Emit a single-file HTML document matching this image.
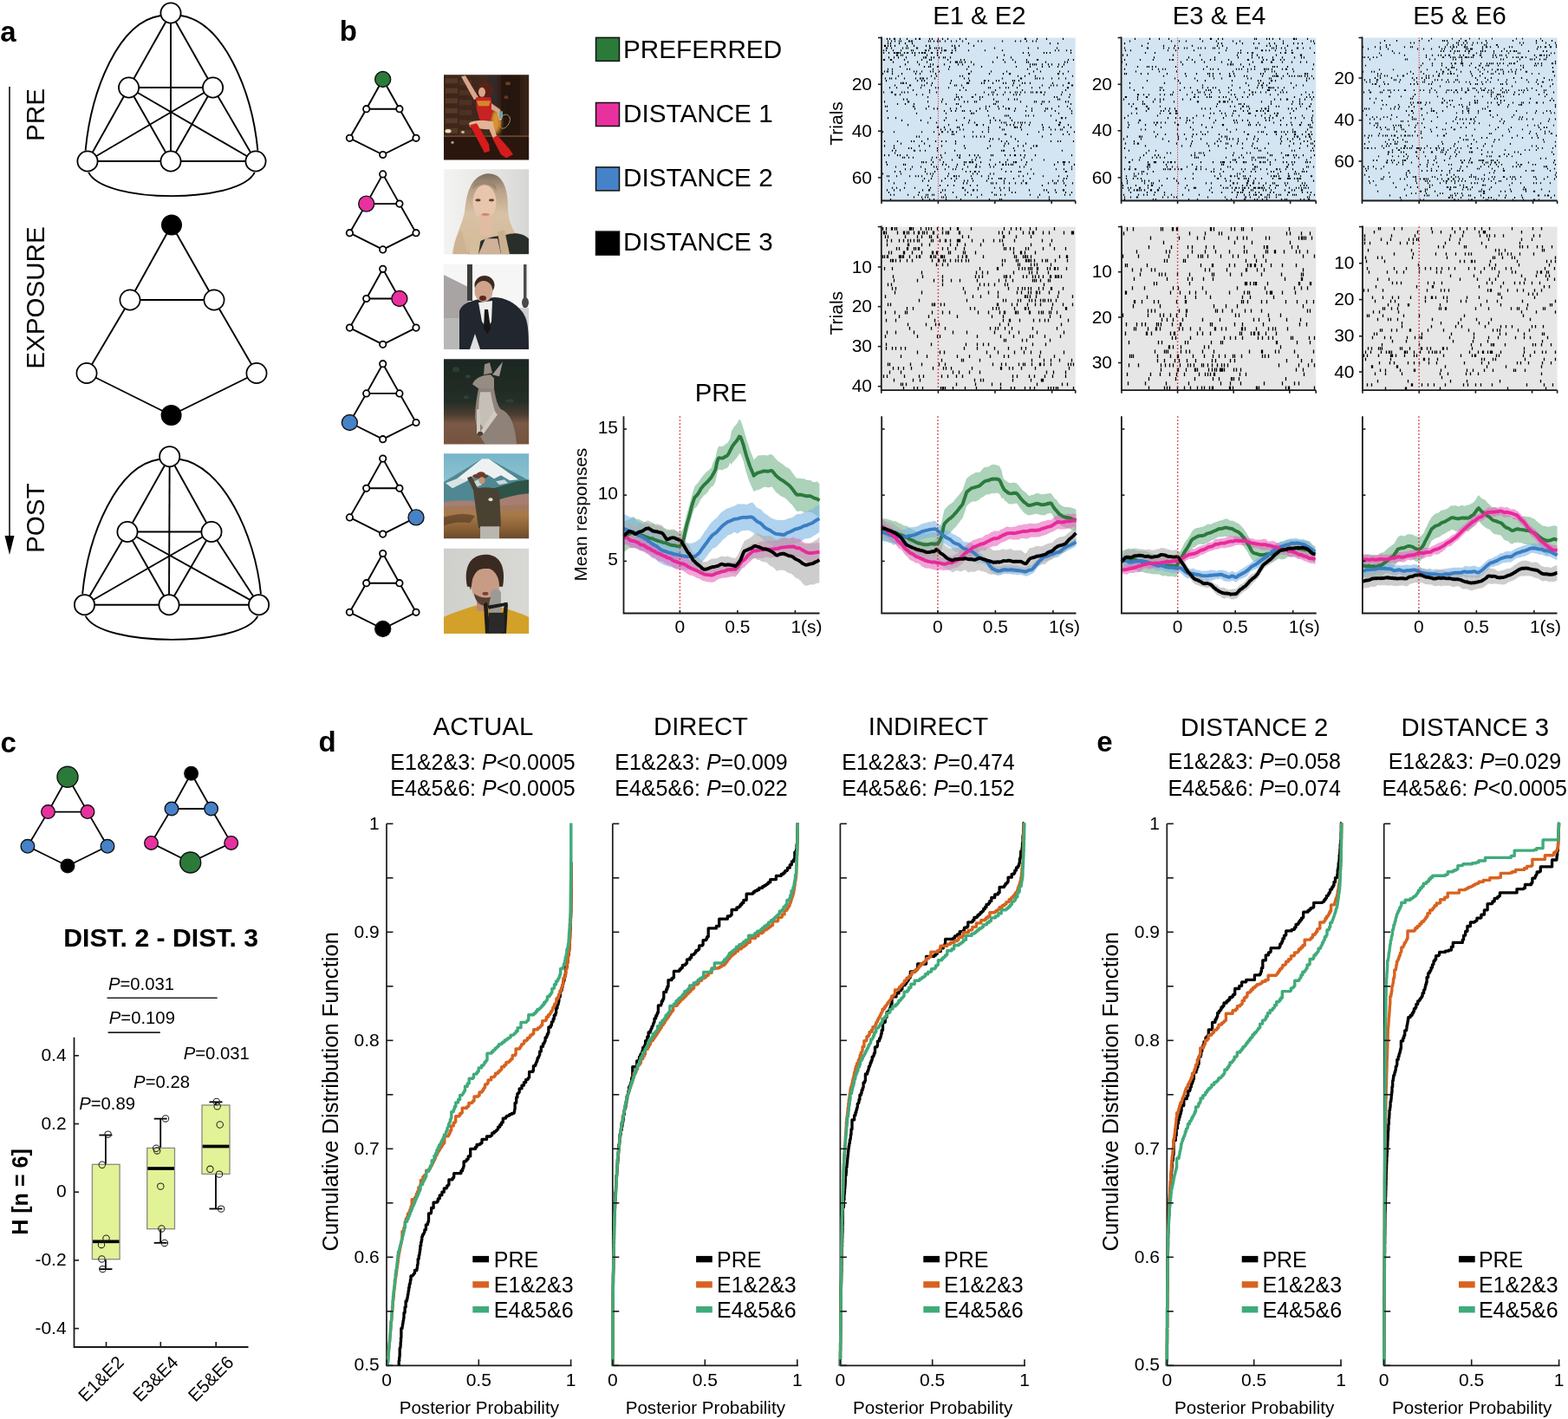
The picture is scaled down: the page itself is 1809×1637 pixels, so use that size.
<!DOCTYPE html>
<html><head><meta charset="utf-8"><title>Figure</title>
<style>html,body{margin:0;padding:0;background:#fff;overflow:hidden;}svg{display:block;}</style></head>
<body><svg width="1809" height="1637" viewBox="0 0 1809 1637" font-family='"Liberation Sans", Arial, Helvetica, sans-serif'>
<rect width="1809" height="1637" fill="#fff"/>
<text x="0.3" y="47.8" font-size="33" font-weight="bold">a</text>
<line x1="11" y1="100" x2="11" y2="622" stroke="#000" stroke-width="1.5" />
<polygon points="5.5,618 16.5,618 11,640" fill="#000"/>
<text x="51" y="132.5" font-size="29.6" text-anchor="middle" transform="rotate(-90 51 132.5)">PRE</text>
<text x="51" y="343.5" font-size="29.6" text-anchor="middle" transform="rotate(-90 51 343.5)">EXPOSURE</text>
<text x="51" y="597.8" font-size="29.6" text-anchor="middle" transform="rotate(-90 51 597.8)">POST</text>
<g stroke="#000" stroke-width="1.9" fill="none">
<line x1="197" y1="15" x2="148.6" y2="101"/>
<line x1="197" y1="15" x2="245.6" y2="101"/>
<line x1="197" y1="15" x2="197" y2="186"/>
<line x1="148.6" y1="101" x2="245.6" y2="101"/>
<line x1="148.6" y1="101" x2="101" y2="186"/>
<line x1="148.6" y1="101" x2="197" y2="186"/>
<line x1="148.6" y1="101" x2="295" y2="186"/>
<line x1="245.6" y1="101" x2="101" y2="186"/>
<line x1="245.6" y1="101" x2="197" y2="186"/>
<line x1="245.6" y1="101" x2="295" y2="186"/>
<line x1="101" y1="186" x2="197" y2="186"/>
<line x1="197" y1="186" x2="295" y2="186"/>
<path d="M185.5 18 C136.4 25 105.2 104.4 98.6 173.7"/>
<path d="M208.5 18 C257.6 25 290.8 104.4 297.4 173.7"/>
<path d="M102.2 198.9 C120 235.2 276 235.2 293.8 198.9"/>
</g>
<circle cx="197" cy="15" r="11.6" fill="#fff" stroke="#000" stroke-width="1.8"/>
<circle cx="148.6" cy="101" r="11.6" fill="#fff" stroke="#000" stroke-width="1.8"/>
<circle cx="245.6" cy="101" r="11.6" fill="#fff" stroke="#000" stroke-width="1.8"/>
<circle cx="101" cy="186" r="11.6" fill="#fff" stroke="#000" stroke-width="1.8"/>
<circle cx="197" cy="186" r="11.6" fill="#fff" stroke="#000" stroke-width="1.8"/>
<circle cx="295" cy="186" r="11.6" fill="#fff" stroke="#000" stroke-width="1.8"/>
<g stroke="#000" stroke-width="1.9">
<line x1="198" y1="259.5" x2="150" y2="346"/>
<line x1="198" y1="259.5" x2="247" y2="346"/>
<line x1="150" y1="346" x2="247" y2="346"/>
<line x1="150" y1="346" x2="100" y2="430.5"/>
<line x1="247" y1="346" x2="296" y2="430.5"/>
<line x1="100" y1="430.5" x2="197.6" y2="479"/>
<line x1="296" y1="430.5" x2="197.6" y2="479"/>
</g>
<circle cx="150" cy="346" r="11.6" fill="#fff" stroke="#000" stroke-width="1.7"/>
<circle cx="247" cy="346" r="11.6" fill="#fff" stroke="#000" stroke-width="1.7"/>
<circle cx="100" cy="430.5" r="11.6" fill="#fff" stroke="#000" stroke-width="1.7"/>
<circle cx="296" cy="430.5" r="11.6" fill="#fff" stroke="#000" stroke-width="1.7"/>
<circle cx="198" cy="259.5" r="12" fill="#000" stroke="#000" stroke-width="0"/>
<circle cx="197.6" cy="479" r="12" fill="#000" stroke="#000" stroke-width="0"/>
<g stroke="#000" stroke-width="1.9" fill="none">
<line x1="195.7" y1="526.7" x2="147" y2="613.5"/>
<line x1="195.7" y1="526.7" x2="244" y2="613.5"/>
<line x1="195.7" y1="526.7" x2="195" y2="697.7"/>
<line x1="147" y1="613.5" x2="244" y2="613.5"/>
<line x1="147" y1="613.5" x2="97.5" y2="697.7"/>
<line x1="147" y1="613.5" x2="195" y2="697.7"/>
<line x1="147" y1="613.5" x2="298.6" y2="697.7"/>
<line x1="244" y1="613.5" x2="97.5" y2="697.7"/>
<line x1="244" y1="613.5" x2="195" y2="697.7"/>
<line x1="244" y1="613.5" x2="298.6" y2="697.7"/>
<line x1="97.5" y1="697.7" x2="195" y2="697.7"/>
<line x1="195" y1="697.7" x2="298.6" y2="697.7"/>
<path d="M184.2 529.7 C135.1 536.7 101.7 616.1 95.1 685.4"/>
<path d="M207.2 529.7 C256.3 536.7 294.4 616.1 301 685.4"/>
<path d="M98.7 710.6 C116.5 746.9 279.6 746.9 297.4 710.6"/>
</g>
<circle cx="195.7" cy="526.7" r="11.6" fill="#fff" stroke="#000" stroke-width="1.8"/>
<circle cx="147" cy="613.5" r="11.6" fill="#fff" stroke="#000" stroke-width="1.8"/>
<circle cx="244" cy="613.5" r="11.6" fill="#fff" stroke="#000" stroke-width="1.8"/>
<circle cx="97.5" cy="697.7" r="11.6" fill="#fff" stroke="#000" stroke-width="1.8"/>
<circle cx="195" cy="697.7" r="11.6" fill="#fff" stroke="#000" stroke-width="1.8"/>
<circle cx="298.6" cy="697.7" r="11.6" fill="#fff" stroke="#000" stroke-width="1.8"/>
<text x="391.8" y="47.3" font-size="33" font-weight="bold">b</text>
<g stroke="#000" stroke-width="1.9">
<line x1="441.7" y1="91.5" x2="422.7" y2="125.7"/>
<line x1="441.7" y1="91.5" x2="460.9" y2="125.7"/>
<line x1="422.7" y1="125.7" x2="460.9" y2="125.7"/>
<line x1="422.7" y1="125.7" x2="403.4" y2="159.3"/>
<line x1="460.9" y1="125.7" x2="480" y2="159.3"/>
<line x1="403.4" y1="159.3" x2="441.7" y2="178.5"/>
<line x1="480" y1="159.3" x2="441.7" y2="178.5"/>
</g>
<circle cx="441.7" cy="91.5" r="9" fill="#2c7a3a" stroke="#111" stroke-width="1.4"/>
<circle cx="422.7" cy="125.7" r="3.7" fill="#fff" stroke="#000" stroke-width="1.8"/>
<circle cx="460.9" cy="125.7" r="3.7" fill="#fff" stroke="#000" stroke-width="1.8"/>
<circle cx="403.4" cy="159.3" r="3.7" fill="#fff" stroke="#000" stroke-width="1.8"/>
<circle cx="480" cy="159.3" r="3.7" fill="#fff" stroke="#000" stroke-width="1.8"/>
<circle cx="441.7" cy="178.5" r="3.7" fill="#fff" stroke="#000" stroke-width="1.8"/>
<g stroke="#000" stroke-width="1.9">
<line x1="441.7" y1="200.9" x2="422.7" y2="235.1"/>
<line x1="441.7" y1="200.9" x2="460.9" y2="235.1"/>
<line x1="422.7" y1="235.1" x2="460.9" y2="235.1"/>
<line x1="422.7" y1="235.1" x2="403.4" y2="268.7"/>
<line x1="460.9" y1="235.1" x2="480" y2="268.7"/>
<line x1="403.4" y1="268.7" x2="441.7" y2="287.9"/>
<line x1="480" y1="268.7" x2="441.7" y2="287.9"/>
</g>
<circle cx="441.7" cy="200.9" r="3.7" fill="#fff" stroke="#000" stroke-width="1.8"/>
<circle cx="422.7" cy="235.1" r="9" fill="#e8309f" stroke="#111" stroke-width="1.4"/>
<circle cx="460.9" cy="235.1" r="3.7" fill="#fff" stroke="#000" stroke-width="1.8"/>
<circle cx="403.4" cy="268.7" r="3.7" fill="#fff" stroke="#000" stroke-width="1.8"/>
<circle cx="480" cy="268.7" r="3.7" fill="#fff" stroke="#000" stroke-width="1.8"/>
<circle cx="441.7" cy="287.9" r="3.7" fill="#fff" stroke="#000" stroke-width="1.8"/>
<g stroke="#000" stroke-width="1.9">
<line x1="441.7" y1="310.3" x2="422.7" y2="344.5"/>
<line x1="441.7" y1="310.3" x2="460.9" y2="344.5"/>
<line x1="422.7" y1="344.5" x2="460.9" y2="344.5"/>
<line x1="422.7" y1="344.5" x2="403.4" y2="378.1"/>
<line x1="460.9" y1="344.5" x2="480" y2="378.1"/>
<line x1="403.4" y1="378.1" x2="441.7" y2="397.3"/>
<line x1="480" y1="378.1" x2="441.7" y2="397.3"/>
</g>
<circle cx="441.7" cy="310.3" r="3.7" fill="#fff" stroke="#000" stroke-width="1.8"/>
<circle cx="422.7" cy="344.5" r="3.7" fill="#fff" stroke="#000" stroke-width="1.8"/>
<circle cx="460.9" cy="344.5" r="9" fill="#e8309f" stroke="#111" stroke-width="1.4"/>
<circle cx="403.4" cy="378.1" r="3.7" fill="#fff" stroke="#000" stroke-width="1.8"/>
<circle cx="480" cy="378.1" r="3.7" fill="#fff" stroke="#000" stroke-width="1.8"/>
<circle cx="441.7" cy="397.3" r="3.7" fill="#fff" stroke="#000" stroke-width="1.8"/>
<g stroke="#000" stroke-width="1.9">
<line x1="441.7" y1="419.7" x2="422.7" y2="453.9"/>
<line x1="441.7" y1="419.7" x2="460.9" y2="453.9"/>
<line x1="422.7" y1="453.9" x2="460.9" y2="453.9"/>
<line x1="422.7" y1="453.9" x2="403.4" y2="487.5"/>
<line x1="460.9" y1="453.9" x2="480" y2="487.5"/>
<line x1="403.4" y1="487.5" x2="441.7" y2="506.7"/>
<line x1="480" y1="487.5" x2="441.7" y2="506.7"/>
</g>
<circle cx="441.7" cy="419.7" r="3.7" fill="#fff" stroke="#000" stroke-width="1.8"/>
<circle cx="422.7" cy="453.9" r="3.7" fill="#fff" stroke="#000" stroke-width="1.8"/>
<circle cx="460.9" cy="453.9" r="3.7" fill="#fff" stroke="#000" stroke-width="1.8"/>
<circle cx="403.4" cy="487.5" r="9" fill="#4682c8" stroke="#111" stroke-width="1.4"/>
<circle cx="480" cy="487.5" r="3.7" fill="#fff" stroke="#000" stroke-width="1.8"/>
<circle cx="441.7" cy="506.7" r="3.7" fill="#fff" stroke="#000" stroke-width="1.8"/>
<g stroke="#000" stroke-width="1.9">
<line x1="441.7" y1="529.1" x2="422.7" y2="563.3"/>
<line x1="441.7" y1="529.1" x2="460.9" y2="563.3"/>
<line x1="422.7" y1="563.3" x2="460.9" y2="563.3"/>
<line x1="422.7" y1="563.3" x2="403.4" y2="596.9"/>
<line x1="460.9" y1="563.3" x2="480" y2="596.9"/>
<line x1="403.4" y1="596.9" x2="441.7" y2="616.1"/>
<line x1="480" y1="596.9" x2="441.7" y2="616.1"/>
</g>
<circle cx="441.7" cy="529.1" r="3.7" fill="#fff" stroke="#000" stroke-width="1.8"/>
<circle cx="422.7" cy="563.3" r="3.7" fill="#fff" stroke="#000" stroke-width="1.8"/>
<circle cx="460.9" cy="563.3" r="3.7" fill="#fff" stroke="#000" stroke-width="1.8"/>
<circle cx="403.4" cy="596.9" r="3.7" fill="#fff" stroke="#000" stroke-width="1.8"/>
<circle cx="480" cy="596.9" r="9" fill="#4682c8" stroke="#111" stroke-width="1.4"/>
<circle cx="441.7" cy="616.1" r="3.7" fill="#fff" stroke="#000" stroke-width="1.8"/>
<g stroke="#000" stroke-width="1.9">
<line x1="441.7" y1="638.5" x2="422.7" y2="672.7"/>
<line x1="441.7" y1="638.5" x2="460.9" y2="672.7"/>
<line x1="422.7" y1="672.7" x2="460.9" y2="672.7"/>
<line x1="422.7" y1="672.7" x2="403.4" y2="706.3"/>
<line x1="460.9" y1="672.7" x2="480" y2="706.3"/>
<line x1="403.4" y1="706.3" x2="441.7" y2="725.5"/>
<line x1="480" y1="706.3" x2="441.7" y2="725.5"/>
</g>
<circle cx="441.7" cy="638.5" r="3.7" fill="#fff" stroke="#000" stroke-width="1.8"/>
<circle cx="422.7" cy="672.7" r="3.7" fill="#fff" stroke="#000" stroke-width="1.8"/>
<circle cx="460.9" cy="672.7" r="3.7" fill="#fff" stroke="#000" stroke-width="1.8"/>
<circle cx="403.4" cy="706.3" r="3.7" fill="#fff" stroke="#000" stroke-width="1.8"/>
<circle cx="480" cy="706.3" r="3.7" fill="#fff" stroke="#000" stroke-width="1.8"/>
<circle cx="441.7" cy="725.5" r="9" fill="#000" stroke="#111" stroke-width="1.4"/>
<rect x="687.5" y="43.4" width="27" height="27" fill="#2c7a3a" stroke="#111" stroke-width="1.5"/>
<text x="719" y="66.9" font-size="29.7">PREFERRED</text>
<rect x="687.5" y="118.5" width="27" height="27" fill="#e8309f" stroke="#111" stroke-width="1.5"/>
<text x="719" y="140.7" font-size="29.7">DISTANCE 1</text>
<rect x="687.5" y="192.9" width="27" height="27" fill="#4682c8" stroke="#111" stroke-width="1.5"/>
<text x="719" y="215.1" font-size="29.7">DISTANCE 2</text>
<rect x="687.5" y="267.1" width="27" height="27" fill="#000" stroke="#111" stroke-width="1.5"/>
<text x="719" y="289.2" font-size="29.7">DISTANCE 3</text>
<defs>
<clipPath id="phc"><rect x="0" y="0" width="98.2" height="98.2"/></clipPath>
<filter id="soft" x="-5%" y="-5%" width="110%" height="110%"><feGaussianBlur stdDeviation="0.7"/></filter>
<filter id="soft2" x="-20%" y="-20%" width="140%" height="140%"><feGaussianBlur stdDeviation="2.2"/></filter>
<linearGradient id="p1bg" x1="0" y1="0" x2="1" y2="0"><stop offset="0" stop-color="#3b2519"/><stop offset="0.5" stop-color="#43291c"/><stop offset="0.75" stop-color="#2a1a14"/><stop offset="1" stop-color="#3a2218"/></linearGradient>
<linearGradient id="p2bg" x1="0" y1="0" x2="1" y2="0"><stop offset="0" stop-color="#f4f4f2"/><stop offset="0.6" stop-color="#e4e4e2"/><stop offset="1" stop-color="#d6d6d4"/></linearGradient>
<linearGradient id="p2hair" x1="0" y1="0" x2="0" y2="1"><stop offset="0" stop-color="#7d6d5e"/><stop offset="0.2" stop-color="#b8a088"/><stop offset="0.5" stop-color="#d8c2a4"/><stop offset="1" stop-color="#d2b898"/></linearGradient>
<linearGradient id="p4bg" x1="0" y1="0" x2="0" y2="1"><stop offset="0" stop-color="#1d2721"/><stop offset="0.5" stop-color="#222e27"/><stop offset="0.64" stop-color="#4a3c30"/><stop offset="0.75" stop-color="#7a5a46"/><stop offset="1" stop-color="#74543f"/></linearGradient>
<linearGradient id="p5sky" x1="0" y1="0" x2="0" y2="1"><stop offset="0" stop-color="#74b4c8"/><stop offset="1" stop-color="#c4dde2"/></linearGradient>
<linearGradient id="p5gr" x1="0" y1="0" x2="0" y2="1"><stop offset="0" stop-color="#a07868"/><stop offset="0.3" stop-color="#a87a48"/><stop offset="0.7" stop-color="#8a6036"/><stop offset="1" stop-color="#6a4a2c"/></linearGradient>
<linearGradient id="p6bg" x1="0" y1="0" x2="1" y2="0"><stop offset="0" stop-color="#cfd0cc"/><stop offset="1" stop-color="#d8d8d4"/></linearGradient>
</defs>
<g transform="translate(512 86.3)"><g clip-path="url(#phc)"><g filter="url(#soft)"><rect x="-2" y="-2" width="102" height="102" fill="url(#p1bg)" /><rect x="2" y="4.0" width="14" height="6" fill="#5c3d2a" opacity="0.75"/><rect x="18" y="6.0" width="14" height="6" fill="#553626" opacity="0.7"/><rect x="2" y="15.5" width="14" height="6" fill="#5c3d2a" opacity="0.75"/><rect x="18" y="17.5" width="14" height="6" fill="#553626" opacity="0.7"/><rect x="2" y="27.0" width="14" height="6" fill="#5c3d2a" opacity="0.75"/><rect x="18" y="29.0" width="14" height="6" fill="#553626" opacity="0.7"/><rect x="2" y="38.5" width="14" height="6" fill="#5c3d2a" opacity="0.75"/><rect x="18" y="40.5" width="14" height="6" fill="#553626" opacity="0.7"/><rect x="2" y="50.0" width="14" height="6" fill="#5c3d2a" opacity="0.75"/><rect x="18" y="52.0" width="14" height="6" fill="#553626" opacity="0.7"/><rect x="2" y="61.5" width="14" height="6" fill="#5c3d2a" opacity="0.75"/><rect x="18" y="63.5" width="14" height="6" fill="#553626" opacity="0.7"/><rect x="52" y="0" width="10" height="40" fill="#2e2a30" opacity="0.8"/><rect x="66" y="0" width="22" height="70" fill="#22160f" opacity="0.7"/><ellipse cx="74" cy="10" rx="3" ry="2" fill="#8a5030" opacity="0.7"/><ellipse cx="72" cy="26" rx="2.5" ry="2" fill="#7a4428" opacity="0.7"/><rect x="-2" y="70" width="102" height="30" fill="#2c170e" /><rect x="-2" y="70" width="102" height="1.6" fill="#6e4a34" /><ellipse cx="5" cy="65" rx="3.5" ry="2.2" fill="#e8dcc0" /><ellipse cx="22" cy="66" rx="2" ry="1.6" fill="#c8b8a0" /><ellipse cx="10" cy="78" rx="1.6" ry="1.6" fill="#b0a090" /><g filter="url(#soft2)"><ellipse cx="60" cy="54" rx="6" ry="14" fill="#f0a030" opacity="0.9"/></g><path d="M20 2 L25 1 L40 26 L35 29 Z" fill="#d8a68a" /><ellipse cx="48" cy="18" rx="9" ry="9" fill="#5a2418" /><ellipse cx="44" cy="20" rx="4" ry="5.5" fill="#d8a88c" /><path d="M37 26 L54 26 L57 40 L54 52 L42 54 L38 40 Z" fill="#c82420" /><path d="M38 30 L54 30 L52 36 L40 36 Z" fill="#d8a030" opacity="0.8"/><path d="M55 33 L65 40 L67 52 L64 53 L61 43 L55 40 Z" fill="#d8a68a" /><rect x="64" y="42" width="4" height="8" fill="#6aa0b0" /><path d="M29 56 C32 52 46 52 57 54 L58 62 C50 64 36 62 30 60 Z" fill="#e2b496" /><path d="M30 58 L38 56 L52 80 L53 88 L47 90 Z" fill="#d41c1c" /><path d="M52 62 L58 60 L62 74 L58 76 Z" fill="#e0b090" /><path d="M56 73 L62 70 L76 86 L80 92 L72 96 L66 92 Z" fill="#d41c1c" /><path d="M66 48 c8 -6 14 2 8 10 c-6 8 -12 2 -8 -4" fill="none" stroke="#d0b070" stroke-width="0.8"/></g></g></g>
<g transform="translate(512 195.3)"><g clip-path="url(#phc)"><g filter="url(#soft)"><rect x="-2" y="-2" width="102" height="102" fill="url(#p2bg)" /><path d="M10 98 C12 80 20 66 24 50 C26 30 30 8 50 5 C70 4 74 26 74 44 C74 60 80 72 88 80 L88 98 Z" fill="url(#p2hair)" /><path d="M12 98 C10 86 16 76 20 70 L28 98 Z" fill="#cdb391" /><path d="M28 98 C32 84 50 78 70 76 C82 72 92 74 98 80 L98 98 Z" fill="#2c2e2a" /><path d="M40 98 L48 80 L62 80 L66 98 Z" fill="#e2c0a6" opacity="0.9"/><path d="M28 98 L36 70 L44 72 L40 98 Z" fill="#d6be9c" /><path d="M66 98 L62 72 L70 70 L76 98 Z" fill="#cbb090" /><ellipse cx="47" cy="38" rx="13.5" ry="20" fill="#e8c6ae" /><rect x="41" y="52" width="14" height="24" fill="#e2bca2" /><path d="M33 24 C38 14 56 14 61 26 L60 20 C56 10 38 10 34 20 Z" fill="#9a8670" /><ellipse cx="39.5" cy="35.5" rx="3" ry="1.6" fill="#5a4034" /><ellipse cx="55" cy="35.5" rx="3" ry="1.6" fill="#5a4034" /><ellipse cx="48" cy="52" rx="4.5" ry="1.6" fill="#c88a7c" /></g></g></g>
<g transform="translate(512 305)"><g clip-path="url(#phc)"><g filter="url(#soft)"><rect x="-2" y="-2" width="102" height="102" fill="#f6f6f6" /><path d="M0 12 L28 26 L32 98 L0 98 Z" fill="#a8a4a4" /><rect x="0" y="62" width="30" height="36" fill="#b8b8b8" /><rect x="27" y="0" width="6" height="42" fill="#3e3c3a" /><rect x="92" y="0" width="3.5" height="62" fill="#4e4e4e" /><ellipse cx="94" cy="44" rx="4" ry="6" fill="#4a4a4a" /><rect x="80" y="50" width="18" height="48" fill="#d0d0d0" /><path d="M18 98 L18 54 C20 46 30 42 42 40 L58 38 C70 38 82 44 90 54 C96 62 98 70 98 98 Z" fill="#22252e" /><path d="M40 44 L56 42 L55 66 L50 74 L44 66 Z" fill="#efefef" /><path d="M47 52 L51 52 L54 74 L50 80 L46 74 Z" fill="#151515" /><ellipse cx="47" cy="24" rx="11.5" ry="11" fill="#3a2c24" /><ellipse cx="46" cy="31" rx="10.5" ry="12" fill="#d0a48c" /><ellipse cx="45" cy="39" rx="4" ry="3" fill="#5e2820" /><path d="M30 98 L36 80 L42 98 Z" fill="#e0e0e0" /></g></g></g>
<g transform="translate(512 414.2)"><g clip-path="url(#phc)"><g filter="url(#soft)"><rect x="-2" y="-2" width="102" height="102" fill="url(#p4bg)" /><ellipse cx="14" cy="12" rx="4" ry="3" fill="#3a4a40" opacity="0.6"/><ellipse cx="28" cy="20" rx="3" ry="2" fill="#3e4e44" opacity="0.6"/><ellipse cx="26" cy="44" rx="3" ry="2" fill="#3e4e44" opacity="0.6"/><ellipse cx="76" cy="48" rx="5" ry="2" fill="#3a4a40" opacity="0.6"/><path d="M46 18 L47 6 L53 4 L56 16 Z" fill="#948a82" /><path d="M56 18 L68 3 L64 20 Z" fill="#a29a92" /><path d="M33 29 C36 22 44 18 54 18 L58 22 L58 36 L48 36 L40 34 Z" fill="#958c84" /><path d="M40 34 L58 34 C60 46 62 54 66 58 C76 62 82 74 84 98 L48 98 C42 92 38 80 36 68 C36 56 38 44 40 34 Z" fill="#8e8279" /><path d="M42 38 L54 38 C56 50 58 58 60 62 L46 80 L40 72 C40 60 40 48 42 38 Z" fill="#c6bfb7" /><path d="M38 58 L42 58 L42 86 L38 86 Z" fill="#d0c8c0" /><path d="M58 60 L62 64 L46 86 L42 84 Z" fill="#d2cac2" /><ellipse cx="42" cy="86" rx="3" ry="2.5" fill="#4a3e36" /></g></g></g>
<g transform="translate(512 523.3)"><g clip-path="url(#phc)"><g filter="url(#soft)"><rect x="-2" y="-2" width="102" height="102" fill="url(#p5sky)" /><path d="M-2 34 L44 6 L52 6 L100 32 L100 98 L-2 98 Z" fill="#4f8892" /><path d="M14 30 L44 6 L52 6 L86 30 L76 31 L66 25 L58 29 L50 24 L42 30 L32 27 L24 33 Z" fill="#eef1f2" /><path d="M2 34 L18 28 L28 31 L10 40 Z" fill="#d8e4e6" /><path d="M30 34 L40 30 L44 36 L34 40 Z" fill="#c8d8dc" /><path d="M60 32 L70 30 L74 34 L64 36 Z" fill="#c8d8dc" /><path d="M58 40 L84 32 L100 30 L100 56 L58 56 Z" fill="#2f5246" /><path d="M-2 56 C20 52 40 56 60 54 C75 50 88 46 100 46 L100 62 L-2 64 Z" fill="#a67e72" /><path d="M-2 62 C30 58 60 62 100 58 L100 98 L-2 98 Z" fill="url(#p5gr)" /><path d="M-2 74 C12 70 24 68 36 72 L30 80 C18 78 8 80 -2 84 Z" fill="#5a3e28" opacity="0.7"/><path d="M34 42 C40 38 56 38 64 42 L66 84 L40 86 Z" fill="#4a4232" /><path d="M34 42 L27 28 L32 26 L40 42 Z" fill="#4a4232" /><rect x="42" y="84" width="22" height="16" fill="#b8b6ae" /><ellipse cx="42" cy="26" rx="9" ry="3" fill="#6a3e2a" /><ellipse cx="43" cy="24" rx="5" ry="3" fill="#6a3e2a" /><ellipse cx="44" cy="31" rx="3.5" ry="4" fill="#c49474" /><ellipse cx="54" cy="53" rx="2.5" ry="2" fill="#e0e0d8" /></g></g></g>
<g transform="translate(512 632.8)"><g clip-path="url(#phc)"><g filter="url(#soft)"><rect x="-2" y="-2" width="102" height="102" fill="url(#p6bg)" /><path d="M-2 80 C10 74 24 70 36 66 L60 66 C74 70 88 74 100 80 L100 100 L-2 100 Z" fill="#d3a12a" /><rect x="38" y="56" width="20" height="16" fill="#b88a70" /><path d="M27 44 C22 20 32 6 50 7 C64 8 72 20 68 44 Z" fill="#3a2a20" /><ellipse cx="48" cy="43" rx="16" ry="21" fill="#c89c84" /><path d="M31 30 C36 22 60 20 66 30 L64 22 C56 14 40 14 32 22 Z" fill="#3a2a20" /><path d="M27 36 L31 48 L33 34 Z" fill="#3a2a20" /><path d="M66 30 L68 42 L64 36 Z" fill="#3a2a20" /><path d="M35 52 C36 62 44 68 52 66 L54 56 C48 58 40 56 35 52 Z" fill="#5a4032" /><ellipse cx="48" cy="52" rx="3.5" ry="2" fill="#7a4036" /><rect x="54" y="47" width="12" height="30" fill="#9a9a96" rx="5"/><path d="M46 64 L50 62 L54 98 L48 98 Z" fill="#1c1c1c" /><path d="M70 62 L74 64 L72 98 L66 98 Z" fill="#1c1c1c" /><rect x="52" y="74" width="18" height="24" fill="#2a2a2a" /><path d="M50 66 L74 62 L72 66 L52 70 Z" fill="#1c1c1c" /></g></g></g>
<rect x="1017" y="43.5" width="223.7" height="188" fill="#d3e5f2"/>
<path d="M1023.5 43.8v2.1M1023.5 43.8v2.1M1026.5 43.8v2.1M1031.5 43.8v2.1M1032.5 43.8v2.1M1038.5 43.8v2.1M1046.5 43.8v2.1M1056.5 43.8v2.1M1060.5 43.8v2.1M1061.5 43.8v2.1M1072.5 43.8v2.1M1075.5 43.8v2.1M1082.5 43.8v2.1M1087.5 43.8v2.1M1087.5 43.8v2.1M1093.5 43.8v2.1M1107.5 43.8v2.1M1114.5 43.8v2.1M1182.5 43.8v2.1M1183.5 43.8v2.1M1196.5 43.8v2.1M1207.5 43.8v2.1M1226.5 43.8v2.1M1024.5 46.5v2.1M1028.5 46.5v2.1M1032.5 46.5v2.1M1037.5 46.5v2.1M1039.5 46.5v2.1M1048.5 46.5v2.1M1049.5 46.5v2.1M1051.5 46.5v2.1M1052.5 46.5v2.1M1071.5 46.5v2.1M1073.5 46.5v2.1M1077.5 46.5v2.1M1081.5 46.5v2.1M1082.5 46.5v2.1M1084.5 46.5v2.1M1090.5 46.5v2.1M1097.5 46.5v2.1M1103.5 46.5v2.1M1110.5 46.5v2.1M1128.5 46.5v2.1M1132.5 46.5v2.1M1156.5 46.5v2.1M1171.5 46.5v2.1M1177.5 46.5v2.1M1184.5 46.5v2.1M1191.5 46.5v2.1M1195.5 46.5v2.1M1195.5 46.5v2.1M1024.5 49.1v2.1M1027.5 49.1v2.1M1037.5 49.1v2.1M1044.5 49.1v2.1M1052.5 49.1v2.1M1117.5 49.1v2.1M1211.5 49.1v2.1M1220.5 49.1v2.1M1020.5 51.8v2.1M1021.5 51.8v2.1M1024.5 51.8v2.1M1024.5 51.8v2.1M1027.5 51.8v2.1M1032.5 51.8v2.1M1046.5 51.8v2.1M1054.5 51.8v2.1M1068.5 51.8v2.1M1072.5 51.8v2.1M1098.5 51.8v2.1M1101.5 51.8v2.1M1106.5 51.8v2.1M1123.5 51.8v2.1M1022.5 54.5v2.1M1023.5 54.5v2.1M1028.5 54.5v2.1M1041.5 54.5v2.1M1045.5 54.5v2.1M1047.5 54.5v2.1M1057.5 54.5v2.1M1058.5 54.5v2.1M1072.5 54.5v2.1M1073.5 54.5v2.1M1078.5 54.5v2.1M1078.5 54.5v2.1M1080.5 54.5v2.1M1083.5 54.5v2.1M1086.5 54.5v2.1M1101.5 54.5v2.1M1102.5 54.5v2.1M1147.5 54.5v2.1M1186.5 54.5v2.1M1197.5 54.5v2.1M1219.5 54.5v2.1M1019.5 57.2v2.1M1022.5 57.2v2.1M1022.5 57.2v2.1M1030.5 57.2v2.1M1039.5 57.2v2.1M1051.5 57.2v2.1M1053.5 57.2v2.1M1053.5 57.2v2.1M1067.5 57.2v2.1M1068.5 57.2v2.1M1068.5 57.2v2.1M1071.5 57.2v2.1M1081.5 57.2v2.1M1081.5 57.2v2.1M1086.5 57.2v2.1M1089.5 57.2v2.1M1090.5 57.2v2.1M1091.5 57.2v2.1M1091.5 57.2v2.1M1098.5 57.2v2.1M1098.5 57.2v2.1M1102.5 57.2v2.1M1117.5 57.2v2.1M1136.5 57.2v2.1M1156.5 57.2v2.1M1217.5 57.2v2.1M1221.5 57.2v2.1M1230.5 57.2v2.1M1235.5 57.2v2.1M1235.5 57.2v2.1M1019.5 59.9v2.1M1019.5 59.9v2.1M1025.5 59.9v2.1M1031.5 59.9v2.1M1032.5 59.9v2.1M1034.5 59.9v2.1M1035.5 59.9v2.1M1036.5 59.9v2.1M1036.5 59.9v2.1M1038.5 59.9v2.1M1043.5 59.9v2.1M1043.5 59.9v2.1M1046.5 59.9v2.1M1047.5 59.9v2.1M1052.5 59.9v2.1M1055.5 59.9v2.1M1055.5 59.9v2.1M1060.5 59.9v2.1M1063.5 59.9v2.1M1064.5 59.9v2.1M1066.5 59.9v2.1M1067.5 59.9v2.1M1074.5 59.9v2.1M1075.5 59.9v2.1M1075.5 59.9v2.1M1081.5 59.9v2.1M1085.5 59.9v2.1M1097.5 59.9v2.1M1098.5 59.9v2.1M1098.5 59.9v2.1M1180.5 59.9v2.1M1186.5 59.9v2.1M1204.5 59.9v2.1M1207.5 59.9v2.1M1211.5 59.9v2.1M1235.5 59.9v2.1M1034.5 62.6v2.1M1035.5 62.6v2.1M1035.5 62.6v2.1M1039.5 62.6v2.1M1041.5 62.6v2.1M1055.5 62.6v2.1M1069.5 62.6v2.1M1081.5 62.6v2.1M1158.5 62.6v2.1M1187.5 62.6v2.1M1025.5 65.3v2.1M1031.5 65.3v2.1M1036.5 65.3v2.1M1045.5 65.3v2.1M1065.5 65.3v2.1M1067.5 65.3v2.1M1068.5 65.3v2.1M1068.5 65.3v2.1M1074.5 65.3v2.1M1077.5 65.3v2.1M1083.5 65.3v2.1M1088.5 65.3v2.1M1090.5 65.3v2.1M1096.5 65.3v2.1M1150.5 65.3v2.1M1166.5 65.3v2.1M1019.5 67.9v2.1M1020.5 67.9v2.1M1027.5 67.9v2.1M1028.5 67.9v2.1M1043.5 67.9v2.1M1063.5 67.9v2.1M1072.5 67.9v2.1M1074.5 67.9v2.1M1093.5 67.9v2.1M1108.5 67.9v2.1M1112.5 67.9v2.1M1157.5 67.9v2.1M1168.5 67.9v2.1M1184.5 67.9v2.1M1196.5 67.9v2.1M1197.5 67.9v2.1M1232.5 67.9v2.1M1232.5 67.9v2.1M1238.5 67.9v2.1M1030.5 70.6v2.1M1047.5 70.6v2.1M1058.5 70.6v2.1M1069.5 70.6v2.1M1096.5 70.6v2.1M1102.5 70.6v2.1M1103.5 70.6v2.1M1104.5 70.6v2.1M1107.5 70.6v2.1M1109.5 70.6v2.1M1113.5 70.6v2.1M1120.5 70.6v2.1M1145.5 70.6v2.1M1159.5 70.6v2.1M1171.5 70.6v2.1M1184.5 70.6v2.1M1186.5 70.6v2.1M1206.5 70.6v2.1M1228.5 70.6v2.1M1231.5 70.6v2.1M1044.5 73.3v2.1M1060.5 73.3v2.1M1073.5 73.3v2.1M1076.5 73.3v2.1M1089.5 73.3v2.1M1105.5 73.3v2.1M1110.5 73.3v2.1M1123.5 73.3v2.1M1188.5 73.3v2.1M1191.5 73.3v2.1M1193.5 73.3v2.1M1195.5 73.3v2.1M1202.5 73.3v2.1M1209.5 73.3v2.1M1213.5 73.3v2.1M1221.5 73.3v2.1M1221.5 73.3v2.1M1227.5 73.3v2.1M1038.5 76v2.1M1066.5 76v2.1M1071.5 76v2.1M1073.5 76v2.1M1081.5 76v2.1M1082.5 76v2.1M1095.5 76v2.1M1117.5 76v2.1M1132.5 76v2.1M1172.5 76v2.1M1188.5 76v2.1M1202.5 76v2.1M1202.5 76v2.1M1210.5 76v2.1M1220.5 76v2.1M1225.5 76v2.1M1024.5 78.7v2.1M1029.5 78.7v2.1M1046.5 78.7v2.1M1049.5 78.7v2.1M1076.5 78.7v2.1M1094.5 78.7v2.1M1115.5 78.7v2.1M1185.5 78.7v2.1M1196.5 78.7v2.1M1020.5 81.4v2.1M1023.5 81.4v2.1M1024.5 81.4v2.1M1024.5 81.4v2.1M1029.5 81.4v2.1M1054.5 81.4v2.1M1057.5 81.4v2.1M1063.5 81.4v2.1M1073.5 81.4v2.1M1076.5 81.4v2.1M1083.5 81.4v2.1M1120.5 81.4v2.1M1143.5 81.4v2.1M1161.5 81.4v2.1M1192.5 81.4v2.1M1200.5 81.4v2.1M1222.5 81.4v2.1M1232.5 81.4v2.1M1018.5 84.1v2.1M1029.5 84.1v2.1M1040.5 84.1v2.1M1056.5 84.1v2.1M1061.5 84.1v2.1M1079.5 84.1v2.1M1117.5 84.1v2.1M1118.5 84.1v2.1M1141.5 84.1v2.1M1157.5 84.1v2.1M1164.5 84.1v2.1M1165.5 84.1v2.1M1187.5 84.1v2.1M1220.5 84.1v2.1M1221.5 84.1v2.1M1226.5 84.1v2.1M1036.5 86.7v2.1M1074.5 86.7v2.1M1080.5 86.7v2.1M1107.5 86.7v2.1M1110.5 86.7v2.1M1174.5 86.7v2.1M1182.5 86.7v2.1M1194.5 86.7v2.1M1237.5 86.7v2.1M1021.5 89.4v2.1M1021.5 89.4v2.1M1026.5 89.4v2.1M1028.5 89.4v2.1M1033.5 89.4v2.1M1043.5 89.4v2.1M1056.5 89.4v2.1M1061.5 89.4v2.1M1062.5 89.4v2.1M1064.5 89.4v2.1M1065.5 89.4v2.1M1069.5 89.4v2.1M1078.5 89.4v2.1M1112.5 89.4v2.1M1117.5 89.4v2.1M1156.5 89.4v2.1M1177.5 89.4v2.1M1178.5 89.4v2.1M1194.5 89.4v2.1M1196.5 89.4v2.1M1199.5 89.4v2.1M1203.5 89.4v2.1M1213.5 89.4v2.1M1221.5 89.4v2.1M1229.5 89.4v2.1M1022.5 92.1v2.1M1058.5 92.1v2.1M1063.5 92.1v2.1M1066.5 92.1v2.1M1097.5 92.1v2.1M1118.5 92.1v2.1M1135.5 92.1v2.1M1136.5 92.1v2.1M1140.5 92.1v2.1M1149.5 92.1v2.1M1152.5 92.1v2.1M1168.5 92.1v2.1M1170.5 92.1v2.1M1175.5 92.1v2.1M1039.5 94.8v2.1M1039.5 94.8v2.1M1041.5 94.8v2.1M1042.5 94.8v2.1M1045.5 94.8v2.1M1045.5 94.8v2.1M1069.5 94.8v2.1M1075.5 94.8v2.1M1096.5 94.8v2.1M1115.5 94.8v2.1M1116.5 94.8v2.1M1117.5 94.8v2.1M1132.5 94.8v2.1M1135.5 94.8v2.1M1135.5 94.8v2.1M1145.5 94.8v2.1M1157.5 94.8v2.1M1160.5 94.8v2.1M1169.5 94.8v2.1M1179.5 94.8v2.1M1182.5 94.8v2.1M1188.5 94.8v2.1M1214.5 94.8v2.1M1232.5 94.8v2.1M1233.5 94.8v2.1M1032.5 97.5v2.1M1049.5 97.5v2.1M1050.5 97.5v2.1M1063.5 97.5v2.1M1066.5 97.5v2.1M1074.5 97.5v2.1M1101.5 97.5v2.1M1103.5 97.5v2.1M1109.5 97.5v2.1M1168.5 97.5v2.1M1176.5 97.5v2.1M1202.5 97.5v2.1M1212.5 97.5v2.1M1215.5 97.5v2.1M1219.5 97.5v2.1M1226.5 97.5v2.1M1236.5 97.5v2.1M1237.5 97.5v2.1M1026.5 100.2v2.1M1034.5 100.2v2.1M1047.5 100.2v2.1M1062.5 100.2v2.1M1079.5 100.2v2.1M1082.5 100.2v2.1M1094.5 100.2v2.1M1111.5 100.2v2.1M1140.5 100.2v2.1M1142.5 100.2v2.1M1153.5 100.2v2.1M1160.5 100.2v2.1M1163.5 100.2v2.1M1173.5 100.2v2.1M1190.5 100.2v2.1M1199.5 100.2v2.1M1210.5 100.2v2.1M1231.5 100.2v2.1M1231.5 100.2v2.1M1232.5 100.2v2.1M1053.5 102.9v2.1M1072.5 102.9v2.1M1107.5 102.9v2.1M1114.5 102.9v2.1M1148.5 102.9v2.1M1179.5 102.9v2.1M1229.5 102.9v2.1M1019.5 105.5v2.1M1028.5 105.5v2.1M1029.5 105.5v2.1M1029.5 105.5v2.1M1040.5 105.5v2.1M1043.5 105.5v2.1M1047.5 105.5v2.1M1072.5 105.5v2.1M1080.5 105.5v2.1M1135.5 105.5v2.1M1144.5 105.5v2.1M1146.5 105.5v2.1M1159.5 105.5v2.1M1165.5 105.5v2.1M1171.5 105.5v2.1M1173.5 105.5v2.1M1177.5 105.5v2.1M1182.5 105.5v2.1M1189.5 105.5v2.1M1191.5 105.5v2.1M1195.5 105.5v2.1M1196.5 105.5v2.1M1200.5 105.5v2.1M1201.5 105.5v2.1M1205.5 105.5v2.1M1225.5 105.5v2.1M1032.5 108.2v2.1M1033.5 108.2v2.1M1038.5 108.2v2.1M1057.5 108.2v2.1M1064.5 108.2v2.1M1103.5 108.2v2.1M1125.5 108.2v2.1M1140.5 108.2v2.1M1145.5 108.2v2.1M1150.5 108.2v2.1M1157.5 108.2v2.1M1169.5 108.2v2.1M1172.5 108.2v2.1M1176.5 108.2v2.1M1204.5 108.2v2.1M1204.5 108.2v2.1M1224.5 108.2v2.1M1234.5 108.2v2.1M1070.5 110.9v2.1M1103.5 110.9v2.1M1105.5 110.9v2.1M1109.5 110.9v2.1M1109.5 110.9v2.1M1121.5 110.9v2.1M1122.5 110.9v2.1M1122.5 110.9v2.1M1130.5 110.9v2.1M1133.5 110.9v2.1M1216.5 110.9v2.1M1219.5 110.9v2.1M1233.5 110.9v2.1M1042.5 113.6v2.1M1046.5 113.6v2.1M1087.5 113.6v2.1M1087.5 113.6v2.1M1101.5 113.6v2.1M1106.5 113.6v2.1M1130.5 113.6v2.1M1146.5 113.6v2.1M1163.5 113.6v2.1M1170.5 113.6v2.1M1173.5 113.6v2.1M1220.5 113.6v2.1M1222.5 113.6v2.1M1222.5 113.6v2.1M1020.5 116.3v2.1M1047.5 116.3v2.1M1048.5 116.3v2.1M1070.5 116.3v2.1M1086.5 116.3v2.1M1112.5 116.3v2.1M1116.5 116.3v2.1M1124.5 116.3v2.1M1126.5 116.3v2.1M1149.5 116.3v2.1M1151.5 116.3v2.1M1177.5 116.3v2.1M1193.5 116.3v2.1M1195.5 116.3v2.1M1202.5 116.3v2.1M1204.5 116.3v2.1M1204.5 116.3v2.1M1210.5 116.3v2.1M1229.5 116.3v2.1M1232.5 116.3v2.1M1035.5 119v2.1M1044.5 119v2.1M1054.5 119v2.1M1091.5 119v2.1M1103.5 119v2.1M1105.5 119v2.1M1105.5 119v2.1M1146.5 119v2.1M1148.5 119v2.1M1201.5 119v2.1M1235.5 119v2.1M1021.5 121.7v2.1M1023.5 121.7v2.1M1053.5 121.7v2.1M1054.5 121.7v2.1M1054.5 121.7v2.1M1071.5 121.7v2.1M1108.5 121.7v2.1M1137.5 121.7v2.1M1141.5 121.7v2.1M1151.5 121.7v2.1M1157.5 121.7v2.1M1184.5 121.7v2.1M1221.5 121.7v2.1M1221.5 121.7v2.1M1231.5 121.7v2.1M1055.5 124.3v2.1M1068.5 124.3v2.1M1077.5 124.3v2.1M1081.5 124.3v2.1M1096.5 124.3v2.1M1103.5 124.3v2.1M1130.5 124.3v2.1M1137.5 124.3v2.1M1152.5 124.3v2.1M1160.5 124.3v2.1M1163.5 124.3v2.1M1164.5 124.3v2.1M1171.5 124.3v2.1M1190.5 124.3v2.1M1206.5 124.3v2.1M1208.5 124.3v2.1M1213.5 124.3v2.1M1234.5 124.3v2.1M1023.5 127v2.1M1089.5 127v2.1M1097.5 127v2.1M1102.5 127v2.1M1110.5 127v2.1M1112.5 127v2.1M1119.5 127v2.1M1126.5 127v2.1M1139.5 127v2.1M1170.5 127v2.1M1183.5 127v2.1M1190.5 127v2.1M1205.5 127v2.1M1217.5 127v2.1M1236.5 127v2.1M1057.5 129.7v2.1M1091.5 129.7v2.1M1120.5 129.7v2.1M1121.5 129.7v2.1M1123.5 129.7v2.1M1221.5 129.7v2.1M1236.5 129.7v2.1M1140.5 132.4v2.1M1159.5 132.4v2.1M1161.5 132.4v2.1M1163.5 132.4v2.1M1183.5 132.4v2.1M1186.5 132.4v2.1M1186.5 132.4v2.1M1192.5 132.4v2.1M1212.5 132.4v2.1M1024.5 135.1v2.1M1033.5 135.1v2.1M1073.5 135.1v2.1M1091.5 135.1v2.1M1112.5 135.1v2.1M1146.5 135.1v2.1M1165.5 135.1v2.1M1224.5 135.1v2.1M1225.5 135.1v2.1M1229.5 135.1v2.1M1040.5 137.8v2.1M1062.5 137.8v2.1M1089.5 137.8v2.1M1103.5 137.8v2.1M1118.5 137.8v2.1M1142.5 137.8v2.1M1148.5 137.8v2.1M1153.5 137.8v2.1M1167.5 137.8v2.1M1167.5 137.8v2.1M1218.5 137.8v2.1M1070.5 140.5v2.1M1080.5 140.5v2.1M1117.5 140.5v2.1M1124.5 140.5v2.1M1142.5 140.5v2.1M1155.5 140.5v2.1M1158.5 140.5v2.1M1158.5 140.5v2.1M1160.5 140.5v2.1M1170.5 140.5v2.1M1174.5 140.5v2.1M1177.5 140.5v2.1M1179.5 140.5v2.1M1182.5 140.5v2.1M1188.5 140.5v2.1M1222.5 140.5v2.1M1223.5 140.5v2.1M1047.5 143.1v2.1M1094.5 143.1v2.1M1110.5 143.1v2.1M1126.5 143.1v2.1M1127.5 143.1v2.1M1134.5 143.1v2.1M1161.5 143.1v2.1M1165.5 143.1v2.1M1169.5 143.1v2.1M1178.5 143.1v2.1M1187.5 143.1v2.1M1202.5 143.1v2.1M1221.5 143.1v2.1M1222.5 143.1v2.1M1232.5 143.1v2.1M1081.5 145.8v2.1M1082.5 145.8v2.1M1089.5 145.8v2.1M1104.5 145.8v2.1M1106.5 145.8v2.1M1140.5 145.8v2.1M1153.5 145.8v2.1M1170.5 145.8v2.1M1171.5 145.8v2.1M1173.5 145.8v2.1M1177.5 145.8v2.1M1203.5 145.8v2.1M1210.5 145.8v2.1M1227.5 145.8v2.1M1235.5 145.8v2.1M1085.5 148.5v2.1M1090.5 148.5v2.1M1096.5 148.5v2.1M1107.5 148.5v2.1M1111.5 148.5v2.1M1140.5 148.5v2.1M1140.5 148.5v2.1M1156.5 148.5v2.1M1158.5 148.5v2.1M1158.5 148.5v2.1M1158.5 148.5v2.1M1178.5 148.5v2.1M1203.5 148.5v2.1M1212.5 148.5v2.1M1217.5 148.5v2.1M1223.5 148.5v2.1M1225.5 148.5v2.1M1018.5 151.2v2.1M1031.5 151.2v2.1M1063.5 151.2v2.1M1077.5 151.2v2.1M1086.5 151.2v2.1M1087.5 151.2v2.1M1093.5 151.2v2.1M1098.5 151.2v2.1M1099.5 151.2v2.1M1103.5 151.2v2.1M1122.5 151.2v2.1M1133.5 151.2v2.1M1140.5 151.2v2.1M1198.5 151.2v2.1M1231.5 151.2v2.1M1239.5 151.2v2.1M1083.5 153.9v2.1M1098.5 153.9v2.1M1100.5 153.9v2.1M1159.5 153.9v2.1M1160.5 153.9v2.1M1185.5 153.9v2.1M1212.5 153.9v2.1M1226.5 153.9v2.1M1233.5 153.9v2.1M1057.5 156.6v2.1M1060.5 156.6v2.1M1112.5 156.6v2.1M1122.5 156.6v2.1M1126.5 156.6v2.1M1131.5 156.6v2.1M1135.5 156.6v2.1M1166.5 156.6v2.1M1202.5 156.6v2.1M1070.5 159.3v2.1M1070.5 159.3v2.1M1142.5 159.3v2.1M1145.5 159.3v2.1M1152.5 159.3v2.1M1171.5 159.3v2.1M1020.5 161.9v2.1M1035.5 161.9v2.1M1051.5 161.9v2.1M1054.5 161.9v2.1M1063.5 161.9v2.1M1079.5 161.9v2.1M1079.5 161.9v2.1M1086.5 161.9v2.1M1091.5 161.9v2.1M1102.5 161.9v2.1M1102.5 161.9v2.1M1141.5 161.9v2.1M1155.5 161.9v2.1M1161.5 161.9v2.1M1174.5 161.9v2.1M1174.5 161.9v2.1M1212.5 161.9v2.1M1220.5 161.9v2.1M1223.5 161.9v2.1M1238.5 161.9v2.1M1238.5 161.9v2.1M1039.5 164.6v2.1M1066.5 164.6v2.1M1102.5 164.6v2.1M1159.5 164.6v2.1M1163.5 164.6v2.1M1183.5 164.6v2.1M1020.5 167.3v2.1M1031.5 167.3v2.1M1060.5 167.3v2.1M1072.5 167.3v2.1M1086.5 167.3v2.1M1112.5 167.3v2.1M1142.5 167.3v2.1M1158.5 167.3v2.1M1174.5 167.3v2.1M1180.5 167.3v2.1M1192.5 167.3v2.1M1195.5 167.3v2.1M1196.5 167.3v2.1M1031.5 170v2.1M1048.5 170v2.1M1051.5 170v2.1M1081.5 170v2.1M1113.5 170v2.1M1139.5 170v2.1M1169.5 170v2.1M1189.5 170v2.1M1029.5 172.7v2.1M1033.5 172.7v2.1M1054.5 172.7v2.1M1055.5 172.7v2.1M1061.5 172.7v2.1M1067.5 172.7v2.1M1081.5 172.7v2.1M1081.5 172.7v2.1M1101.5 172.7v2.1M1155.5 172.7v2.1M1157.5 172.7v2.1M1158.5 172.7v2.1M1170.5 172.7v2.1M1181.5 172.7v2.1M1181.5 172.7v2.1M1181.5 172.7v2.1M1225.5 172.7v2.1M1032.5 175.4v2.1M1090.5 175.4v2.1M1090.5 175.4v2.1M1020.5 178.1v2.1M1025.5 178.1v2.1M1025.5 178.1v2.1M1035.5 178.1v2.1M1038.5 178.1v2.1M1046.5 178.1v2.1M1085.5 178.1v2.1M1104.5 178.1v2.1M1107.5 178.1v2.1M1118.5 178.1v2.1M1124.5 178.1v2.1M1128.5 178.1v2.1M1143.5 178.1v2.1M1145.5 178.1v2.1M1159.5 178.1v2.1M1165.5 178.1v2.1M1170.5 178.1v2.1M1171.5 178.1v2.1M1177.5 178.1v2.1M1182.5 178.1v2.1M1194.5 178.1v2.1M1236.5 178.1v2.1M1041.5 180.7v2.1M1043.5 180.7v2.1M1048.5 180.7v2.1M1053.5 180.7v2.1M1075.5 180.7v2.1M1080.5 180.7v2.1M1086.5 180.7v2.1M1106.5 180.7v2.1M1107.5 180.7v2.1M1126.5 180.7v2.1M1130.5 180.7v2.1M1181.5 180.7v2.1M1074.5 183.4v2.1M1084.5 183.4v2.1M1098.5 183.4v2.1M1121.5 183.4v2.1M1125.5 183.4v2.1M1142.5 183.4v2.1M1162.5 183.4v2.1M1178.5 183.4v2.1M1190.5 183.4v2.1M1204.5 183.4v2.1M1022.5 186.1v2.1M1063.5 186.1v2.1M1065.5 186.1v2.1M1068.5 186.1v2.1M1076.5 186.1v2.1M1088.5 186.1v2.1M1112.5 186.1v2.1M1114.5 186.1v2.1M1118.5 186.1v2.1M1119.5 186.1v2.1M1121.5 186.1v2.1M1122.5 186.1v2.1M1131.5 186.1v2.1M1153.5 186.1v2.1M1160.5 186.1v2.1M1169.5 186.1v2.1M1171.5 186.1v2.1M1172.5 186.1v2.1M1184.5 186.1v2.1M1220.5 186.1v2.1M1226.5 186.1v2.1M1227.5 186.1v2.1M1228.5 186.1v2.1M1233.5 186.1v2.1M1023.5 188.8v2.1M1042.5 188.8v2.1M1044.5 188.8v2.1M1074.5 188.8v2.1M1087.5 188.8v2.1M1091.5 188.8v2.1M1104.5 188.8v2.1M1112.5 188.8v2.1M1126.5 188.8v2.1M1141.5 188.8v2.1M1148.5 188.8v2.1M1156.5 188.8v2.1M1157.5 188.8v2.1M1157.5 188.8v2.1M1160.5 188.8v2.1M1163.5 188.8v2.1M1166.5 188.8v2.1M1168.5 188.8v2.1M1168.5 188.8v2.1M1183.5 188.8v2.1M1216.5 188.8v2.1M1227.5 188.8v2.1M1239.5 188.8v2.1M1033.5 191.5v2.1M1052.5 191.5v2.1M1062.5 191.5v2.1M1077.5 191.5v2.1M1080.5 191.5v2.1M1094.5 191.5v2.1M1103.5 191.5v2.1M1116.5 191.5v2.1M1125.5 191.5v2.1M1126.5 191.5v2.1M1130.5 191.5v2.1M1142.5 191.5v2.1M1146.5 191.5v2.1M1176.5 191.5v2.1M1181.5 191.5v2.1M1236.5 191.5v2.1M1044.5 194.2v2.1M1050.5 194.2v2.1M1067.5 194.2v2.1M1081.5 194.2v2.1M1090.5 194.2v2.1M1099.5 194.2v2.1M1102.5 194.2v2.1M1110.5 194.2v2.1M1155.5 194.2v2.1M1189.5 194.2v2.1M1218.5 194.2v2.1M1227.5 194.2v2.1M1236.5 194.2v2.1M1032.5 196.9v2.1M1038.5 196.9v2.1M1067.5 196.9v2.1M1078.5 196.9v2.1M1114.5 196.9v2.1M1119.5 196.9v2.1M1124.5 196.9v2.1M1125.5 196.9v2.1M1129.5 196.9v2.1M1160.5 196.9v2.1M1166.5 196.9v2.1M1175.5 196.9v2.1M1177.5 196.9v2.1M1229.5 196.9v2.1M1230.5 196.9v2.1M1018.5 199.5v2.1M1039.5 199.5v2.1M1069.5 199.5v2.1M1073.5 199.5v2.1M1076.5 199.5v2.1M1094.5 199.5v2.1M1122.5 199.5v2.1M1127.5 199.5v2.1M1142.5 199.5v2.1M1146.5 199.5v2.1M1185.5 199.5v2.1M1192.5 199.5v2.1M1023.5 202.2v2.1M1025.5 202.2v2.1M1025.5 202.2v2.1M1034.5 202.2v2.1M1034.5 202.2v2.1M1049.5 202.2v2.1M1049.5 202.2v2.1M1056.5 202.2v2.1M1059.5 202.2v2.1M1063.5 202.2v2.1M1075.5 202.2v2.1M1093.5 202.2v2.1M1100.5 202.2v2.1M1101.5 202.2v2.1M1103.5 202.2v2.1M1106.5 202.2v2.1M1120.5 202.2v2.1M1132.5 202.2v2.1M1140.5 202.2v2.1M1175.5 202.2v2.1M1180.5 202.2v2.1M1203.5 202.2v2.1M1221.5 202.2v2.1M1231.5 202.2v2.1M1066.5 204.9v2.1M1074.5 204.9v2.1M1090.5 204.9v2.1M1097.5 204.9v2.1M1103.5 204.9v2.1M1121.5 204.9v2.1M1140.5 204.9v2.1M1144.5 204.9v2.1M1152.5 204.9v2.1M1154.5 204.9v2.1M1155.5 204.9v2.1M1155.5 204.9v2.1M1159.5 204.9v2.1M1169.5 204.9v2.1M1188.5 204.9v2.1M1227.5 204.9v2.1M1230.5 204.9v2.1M1025.5 207.6v2.1M1064.5 207.6v2.1M1071.5 207.6v2.1M1086.5 207.6v2.1M1101.5 207.6v2.1M1112.5 207.6v2.1M1116.5 207.6v2.1M1122.5 207.6v2.1M1138.5 207.6v2.1M1158.5 207.6v2.1M1180.5 207.6v2.1M1214.5 207.6v2.1M1220.5 207.6v2.1M1226.5 207.6v2.1M1031.5 210.3v2.1M1044.5 210.3v2.1M1111.5 210.3v2.1M1111.5 210.3v2.1M1115.5 210.3v2.1M1143.5 210.3v2.1M1143.5 210.3v2.1M1145.5 210.3v2.1M1149.5 210.3v2.1M1158.5 210.3v2.1M1164.5 210.3v2.1M1171.5 210.3v2.1M1178.5 210.3v2.1M1183.5 210.3v2.1M1184.5 210.3v2.1M1209.5 210.3v2.1M1216.5 210.3v2.1M1218.5 210.3v2.1M1227.5 210.3v2.1M1237.5 210.3v2.1M1070.5 213v2.1M1084.5 213v2.1M1093.5 213v2.1M1100.5 213v2.1M1119.5 213v2.1M1127.5 213v2.1M1202.5 213v2.1M1229.5 213v2.1M1029.5 215.7v2.1M1029.5 215.7v2.1M1034.5 215.7v2.1M1043.5 215.7v2.1M1055.5 215.7v2.1M1073.5 215.7v2.1M1110.5 215.7v2.1M1111.5 215.7v2.1M1147.5 215.7v2.1M1153.5 215.7v2.1M1158.5 215.7v2.1M1164.5 215.7v2.1M1023.5 218.3v2.1M1031.5 218.3v2.1M1038.5 218.3v2.1M1064.5 218.3v2.1M1071.5 218.3v2.1M1072.5 218.3v2.1M1087.5 218.3v2.1M1090.5 218.3v2.1M1113.5 218.3v2.1M1122.5 218.3v2.1M1123.5 218.3v2.1M1127.5 218.3v2.1M1154.5 218.3v2.1M1164.5 218.3v2.1M1187.5 218.3v2.1M1187.5 218.3v2.1M1204.5 218.3v2.1M1207.5 218.3v2.1M1217.5 218.3v2.1M1226.5 218.3v2.1M1227.5 218.3v2.1M1025.5 221v2.1M1060.5 221v2.1M1085.5 221v2.1M1099.5 221v2.1M1116.5 221v2.1M1144.5 221v2.1M1167.5 221v2.1M1171.5 221v2.1M1209.5 221v2.1M1218.5 221v2.1M1229.5 221v2.1M1236.5 221v2.1M1027.5 223.7v2.1M1031.5 223.7v2.1M1031.5 223.7v2.1M1047.5 223.7v2.1M1059.5 223.7v2.1M1068.5 223.7v2.1M1070.5 223.7v2.1M1075.5 223.7v2.1M1077.5 223.7v2.1M1090.5 223.7v2.1M1113.5 223.7v2.1M1120.5 223.7v2.1M1132.5 223.7v2.1M1147.5 223.7v2.1M1149.5 223.7v2.1M1154.5 223.7v2.1M1159.5 223.7v2.1M1188.5 223.7v2.1M1199.5 223.7v2.1M1228.5 223.7v2.1M1234.5 223.7v2.1M1054.5 226.4v2.1M1063.5 226.4v2.1M1067.5 226.4v2.1M1070.5 226.4v2.1M1086.5 226.4v2.1M1088.5 226.4v2.1M1091.5 226.4v2.1M1103.5 226.4v2.1M1127.5 226.4v2.1M1197.5 226.4v2.1M1210.5 226.4v2.1M1027.5 229.1v2.1M1064.5 229.1v2.1M1072.5 229.1v2.1M1077.5 229.1v2.1M1091.5 229.1v2.1M1108.5 229.1v2.1M1141.5 229.1v2.1M1153.5 229.1v2.1M1155.5 229.1v2.1M1210.5 229.1v2.1" stroke="#000" stroke-width="1.2" fill="none"/>
<line x1="1082.4" y1="43.5" x2="1082.4" y2="231.5" stroke="#d8283a" stroke-width="1.0" stroke-dasharray="1.2,1.6"/>
<path d="M1017 42.5V231.5H1240.7" stroke="#1a1a1a" stroke-width="1.8" fill="none"/>
<line x1="1013" y1="97.3" x2="1017" y2="97.3" stroke="#1a1a1a" stroke-width="1.6" />
<text x="1006" y="103.9" font-size="21" text-anchor="end">20</text>
<line x1="1013" y1="151.2" x2="1017" y2="151.2" stroke="#1a1a1a" stroke-width="1.6" />
<text x="1006" y="157.8" font-size="21" text-anchor="end">40</text>
<line x1="1013" y1="204.9" x2="1017" y2="204.9" stroke="#1a1a1a" stroke-width="1.6" />
<text x="1006" y="211.5" font-size="21" text-anchor="end">60</text>
<line x1="1013" y1="43.5" x2="1017" y2="43.5" stroke="#1a1a1a" stroke-width="1.6" />
<line x1="1017" y1="231.5" x2="1017" y2="235" stroke="#1a1a1a" stroke-width="1.6" />
<line x1="1082.4" y1="231.5" x2="1082.4" y2="235" stroke="#1a1a1a" stroke-width="1.6" />
<line x1="1147.8" y1="231.5" x2="1147.8" y2="235" stroke="#1a1a1a" stroke-width="1.6" />
<line x1="1213.2" y1="231.5" x2="1213.2" y2="235" stroke="#1a1a1a" stroke-width="1.6" />
<line x1="1240.7" y1="231.5" x2="1240.7" y2="235" stroke="#1a1a1a" stroke-width="1.6" />
<rect x="1293.6" y="43.5" width="224.6" height="188" fill="#d3e5f2"/>
<path d="M1309.5 43.8v2.1M1326.5 43.8v2.1M1337.5 43.8v2.1M1348.5 43.8v2.1M1384.5 43.8v2.1M1396.5 43.8v2.1M1397.5 43.8v2.1M1405.5 43.8v2.1M1410.5 43.8v2.1M1447.5 43.8v2.1M1449.5 43.8v2.1M1449.5 43.8v2.1M1461.5 43.8v2.1M1464.5 43.8v2.1M1468.5 43.8v2.1M1476.5 43.8v2.1M1492.5 43.8v2.1M1493.5 43.8v2.1M1495.5 43.8v2.1M1508.5 43.8v2.1M1303.5 46.5v2.1M1351.5 46.5v2.1M1360.5 46.5v2.1M1368.5 46.5v2.1M1387.5 46.5v2.1M1403.5 46.5v2.1M1422.5 46.5v2.1M1430.5 46.5v2.1M1480.5 46.5v2.1M1512.5 46.5v2.1M1515.5 46.5v2.1M1297.5 49.1v2.1M1324.5 49.1v2.1M1405.5 49.1v2.1M1409.5 49.1v2.1M1426.5 49.1v2.1M1433.5 49.1v2.1M1446.5 49.1v2.1M1446.5 49.1v2.1M1452.5 49.1v2.1M1464.5 49.1v2.1M1470.5 49.1v2.1M1480.5 49.1v2.1M1492.5 49.1v2.1M1497.5 49.1v2.1M1502.5 49.1v2.1M1516.5 49.1v2.1M1317.5 51.8v2.1M1342.5 51.8v2.1M1355.5 51.8v2.1M1375.5 51.8v2.1M1404.5 51.8v2.1M1410.5 51.8v2.1M1461.5 51.8v2.1M1465.5 51.8v2.1M1472.5 51.8v2.1M1485.5 51.8v2.1M1297.5 54.5v2.1M1323.5 54.5v2.1M1324.5 54.5v2.1M1342.5 54.5v2.1M1348.5 54.5v2.1M1354.5 54.5v2.1M1359.5 54.5v2.1M1366.5 54.5v2.1M1369.5 54.5v2.1M1382.5 54.5v2.1M1385.5 54.5v2.1M1390.5 54.5v2.1M1399.5 54.5v2.1M1401.5 54.5v2.1M1406.5 54.5v2.1M1415.5 54.5v2.1M1448.5 54.5v2.1M1450.5 54.5v2.1M1467.5 54.5v2.1M1469.5 54.5v2.1M1472.5 54.5v2.1M1472.5 54.5v2.1M1478.5 54.5v2.1M1482.5 54.5v2.1M1496.5 54.5v2.1M1497.5 54.5v2.1M1497.5 54.5v2.1M1503.5 54.5v2.1M1511.5 54.5v2.1M1298.5 57.2v2.1M1304.5 57.2v2.1M1347.5 57.2v2.1M1356.5 57.2v2.1M1377.5 57.2v2.1M1414.5 57.2v2.1M1431.5 57.2v2.1M1431.5 57.2v2.1M1455.5 57.2v2.1M1456.5 57.2v2.1M1460.5 57.2v2.1M1464.5 57.2v2.1M1471.5 57.2v2.1M1483.5 57.2v2.1M1490.5 57.2v2.1M1321.5 59.9v2.1M1332.5 59.9v2.1M1406.5 59.9v2.1M1428.5 59.9v2.1M1431.5 59.9v2.1M1439.5 59.9v2.1M1444.5 59.9v2.1M1445.5 59.9v2.1M1477.5 59.9v2.1M1482.5 59.9v2.1M1483.5 59.9v2.1M1490.5 59.9v2.1M1491.5 59.9v2.1M1516.5 59.9v2.1M1295.5 62.6v2.1M1300.5 62.6v2.1M1353.5 62.6v2.1M1384.5 62.6v2.1M1427.5 62.6v2.1M1444.5 62.6v2.1M1450.5 62.6v2.1M1472.5 62.6v2.1M1500.5 62.6v2.1M1501.5 62.6v2.1M1331.5 65.3v2.1M1371.5 65.3v2.1M1401.5 65.3v2.1M1428.5 65.3v2.1M1444.5 65.3v2.1M1452.5 65.3v2.1M1456.5 65.3v2.1M1468.5 65.3v2.1M1479.5 65.3v2.1M1493.5 65.3v2.1M1501.5 65.3v2.1M1504.5 65.3v2.1M1297.5 67.9v2.1M1315.5 67.9v2.1M1330.5 67.9v2.1M1349.5 67.9v2.1M1352.5 67.9v2.1M1353.5 67.9v2.1M1369.5 67.9v2.1M1375.5 67.9v2.1M1386.5 67.9v2.1M1396.5 67.9v2.1M1401.5 67.9v2.1M1417.5 67.9v2.1M1439.5 67.9v2.1M1440.5 67.9v2.1M1457.5 67.9v2.1M1461.5 67.9v2.1M1468.5 67.9v2.1M1469.5 67.9v2.1M1477.5 67.9v2.1M1477.5 67.9v2.1M1481.5 67.9v2.1M1294.5 70.6v2.1M1362.5 70.6v2.1M1378.5 70.6v2.1M1389.5 70.6v2.1M1409.5 70.6v2.1M1420.5 70.6v2.1M1445.5 70.6v2.1M1455.5 70.6v2.1M1456.5 70.6v2.1M1466.5 70.6v2.1M1467.5 70.6v2.1M1479.5 70.6v2.1M1490.5 70.6v2.1M1500.5 70.6v2.1M1507.5 70.6v2.1M1299.5 73.3v2.1M1364.5 73.3v2.1M1416.5 73.3v2.1M1419.5 73.3v2.1M1420.5 73.3v2.1M1422.5 73.3v2.1M1431.5 73.3v2.1M1441.5 73.3v2.1M1515.5 73.3v2.1M1312.5 76v2.1M1323.5 76v2.1M1325.5 76v2.1M1329.5 76v2.1M1333.5 76v2.1M1356.5 76v2.1M1392.5 76v2.1M1434.5 76v2.1M1447.5 76v2.1M1468.5 76v2.1M1470.5 76v2.1M1473.5 76v2.1M1485.5 76v2.1M1297.5 78.7v2.1M1329.5 78.7v2.1M1336.5 78.7v2.1M1341.5 78.7v2.1M1344.5 78.7v2.1M1388.5 78.7v2.1M1396.5 78.7v2.1M1399.5 78.7v2.1M1405.5 78.7v2.1M1426.5 78.7v2.1M1429.5 78.7v2.1M1432.5 78.7v2.1M1439.5 78.7v2.1M1443.5 78.7v2.1M1447.5 78.7v2.1M1458.5 78.7v2.1M1459.5 78.7v2.1M1461.5 78.7v2.1M1463.5 78.7v2.1M1467.5 78.7v2.1M1479.5 78.7v2.1M1483.5 78.7v2.1M1484.5 78.7v2.1M1491.5 78.7v2.1M1514.5 78.7v2.1M1310.5 81.4v2.1M1337.5 81.4v2.1M1357.5 81.4v2.1M1422.5 81.4v2.1M1439.5 81.4v2.1M1459.5 81.4v2.1M1467.5 81.4v2.1M1470.5 81.4v2.1M1492.5 81.4v2.1M1297.5 84.1v2.1M1299.5 84.1v2.1M1316.5 84.1v2.1M1324.5 84.1v2.1M1346.5 84.1v2.1M1367.5 84.1v2.1M1380.5 84.1v2.1M1393.5 84.1v2.1M1395.5 84.1v2.1M1399.5 84.1v2.1M1407.5 84.1v2.1M1407.5 84.1v2.1M1418.5 84.1v2.1M1423.5 84.1v2.1M1454.5 84.1v2.1M1457.5 84.1v2.1M1472.5 84.1v2.1M1485.5 84.1v2.1M1505.5 84.1v2.1M1506.5 84.1v2.1M1508.5 84.1v2.1M1342.5 86.7v2.1M1368.5 86.7v2.1M1395.5 86.7v2.1M1399.5 86.7v2.1M1418.5 86.7v2.1M1419.5 86.7v2.1M1424.5 86.7v2.1M1435.5 86.7v2.1M1438.5 86.7v2.1M1456.5 86.7v2.1M1468.5 86.7v2.1M1470.5 86.7v2.1M1472.5 86.7v2.1M1473.5 86.7v2.1M1474.5 86.7v2.1M1474.5 86.7v2.1M1480.5 86.7v2.1M1487.5 86.7v2.1M1490.5 86.7v2.1M1493.5 86.7v2.1M1497.5 86.7v2.1M1499.5 86.7v2.1M1501.5 86.7v2.1M1505.5 86.7v2.1M1508.5 86.7v2.1M1513.5 86.7v2.1M1355.5 89.4v2.1M1378.5 89.4v2.1M1400.5 89.4v2.1M1409.5 89.4v2.1M1439.5 89.4v2.1M1443.5 89.4v2.1M1464.5 89.4v2.1M1466.5 89.4v2.1M1478.5 89.4v2.1M1507.5 89.4v2.1M1510.5 89.4v2.1M1515.5 89.4v2.1M1323.5 92.1v2.1M1359.5 92.1v2.1M1381.5 92.1v2.1M1390.5 92.1v2.1M1421.5 92.1v2.1M1421.5 92.1v2.1M1451.5 92.1v2.1M1454.5 92.1v2.1M1466.5 92.1v2.1M1467.5 92.1v2.1M1471.5 92.1v2.1M1507.5 92.1v2.1M1303.5 94.8v2.1M1343.5 94.8v2.1M1361.5 94.8v2.1M1437.5 94.8v2.1M1452.5 94.8v2.1M1457.5 94.8v2.1M1464.5 94.8v2.1M1489.5 94.8v2.1M1489.5 94.8v2.1M1387.5 97.5v2.1M1421.5 97.5v2.1M1440.5 97.5v2.1M1440.5 97.5v2.1M1451.5 97.5v2.1M1455.5 97.5v2.1M1456.5 97.5v2.1M1461.5 97.5v2.1M1495.5 97.5v2.1M1503.5 97.5v2.1M1303.5 100.2v2.1M1318.5 100.2v2.1M1338.5 100.2v2.1M1340.5 100.2v2.1M1366.5 100.2v2.1M1373.5 100.2v2.1M1387.5 100.2v2.1M1393.5 100.2v2.1M1399.5 100.2v2.1M1402.5 100.2v2.1M1417.5 100.2v2.1M1430.5 100.2v2.1M1450.5 100.2v2.1M1456.5 100.2v2.1M1463.5 100.2v2.1M1464.5 100.2v2.1M1465.5 100.2v2.1M1467.5 100.2v2.1M1469.5 100.2v2.1M1474.5 100.2v2.1M1481.5 100.2v2.1M1492.5 100.2v2.1M1492.5 100.2v2.1M1308.5 102.9v2.1M1338.5 102.9v2.1M1342.5 102.9v2.1M1361.5 102.9v2.1M1381.5 102.9v2.1M1391.5 102.9v2.1M1394.5 102.9v2.1M1396.5 102.9v2.1M1406.5 102.9v2.1M1420.5 102.9v2.1M1441.5 102.9v2.1M1462.5 102.9v2.1M1463.5 102.9v2.1M1464.5 102.9v2.1M1471.5 102.9v2.1M1479.5 102.9v2.1M1353.5 105.5v2.1M1375.5 105.5v2.1M1382.5 105.5v2.1M1384.5 105.5v2.1M1384.5 105.5v2.1M1389.5 105.5v2.1M1397.5 105.5v2.1M1407.5 105.5v2.1M1417.5 105.5v2.1M1417.5 105.5v2.1M1435.5 105.5v2.1M1444.5 105.5v2.1M1445.5 105.5v2.1M1448.5 105.5v2.1M1454.5 105.5v2.1M1460.5 105.5v2.1M1477.5 105.5v2.1M1477.5 105.5v2.1M1480.5 105.5v2.1M1484.5 105.5v2.1M1506.5 105.5v2.1M1514.5 105.5v2.1M1312.5 108.2v2.1M1313.5 108.2v2.1M1319.5 108.2v2.1M1325.5 108.2v2.1M1338.5 108.2v2.1M1343.5 108.2v2.1M1350.5 108.2v2.1M1352.5 108.2v2.1M1369.5 108.2v2.1M1378.5 108.2v2.1M1390.5 108.2v2.1M1395.5 108.2v2.1M1420.5 108.2v2.1M1424.5 108.2v2.1M1441.5 108.2v2.1M1445.5 108.2v2.1M1465.5 108.2v2.1M1474.5 108.2v2.1M1501.5 108.2v2.1M1510.5 108.2v2.1M1298.5 110.9v2.1M1299.5 110.9v2.1M1312.5 110.9v2.1M1322.5 110.9v2.1M1323.5 110.9v2.1M1377.5 110.9v2.1M1378.5 110.9v2.1M1378.5 110.9v2.1M1382.5 110.9v2.1M1392.5 110.9v2.1M1395.5 110.9v2.1M1397.5 110.9v2.1M1406.5 110.9v2.1M1411.5 110.9v2.1M1414.5 110.9v2.1M1425.5 110.9v2.1M1433.5 110.9v2.1M1439.5 110.9v2.1M1493.5 110.9v2.1M1507.5 110.9v2.1M1511.5 110.9v2.1M1515.5 110.9v2.1M1296.5 113.6v2.1M1312.5 113.6v2.1M1332.5 113.6v2.1M1338.5 113.6v2.1M1342.5 113.6v2.1M1364.5 113.6v2.1M1373.5 113.6v2.1M1418.5 113.6v2.1M1427.5 113.6v2.1M1470.5 113.6v2.1M1477.5 113.6v2.1M1484.5 113.6v2.1M1485.5 113.6v2.1M1499.5 113.6v2.1M1505.5 113.6v2.1M1513.5 113.6v2.1M1318.5 116.3v2.1M1330.5 116.3v2.1M1338.5 116.3v2.1M1354.5 116.3v2.1M1381.5 116.3v2.1M1382.5 116.3v2.1M1406.5 116.3v2.1M1407.5 116.3v2.1M1411.5 116.3v2.1M1412.5 116.3v2.1M1413.5 116.3v2.1M1416.5 116.3v2.1M1421.5 116.3v2.1M1455.5 116.3v2.1M1466.5 116.3v2.1M1491.5 116.3v2.1M1499.5 116.3v2.1M1302.5 119v2.1M1307.5 119v2.1M1318.5 119v2.1M1320.5 119v2.1M1404.5 119v2.1M1429.5 119v2.1M1431.5 119v2.1M1435.5 119v2.1M1466.5 119v2.1M1490.5 119v2.1M1499.5 119v2.1M1502.5 119v2.1M1512.5 119v2.1M1305.5 121.7v2.1M1322.5 121.7v2.1M1323.5 121.7v2.1M1338.5 121.7v2.1M1403.5 121.7v2.1M1419.5 121.7v2.1M1424.5 121.7v2.1M1433.5 121.7v2.1M1434.5 121.7v2.1M1438.5 121.7v2.1M1440.5 121.7v2.1M1440.5 121.7v2.1M1463.5 121.7v2.1M1472.5 121.7v2.1M1475.5 121.7v2.1M1500.5 121.7v2.1M1510.5 121.7v2.1M1511.5 121.7v2.1M1310.5 124.3v2.1M1311.5 124.3v2.1M1324.5 124.3v2.1M1325.5 124.3v2.1M1344.5 124.3v2.1M1349.5 124.3v2.1M1355.5 124.3v2.1M1386.5 124.3v2.1M1390.5 124.3v2.1M1396.5 124.3v2.1M1431.5 124.3v2.1M1441.5 124.3v2.1M1455.5 124.3v2.1M1459.5 124.3v2.1M1460.5 124.3v2.1M1463.5 124.3v2.1M1486.5 124.3v2.1M1490.5 124.3v2.1M1495.5 124.3v2.1M1507.5 124.3v2.1M1322.5 127v2.1M1339.5 127v2.1M1342.5 127v2.1M1348.5 127v2.1M1356.5 127v2.1M1357.5 127v2.1M1407.5 127v2.1M1423.5 127v2.1M1425.5 127v2.1M1434.5 127v2.1M1439.5 127v2.1M1449.5 127v2.1M1450.5 127v2.1M1454.5 127v2.1M1457.5 127v2.1M1462.5 127v2.1M1463.5 127v2.1M1492.5 127v2.1M1514.5 127v2.1M1305.5 129.7v2.1M1305.5 129.7v2.1M1311.5 129.7v2.1M1338.5 129.7v2.1M1338.5 129.7v2.1M1349.5 129.7v2.1M1350.5 129.7v2.1M1356.5 129.7v2.1M1357.5 129.7v2.1M1358.5 129.7v2.1M1396.5 129.7v2.1M1400.5 129.7v2.1M1409.5 129.7v2.1M1413.5 129.7v2.1M1422.5 129.7v2.1M1440.5 129.7v2.1M1441.5 129.7v2.1M1442.5 129.7v2.1M1459.5 129.7v2.1M1470.5 129.7v2.1M1473.5 129.7v2.1M1474.5 129.7v2.1M1488.5 129.7v2.1M1301.5 132.4v2.1M1335.5 132.4v2.1M1380.5 132.4v2.1M1388.5 132.4v2.1M1414.5 132.4v2.1M1421.5 132.4v2.1M1429.5 132.4v2.1M1448.5 132.4v2.1M1455.5 132.4v2.1M1465.5 132.4v2.1M1472.5 132.4v2.1M1473.5 132.4v2.1M1502.5 132.4v2.1M1514.5 132.4v2.1M1297.5 135.1v2.1M1347.5 135.1v2.1M1356.5 135.1v2.1M1361.5 135.1v2.1M1369.5 135.1v2.1M1376.5 135.1v2.1M1395.5 135.1v2.1M1411.5 135.1v2.1M1459.5 135.1v2.1M1464.5 135.1v2.1M1468.5 135.1v2.1M1480.5 135.1v2.1M1489.5 135.1v2.1M1494.5 135.1v2.1M1504.5 135.1v2.1M1513.5 135.1v2.1M1314.5 137.8v2.1M1315.5 137.8v2.1M1369.5 137.8v2.1M1372.5 137.8v2.1M1402.5 137.8v2.1M1423.5 137.8v2.1M1426.5 137.8v2.1M1433.5 137.8v2.1M1439.5 137.8v2.1M1439.5 137.8v2.1M1460.5 137.8v2.1M1464.5 137.8v2.1M1464.5 137.8v2.1M1477.5 137.8v2.1M1513.5 137.8v2.1M1301.5 140.5v2.1M1313.5 140.5v2.1M1331.5 140.5v2.1M1334.5 140.5v2.1M1335.5 140.5v2.1M1339.5 140.5v2.1M1344.5 140.5v2.1M1355.5 140.5v2.1M1368.5 140.5v2.1M1376.5 140.5v2.1M1400.5 140.5v2.1M1424.5 140.5v2.1M1427.5 140.5v2.1M1441.5 140.5v2.1M1451.5 140.5v2.1M1469.5 140.5v2.1M1489.5 140.5v2.1M1501.5 140.5v2.1M1514.5 140.5v2.1M1302.5 143.1v2.1M1321.5 143.1v2.1M1333.5 143.1v2.1M1358.5 143.1v2.1M1359.5 143.1v2.1M1386.5 143.1v2.1M1410.5 143.1v2.1M1411.5 143.1v2.1M1440.5 143.1v2.1M1442.5 143.1v2.1M1449.5 143.1v2.1M1453.5 143.1v2.1M1477.5 143.1v2.1M1484.5 143.1v2.1M1490.5 143.1v2.1M1499.5 143.1v2.1M1500.5 143.1v2.1M1509.5 143.1v2.1M1511.5 143.1v2.1M1301.5 145.8v2.1M1339.5 145.8v2.1M1373.5 145.8v2.1M1391.5 145.8v2.1M1398.5 145.8v2.1M1459.5 145.8v2.1M1511.5 145.8v2.1M1513.5 145.8v2.1M1316.5 148.5v2.1M1321.5 148.5v2.1M1358.5 148.5v2.1M1376.5 148.5v2.1M1415.5 148.5v2.1M1426.5 148.5v2.1M1491.5 148.5v2.1M1508.5 148.5v2.1M1331.5 151.2v2.1M1385.5 151.2v2.1M1393.5 151.2v2.1M1419.5 151.2v2.1M1435.5 151.2v2.1M1451.5 151.2v2.1M1455.5 151.2v2.1M1457.5 151.2v2.1M1470.5 151.2v2.1M1471.5 151.2v2.1M1472.5 151.2v2.1M1478.5 151.2v2.1M1481.5 151.2v2.1M1485.5 151.2v2.1M1491.5 151.2v2.1M1493.5 151.2v2.1M1494.5 151.2v2.1M1506.5 151.2v2.1M1512.5 151.2v2.1M1335.5 153.9v2.1M1344.5 153.9v2.1M1358.5 153.9v2.1M1366.5 153.9v2.1M1376.5 153.9v2.1M1380.5 153.9v2.1M1387.5 153.9v2.1M1390.5 153.9v2.1M1406.5 153.9v2.1M1439.5 153.9v2.1M1440.5 153.9v2.1M1461.5 153.9v2.1M1472.5 153.9v2.1M1483.5 153.9v2.1M1493.5 153.9v2.1M1494.5 153.9v2.1M1502.5 153.9v2.1M1502.5 153.9v2.1M1509.5 153.9v2.1M1510.5 153.9v2.1M1513.5 153.9v2.1M1300.5 156.6v2.1M1314.5 156.6v2.1M1315.5 156.6v2.1M1317.5 156.6v2.1M1333.5 156.6v2.1M1359.5 156.6v2.1M1375.5 156.6v2.1M1409.5 156.6v2.1M1413.5 156.6v2.1M1415.5 156.6v2.1M1447.5 156.6v2.1M1478.5 156.6v2.1M1493.5 156.6v2.1M1496.5 156.6v2.1M1497.5 156.6v2.1M1506.5 156.6v2.1M1510.5 156.6v2.1M1511.5 156.6v2.1M1296.5 159.3v2.1M1316.5 159.3v2.1M1341.5 159.3v2.1M1359.5 159.3v2.1M1368.5 159.3v2.1M1385.5 159.3v2.1M1385.5 159.3v2.1M1406.5 159.3v2.1M1415.5 159.3v2.1M1418.5 159.3v2.1M1422.5 159.3v2.1M1428.5 159.3v2.1M1438.5 159.3v2.1M1446.5 159.3v2.1M1451.5 159.3v2.1M1477.5 159.3v2.1M1485.5 159.3v2.1M1491.5 159.3v2.1M1499.5 159.3v2.1M1512.5 159.3v2.1M1308.5 161.9v2.1M1348.5 161.9v2.1M1375.5 161.9v2.1M1404.5 161.9v2.1M1408.5 161.9v2.1M1428.5 161.9v2.1M1450.5 161.9v2.1M1478.5 161.9v2.1M1488.5 161.9v2.1M1504.5 161.9v2.1M1508.5 161.9v2.1M1516.5 161.9v2.1M1298.5 164.6v2.1M1308.5 164.6v2.1M1312.5 164.6v2.1M1313.5 164.6v2.1M1313.5 164.6v2.1M1357.5 164.6v2.1M1374.5 164.6v2.1M1392.5 164.6v2.1M1401.5 164.6v2.1M1414.5 164.6v2.1M1416.5 164.6v2.1M1427.5 164.6v2.1M1433.5 164.6v2.1M1445.5 164.6v2.1M1463.5 164.6v2.1M1477.5 164.6v2.1M1492.5 164.6v2.1M1500.5 164.6v2.1M1512.5 164.6v2.1M1514.5 164.6v2.1M1321.5 167.3v2.1M1363.5 167.3v2.1M1373.5 167.3v2.1M1394.5 167.3v2.1M1405.5 167.3v2.1M1420.5 167.3v2.1M1444.5 167.3v2.1M1487.5 167.3v2.1M1508.5 167.3v2.1M1516.5 167.3v2.1M1297.5 170v2.1M1414.5 170v2.1M1433.5 170v2.1M1447.5 170v2.1M1450.5 170v2.1M1459.5 170v2.1M1499.5 170v2.1M1514.5 170v2.1M1302.5 172.7v2.1M1325.5 172.7v2.1M1333.5 172.7v2.1M1395.5 172.7v2.1M1452.5 172.7v2.1M1454.5 172.7v2.1M1490.5 172.7v2.1M1493.5 172.7v2.1M1512.5 172.7v2.1M1515.5 172.7v2.1M1322.5 175.4v2.1M1346.5 175.4v2.1M1350.5 175.4v2.1M1378.5 175.4v2.1M1383.5 175.4v2.1M1385.5 175.4v2.1M1388.5 175.4v2.1M1388.5 175.4v2.1M1423.5 175.4v2.1M1438.5 175.4v2.1M1442.5 175.4v2.1M1462.5 175.4v2.1M1478.5 175.4v2.1M1319.5 178.1v2.1M1332.5 178.1v2.1M1336.5 178.1v2.1M1374.5 178.1v2.1M1378.5 178.1v2.1M1389.5 178.1v2.1M1422.5 178.1v2.1M1432.5 178.1v2.1M1465.5 178.1v2.1M1467.5 178.1v2.1M1483.5 178.1v2.1M1485.5 178.1v2.1M1486.5 178.1v2.1M1492.5 178.1v2.1M1495.5 178.1v2.1M1495.5 178.1v2.1M1503.5 178.1v2.1M1516.5 178.1v2.1M1298.5 180.7v2.1M1315.5 180.7v2.1M1329.5 180.7v2.1M1334.5 180.7v2.1M1338.5 180.7v2.1M1343.5 180.7v2.1M1378.5 180.7v2.1M1380.5 180.7v2.1M1382.5 180.7v2.1M1414.5 180.7v2.1M1429.5 180.7v2.1M1434.5 180.7v2.1M1444.5 180.7v2.1M1446.5 180.7v2.1M1451.5 180.7v2.1M1453.5 180.7v2.1M1455.5 180.7v2.1M1457.5 180.7v2.1M1459.5 180.7v2.1M1480.5 180.7v2.1M1493.5 180.7v2.1M1498.5 180.7v2.1M1512.5 180.7v2.1M1306.5 183.4v2.1M1314.5 183.4v2.1M1422.5 183.4v2.1M1424.5 183.4v2.1M1425.5 183.4v2.1M1444.5 183.4v2.1M1448.5 183.4v2.1M1462.5 183.4v2.1M1471.5 183.4v2.1M1507.5 183.4v2.1M1302.5 186.1v2.1M1303.5 186.1v2.1M1324.5 186.1v2.1M1331.5 186.1v2.1M1332.5 186.1v2.1M1333.5 186.1v2.1M1342.5 186.1v2.1M1347.5 186.1v2.1M1350.5 186.1v2.1M1351.5 186.1v2.1M1355.5 186.1v2.1M1355.5 186.1v2.1M1385.5 186.1v2.1M1399.5 186.1v2.1M1408.5 186.1v2.1M1410.5 186.1v2.1M1411.5 186.1v2.1M1412.5 186.1v2.1M1419.5 186.1v2.1M1426.5 186.1v2.1M1434.5 186.1v2.1M1435.5 186.1v2.1M1437.5 186.1v2.1M1453.5 186.1v2.1M1454.5 186.1v2.1M1457.5 186.1v2.1M1459.5 186.1v2.1M1465.5 186.1v2.1M1480.5 186.1v2.1M1484.5 186.1v2.1M1490.5 186.1v2.1M1493.5 186.1v2.1M1506.5 186.1v2.1M1508.5 186.1v2.1M1511.5 186.1v2.1M1324.5 188.8v2.1M1325.5 188.8v2.1M1326.5 188.8v2.1M1345.5 188.8v2.1M1375.5 188.8v2.1M1409.5 188.8v2.1M1411.5 188.8v2.1M1445.5 188.8v2.1M1465.5 188.8v2.1M1486.5 188.8v2.1M1491.5 188.8v2.1M1303.5 191.5v2.1M1323.5 191.5v2.1M1324.5 191.5v2.1M1326.5 191.5v2.1M1346.5 191.5v2.1M1352.5 191.5v2.1M1358.5 191.5v2.1M1369.5 191.5v2.1M1380.5 191.5v2.1M1385.5 191.5v2.1M1416.5 191.5v2.1M1419.5 191.5v2.1M1447.5 191.5v2.1M1448.5 191.5v2.1M1450.5 191.5v2.1M1484.5 191.5v2.1M1485.5 191.5v2.1M1507.5 191.5v2.1M1509.5 191.5v2.1M1515.5 191.5v2.1M1297.5 194.2v2.1M1302.5 194.2v2.1M1303.5 194.2v2.1M1309.5 194.2v2.1M1310.5 194.2v2.1M1324.5 194.2v2.1M1342.5 194.2v2.1M1344.5 194.2v2.1M1347.5 194.2v2.1M1349.5 194.2v2.1M1350.5 194.2v2.1M1355.5 194.2v2.1M1359.5 194.2v2.1M1362.5 194.2v2.1M1363.5 194.2v2.1M1379.5 194.2v2.1M1380.5 194.2v2.1M1385.5 194.2v2.1M1391.5 194.2v2.1M1400.5 194.2v2.1M1408.5 194.2v2.1M1422.5 194.2v2.1M1432.5 194.2v2.1M1436.5 194.2v2.1M1445.5 194.2v2.1M1445.5 194.2v2.1M1447.5 194.2v2.1M1454.5 194.2v2.1M1461.5 194.2v2.1M1472.5 194.2v2.1M1473.5 194.2v2.1M1476.5 194.2v2.1M1476.5 194.2v2.1M1483.5 194.2v2.1M1491.5 194.2v2.1M1503.5 194.2v2.1M1317.5 196.9v2.1M1319.5 196.9v2.1M1330.5 196.9v2.1M1397.5 196.9v2.1M1400.5 196.9v2.1M1411.5 196.9v2.1M1434.5 196.9v2.1M1443.5 196.9v2.1M1448.5 196.9v2.1M1466.5 196.9v2.1M1469.5 196.9v2.1M1477.5 196.9v2.1M1494.5 196.9v2.1M1502.5 196.9v2.1M1504.5 196.9v2.1M1507.5 196.9v2.1M1308.5 199.5v2.1M1313.5 199.5v2.1M1317.5 199.5v2.1M1323.5 199.5v2.1M1376.5 199.5v2.1M1407.5 199.5v2.1M1427.5 199.5v2.1M1430.5 199.5v2.1M1462.5 199.5v2.1M1474.5 199.5v2.1M1486.5 199.5v2.1M1493.5 199.5v2.1M1495.5 199.5v2.1M1498.5 199.5v2.1M1299.5 202.2v2.1M1299.5 202.2v2.1M1308.5 202.2v2.1M1310.5 202.2v2.1M1401.5 202.2v2.1M1408.5 202.2v2.1M1419.5 202.2v2.1M1420.5 202.2v2.1M1424.5 202.2v2.1M1427.5 202.2v2.1M1434.5 202.2v2.1M1436.5 202.2v2.1M1442.5 202.2v2.1M1466.5 202.2v2.1M1466.5 202.2v2.1M1469.5 202.2v2.1M1470.5 202.2v2.1M1472.5 202.2v2.1M1475.5 202.2v2.1M1486.5 202.2v2.1M1487.5 202.2v2.1M1500.5 202.2v2.1M1512.5 202.2v2.1M1512.5 202.2v2.1M1513.5 202.2v2.1M1299.5 204.9v2.1M1307.5 204.9v2.1M1312.5 204.9v2.1M1316.5 204.9v2.1M1346.5 204.9v2.1M1354.5 204.9v2.1M1367.5 204.9v2.1M1376.5 204.9v2.1M1404.5 204.9v2.1M1405.5 204.9v2.1M1413.5 204.9v2.1M1428.5 204.9v2.1M1429.5 204.9v2.1M1435.5 204.9v2.1M1437.5 204.9v2.1M1437.5 204.9v2.1M1440.5 204.9v2.1M1448.5 204.9v2.1M1455.5 204.9v2.1M1468.5 204.9v2.1M1475.5 204.9v2.1M1476.5 204.9v2.1M1477.5 204.9v2.1M1485.5 204.9v2.1M1486.5 204.9v2.1M1487.5 204.9v2.1M1488.5 204.9v2.1M1493.5 204.9v2.1M1496.5 204.9v2.1M1497.5 204.9v2.1M1499.5 204.9v2.1M1500.5 204.9v2.1M1300.5 207.6v2.1M1317.5 207.6v2.1M1320.5 207.6v2.1M1325.5 207.6v2.1M1337.5 207.6v2.1M1357.5 207.6v2.1M1414.5 207.6v2.1M1419.5 207.6v2.1M1439.5 207.6v2.1M1440.5 207.6v2.1M1446.5 207.6v2.1M1497.5 207.6v2.1M1515.5 207.6v2.1M1294.5 210.3v2.1M1300.5 210.3v2.1M1320.5 210.3v2.1M1320.5 210.3v2.1M1320.5 210.3v2.1M1328.5 210.3v2.1M1330.5 210.3v2.1M1359.5 210.3v2.1M1391.5 210.3v2.1M1397.5 210.3v2.1M1422.5 210.3v2.1M1423.5 210.3v2.1M1427.5 210.3v2.1M1438.5 210.3v2.1M1439.5 210.3v2.1M1445.5 210.3v2.1M1446.5 210.3v2.1M1446.5 210.3v2.1M1452.5 210.3v2.1M1460.5 210.3v2.1M1460.5 210.3v2.1M1468.5 210.3v2.1M1470.5 210.3v2.1M1482.5 210.3v2.1M1485.5 210.3v2.1M1502.5 210.3v2.1M1505.5 210.3v2.1M1295.5 213v2.1M1310.5 213v2.1M1324.5 213v2.1M1328.5 213v2.1M1329.5 213v2.1M1340.5 213v2.1M1369.5 213v2.1M1408.5 213v2.1M1419.5 213v2.1M1433.5 213v2.1M1438.5 213v2.1M1442.5 213v2.1M1457.5 213v2.1M1465.5 213v2.1M1472.5 213v2.1M1474.5 213v2.1M1483.5 213v2.1M1500.5 213v2.1M1504.5 213v2.1M1507.5 213v2.1M1295.5 215.7v2.1M1301.5 215.7v2.1M1304.5 215.7v2.1M1304.5 215.7v2.1M1314.5 215.7v2.1M1315.5 215.7v2.1M1324.5 215.7v2.1M1337.5 215.7v2.1M1367.5 215.7v2.1M1377.5 215.7v2.1M1378.5 215.7v2.1M1379.5 215.7v2.1M1397.5 215.7v2.1M1411.5 215.7v2.1M1414.5 215.7v2.1M1416.5 215.7v2.1M1421.5 215.7v2.1M1425.5 215.7v2.1M1426.5 215.7v2.1M1429.5 215.7v2.1M1433.5 215.7v2.1M1435.5 215.7v2.1M1436.5 215.7v2.1M1440.5 215.7v2.1M1446.5 215.7v2.1M1447.5 215.7v2.1M1447.5 215.7v2.1M1448.5 215.7v2.1M1451.5 215.7v2.1M1452.5 215.7v2.1M1453.5 215.7v2.1M1455.5 215.7v2.1M1456.5 215.7v2.1M1458.5 215.7v2.1M1464.5 215.7v2.1M1471.5 215.7v2.1M1487.5 215.7v2.1M1495.5 215.7v2.1M1498.5 215.7v2.1M1501.5 215.7v2.1M1504.5 215.7v2.1M1506.5 215.7v2.1M1509.5 215.7v2.1M1509.5 215.7v2.1M1302.5 218.3v2.1M1308.5 218.3v2.1M1311.5 218.3v2.1M1312.5 218.3v2.1M1314.5 218.3v2.1M1316.5 218.3v2.1M1320.5 218.3v2.1M1327.5 218.3v2.1M1328.5 218.3v2.1M1335.5 218.3v2.1M1336.5 218.3v2.1M1371.5 218.3v2.1M1395.5 218.3v2.1M1424.5 218.3v2.1M1424.5 218.3v2.1M1433.5 218.3v2.1M1434.5 218.3v2.1M1443.5 218.3v2.1M1445.5 218.3v2.1M1457.5 218.3v2.1M1457.5 218.3v2.1M1460.5 218.3v2.1M1466.5 218.3v2.1M1482.5 218.3v2.1M1490.5 218.3v2.1M1493.5 218.3v2.1M1493.5 218.3v2.1M1501.5 218.3v2.1M1501.5 218.3v2.1M1502.5 218.3v2.1M1304.5 221v2.1M1323.5 221v2.1M1332.5 221v2.1M1343.5 221v2.1M1398.5 221v2.1M1409.5 221v2.1M1421.5 221v2.1M1427.5 221v2.1M1427.5 221v2.1M1428.5 221v2.1M1431.5 221v2.1M1433.5 221v2.1M1441.5 221v2.1M1448.5 221v2.1M1452.5 221v2.1M1465.5 221v2.1M1469.5 221v2.1M1486.5 221v2.1M1487.5 221v2.1M1502.5 221v2.1M1508.5 221v2.1M1512.5 221v2.1M1296.5 223.7v2.1M1313.5 223.7v2.1M1313.5 223.7v2.1M1319.5 223.7v2.1M1323.5 223.7v2.1M1331.5 223.7v2.1M1343.5 223.7v2.1M1351.5 223.7v2.1M1364.5 223.7v2.1M1383.5 223.7v2.1M1427.5 223.7v2.1M1435.5 223.7v2.1M1441.5 223.7v2.1M1446.5 223.7v2.1M1448.5 223.7v2.1M1449.5 223.7v2.1M1454.5 223.7v2.1M1455.5 223.7v2.1M1462.5 223.7v2.1M1464.5 223.7v2.1M1472.5 223.7v2.1M1475.5 223.7v2.1M1475.5 223.7v2.1M1477.5 223.7v2.1M1477.5 223.7v2.1M1485.5 223.7v2.1M1491.5 223.7v2.1M1493.5 223.7v2.1M1495.5 223.7v2.1M1511.5 223.7v2.1M1516.5 223.7v2.1M1297.5 226.4v2.1M1304.5 226.4v2.1M1311.5 226.4v2.1M1312.5 226.4v2.1M1341.5 226.4v2.1M1347.5 226.4v2.1M1354.5 226.4v2.1M1357.5 226.4v2.1M1393.5 226.4v2.1M1413.5 226.4v2.1M1426.5 226.4v2.1M1436.5 226.4v2.1M1437.5 226.4v2.1M1442.5 226.4v2.1M1452.5 226.4v2.1M1459.5 226.4v2.1M1461.5 226.4v2.1M1464.5 226.4v2.1M1472.5 226.4v2.1M1508.5 226.4v2.1M1510.5 226.4v2.1M1297.5 229.1v2.1M1330.5 229.1v2.1M1333.5 229.1v2.1M1371.5 229.1v2.1M1381.5 229.1v2.1M1381.5 229.1v2.1M1415.5 229.1v2.1M1415.5 229.1v2.1M1420.5 229.1v2.1M1435.5 229.1v2.1M1436.5 229.1v2.1M1447.5 229.1v2.1M1450.5 229.1v2.1M1456.5 229.1v2.1M1461.5 229.1v2.1M1478.5 229.1v2.1M1482.5 229.1v2.1M1484.5 229.1v2.1M1500.5 229.1v2.1M1504.5 229.1v2.1M1509.5 229.1v2.1M1510.5 229.1v2.1" stroke="#000" stroke-width="1.2" fill="none"/>
<line x1="1358.6" y1="43.5" x2="1358.6" y2="231.5" stroke="#d8283a" stroke-width="1.0" stroke-dasharray="1.2,1.6"/>
<path d="M1293.6 42.5V231.5H1518.2" stroke="#1a1a1a" stroke-width="1.8" fill="none"/>
<line x1="1289.6" y1="97.3" x2="1293.6" y2="97.3" stroke="#1a1a1a" stroke-width="1.6" />
<text x="1283" y="103.9" font-size="21" text-anchor="end">20</text>
<line x1="1289.6" y1="150.8" x2="1293.6" y2="150.8" stroke="#1a1a1a" stroke-width="1.6" />
<text x="1283" y="157.4" font-size="21" text-anchor="end">40</text>
<line x1="1289.6" y1="204.9" x2="1293.6" y2="204.9" stroke="#1a1a1a" stroke-width="1.6" />
<text x="1283" y="211.5" font-size="21" text-anchor="end">60</text>
<line x1="1289.6" y1="43.5" x2="1293.6" y2="43.5" stroke="#1a1a1a" stroke-width="1.6" />
<line x1="1293.6" y1="231.5" x2="1293.6" y2="235" stroke="#1a1a1a" stroke-width="1.6" />
<line x1="1358.6" y1="231.5" x2="1358.6" y2="235" stroke="#1a1a1a" stroke-width="1.6" />
<line x1="1423.6" y1="231.5" x2="1423.6" y2="235" stroke="#1a1a1a" stroke-width="1.6" />
<line x1="1488.6" y1="231.5" x2="1488.6" y2="235" stroke="#1a1a1a" stroke-width="1.6" />
<line x1="1518.2" y1="231.5" x2="1518.2" y2="235" stroke="#1a1a1a" stroke-width="1.6" />
<rect x="1571.5" y="43.5" width="225.1" height="188" fill="#d3e5f2"/>
<path d="M1640.5 43.7v1.9M1651.5 43.7v1.9M1675.5 43.7v1.9M1685.5 43.7v1.9M1695.5 43.7v1.9M1706.5 43.7v1.9M1721.5 43.7v1.9M1749.5 43.7v1.9M1756.5 43.7v1.9M1777.5 43.7v1.9M1597.5 46.1v1.9M1611.5 46.1v1.9M1637.5 46.1v1.9M1648.5 46.1v1.9M1664.5 46.1v1.9M1666.5 46.1v1.9M1669.5 46.1v1.9M1683.5 46.1v1.9M1690.5 46.1v1.9M1691.5 46.1v1.9M1714.5 46.1v1.9M1745.5 46.1v1.9M1772.5 46.1v1.9M1779.5 46.1v1.9M1790.5 46.1v1.9M1592.5 48.5v1.9M1627.5 48.5v1.9M1631.5 48.5v1.9M1670.5 48.5v1.9M1680.5 48.5v1.9M1682.5 48.5v1.9M1688.5 48.5v1.9M1692.5 48.5v1.9M1699.5 48.5v1.9M1704.5 48.5v1.9M1709.5 48.5v1.9M1715.5 48.5v1.9M1753.5 48.5v1.9M1757.5 48.5v1.9M1772.5 48.5v1.9M1783.5 48.5v1.9M1794.5 48.5v1.9M1599.5 50.9v1.9M1603.5 50.9v1.9M1669.5 50.9v1.9M1676.5 50.9v1.9M1682.5 50.9v1.9M1686.5 50.9v1.9M1690.5 50.9v1.9M1698.5 50.9v1.9M1712.5 50.9v1.9M1714.5 50.9v1.9M1726.5 50.9v1.9M1727.5 50.9v1.9M1755.5 50.9v1.9M1787.5 50.9v1.9M1795.5 50.9v1.9M1572.5 53.3v1.9M1586.5 53.3v1.9M1592.5 53.3v1.9M1599.5 53.3v1.9M1620.5 53.3v1.9M1620.5 53.3v1.9M1627.5 53.3v1.9M1629.5 53.3v1.9M1660.5 53.3v1.9M1667.5 53.3v1.9M1673.5 53.3v1.9M1676.5 53.3v1.9M1677.5 53.3v1.9M1680.5 53.3v1.9M1680.5 53.3v1.9M1689.5 53.3v1.9M1690.5 53.3v1.9M1692.5 53.3v1.9M1710.5 53.3v1.9M1714.5 53.3v1.9M1715.5 53.3v1.9M1719.5 53.3v1.9M1728.5 53.3v1.9M1741.5 53.3v1.9M1744.5 53.3v1.9M1774.5 53.3v1.9M1777.5 53.3v1.9M1782.5 53.3v1.9M1783.5 53.3v1.9M1788.5 53.3v1.9M1789.5 53.3v1.9M1795.5 53.3v1.9M1578.5 55.6v1.9M1592.5 55.6v1.9M1601.5 55.6v1.9M1635.5 55.6v1.9M1642.5 55.6v1.9M1651.5 55.6v1.9M1663.5 55.6v1.9M1666.5 55.6v1.9M1675.5 55.6v1.9M1691.5 55.6v1.9M1693.5 55.6v1.9M1696.5 55.6v1.9M1697.5 55.6v1.9M1698.5 55.6v1.9M1710.5 55.6v1.9M1710.5 55.6v1.9M1735.5 55.6v1.9M1773.5 55.6v1.9M1606.5 58v1.9M1662.5 58v1.9M1665.5 58v1.9M1673.5 58v1.9M1678.5 58v1.9M1681.5 58v1.9M1683.5 58v1.9M1690.5 58v1.9M1694.5 58v1.9M1695.5 58v1.9M1708.5 58v1.9M1710.5 58v1.9M1713.5 58v1.9M1713.5 58v1.9M1723.5 58v1.9M1732.5 58v1.9M1738.5 58v1.9M1742.5 58v1.9M1746.5 58v1.9M1747.5 58v1.9M1749.5 58v1.9M1763.5 58v1.9M1780.5 58v1.9M1784.5 58v1.9M1591.5 60.4v1.9M1608.5 60.4v1.9M1614.5 60.4v1.9M1677.5 60.4v1.9M1694.5 60.4v1.9M1703.5 60.4v1.9M1708.5 60.4v1.9M1723.5 60.4v1.9M1740.5 60.4v1.9M1751.5 60.4v1.9M1753.5 60.4v1.9M1789.5 60.4v1.9M1793.5 60.4v1.9M1593.5 62.8v1.9M1620.5 62.8v1.9M1645.5 62.8v1.9M1652.5 62.8v1.9M1659.5 62.8v1.9M1659.5 62.8v1.9M1662.5 62.8v1.9M1667.5 62.8v1.9M1671.5 62.8v1.9M1672.5 62.8v1.9M1672.5 62.8v1.9M1684.5 62.8v1.9M1688.5 62.8v1.9M1699.5 62.8v1.9M1700.5 62.8v1.9M1707.5 62.8v1.9M1708.5 62.8v1.9M1722.5 62.8v1.9M1725.5 62.8v1.9M1730.5 62.8v1.9M1732.5 62.8v1.9M1737.5 62.8v1.9M1770.5 62.8v1.9M1776.5 62.8v1.9M1777.5 62.8v1.9M1778.5 62.8v1.9M1781.5 62.8v1.9M1784.5 62.8v1.9M1787.5 62.8v1.9M1572.5 65.2v1.9M1574.5 65.2v1.9M1578.5 65.2v1.9M1584.5 65.2v1.9M1588.5 65.2v1.9M1645.5 65.2v1.9M1664.5 65.2v1.9M1665.5 65.2v1.9M1673.5 65.2v1.9M1676.5 65.2v1.9M1678.5 65.2v1.9M1683.5 65.2v1.9M1685.5 65.2v1.9M1686.5 65.2v1.9M1690.5 65.2v1.9M1691.5 65.2v1.9M1692.5 65.2v1.9M1694.5 65.2v1.9M1697.5 65.2v1.9M1699.5 65.2v1.9M1709.5 65.2v1.9M1722.5 65.2v1.9M1726.5 65.2v1.9M1738.5 65.2v1.9M1745.5 65.2v1.9M1749.5 65.2v1.9M1751.5 65.2v1.9M1755.5 65.2v1.9M1756.5 65.2v1.9M1760.5 65.2v1.9M1772.5 65.2v1.9M1784.5 65.2v1.9M1580.5 67.5v1.9M1621.5 67.5v1.9M1623.5 67.5v1.9M1649.5 67.5v1.9M1655.5 67.5v1.9M1676.5 67.5v1.9M1679.5 67.5v1.9M1686.5 67.5v1.9M1686.5 67.5v1.9M1731.5 67.5v1.9M1734.5 67.5v1.9M1753.5 67.5v1.9M1765.5 67.5v1.9M1767.5 67.5v1.9M1770.5 67.5v1.9M1776.5 67.5v1.9M1781.5 67.5v1.9M1783.5 67.5v1.9M1686.5 69.9v1.9M1750.5 69.9v1.9M1794.5 69.9v1.9M1641.5 72.3v1.9M1652.5 72.3v1.9M1663.5 72.3v1.9M1674.5 72.3v1.9M1678.5 72.3v1.9M1679.5 72.3v1.9M1685.5 72.3v1.9M1686.5 72.3v1.9M1687.5 72.3v1.9M1697.5 72.3v1.9M1708.5 72.3v1.9M1715.5 72.3v1.9M1718.5 72.3v1.9M1720.5 72.3v1.9M1722.5 72.3v1.9M1722.5 72.3v1.9M1727.5 72.3v1.9M1730.5 72.3v1.9M1734.5 72.3v1.9M1741.5 72.3v1.9M1743.5 72.3v1.9M1746.5 72.3v1.9M1747.5 72.3v1.9M1771.5 72.3v1.9M1774.5 72.3v1.9M1778.5 72.3v1.9M1790.5 72.3v1.9M1791.5 72.3v1.9M1791.5 72.3v1.9M1794.5 72.3v1.9M1575.5 74.7v1.9M1639.5 74.7v1.9M1652.5 74.7v1.9M1663.5 74.7v1.9M1675.5 74.7v1.9M1687.5 74.7v1.9M1687.5 74.7v1.9M1695.5 74.7v1.9M1706.5 74.7v1.9M1707.5 74.7v1.9M1714.5 74.7v1.9M1716.5 74.7v1.9M1717.5 74.7v1.9M1728.5 74.7v1.9M1739.5 74.7v1.9M1754.5 74.7v1.9M1757.5 74.7v1.9M1770.5 74.7v1.9M1772.5 74.7v1.9M1778.5 74.7v1.9M1637.5 77.1v1.9M1668.5 77.1v1.9M1674.5 77.1v1.9M1675.5 77.1v1.9M1677.5 77.1v1.9M1702.5 77.1v1.9M1710.5 77.1v1.9M1757.5 77.1v1.9M1791.5 77.1v1.9M1591.5 79.4v1.9M1607.5 79.4v1.9M1646.5 79.4v1.9M1662.5 79.4v1.9M1670.5 79.4v1.9M1671.5 79.4v1.9M1680.5 79.4v1.9M1705.5 79.4v1.9M1712.5 79.4v1.9M1721.5 79.4v1.9M1727.5 79.4v1.9M1728.5 79.4v1.9M1731.5 79.4v1.9M1733.5 79.4v1.9M1743.5 79.4v1.9M1749.5 79.4v1.9M1754.5 79.4v1.9M1572.5 81.8v1.9M1582.5 81.8v1.9M1585.5 81.8v1.9M1627.5 81.8v1.9M1627.5 81.8v1.9M1639.5 81.8v1.9M1639.5 81.8v1.9M1657.5 81.8v1.9M1664.5 81.8v1.9M1665.5 81.8v1.9M1673.5 81.8v1.9M1685.5 81.8v1.9M1696.5 81.8v1.9M1707.5 81.8v1.9M1716.5 81.8v1.9M1725.5 81.8v1.9M1734.5 81.8v1.9M1740.5 81.8v1.9M1740.5 81.8v1.9M1744.5 81.8v1.9M1748.5 81.8v1.9M1760.5 81.8v1.9M1761.5 81.8v1.9M1791.5 81.8v1.9M1792.5 81.8v1.9M1792.5 81.8v1.9M1589.5 84.2v1.9M1593.5 84.2v1.9M1623.5 84.2v1.9M1630.5 84.2v1.9M1642.5 84.2v1.9M1660.5 84.2v1.9M1664.5 84.2v1.9M1670.5 84.2v1.9M1673.5 84.2v1.9M1674.5 84.2v1.9M1677.5 84.2v1.9M1697.5 84.2v1.9M1710.5 84.2v1.9M1720.5 84.2v1.9M1722.5 84.2v1.9M1729.5 84.2v1.9M1734.5 84.2v1.9M1748.5 84.2v1.9M1767.5 84.2v1.9M1775.5 84.2v1.9M1775.5 84.2v1.9M1589.5 86.6v1.9M1592.5 86.6v1.9M1597.5 86.6v1.9M1600.5 86.6v1.9M1612.5 86.6v1.9M1618.5 86.6v1.9M1619.5 86.6v1.9M1645.5 86.6v1.9M1648.5 86.6v1.9M1653.5 86.6v1.9M1659.5 86.6v1.9M1660.5 86.6v1.9M1681.5 86.6v1.9M1698.5 86.6v1.9M1707.5 86.6v1.9M1793.5 86.6v1.9M1586.5 89v1.9M1592.5 89v1.9M1605.5 89v1.9M1629.5 89v1.9M1634.5 89v1.9M1640.5 89v1.9M1645.5 89v1.9M1648.5 89v1.9M1702.5 89v1.9M1713.5 89v1.9M1720.5 89v1.9M1746.5 89v1.9M1755.5 89v1.9M1781.5 89v1.9M1574.5 91.3v1.9M1580.5 91.3v1.9M1588.5 91.3v1.9M1589.5 91.3v1.9M1608.5 91.3v1.9M1610.5 91.3v1.9M1615.5 91.3v1.9M1631.5 91.3v1.9M1643.5 91.3v1.9M1655.5 91.3v1.9M1658.5 91.3v1.9M1663.5 91.3v1.9M1670.5 91.3v1.9M1679.5 91.3v1.9M1681.5 91.3v1.9M1704.5 91.3v1.9M1716.5 91.3v1.9M1728.5 91.3v1.9M1738.5 91.3v1.9M1738.5 91.3v1.9M1761.5 91.3v1.9M1773.5 91.3v1.9M1787.5 91.3v1.9M1790.5 91.3v1.9M1576.5 93.7v1.9M1580.5 93.7v1.9M1588.5 93.7v1.9M1596.5 93.7v1.9M1614.5 93.7v1.9M1634.5 93.7v1.9M1641.5 93.7v1.9M1643.5 93.7v1.9M1652.5 93.7v1.9M1668.5 93.7v1.9M1671.5 93.7v1.9M1677.5 93.7v1.9M1683.5 93.7v1.9M1691.5 93.7v1.9M1695.5 93.7v1.9M1709.5 93.7v1.9M1714.5 93.7v1.9M1719.5 93.7v1.9M1737.5 93.7v1.9M1748.5 93.7v1.9M1763.5 93.7v1.9M1772.5 93.7v1.9M1779.5 93.7v1.9M1780.5 93.7v1.9M1583.5 96.1v1.9M1586.5 96.1v1.9M1587.5 96.1v1.9M1597.5 96.1v1.9M1601.5 96.1v1.9M1627.5 96.1v1.9M1631.5 96.1v1.9M1635.5 96.1v1.9M1648.5 96.1v1.9M1651.5 96.1v1.9M1696.5 96.1v1.9M1702.5 96.1v1.9M1704.5 96.1v1.9M1710.5 96.1v1.9M1731.5 96.1v1.9M1733.5 96.1v1.9M1738.5 96.1v1.9M1774.5 96.1v1.9M1791.5 96.1v1.9M1591.5 98.5v1.9M1661.5 98.5v1.9M1744.5 98.5v1.9M1778.5 98.5v1.9M1788.5 98.5v1.9M1651.5 100.9v1.9M1686.5 100.9v1.9M1693.5 100.9v1.9M1699.5 100.9v1.9M1701.5 100.9v1.9M1708.5 100.9v1.9M1713.5 100.9v1.9M1723.5 100.9v1.9M1733.5 100.9v1.9M1761.5 100.9v1.9M1767.5 100.9v1.9M1579.5 103.2v1.9M1596.5 103.2v1.9M1601.5 103.2v1.9M1603.5 103.2v1.9M1608.5 103.2v1.9M1613.5 103.2v1.9M1613.5 103.2v1.9M1620.5 103.2v1.9M1621.5 103.2v1.9M1631.5 103.2v1.9M1638.5 103.2v1.9M1642.5 103.2v1.9M1649.5 103.2v1.9M1655.5 103.2v1.9M1669.5 103.2v1.9M1671.5 103.2v1.9M1674.5 103.2v1.9M1679.5 103.2v1.9M1679.5 103.2v1.9M1680.5 103.2v1.9M1686.5 103.2v1.9M1693.5 103.2v1.9M1693.5 103.2v1.9M1694.5 103.2v1.9M1703.5 103.2v1.9M1709.5 103.2v1.9M1711.5 103.2v1.9M1712.5 103.2v1.9M1717.5 103.2v1.9M1720.5 103.2v1.9M1731.5 103.2v1.9M1737.5 103.2v1.9M1740.5 103.2v1.9M1752.5 103.2v1.9M1755.5 103.2v1.9M1758.5 103.2v1.9M1762.5 103.2v1.9M1772.5 103.2v1.9M1781.5 103.2v1.9M1783.5 103.2v1.9M1573.5 105.6v1.9M1580.5 105.6v1.9M1581.5 105.6v1.9M1592.5 105.6v1.9M1594.5 105.6v1.9M1604.5 105.6v1.9M1649.5 105.6v1.9M1657.5 105.6v1.9M1668.5 105.6v1.9M1677.5 105.6v1.9M1681.5 105.6v1.9M1690.5 105.6v1.9M1691.5 105.6v1.9M1705.5 105.6v1.9M1716.5 105.6v1.9M1720.5 105.6v1.9M1722.5 105.6v1.9M1722.5 105.6v1.9M1733.5 105.6v1.9M1735.5 105.6v1.9M1738.5 105.6v1.9M1738.5 105.6v1.9M1747.5 105.6v1.9M1757.5 105.6v1.9M1757.5 105.6v1.9M1757.5 105.6v1.9M1781.5 105.6v1.9M1792.5 105.6v1.9M1632.5 108v1.9M1720.5 108v1.9M1727.5 108v1.9M1728.5 108v1.9M1730.5 108v1.9M1746.5 108v1.9M1752.5 108v1.9M1775.5 108v1.9M1784.5 108v1.9M1602.5 110.4v1.9M1603.5 110.4v1.9M1616.5 110.4v1.9M1630.5 110.4v1.9M1658.5 110.4v1.9M1701.5 110.4v1.9M1710.5 110.4v1.9M1720.5 110.4v1.9M1726.5 110.4v1.9M1731.5 110.4v1.9M1734.5 110.4v1.9M1782.5 110.4v1.9M1580.5 112.8v1.9M1587.5 112.8v1.9M1627.5 112.8v1.9M1627.5 112.8v1.9M1629.5 112.8v1.9M1664.5 112.8v1.9M1685.5 112.8v1.9M1724.5 112.8v1.9M1727.5 112.8v1.9M1765.5 112.8v1.9M1790.5 112.8v1.9M1594.5 115.1v1.9M1666.5 115.1v1.9M1666.5 115.1v1.9M1672.5 115.1v1.9M1675.5 115.1v1.9M1701.5 115.1v1.9M1704.5 115.1v1.9M1731.5 115.1v1.9M1735.5 115.1v1.9M1788.5 115.1v1.9M1792.5 115.1v1.9M1585.5 117.5v1.9M1627.5 117.5v1.9M1630.5 117.5v1.9M1635.5 117.5v1.9M1636.5 117.5v1.9M1638.5 117.5v1.9M1639.5 117.5v1.9M1645.5 117.5v1.9M1649.5 117.5v1.9M1663.5 117.5v1.9M1663.5 117.5v1.9M1664.5 117.5v1.9M1669.5 117.5v1.9M1695.5 117.5v1.9M1701.5 117.5v1.9M1702.5 117.5v1.9M1704.5 117.5v1.9M1716.5 117.5v1.9M1720.5 117.5v1.9M1727.5 117.5v1.9M1731.5 117.5v1.9M1745.5 117.5v1.9M1755.5 117.5v1.9M1757.5 117.5v1.9M1764.5 117.5v1.9M1772.5 117.5v1.9M1773.5 117.5v1.9M1780.5 117.5v1.9M1595.5 119.9v1.9M1599.5 119.9v1.9M1613.5 119.9v1.9M1628.5 119.9v1.9M1628.5 119.9v1.9M1644.5 119.9v1.9M1673.5 119.9v1.9M1683.5 119.9v1.9M1683.5 119.9v1.9M1686.5 119.9v1.9M1686.5 119.9v1.9M1695.5 119.9v1.9M1728.5 119.9v1.9M1729.5 119.9v1.9M1740.5 119.9v1.9M1752.5 119.9v1.9M1754.5 119.9v1.9M1755.5 119.9v1.9M1794.5 119.9v1.9M1609.5 122.3v1.9M1614.5 122.3v1.9M1625.5 122.3v1.9M1631.5 122.3v1.9M1669.5 122.3v1.9M1677.5 122.3v1.9M1687.5 122.3v1.9M1692.5 122.3v1.9M1716.5 122.3v1.9M1739.5 122.3v1.9M1794.5 122.3v1.9M1574.5 124.6v1.9M1576.5 124.6v1.9M1579.5 124.6v1.9M1593.5 124.6v1.9M1604.5 124.6v1.9M1608.5 124.6v1.9M1608.5 124.6v1.9M1613.5 124.6v1.9M1639.5 124.6v1.9M1640.5 124.6v1.9M1651.5 124.6v1.9M1692.5 124.6v1.9M1694.5 124.6v1.9M1710.5 124.6v1.9M1713.5 124.6v1.9M1572.5 127v1.9M1622.5 127v1.9M1628.5 127v1.9M1628.5 127v1.9M1629.5 127v1.9M1651.5 127v1.9M1653.5 127v1.9M1654.5 127v1.9M1664.5 127v1.9M1687.5 127v1.9M1693.5 127v1.9M1694.5 127v1.9M1705.5 127v1.9M1718.5 127v1.9M1719.5 127v1.9M1749.5 127v1.9M1772.5 127v1.9M1784.5 127v1.9M1788.5 127v1.9M1630.5 129.4v1.9M1646.5 129.4v1.9M1657.5 129.4v1.9M1680.5 129.4v1.9M1687.5 129.4v1.9M1694.5 129.4v1.9M1705.5 129.4v1.9M1761.5 129.4v1.9M1771.5 129.4v1.9M1780.5 129.4v1.9M1789.5 129.4v1.9M1793.5 129.4v1.9M1576.5 131.8v1.9M1605.5 131.8v1.9M1625.5 131.8v1.9M1640.5 131.8v1.9M1719.5 131.8v1.9M1727.5 131.8v1.9M1746.5 131.8v1.9M1583.5 134.2v1.9M1588.5 134.2v1.9M1596.5 134.2v1.9M1600.5 134.2v1.9M1611.5 134.2v1.9M1629.5 134.2v1.9M1658.5 134.2v1.9M1680.5 134.2v1.9M1702.5 134.2v1.9M1722.5 134.2v1.9M1744.5 134.2v1.9M1753.5 134.2v1.9M1756.5 134.2v1.9M1580.5 136.5v1.9M1585.5 136.5v1.9M1592.5 136.5v1.9M1604.5 136.5v1.9M1629.5 136.5v1.9M1631.5 136.5v1.9M1633.5 136.5v1.9M1642.5 136.5v1.9M1679.5 136.5v1.9M1684.5 136.5v1.9M1687.5 136.5v1.9M1691.5 136.5v1.9M1696.5 136.5v1.9M1697.5 136.5v1.9M1700.5 136.5v1.9M1732.5 136.5v1.9M1752.5 136.5v1.9M1755.5 136.5v1.9M1761.5 136.5v1.9M1768.5 136.5v1.9M1787.5 136.5v1.9M1794.5 136.5v1.9M1616.5 138.9v1.9M1618.5 138.9v1.9M1624.5 138.9v1.9M1651.5 138.9v1.9M1676.5 138.9v1.9M1701.5 138.9v1.9M1730.5 138.9v1.9M1735.5 138.9v1.9M1786.5 138.9v1.9M1580.5 141.3v1.9M1587.5 141.3v1.9M1589.5 141.3v1.9M1635.5 141.3v1.9M1640.5 141.3v1.9M1668.5 141.3v1.9M1681.5 141.3v1.9M1688.5 141.3v1.9M1695.5 141.3v1.9M1700.5 141.3v1.9M1706.5 141.3v1.9M1734.5 141.3v1.9M1777.5 141.3v1.9M1585.5 143.7v1.9M1589.5 143.7v1.9M1607.5 143.7v1.9M1610.5 143.7v1.9M1613.5 143.7v1.9M1615.5 143.7v1.9M1616.5 143.7v1.9M1625.5 143.7v1.9M1633.5 143.7v1.9M1718.5 143.7v1.9M1762.5 143.7v1.9M1770.5 143.7v1.9M1774.5 143.7v1.9M1792.5 143.7v1.9M1588.5 146.1v1.9M1592.5 146.1v1.9M1598.5 146.1v1.9M1608.5 146.1v1.9M1616.5 146.1v1.9M1632.5 146.1v1.9M1643.5 146.1v1.9M1657.5 146.1v1.9M1674.5 146.1v1.9M1685.5 146.1v1.9M1691.5 146.1v1.9M1691.5 146.1v1.9M1728.5 146.1v1.9M1743.5 146.1v1.9M1775.5 146.1v1.9M1781.5 146.1v1.9M1784.5 146.1v1.9M1593.5 148.4v1.9M1600.5 148.4v1.9M1602.5 148.4v1.9M1608.5 148.4v1.9M1608.5 148.4v1.9M1617.5 148.4v1.9M1619.5 148.4v1.9M1650.5 148.4v1.9M1664.5 148.4v1.9M1667.5 148.4v1.9M1677.5 148.4v1.9M1678.5 148.4v1.9M1701.5 148.4v1.9M1725.5 148.4v1.9M1740.5 148.4v1.9M1756.5 148.4v1.9M1777.5 148.4v1.9M1611.5 150.8v1.9M1621.5 150.8v1.9M1632.5 150.8v1.9M1639.5 150.8v1.9M1651.5 150.8v1.9M1741.5 150.8v1.9M1765.5 150.8v1.9M1782.5 150.8v1.9M1787.5 150.8v1.9M1591.5 153.2v1.9M1639.5 153.2v1.9M1668.5 153.2v1.9M1718.5 153.2v1.9M1720.5 153.2v1.9M1764.5 153.2v1.9M1772.5 153.2v1.9M1782.5 153.2v1.9M1789.5 153.2v1.9M1790.5 153.2v1.9M1574.5 155.6v1.9M1579.5 155.6v1.9M1579.5 155.6v1.9M1582.5 155.6v1.9M1590.5 155.6v1.9M1595.5 155.6v1.9M1598.5 155.6v1.9M1600.5 155.6v1.9M1605.5 155.6v1.9M1608.5 155.6v1.9M1609.5 155.6v1.9M1616.5 155.6v1.9M1620.5 155.6v1.9M1621.5 155.6v1.9M1624.5 155.6v1.9M1626.5 155.6v1.9M1629.5 155.6v1.9M1635.5 155.6v1.9M1658.5 155.6v1.9M1665.5 155.6v1.9M1666.5 155.6v1.9M1691.5 155.6v1.9M1698.5 155.6v1.9M1733.5 155.6v1.9M1750.5 155.6v1.9M1773.5 155.6v1.9M1795.5 155.6v1.9M1578.5 158v1.9M1612.5 158v1.9M1612.5 158v1.9M1640.5 158v1.9M1684.5 158v1.9M1709.5 158v1.9M1715.5 158v1.9M1744.5 158v1.9M1756.5 158v1.9M1767.5 158v1.9M1774.5 158v1.9M1602.5 160.3v1.9M1607.5 160.3v1.9M1618.5 160.3v1.9M1688.5 160.3v1.9M1691.5 160.3v1.9M1693.5 160.3v1.9M1700.5 160.3v1.9M1724.5 160.3v1.9M1729.5 160.3v1.9M1780.5 160.3v1.9M1579.5 162.7v1.9M1598.5 162.7v1.9M1609.5 162.7v1.9M1612.5 162.7v1.9M1621.5 162.7v1.9M1621.5 162.7v1.9M1623.5 162.7v1.9M1623.5 162.7v1.9M1663.5 162.7v1.9M1682.5 162.7v1.9M1703.5 162.7v1.9M1723.5 162.7v1.9M1781.5 162.7v1.9M1794.5 162.7v1.9M1574.5 165.1v1.9M1600.5 165.1v1.9M1604.5 165.1v1.9M1609.5 165.1v1.9M1611.5 165.1v1.9M1664.5 165.1v1.9M1678.5 165.1v1.9M1697.5 165.1v1.9M1713.5 165.1v1.9M1742.5 165.1v1.9M1594.5 167.5v1.9M1599.5 167.5v1.9M1602.5 167.5v1.9M1620.5 167.5v1.9M1621.5 167.5v1.9M1629.5 167.5v1.9M1646.5 167.5v1.9M1659.5 167.5v1.9M1677.5 167.5v1.9M1693.5 167.5v1.9M1693.5 167.5v1.9M1711.5 167.5v1.9M1721.5 167.5v1.9M1767.5 167.5v1.9M1772.5 167.5v1.9M1794.5 167.5v1.9M1574.5 169.9v1.9M1577.5 169.9v1.9M1578.5 169.9v1.9M1582.5 169.9v1.9M1586.5 169.9v1.9M1596.5 169.9v1.9M1611.5 169.9v1.9M1616.5 169.9v1.9M1619.5 169.9v1.9M1620.5 169.9v1.9M1623.5 169.9v1.9M1626.5 169.9v1.9M1628.5 169.9v1.9M1634.5 169.9v1.9M1635.5 169.9v1.9M1636.5 169.9v1.9M1637.5 169.9v1.9M1639.5 169.9v1.9M1643.5 169.9v1.9M1650.5 169.9v1.9M1656.5 169.9v1.9M1657.5 169.9v1.9M1660.5 169.9v1.9M1665.5 169.9v1.9M1673.5 169.9v1.9M1673.5 169.9v1.9M1681.5 169.9v1.9M1685.5 169.9v1.9M1696.5 169.9v1.9M1697.5 169.9v1.9M1704.5 169.9v1.9M1774.5 169.9v1.9M1779.5 169.9v1.9M1791.5 169.9v1.9M1606.5 172.2v1.9M1613.5 172.2v1.9M1614.5 172.2v1.9M1638.5 172.2v1.9M1657.5 172.2v1.9M1663.5 172.2v1.9M1665.5 172.2v1.9M1670.5 172.2v1.9M1679.5 172.2v1.9M1709.5 172.2v1.9M1736.5 172.2v1.9M1759.5 172.2v1.9M1764.5 172.2v1.9M1772.5 172.2v1.9M1601.5 174.6v1.9M1602.5 174.6v1.9M1606.5 174.6v1.9M1616.5 174.6v1.9M1619.5 174.6v1.9M1633.5 174.6v1.9M1634.5 174.6v1.9M1642.5 174.6v1.9M1651.5 174.6v1.9M1652.5 174.6v1.9M1662.5 174.6v1.9M1664.5 174.6v1.9M1668.5 174.6v1.9M1678.5 174.6v1.9M1683.5 174.6v1.9M1695.5 174.6v1.9M1697.5 174.6v1.9M1698.5 174.6v1.9M1716.5 174.6v1.9M1721.5 174.6v1.9M1747.5 174.6v1.9M1751.5 174.6v1.9M1790.5 174.6v1.9M1601.5 177v1.9M1622.5 177v1.9M1667.5 177v1.9M1680.5 177v1.9M1709.5 177v1.9M1735.5 177v1.9M1740.5 177v1.9M1754.5 177v1.9M1792.5 177v1.9M1590.5 179.4v1.9M1606.5 179.4v1.9M1613.5 179.4v1.9M1619.5 179.4v1.9M1624.5 179.4v1.9M1634.5 179.4v1.9M1644.5 179.4v1.9M1656.5 179.4v1.9M1673.5 179.4v1.9M1679.5 179.4v1.9M1715.5 179.4v1.9M1718.5 179.4v1.9M1720.5 179.4v1.9M1729.5 179.4v1.9M1730.5 179.4v1.9M1738.5 179.4v1.9M1744.5 179.4v1.9M1623.5 181.8v1.9M1636.5 181.8v1.9M1656.5 181.8v1.9M1672.5 181.8v1.9M1696.5 181.8v1.9M1777.5 181.8v1.9M1783.5 181.8v1.9M1584.5 184.1v1.9M1588.5 184.1v1.9M1600.5 184.1v1.9M1605.5 184.1v1.9M1608.5 184.1v1.9M1618.5 184.1v1.9M1620.5 184.1v1.9M1621.5 184.1v1.9M1647.5 184.1v1.9M1654.5 184.1v1.9M1666.5 184.1v1.9M1685.5 184.1v1.9M1689.5 184.1v1.9M1695.5 184.1v1.9M1706.5 184.1v1.9M1708.5 184.1v1.9M1710.5 184.1v1.9M1711.5 184.1v1.9M1720.5 184.1v1.9M1722.5 184.1v1.9M1727.5 184.1v1.9M1793.5 184.1v1.9M1599.5 186.5v1.9M1600.5 186.5v1.9M1606.5 186.5v1.9M1613.5 186.5v1.9M1618.5 186.5v1.9M1628.5 186.5v1.9M1628.5 186.5v1.9M1647.5 186.5v1.9M1657.5 186.5v1.9M1686.5 186.5v1.9M1687.5 186.5v1.9M1694.5 186.5v1.9M1697.5 186.5v1.9M1698.5 186.5v1.9M1710.5 186.5v1.9M1714.5 186.5v1.9M1716.5 186.5v1.9M1720.5 186.5v1.9M1724.5 186.5v1.9M1725.5 186.5v1.9M1729.5 186.5v1.9M1749.5 186.5v1.9M1763.5 186.5v1.9M1792.5 186.5v1.9M1611.5 188.9v1.9M1618.5 188.9v1.9M1618.5 188.9v1.9M1638.5 188.9v1.9M1646.5 188.9v1.9M1653.5 188.9v1.9M1671.5 188.9v1.9M1674.5 188.9v1.9M1712.5 188.9v1.9M1719.5 188.9v1.9M1726.5 188.9v1.9M1732.5 188.9v1.9M1751.5 188.9v1.9M1754.5 188.9v1.9M1755.5 188.9v1.9M1768.5 188.9v1.9M1771.5 188.9v1.9M1794.5 188.9v1.9M1573.5 191.3v1.9M1578.5 191.3v1.9M1584.5 191.3v1.9M1596.5 191.3v1.9M1636.5 191.3v1.9M1646.5 191.3v1.9M1659.5 191.3v1.9M1659.5 191.3v1.9M1685.5 191.3v1.9M1692.5 191.3v1.9M1708.5 191.3v1.9M1717.5 191.3v1.9M1728.5 191.3v1.9M1745.5 191.3v1.9M1749.5 191.3v1.9M1753.5 191.3v1.9M1781.5 191.3v1.9M1783.5 191.3v1.9M1784.5 191.3v1.9M1575.5 193.7v1.9M1578.5 193.7v1.9M1587.5 193.7v1.9M1593.5 193.7v1.9M1651.5 193.7v1.9M1674.5 193.7v1.9M1684.5 193.7v1.9M1704.5 193.7v1.9M1706.5 193.7v1.9M1721.5 193.7v1.9M1734.5 193.7v1.9M1785.5 193.7v1.9M1793.5 193.7v1.9M1576.5 196v1.9M1624.5 196v1.9M1625.5 196v1.9M1640.5 196v1.9M1646.5 196v1.9M1651.5 196v1.9M1657.5 196v1.9M1663.5 196v1.9M1672.5 196v1.9M1681.5 196v1.9M1683.5 196v1.9M1687.5 196v1.9M1724.5 196v1.9M1734.5 196v1.9M1735.5 196v1.9M1760.5 196v1.9M1767.5 196v1.9M1769.5 196v1.9M1788.5 196v1.9M1602.5 198.4v1.9M1622.5 198.4v1.9M1626.5 198.4v1.9M1672.5 198.4v1.9M1718.5 198.4v1.9M1723.5 198.4v1.9M1795.5 198.4v1.9M1574.5 200.8v1.9M1622.5 200.8v1.9M1662.5 200.8v1.9M1669.5 200.8v1.9M1677.5 200.8v1.9M1697.5 200.8v1.9M1712.5 200.8v1.9M1794.5 200.8v1.9M1579.5 203.2v1.9M1596.5 203.2v1.9M1603.5 203.2v1.9M1623.5 203.2v1.9M1630.5 203.2v1.9M1632.5 203.2v1.9M1633.5 203.2v1.9M1652.5 203.2v1.9M1655.5 203.2v1.9M1674.5 203.2v1.9M1679.5 203.2v1.9M1682.5 203.2v1.9M1682.5 203.2v1.9M1695.5 203.2v1.9M1697.5 203.2v1.9M1700.5 203.2v1.9M1702.5 203.2v1.9M1721.5 203.2v1.9M1724.5 203.2v1.9M1734.5 203.2v1.9M1735.5 203.2v1.9M1742.5 203.2v1.9M1745.5 203.2v1.9M1747.5 203.2v1.9M1754.5 203.2v1.9M1769.5 203.2v1.9M1771.5 203.2v1.9M1771.5 203.2v1.9M1785.5 203.2v1.9M1795.5 203.2v1.9M1593.5 205.6v1.9M1595.5 205.6v1.9M1615.5 205.6v1.9M1615.5 205.6v1.9M1620.5 205.6v1.9M1633.5 205.6v1.9M1638.5 205.6v1.9M1642.5 205.6v1.9M1643.5 205.6v1.9M1645.5 205.6v1.9M1647.5 205.6v1.9M1658.5 205.6v1.9M1663.5 205.6v1.9M1670.5 205.6v1.9M1671.5 205.6v1.9M1676.5 205.6v1.9M1677.5 205.6v1.9M1683.5 205.6v1.9M1687.5 205.6v1.9M1702.5 205.6v1.9M1705.5 205.6v1.9M1705.5 205.6v1.9M1709.5 205.6v1.9M1712.5 205.6v1.9M1717.5 205.6v1.9M1723.5 205.6v1.9M1738.5 205.6v1.9M1744.5 205.6v1.9M1748.5 205.6v1.9M1772.5 205.6v1.9M1781.5 205.6v1.9M1793.5 205.6v1.9M1579.5 207.9v1.9M1584.5 207.9v1.9M1584.5 207.9v1.9M1633.5 207.9v1.9M1644.5 207.9v1.9M1646.5 207.9v1.9M1649.5 207.9v1.9M1665.5 207.9v1.9M1668.5 207.9v1.9M1669.5 207.9v1.9M1669.5 207.9v1.9M1674.5 207.9v1.9M1678.5 207.9v1.9M1682.5 207.9v1.9M1686.5 207.9v1.9M1690.5 207.9v1.9M1711.5 207.9v1.9M1720.5 207.9v1.9M1729.5 207.9v1.9M1731.5 207.9v1.9M1580.5 210.3v1.9M1607.5 210.3v1.9M1634.5 210.3v1.9M1647.5 210.3v1.9M1661.5 210.3v1.9M1668.5 210.3v1.9M1678.5 210.3v1.9M1697.5 210.3v1.9M1701.5 210.3v1.9M1704.5 210.3v1.9M1725.5 210.3v1.9M1744.5 210.3v1.9M1754.5 210.3v1.9M1769.5 210.3v1.9M1772.5 210.3v1.9M1777.5 210.3v1.9M1788.5 210.3v1.9M1587.5 212.7v1.9M1623.5 212.7v1.9M1649.5 212.7v1.9M1652.5 212.7v1.9M1684.5 212.7v1.9M1688.5 212.7v1.9M1688.5 212.7v1.9M1710.5 212.7v1.9M1711.5 212.7v1.9M1713.5 212.7v1.9M1741.5 212.7v1.9M1610.5 215.1v1.9M1627.5 215.1v1.9M1635.5 215.1v1.9M1649.5 215.1v1.9M1669.5 215.1v1.9M1670.5 215.1v1.9M1673.5 215.1v1.9M1677.5 215.1v1.9M1679.5 215.1v1.9M1688.5 215.1v1.9M1691.5 215.1v1.9M1692.5 215.1v1.9M1698.5 215.1v1.9M1720.5 215.1v1.9M1758.5 215.1v1.9M1620.5 217.5v1.9M1644.5 217.5v1.9M1646.5 217.5v1.9M1672.5 217.5v1.9M1673.5 217.5v1.9M1687.5 217.5v1.9M1687.5 217.5v1.9M1693.5 217.5v1.9M1696.5 217.5v1.9M1709.5 217.5v1.9M1718.5 217.5v1.9M1742.5 217.5v1.9M1757.5 217.5v1.9M1759.5 217.5v1.9M1759.5 217.5v1.9M1760.5 217.5v1.9M1778.5 217.5v1.9M1589.5 219.8v1.9M1638.5 219.8v1.9M1639.5 219.8v1.9M1644.5 219.8v1.9M1655.5 219.8v1.9M1706.5 219.8v1.9M1708.5 219.8v1.9M1711.5 219.8v1.9M1712.5 219.8v1.9M1731.5 219.8v1.9M1736.5 219.8v1.9M1743.5 219.8v1.9M1760.5 219.8v1.9M1769.5 219.8v1.9M1770.5 219.8v1.9M1787.5 219.8v1.9M1628.5 222.2v1.9M1633.5 222.2v1.9M1645.5 222.2v1.9M1661.5 222.2v1.9M1664.5 222.2v1.9M1678.5 222.2v1.9M1681.5 222.2v1.9M1686.5 222.2v1.9M1711.5 222.2v1.9M1712.5 222.2v1.9M1603.5 224.6v1.9M1622.5 224.6v1.9M1643.5 224.6v1.9M1646.5 224.6v1.9M1648.5 224.6v1.9M1658.5 224.6v1.9M1673.5 224.6v1.9M1675.5 224.6v1.9M1679.5 224.6v1.9M1687.5 224.6v1.9M1687.5 224.6v1.9M1694.5 224.6v1.9M1696.5 224.6v1.9M1696.5 224.6v1.9M1708.5 224.6v1.9M1729.5 224.6v1.9M1737.5 224.6v1.9M1755.5 224.6v1.9M1774.5 224.6v1.9M1775.5 224.6v1.9M1782.5 224.6v1.9M1785.5 224.6v1.9M1786.5 224.6v1.9M1793.5 224.6v1.9M1615.5 227v1.9M1671.5 227v1.9M1672.5 227v1.9M1675.5 227v1.9M1685.5 227v1.9M1701.5 227v1.9M1711.5 227v1.9M1711.5 227v1.9M1717.5 227v1.9M1720.5 227v1.9M1736.5 227v1.9M1747.5 227v1.9M1756.5 227v1.9M1789.5 227v1.9M1616.5 229.4v1.9M1638.5 229.4v1.9M1642.5 229.4v1.9M1677.5 229.4v1.9M1678.5 229.4v1.9M1682.5 229.4v1.9M1694.5 229.4v1.9M1697.5 229.4v1.9M1698.5 229.4v1.9M1714.5 229.4v1.9M1716.5 229.4v1.9M1723.5 229.4v1.9M1726.5 229.4v1.9M1745.5 229.4v1.9M1757.5 229.4v1.9M1769.5 229.4v1.9M1770.5 229.4v1.9M1775.5 229.4v1.9" stroke="#000" stroke-width="1.2" fill="none"/>
<line x1="1637.2" y1="43.5" x2="1637.2" y2="231.5" stroke="#d8283a" stroke-width="1.0" stroke-dasharray="1.2,1.6"/>
<path d="M1571.5 42.5V231.5H1796.6" stroke="#1a1a1a" stroke-width="1.8" fill="none"/>
<line x1="1567.5" y1="90" x2="1571.5" y2="90" stroke="#1a1a1a" stroke-width="1.6" />
<text x="1562.5" y="96.6" font-size="21" text-anchor="end">20</text>
<line x1="1567.5" y1="138.7" x2="1571.5" y2="138.7" stroke="#1a1a1a" stroke-width="1.6" />
<text x="1562.5" y="145.3" font-size="21" text-anchor="end">40</text>
<line x1="1567.5" y1="186" x2="1571.5" y2="186" stroke="#1a1a1a" stroke-width="1.6" />
<text x="1562.5" y="192.6" font-size="21" text-anchor="end">60</text>
<line x1="1567.5" y1="43.5" x2="1571.5" y2="43.5" stroke="#1a1a1a" stroke-width="1.6" />
<line x1="1571.5" y1="231.5" x2="1571.5" y2="235" stroke="#1a1a1a" stroke-width="1.6" />
<line x1="1637.2" y1="231.5" x2="1637.2" y2="235" stroke="#1a1a1a" stroke-width="1.6" />
<line x1="1702.9" y1="231.5" x2="1702.9" y2="235" stroke="#1a1a1a" stroke-width="1.6" />
<line x1="1768.6" y1="231.5" x2="1768.6" y2="235" stroke="#1a1a1a" stroke-width="1.6" />
<line x1="1796.6" y1="231.5" x2="1796.6" y2="235" stroke="#1a1a1a" stroke-width="1.6" />
<rect x="1016.8" y="261.6" width="223.9" height="188.6" fill="#e6e6e6"/>
<path d="M1018.5 262v3.8M1022.5 262v3.8M1028.5 262v3.8M1029.5 262v3.8M1032.5 262v3.8M1034.5 262v3.8M1034.5 262v3.8M1049.5 262v3.8M1050.5 262v3.8M1051.5 262v3.8M1051.5 262v3.8M1053.5 262v3.8M1062.5 262v3.8M1068.5 262v3.8M1071.5 262v3.8M1074.5 262v3.8M1081.5 262v3.8M1087.5 262v3.8M1096.5 262v3.8M1104.5 262v3.8M1105.5 262v3.8M1120.5 262v3.8M1120.5 262v3.8M1158.5 262v3.8M1166.5 262v3.8M1172.5 262v3.8M1177.5 262v3.8M1188.5 262v3.8M1195.5 262v3.8M1216.5 262v3.8M1019.5 266.6v3.8M1020.5 266.6v3.8M1022.5 266.6v3.8M1035.5 266.6v3.8M1042.5 266.6v3.8M1043.5 266.6v3.8M1046.5 266.6v3.8M1048.5 266.6v3.8M1054.5 266.6v3.8M1059.5 266.6v3.8M1060.5 266.6v3.8M1064.5 266.6v3.8M1066.5 266.6v3.8M1069.5 266.6v3.8M1076.5 266.6v3.8M1077.5 266.6v3.8M1087.5 266.6v3.8M1087.5 266.6v3.8M1091.5 266.6v3.8M1093.5 266.6v3.8M1094.5 266.6v3.8M1106.5 266.6v3.8M1107.5 266.6v3.8M1152.5 266.6v3.8M1156.5 266.6v3.8M1164.5 266.6v3.8M1180.5 266.6v3.8M1187.5 266.6v3.8M1191.5 266.6v3.8M1191.5 266.6v3.8M1192.5 266.6v3.8M1203.5 266.6v3.8M1210.5 266.6v3.8M1227.5 266.6v3.8M1236.5 266.6v3.8M1237.5 266.6v3.8M1238.5 266.6v3.8M1021.5 271.2v3.8M1024.5 271.2v3.8M1044.5 271.2v3.8M1058.5 271.2v3.8M1063.5 271.2v3.8M1072.5 271.2v3.8M1072.5 271.2v3.8M1074.5 271.2v3.8M1081.5 271.2v3.8M1110.5 271.2v3.8M1117.5 271.2v3.8M1157.5 271.2v3.8M1158.5 271.2v3.8M1172.5 271.2v3.8M1189.5 271.2v3.8M1023.5 275.8v3.8M1028.5 275.8v3.8M1037.5 275.8v3.8M1042.5 275.8v3.8M1047.5 275.8v3.8M1047.5 275.8v3.8M1050.5 275.8v3.8M1054.5 275.8v3.8M1058.5 275.8v3.8M1060.5 275.8v3.8M1074.5 275.8v3.8M1076.5 275.8v3.8M1084.5 275.8v3.8M1090.5 275.8v3.8M1091.5 275.8v3.8M1096.5 275.8v3.8M1104.5 275.8v3.8M1105.5 275.8v3.8M1106.5 275.8v3.8M1107.5 275.8v3.8M1121.5 275.8v3.8M1134.5 275.8v3.8M1146.5 275.8v3.8M1153.5 275.8v3.8M1156.5 275.8v3.8M1170.5 275.8v3.8M1202.5 275.8v3.8M1213.5 275.8v3.8M1023.5 280.4v3.8M1047.5 280.4v3.8M1048.5 280.4v3.8M1063.5 280.4v3.8M1072.5 280.4v3.8M1096.5 280.4v3.8M1104.5 280.4v3.8M1113.5 280.4v3.8M1113.5 280.4v3.8M1131.5 280.4v3.8M1157.5 280.4v3.8M1189.5 280.4v3.8M1211.5 280.4v3.8M1034.5 285v3.8M1037.5 285v3.8M1046.5 285v3.8M1047.5 285v3.8M1054.5 285v3.8M1054.5 285v3.8M1056.5 285v3.8M1059.5 285v3.8M1060.5 285v3.8M1087.5 285v3.8M1093.5 285v3.8M1102.5 285v3.8M1112.5 285v3.8M1112.5 285v3.8M1158.5 285v3.8M1160.5 285v3.8M1165.5 285v3.8M1169.5 285v3.8M1183.5 285v3.8M1183.5 285v3.8M1186.5 285v3.8M1203.5 285v3.8M1216.5 285v3.8M1229.5 285v3.8M1025.5 289.6v3.8M1028.5 289.6v3.8M1042.5 289.6v3.8M1043.5 289.6v3.8M1052.5 289.6v3.8M1063.5 289.6v3.8M1075.5 289.6v3.8M1075.5 289.6v3.8M1076.5 289.6v3.8M1080.5 289.6v3.8M1081.5 289.6v3.8M1094.5 289.6v3.8M1096.5 289.6v3.8M1111.5 289.6v3.8M1113.5 289.6v3.8M1125.5 289.6v3.8M1169.5 289.6v3.8M1177.5 289.6v3.8M1178.5 289.6v3.8M1182.5 289.6v3.8M1194.5 289.6v3.8M1018.5 294.2v3.8M1020.5 294.2v3.8M1023.5 294.2v3.8M1024.5 294.2v3.8M1037.5 294.2v3.8M1038.5 294.2v3.8M1039.5 294.2v3.8M1041.5 294.2v3.8M1042.5 294.2v3.8M1049.5 294.2v3.8M1057.5 294.2v3.8M1057.5 294.2v3.8M1060.5 294.2v3.8M1061.5 294.2v3.8M1073.5 294.2v3.8M1074.5 294.2v3.8M1077.5 294.2v3.8M1079.5 294.2v3.8M1085.5 294.2v3.8M1086.5 294.2v3.8M1087.5 294.2v3.8M1089.5 294.2v3.8M1105.5 294.2v3.8M1110.5 294.2v3.8M1114.5 294.2v3.8M1114.5 294.2v3.8M1115.5 294.2v3.8M1134.5 294.2v3.8M1170.5 294.2v3.8M1172.5 294.2v3.8M1180.5 294.2v3.8M1182.5 294.2v3.8M1183.5 294.2v3.8M1185.5 294.2v3.8M1189.5 294.2v3.8M1222.5 294.2v3.8M1230.5 294.2v3.8M1231.5 294.2v3.8M1027.5 298.8v3.8M1029.5 298.8v3.8M1030.5 298.8v3.8M1033.5 298.8v3.8M1038.5 298.8v3.8M1046.5 298.8v3.8M1052.5 298.8v3.8M1075.5 298.8v3.8M1082.5 298.8v3.8M1083.5 298.8v3.8M1088.5 298.8v3.8M1090.5 298.8v3.8M1096.5 298.8v3.8M1102.5 298.8v3.8M1105.5 298.8v3.8M1109.5 298.8v3.8M1114.5 298.8v3.8M1117.5 298.8v3.8M1156.5 298.8v3.8M1159.5 298.8v3.8M1159.5 298.8v3.8M1172.5 298.8v3.8M1174.5 298.8v3.8M1183.5 298.8v3.8M1184.5 298.8v3.8M1186.5 298.8v3.8M1187.5 298.8v3.8M1189.5 298.8v3.8M1193.5 298.8v3.8M1202.5 298.8v3.8M1206.5 298.8v3.8M1208.5 298.8v3.8M1217.5 298.8v3.8M1231.5 298.8v3.8M1080.5 303.4v3.8M1087.5 303.4v3.8M1093.5 303.4v3.8M1156.5 303.4v3.8M1174.5 303.4v3.8M1176.5 303.4v3.8M1189.5 303.4v3.8M1193.5 303.4v3.8M1196.5 303.4v3.8M1212.5 303.4v3.8M1020.5 308v3.8M1029.5 308v3.8M1130.5 308v3.8M1150.5 308v3.8M1151.5 308v3.8M1175.5 308v3.8M1179.5 308v3.8M1182.5 308v3.8M1182.5 308v3.8M1186.5 308v3.8M1188.5 308v3.8M1190.5 308v3.8M1196.5 308v3.8M1197.5 308v3.8M1197.5 308v3.8M1208.5 308v3.8M1211.5 308v3.8M1216.5 308v3.8M1217.5 308v3.8M1220.5 308v3.8M1230.5 308v3.8M1063.5 312.6v3.8M1126.5 312.6v3.8M1133.5 312.6v3.8M1139.5 312.6v3.8M1169.5 312.6v3.8M1169.5 312.6v3.8M1187.5 312.6v3.8M1187.5 312.6v3.8M1190.5 312.6v3.8M1196.5 312.6v3.8M1209.5 312.6v3.8M1030.5 317.2v3.8M1064.5 317.2v3.8M1087.5 317.2v3.8M1125.5 317.2v3.8M1129.5 317.2v3.8M1133.5 317.2v3.8M1158.5 317.2v3.8M1160.5 317.2v3.8M1161.5 317.2v3.8M1161.5 317.2v3.8M1165.5 317.2v3.8M1180.5 317.2v3.8M1184.5 317.2v3.8M1191.5 317.2v3.8M1194.5 317.2v3.8M1198.5 317.2v3.8M1203.5 317.2v3.8M1211.5 317.2v3.8M1212.5 317.2v3.8M1217.5 317.2v3.8M1218.5 317.2v3.8M1218.5 317.2v3.8M1220.5 317.2v3.8M1221.5 317.2v3.8M1224.5 317.2v3.8M1031.5 321.8v3.8M1058.5 321.8v3.8M1077.5 321.8v3.8M1087.5 321.8v3.8M1097.5 321.8v3.8M1107.5 321.8v3.8M1127.5 321.8v3.8M1152.5 321.8v3.8M1160.5 321.8v3.8M1168.5 321.8v3.8M1191.5 321.8v3.8M1193.5 321.8v3.8M1195.5 321.8v3.8M1200.5 321.8v3.8M1209.5 321.8v3.8M1211.5 321.8v3.8M1024.5 326.4v3.8M1028.5 326.4v3.8M1087.5 326.4v3.8M1130.5 326.4v3.8M1135.5 326.4v3.8M1140.5 326.4v3.8M1147.5 326.4v3.8M1159.5 326.4v3.8M1162.5 326.4v3.8M1204.5 326.4v3.8M1029.5 331v3.8M1033.5 331v3.8M1111.5 331v3.8M1128.5 331v3.8M1163.5 331v3.8M1174.5 331v3.8M1179.5 331v3.8M1182.5 331v3.8M1186.5 331v3.8M1189.5 331v3.8M1198.5 331v3.8M1203.5 331v3.8M1212.5 331v3.8M1213.5 331v3.8M1226.5 331v3.8M1032.5 335.6v3.8M1063.5 335.6v3.8M1113.5 335.6v3.8M1140.5 335.6v3.8M1151.5 335.6v3.8M1173.5 335.6v3.8M1178.5 335.6v3.8M1186.5 335.6v3.8M1189.5 335.6v3.8M1195.5 335.6v3.8M1196.5 335.6v3.8M1199.5 335.6v3.8M1210.5 335.6v3.8M1221.5 335.6v3.8M1021.5 340.2v3.8M1122.5 340.2v3.8M1131.5 340.2v3.8M1151.5 340.2v3.8M1182.5 340.2v3.8M1183.5 340.2v3.8M1185.5 340.2v3.8M1185.5 340.2v3.8M1188.5 340.2v3.8M1195.5 340.2v3.8M1220.5 340.2v3.8M1220.5 340.2v3.8M1237.5 340.2v3.8M1060.5 344.8v3.8M1115.5 344.8v3.8M1157.5 344.8v3.8M1160.5 344.8v3.8M1174.5 344.8v3.8M1177.5 344.8v3.8M1187.5 344.8v3.8M1190.5 344.8v3.8M1194.5 344.8v3.8M1200.5 344.8v3.8M1203.5 344.8v3.8M1205.5 344.8v3.8M1209.5 344.8v3.8M1212.5 344.8v3.8M1218.5 344.8v3.8M1024.5 349.4v3.8M1027.5 349.4v3.8M1075.5 349.4v3.8M1077.5 349.4v3.8M1078.5 349.4v3.8M1085.5 349.4v3.8M1089.5 349.4v3.8M1150.5 349.4v3.8M1151.5 349.4v3.8M1167.5 349.4v3.8M1173.5 349.4v3.8M1185.5 349.4v3.8M1194.5 349.4v3.8M1200.5 349.4v3.8M1214.5 349.4v3.8M1226.5 349.4v3.8M1237.5 349.4v3.8M1046.5 354v3.8M1053.5 354v3.8M1119.5 354v3.8M1124.5 354v3.8M1145.5 354v3.8M1149.5 354v3.8M1152.5 354v3.8M1170.5 354v3.8M1182.5 354v3.8M1183.5 354v3.8M1186.5 354v3.8M1213.5 354v3.8M1229.5 354v3.8M1230.5 354v3.8M1021.5 358.6v3.8M1032.5 358.6v3.8M1044.5 358.6v3.8M1046.5 358.6v3.8M1075.5 358.6v3.8M1087.5 358.6v3.8M1095.5 358.6v3.8M1128.5 358.6v3.8M1140.5 358.6v3.8M1153.5 358.6v3.8M1158.5 358.6v3.8M1159.5 358.6v3.8M1171.5 358.6v3.8M1172.5 358.6v3.8M1174.5 358.6v3.8M1187.5 358.6v3.8M1188.5 358.6v3.8M1198.5 358.6v3.8M1201.5 358.6v3.8M1203.5 358.6v3.8M1210.5 358.6v3.8M1212.5 358.6v3.8M1219.5 358.6v3.8M1037.5 363.2v3.8M1071.5 363.2v3.8M1104.5 363.2v3.8M1144.5 363.2v3.8M1157.5 363.2v3.8M1211.5 363.2v3.8M1211.5 363.2v3.8M1223.5 363.2v3.8M1022.5 367.8v3.8M1033.5 367.8v3.8M1078.5 367.8v3.8M1157.5 367.8v3.8M1164.5 367.8v3.8M1165.5 367.8v3.8M1176.5 367.8v3.8M1192.5 367.8v3.8M1199.5 367.8v3.8M1205.5 367.8v3.8M1205.5 367.8v3.8M1209.5 367.8v3.8M1232.5 367.8v3.8M1047.5 372.4v3.8M1068.5 372.4v3.8M1079.5 372.4v3.8M1083.5 372.4v3.8M1153.5 372.4v3.8M1163.5 372.4v3.8M1224.5 372.4v3.8M1049.5 377v3.8M1074.5 377v3.8M1090.5 377v3.8M1142.5 377v3.8M1148.5 377v3.8M1151.5 377v3.8M1159.5 377v3.8M1167.5 377v3.8M1191.5 377v3.8M1191.5 377v3.8M1219.5 377v3.8M1023.5 381.6v3.8M1033.5 381.6v3.8M1054.5 381.6v3.8M1099.5 381.6v3.8M1115.5 381.6v3.8M1147.5 381.6v3.8M1164.5 381.6v3.8M1175.5 381.6v3.8M1196.5 381.6v3.8M1227.5 381.6v3.8M1021.5 386.2v3.8M1058.5 386.2v3.8M1081.5 386.2v3.8M1084.5 386.2v3.8M1127.5 386.2v3.8M1154.5 386.2v3.8M1169.5 386.2v3.8M1188.5 386.2v3.8M1191.5 386.2v3.8M1205.5 386.2v3.8M1223.5 386.2v3.8M1158.5 390.8v3.8M1160.5 390.8v3.8M1179.5 390.8v3.8M1184.5 390.8v3.8M1211.5 390.8v3.8M1022.5 395.4v3.8M1074.5 395.4v3.8M1114.5 395.4v3.8M1127.5 395.4v3.8M1134.5 395.4v3.8M1140.5 395.4v3.8M1191.5 395.4v3.8M1206.5 395.4v3.8M1022.5 400v3.8M1029.5 400v3.8M1033.5 400v3.8M1039.5 400v3.8M1044.5 400v3.8M1112.5 400v3.8M1127.5 400v3.8M1147.5 400v3.8M1163.5 400v3.8M1178.5 400v3.8M1183.5 400v3.8M1058.5 404.6v3.8M1084.5 404.6v3.8M1089.5 404.6v3.8M1138.5 404.6v3.8M1151.5 404.6v3.8M1170.5 404.6v3.8M1181.5 404.6v3.8M1189.5 404.6v3.8M1200.5 404.6v3.8M1227.5 404.6v3.8M1039.5 409.2v3.8M1069.5 409.2v3.8M1104.5 409.2v3.8M1118.5 409.2v3.8M1142.5 409.2v3.8M1158.5 409.2v3.8M1163.5 409.2v3.8M1199.5 409.2v3.8M1216.5 409.2v3.8M1086.5 413.8v3.8M1109.5 413.8v3.8M1111.5 413.8v3.8M1130.5 413.8v3.8M1190.5 413.8v3.8M1204.5 413.8v3.8M1212.5 413.8v3.8M1222.5 413.8v3.8M1236.5 413.8v3.8M1024.5 418.4v3.8M1026.5 418.4v3.8M1050.5 418.4v3.8M1063.5 418.4v3.8M1083.5 418.4v3.8M1090.5 418.4v3.8M1145.5 418.4v3.8M1155.5 418.4v3.8M1160.5 418.4v3.8M1175.5 418.4v3.8M1180.5 418.4v3.8M1182.5 418.4v3.8M1190.5 418.4v3.8M1199.5 418.4v3.8M1200.5 418.4v3.8M1204.5 418.4v3.8M1212.5 418.4v3.8M1232.5 418.4v3.8M1235.5 418.4v3.8M1238.5 418.4v3.8M1030.5 423v3.8M1036.5 423v3.8M1042.5 423v3.8M1051.5 423v3.8M1076.5 423v3.8M1088.5 423v3.8M1091.5 423v3.8M1097.5 423v3.8M1121.5 423v3.8M1154.5 423v3.8M1155.5 423v3.8M1164.5 423v3.8M1168.5 423v3.8M1178.5 423v3.8M1194.5 423v3.8M1233.5 423v3.8M1026.5 427.6v3.8M1039.5 427.6v3.8M1099.5 427.6v3.8M1106.5 427.6v3.8M1118.5 427.6v3.8M1130.5 427.6v3.8M1207.5 427.6v3.8M1215.5 427.6v3.8M1229.5 427.6v3.8M1019.5 432.2v3.8M1023.5 432.2v3.8M1043.5 432.2v3.8M1060.5 432.2v3.8M1065.5 432.2v3.8M1086.5 432.2v3.8M1093.5 432.2v3.8M1103.5 432.2v3.8M1110.5 432.2v3.8M1168.5 432.2v3.8M1173.5 432.2v3.8M1187.5 432.2v3.8M1193.5 432.2v3.8M1205.5 432.2v3.8M1214.5 432.2v3.8M1229.5 432.2v3.8M1031.5 436.8v3.8M1053.5 436.8v3.8M1061.5 436.8v3.8M1124.5 436.8v3.8M1131.5 436.8v3.8M1134.5 436.8v3.8M1168.5 436.8v3.8M1189.5 436.8v3.8M1201.5 436.8v3.8M1202.5 436.8v3.8M1203.5 436.8v3.8M1039.5 441.4v3.8M1041.5 441.4v3.8M1045.5 441.4v3.8M1103.5 441.4v3.8M1125.5 441.4v3.8M1144.5 441.4v3.8M1154.5 441.4v3.8M1196.5 441.4v3.8M1225.5 441.4v3.8M1231.5 441.4v3.8M1042.5 446v3.8M1054.5 446v3.8M1058.5 446v3.8M1064.5 446v3.8M1085.5 446v3.8M1087.5 446v3.8M1088.5 446v3.8M1090.5 446v3.8M1099.5 446v3.8M1099.5 446v3.8M1113.5 446v3.8M1126.5 446v3.8M1154.5 446v3.8M1166.5 446v3.8M1170.5 446v3.8M1182.5 446v3.8M1188.5 446v3.8M1193.5 446v3.8M1209.5 446v3.8M1212.5 446v3.8M1215.5 446v3.8M1218.5 446v3.8M1220.5 446v3.8M1238.5 446v3.8" stroke="#000" stroke-width="1.3" fill="none"/>
<line x1="1082.4" y1="261.6" x2="1082.4" y2="450.2" stroke="#d8283a" stroke-width="1.5" stroke-dasharray="1.5,2.5"/>
<path d="M1016.8 260.6V450.2H1240.7" stroke="#1a1a1a" stroke-width="1.8" fill="none"/>
<line x1="1012.8" y1="308" x2="1016.8" y2="308" stroke="#1a1a1a" stroke-width="1.6" />
<text x="1006" y="314.6" font-size="21" text-anchor="end">10</text>
<line x1="1012.8" y1="353.7" x2="1016.8" y2="353.7" stroke="#1a1a1a" stroke-width="1.6" />
<text x="1006" y="360.3" font-size="21" text-anchor="end">20</text>
<line x1="1012.8" y1="399.7" x2="1016.8" y2="399.7" stroke="#1a1a1a" stroke-width="1.6" />
<text x="1006" y="406.3" font-size="21" text-anchor="end">30</text>
<line x1="1012.8" y1="445.7" x2="1016.8" y2="445.7" stroke="#1a1a1a" stroke-width="1.6" />
<text x="1006" y="452.3" font-size="21" text-anchor="end">40</text>
<line x1="1012.8" y1="261.6" x2="1016.8" y2="261.6" stroke="#1a1a1a" stroke-width="1.6" />
<line x1="1016.8" y1="450.2" x2="1016.8" y2="453.7" stroke="#1a1a1a" stroke-width="1.6" />
<line x1="1082.4" y1="450.2" x2="1082.4" y2="453.7" stroke="#1a1a1a" stroke-width="1.6" />
<line x1="1148" y1="450.2" x2="1148" y2="453.7" stroke="#1a1a1a" stroke-width="1.6" />
<line x1="1213.6" y1="450.2" x2="1213.6" y2="453.7" stroke="#1a1a1a" stroke-width="1.6" />
<line x1="1240.7" y1="450.2" x2="1240.7" y2="453.7" stroke="#1a1a1a" stroke-width="1.6" />
<rect x="1294" y="261.6" width="224.2" height="188.6" fill="#e6e6e6"/>
<path d="M1300.5 262.1v4.3M1307.5 262.1v4.3M1339.5 262.1v4.3M1341.5 262.1v4.3M1352.5 262.1v4.3M1352.5 262.1v4.3M1353.5 262.1v4.3M1357.5 262.1v4.3M1358.5 262.1v4.3M1396.5 262.1v4.3M1397.5 262.1v4.3M1400.5 262.1v4.3M1420.5 262.1v4.3M1424.5 262.1v4.3M1432.5 262.1v4.3M1432.5 262.1v4.3M1434.5 262.1v4.3M1444.5 262.1v4.3M1487.5 262.1v4.3M1296.5 267.3v4.3M1372.5 267.3v4.3M1390.5 267.3v4.3M1406.5 267.3v4.3M1409.5 267.3v4.3M1484.5 267.3v4.3M1488.5 267.3v4.3M1501.5 267.3v4.3M1511.5 267.3v4.3M1327.5 272.5v4.3M1360.5 272.5v4.3M1381.5 272.5v4.3M1389.5 272.5v4.3M1417.5 272.5v4.3M1427.5 272.5v4.3M1434.5 272.5v4.3M1438.5 272.5v4.3M1460.5 272.5v4.3M1464.5 272.5v4.3M1498.5 272.5v4.3M1501.5 272.5v4.3M1502.5 272.5v4.3M1504.5 272.5v4.3M1506.5 272.5v4.3M1513.5 272.5v4.3M1342.5 277.8v4.3M1424.5 277.8v4.3M1444.5 277.8v4.3M1488.5 277.8v4.3M1325.5 283v4.3M1351.5 283v4.3M1370.5 283v4.3M1375.5 283v4.3M1391.5 283v4.3M1400.5 283v4.3M1435.5 283v4.3M1458.5 283v4.3M1461.5 283v4.3M1462.5 283v4.3M1490.5 283v4.3M1497.5 283v4.3M1311.5 288.3v4.3M1345.5 288.3v4.3M1349.5 288.3v4.3M1375.5 288.3v4.3M1390.5 288.3v4.3M1402.5 288.3v4.3M1418.5 288.3v4.3M1435.5 288.3v4.3M1438.5 288.3v4.3M1438.5 288.3v4.3M1460.5 288.3v4.3M1460.5 288.3v4.3M1462.5 288.3v4.3M1470.5 288.3v4.3M1471.5 288.3v4.3M1481.5 288.3v4.3M1495.5 288.3v4.3M1499.5 288.3v4.3M1508.5 288.3v4.3M1295.5 293.5v4.3M1313.5 293.5v4.3M1348.5 293.5v4.3M1370.5 293.5v4.3M1382.5 293.5v4.3M1385.5 293.5v4.3M1387.5 293.5v4.3M1387.5 293.5v4.3M1393.5 293.5v4.3M1408.5 293.5v4.3M1422.5 293.5v4.3M1428.5 293.5v4.3M1447.5 293.5v4.3M1457.5 293.5v4.3M1503.5 293.5v4.3M1516.5 293.5v4.3M1343.5 298.7v4.3M1346.5 298.7v4.3M1365.5 298.7v4.3M1367.5 298.7v4.3M1437.5 298.7v4.3M1449.5 298.7v4.3M1460.5 298.7v4.3M1298.5 304v4.3M1300.5 304v4.3M1323.5 304v4.3M1385.5 304v4.3M1398.5 304v4.3M1399.5 304v4.3M1418.5 304v4.3M1424.5 304v4.3M1439.5 304v4.3M1442.5 304v4.3M1443.5 304v4.3M1447.5 304v4.3M1448.5 304v4.3M1448.5 304v4.3M1455.5 304v4.3M1466.5 304v4.3M1466.5 304v4.3M1479.5 304v4.3M1495.5 304v4.3M1306.5 309.2v4.3M1316.5 309.2v4.3M1328.5 309.2v4.3M1332.5 309.2v4.3M1390.5 309.2v4.3M1395.5 309.2v4.3M1415.5 309.2v4.3M1437.5 309.2v4.3M1438.5 309.2v4.3M1450.5 309.2v4.3M1458.5 309.2v4.3M1503.5 309.2v4.3M1315.5 314.5v4.3M1337.5 314.5v4.3M1340.5 314.5v4.3M1344.5 314.5v4.3M1358.5 314.5v4.3M1372.5 314.5v4.3M1398.5 314.5v4.3M1400.5 314.5v4.3M1419.5 314.5v4.3M1432.5 314.5v4.3M1455.5 314.5v4.3M1478.5 314.5v4.3M1501.5 314.5v4.3M1503.5 314.5v4.3M1308.5 319.7v4.3M1346.5 319.7v4.3M1370.5 319.7v4.3M1375.5 319.7v4.3M1388.5 319.7v4.3M1399.5 319.7v4.3M1482.5 319.7v4.3M1501.5 319.7v4.3M1502.5 319.7v4.3M1331.5 324.9v4.3M1334.5 324.9v4.3M1372.5 324.9v4.3M1436.5 324.9v4.3M1437.5 324.9v4.3M1438.5 324.9v4.3M1442.5 324.9v4.3M1446.5 324.9v4.3M1448.5 324.9v4.3M1449.5 324.9v4.3M1462.5 324.9v4.3M1498.5 324.9v4.3M1499.5 324.9v4.3M1499.5 324.9v4.3M1511.5 324.9v4.3M1512.5 324.9v4.3M1306.5 330.2v4.3M1320.5 330.2v4.3M1353.5 330.2v4.3M1359.5 330.2v4.3M1387.5 330.2v4.3M1427.5 330.2v4.3M1459.5 330.2v4.3M1493.5 330.2v4.3M1501.5 330.2v4.3M1508.5 330.2v4.3M1298.5 335.4v4.3M1299.5 335.4v4.3M1350.5 335.4v4.3M1361.5 335.4v4.3M1372.5 335.4v4.3M1379.5 335.4v4.3M1391.5 335.4v4.3M1418.5 335.4v4.3M1435.5 335.4v4.3M1435.5 335.4v4.3M1439.5 335.4v4.3M1441.5 335.4v4.3M1461.5 335.4v4.3M1465.5 335.4v4.3M1466.5 335.4v4.3M1467.5 335.4v4.3M1479.5 335.4v4.3M1494.5 335.4v4.3M1323.5 340.7v4.3M1367.5 340.7v4.3M1379.5 340.7v4.3M1396.5 340.7v4.3M1433.5 340.7v4.3M1442.5 340.7v4.3M1469.5 340.7v4.3M1308.5 345.9v4.3M1309.5 345.9v4.3M1317.5 345.9v4.3M1331.5 345.9v4.3M1336.5 345.9v4.3M1357.5 345.9v4.3M1367.5 345.9v4.3M1368.5 345.9v4.3M1432.5 345.9v4.3M1434.5 345.9v4.3M1439.5 345.9v4.3M1439.5 345.9v4.3M1455.5 345.9v4.3M1461.5 345.9v4.3M1483.5 345.9v4.3M1496.5 345.9v4.3M1507.5 345.9v4.3M1515.5 345.9v4.3M1307.5 351.1v4.3M1338.5 351.1v4.3M1400.5 351.1v4.3M1414.5 351.1v4.3M1427.5 351.1v4.3M1503.5 351.1v4.3M1324.5 356.4v4.3M1328.5 356.4v4.3M1332.5 356.4v4.3M1360.5 356.4v4.3M1368.5 356.4v4.3M1369.5 356.4v4.3M1402.5 356.4v4.3M1404.5 356.4v4.3M1410.5 356.4v4.3M1421.5 356.4v4.3M1436.5 356.4v4.3M1443.5 356.4v4.3M1455.5 356.4v4.3M1508.5 356.4v4.3M1511.5 356.4v4.3M1295.5 361.6v4.3M1324.5 361.6v4.3M1338.5 361.6v4.3M1342.5 361.6v4.3M1350.5 361.6v4.3M1357.5 361.6v4.3M1368.5 361.6v4.3M1425.5 361.6v4.3M1429.5 361.6v4.3M1463.5 361.6v4.3M1477.5 361.6v4.3M1340.5 366.8v4.3M1346.5 366.8v4.3M1353.5 366.8v4.3M1364.5 366.8v4.3M1387.5 366.8v4.3M1407.5 366.8v4.3M1446.5 366.8v4.3M1452.5 366.8v4.3M1464.5 366.8v4.3M1484.5 366.8v4.3M1500.5 366.8v4.3M1299.5 372.1v4.3M1311.5 372.1v4.3M1317.5 372.1v4.3M1321.5 372.1v4.3M1334.5 372.1v4.3M1336.5 372.1v4.3M1339.5 372.1v4.3M1352.5 372.1v4.3M1361.5 372.1v4.3M1362.5 372.1v4.3M1396.5 372.1v4.3M1398.5 372.1v4.3M1424.5 372.1v4.3M1433.5 372.1v4.3M1457.5 372.1v4.3M1499.5 372.1v4.3M1507.5 372.1v4.3M1308.5 377.3v4.3M1310.5 377.3v4.3M1324.5 377.3v4.3M1333.5 377.3v4.3M1334.5 377.3v4.3M1338.5 377.3v4.3M1360.5 377.3v4.3M1364.5 377.3v4.3M1373.5 377.3v4.3M1373.5 377.3v4.3M1384.5 377.3v4.3M1401.5 377.3v4.3M1402.5 377.3v4.3M1409.5 377.3v4.3M1414.5 377.3v4.3M1432.5 377.3v4.3M1433.5 377.3v4.3M1436.5 377.3v4.3M1449.5 377.3v4.3M1463.5 377.3v4.3M1468.5 377.3v4.3M1471.5 377.3v4.3M1485.5 377.3v4.3M1298.5 382.6v4.3M1322.5 382.6v4.3M1323.5 382.6v4.3M1328.5 382.6v4.3M1350.5 382.6v4.3M1354.5 382.6v4.3M1355.5 382.6v4.3M1381.5 382.6v4.3M1387.5 382.6v4.3M1396.5 382.6v4.3M1430.5 382.6v4.3M1432.5 382.6v4.3M1443.5 382.6v4.3M1446.5 382.6v4.3M1447.5 382.6v4.3M1451.5 382.6v4.3M1452.5 382.6v4.3M1460.5 382.6v4.3M1472.5 382.6v4.3M1352.5 387.8v4.3M1356.5 387.8v4.3M1373.5 387.8v4.3M1412.5 387.8v4.3M1419.5 387.8v4.3M1425.5 387.8v4.3M1433.5 387.8v4.3M1451.5 387.8v4.3M1456.5 387.8v4.3M1463.5 387.8v4.3M1468.5 387.8v4.3M1489.5 387.8v4.3M1491.5 387.8v4.3M1510.5 387.8v4.3M1516.5 387.8v4.3M1302.5 393v4.3M1336.5 393v4.3M1340.5 393v4.3M1367.5 393v4.3M1370.5 393v4.3M1397.5 393v4.3M1408.5 393v4.3M1410.5 393v4.3M1472.5 393v4.3M1473.5 393v4.3M1496.5 393v4.3M1511.5 393v4.3M1348.5 398.3v4.3M1349.5 398.3v4.3M1353.5 398.3v4.3M1362.5 398.3v4.3M1362.5 398.3v4.3M1389.5 398.3v4.3M1394.5 398.3v4.3M1477.5 398.3v4.3M1332.5 403.5v4.3M1343.5 403.5v4.3M1345.5 403.5v4.3M1347.5 403.5v4.3M1362.5 403.5v4.3M1368.5 403.5v4.3M1372.5 403.5v4.3M1387.5 403.5v4.3M1400.5 403.5v4.3M1441.5 403.5v4.3M1455.5 403.5v4.3M1455.5 403.5v4.3M1456.5 403.5v4.3M1471.5 403.5v4.3M1475.5 403.5v4.3M1493.5 403.5v4.3M1515.5 403.5v4.3M1303.5 408.8v4.3M1305.5 408.8v4.3M1307.5 408.8v4.3M1335.5 408.8v4.3M1350.5 408.8v4.3M1358.5 408.8v4.3M1358.5 408.8v4.3M1359.5 408.8v4.3M1376.5 408.8v4.3M1389.5 408.8v4.3M1399.5 408.8v4.3M1399.5 408.8v4.3M1406.5 408.8v4.3M1413.5 408.8v4.3M1422.5 408.8v4.3M1424.5 408.8v4.3M1432.5 408.8v4.3M1456.5 408.8v4.3M1459.5 408.8v4.3M1463.5 408.8v4.3M1497.5 408.8v4.3M1335.5 414v4.3M1343.5 414v4.3M1355.5 414v4.3M1360.5 414v4.3M1369.5 414v4.3M1379.5 414v4.3M1398.5 414v4.3M1402.5 414v4.3M1419.5 414v4.3M1424.5 414v4.3M1484.5 414v4.3M1501.5 414v4.3M1513.5 414v4.3M1302.5 419.2v4.3M1313.5 419.2v4.3M1339.5 419.2v4.3M1344.5 419.2v4.3M1349.5 419.2v4.3M1353.5 419.2v4.3M1361.5 419.2v4.3M1370.5 419.2v4.3M1370.5 419.2v4.3M1373.5 419.2v4.3M1377.5 419.2v4.3M1386.5 419.2v4.3M1386.5 419.2v4.3M1388.5 419.2v4.3M1393.5 419.2v4.3M1398.5 419.2v4.3M1404.5 419.2v4.3M1409.5 419.2v4.3M1412.5 419.2v4.3M1416.5 419.2v4.3M1475.5 419.2v4.3M1498.5 419.2v4.3M1509.5 419.2v4.3M1516.5 419.2v4.3M1339.5 424.5v4.3M1358.5 424.5v4.3M1359.5 424.5v4.3M1368.5 424.5v4.3M1378.5 424.5v4.3M1379.5 424.5v4.3M1381.5 424.5v4.3M1381.5 424.5v4.3M1394.5 424.5v4.3M1398.5 424.5v4.3M1401.5 424.5v4.3M1403.5 424.5v4.3M1407.5 424.5v4.3M1408.5 424.5v4.3M1409.5 424.5v4.3M1409.5 424.5v4.3M1410.5 424.5v4.3M1412.5 424.5v4.3M1423.5 424.5v4.3M1426.5 424.5v4.3M1431.5 424.5v4.3M1495.5 424.5v4.3M1503.5 424.5v4.3M1300.5 429.7v4.3M1327.5 429.7v4.3M1338.5 429.7v4.3M1349.5 429.7v4.3M1357.5 429.7v4.3M1366.5 429.7v4.3M1383.5 429.7v4.3M1390.5 429.7v4.3M1393.5 429.7v4.3M1396.5 429.7v4.3M1400.5 429.7v4.3M1401.5 429.7v4.3M1430.5 429.7v4.3M1437.5 429.7v4.3M1504.5 429.7v4.3M1325.5 435v4.3M1356.5 435v4.3M1378.5 435v4.3M1399.5 435v4.3M1406.5 435v4.3M1420.5 435v4.3M1421.5 435v4.3M1423.5 435v4.3M1429.5 435v4.3M1483.5 435v4.3M1301.5 440.2v4.3M1321.5 440.2v4.3M1345.5 440.2v4.3M1371.5 440.2v4.3M1408.5 440.2v4.3M1419.5 440.2v4.3M1431.5 440.2v4.3M1458.5 440.2v4.3M1479.5 440.2v4.3M1493.5 440.2v4.3M1498.5 440.2v4.3M1325.5 445.4v4.3M1343.5 445.4v4.3M1346.5 445.4v4.3M1349.5 445.4v4.3M1358.5 445.4v4.3M1366.5 445.4v4.3M1373.5 445.4v4.3M1381.5 445.4v4.3M1386.5 445.4v4.3M1389.5 445.4v4.3M1395.5 445.4v4.3M1398.5 445.4v4.3M1398.5 445.4v4.3M1399.5 445.4v4.3M1418.5 445.4v4.3M1419.5 445.4v4.3M1422.5 445.4v4.3M1449.5 445.4v4.3M1450.5 445.4v4.3M1452.5 445.4v4.3M1483.5 445.4v4.3M1486.5 445.4v4.3M1487.5 445.4v4.3M1516.5 445.4v4.3" stroke="#000" stroke-width="1.3" fill="none"/>
<line x1="1358.6" y1="261.6" x2="1358.6" y2="450.2" stroke="#d8283a" stroke-width="1.5" stroke-dasharray="1.5,2.5"/>
<path d="M1294 260.6V450.2H1518.2" stroke="#1a1a1a" stroke-width="1.8" fill="none"/>
<line x1="1290" y1="313.7" x2="1294" y2="313.7" stroke="#1a1a1a" stroke-width="1.6" />
<text x="1283" y="320.3" font-size="21" text-anchor="end">10</text>
<line x1="1290" y1="366" x2="1294" y2="366" stroke="#1a1a1a" stroke-width="1.6" />
<text x="1283" y="372.6" font-size="21" text-anchor="end">20</text>
<line x1="1290" y1="418.5" x2="1294" y2="418.5" stroke="#1a1a1a" stroke-width="1.6" />
<text x="1283" y="425.1" font-size="21" text-anchor="end">30</text>
<line x1="1290" y1="261.6" x2="1294" y2="261.6" stroke="#1a1a1a" stroke-width="1.6" />
<line x1="1294" y1="450.2" x2="1294" y2="453.7" stroke="#1a1a1a" stroke-width="1.6" />
<line x1="1358.6" y1="450.2" x2="1358.6" y2="453.7" stroke="#1a1a1a" stroke-width="1.6" />
<line x1="1423.2" y1="450.2" x2="1423.2" y2="453.7" stroke="#1a1a1a" stroke-width="1.6" />
<line x1="1487.8" y1="450.2" x2="1487.8" y2="453.7" stroke="#1a1a1a" stroke-width="1.6" />
<line x1="1518.2" y1="450.2" x2="1518.2" y2="453.7" stroke="#1a1a1a" stroke-width="1.6" />
<rect x="1572" y="261.6" width="224.6" height="188.6" fill="#e6e6e6"/>
<path d="M1590.5 261.9v3.5M1592.5 261.9v3.5M1608.5 261.9v3.5M1617.5 261.9v3.5M1651.5 261.9v3.5M1675.5 261.9v3.5M1684.5 261.9v3.5M1692.5 261.9v3.5M1701.5 261.9v3.5M1709.5 261.9v3.5M1718.5 261.9v3.5M1744.5 261.9v3.5M1768.5 261.9v3.5M1778.5 261.9v3.5M1585.5 266.1v3.5M1635.5 266.1v3.5M1652.5 266.1v3.5M1662.5 266.1v3.5M1678.5 266.1v3.5M1678.5 266.1v3.5M1688.5 266.1v3.5M1706.5 266.1v3.5M1711.5 266.1v3.5M1712.5 266.1v3.5M1713.5 266.1v3.5M1755.5 266.1v3.5M1574.5 270.3v3.5M1605.5 270.3v3.5M1632.5 270.3v3.5M1673.5 270.3v3.5M1687.5 270.3v3.5M1707.5 270.3v3.5M1715.5 270.3v3.5M1718.5 270.3v3.5M1724.5 270.3v3.5M1734.5 270.3v3.5M1769.5 270.3v3.5M1776.5 270.3v3.5M1574.5 274.5v3.5M1593.5 274.5v3.5M1604.5 274.5v3.5M1625.5 274.5v3.5M1630.5 274.5v3.5M1634.5 274.5v3.5M1636.5 274.5v3.5M1672.5 274.5v3.5M1684.5 274.5v3.5M1717.5 274.5v3.5M1755.5 274.5v3.5M1755.5 274.5v3.5M1767.5 274.5v3.5M1574.5 278.7v3.5M1580.5 278.7v3.5M1600.5 278.7v3.5M1615.5 278.7v3.5M1623.5 278.7v3.5M1630.5 278.7v3.5M1667.5 278.7v3.5M1683.5 278.7v3.5M1709.5 278.7v3.5M1753.5 278.7v3.5M1659.5 282.9v3.5M1665.5 282.9v3.5M1689.5 282.9v3.5M1691.5 282.9v3.5M1714.5 282.9v3.5M1753.5 282.9v3.5M1756.5 282.9v3.5M1762.5 282.9v3.5M1773.5 282.9v3.5M1779.5 282.9v3.5M1790.5 282.9v3.5M1578.5 287.1v3.5M1628.5 287.1v3.5M1725.5 287.1v3.5M1729.5 287.1v3.5M1736.5 287.1v3.5M1779.5 287.1v3.5M1781.5 287.1v3.5M1608.5 291.3v3.5M1630.5 291.3v3.5M1656.5 291.3v3.5M1668.5 291.3v3.5M1679.5 291.3v3.5M1690.5 291.3v3.5M1694.5 291.3v3.5M1697.5 291.3v3.5M1729.5 291.3v3.5M1732.5 291.3v3.5M1732.5 291.3v3.5M1739.5 291.3v3.5M1743.5 291.3v3.5M1753.5 291.3v3.5M1769.5 291.3v3.5M1575.5 295.5v3.5M1589.5 295.5v3.5M1594.5 295.5v3.5M1629.5 295.5v3.5M1669.5 295.5v3.5M1722.5 295.5v3.5M1724.5 295.5v3.5M1733.5 295.5v3.5M1744.5 295.5v3.5M1747.5 295.5v3.5M1794.5 295.5v3.5M1576.5 299.7v3.5M1597.5 299.7v3.5M1684.5 299.7v3.5M1689.5 299.7v3.5M1697.5 299.7v3.5M1698.5 299.7v3.5M1701.5 299.7v3.5M1719.5 299.7v3.5M1750.5 299.7v3.5M1784.5 299.7v3.5M1789.5 299.7v3.5M1794.5 299.7v3.5M1636.5 303.9v3.5M1718.5 303.9v3.5M1725.5 303.9v3.5M1752.5 303.9v3.5M1787.5 303.9v3.5M1577.5 308v3.5M1608.5 308v3.5M1622.5 308v3.5M1637.5 308v3.5M1644.5 308v3.5M1650.5 308v3.5M1657.5 308v3.5M1663.5 308v3.5M1671.5 308v3.5M1678.5 308v3.5M1694.5 308v3.5M1701.5 308v3.5M1712.5 308v3.5M1721.5 308v3.5M1724.5 308v3.5M1737.5 308v3.5M1743.5 308v3.5M1782.5 308v3.5M1793.5 308v3.5M1579.5 312.2v3.5M1600.5 312.2v3.5M1611.5 312.2v3.5M1619.5 312.2v3.5M1637.5 312.2v3.5M1657.5 312.2v3.5M1662.5 312.2v3.5M1708.5 312.2v3.5M1729.5 312.2v3.5M1744.5 312.2v3.5M1748.5 312.2v3.5M1773.5 312.2v3.5M1777.5 312.2v3.5M1778.5 312.2v3.5M1784.5 312.2v3.5M1786.5 312.2v3.5M1673.5 316.4v3.5M1700.5 316.4v3.5M1728.5 316.4v3.5M1755.5 316.4v3.5M1772.5 316.4v3.5M1783.5 316.4v3.5M1787.5 316.4v3.5M1589.5 320.6v3.5M1602.5 320.6v3.5M1684.5 320.6v3.5M1704.5 320.6v3.5M1718.5 320.6v3.5M1725.5 320.6v3.5M1759.5 320.6v3.5M1785.5 320.6v3.5M1793.5 320.6v3.5M1606.5 324.8v3.5M1611.5 324.8v3.5M1616.5 324.8v3.5M1647.5 324.8v3.5M1654.5 324.8v3.5M1663.5 324.8v3.5M1715.5 324.8v3.5M1721.5 324.8v3.5M1734.5 324.8v3.5M1747.5 324.8v3.5M1753.5 324.8v3.5M1758.5 324.8v3.5M1767.5 324.8v3.5M1776.5 324.8v3.5M1587.5 329v3.5M1634.5 329v3.5M1652.5 329v3.5M1653.5 329v3.5M1706.5 329v3.5M1731.5 329v3.5M1781.5 329v3.5M1787.5 329v3.5M1573.5 333.2v3.5M1578.5 333.2v3.5M1595.5 333.2v3.5M1646.5 333.2v3.5M1662.5 333.2v3.5M1666.5 333.2v3.5M1671.5 333.2v3.5M1716.5 333.2v3.5M1719.5 333.2v3.5M1720.5 333.2v3.5M1739.5 333.2v3.5M1750.5 333.2v3.5M1757.5 333.2v3.5M1770.5 333.2v3.5M1778.5 333.2v3.5M1728.5 337.4v3.5M1730.5 337.4v3.5M1763.5 337.4v3.5M1768.5 337.4v3.5M1773.5 337.4v3.5M1583.5 341.6v3.5M1595.5 341.6v3.5M1606.5 341.6v3.5M1613.5 341.6v3.5M1627.5 341.6v3.5M1644.5 341.6v3.5M1651.5 341.6v3.5M1652.5 341.6v3.5M1656.5 341.6v3.5M1665.5 341.6v3.5M1669.5 341.6v3.5M1692.5 341.6v3.5M1706.5 341.6v3.5M1732.5 341.6v3.5M1770.5 341.6v3.5M1586.5 345.8v3.5M1604.5 345.8v3.5M1609.5 345.8v3.5M1644.5 345.8v3.5M1669.5 345.8v3.5M1685.5 345.8v3.5M1691.5 345.8v3.5M1715.5 345.8v3.5M1727.5 345.8v3.5M1756.5 345.8v3.5M1794.5 345.8v3.5M1601.5 350v3.5M1613.5 350v3.5M1624.5 350v3.5M1625.5 350v3.5M1661.5 350v3.5M1708.5 350v3.5M1731.5 350v3.5M1762.5 350v3.5M1762.5 350v3.5M1788.5 350v3.5M1790.5 350v3.5M1595.5 354.2v3.5M1597.5 354.2v3.5M1605.5 354.2v3.5M1612.5 354.2v3.5M1612.5 354.2v3.5M1660.5 354.2v3.5M1662.5 354.2v3.5M1667.5 354.2v3.5M1668.5 354.2v3.5M1702.5 354.2v3.5M1717.5 354.2v3.5M1717.5 354.2v3.5M1743.5 354.2v3.5M1750.5 354.2v3.5M1752.5 354.2v3.5M1761.5 354.2v3.5M1780.5 354.2v3.5M1782.5 354.2v3.5M1584.5 358.3v3.5M1591.5 358.3v3.5M1613.5 358.3v3.5M1755.5 358.3v3.5M1772.5 358.3v3.5M1794.5 358.3v3.5M1577.5 362.5v3.5M1579.5 362.5v3.5M1595.5 362.5v3.5M1619.5 362.5v3.5M1637.5 362.5v3.5M1689.5 362.5v3.5M1757.5 362.5v3.5M1589.5 366.7v3.5M1601.5 366.7v3.5M1604.5 366.7v3.5M1612.5 366.7v3.5M1652.5 366.7v3.5M1685.5 366.7v3.5M1703.5 366.7v3.5M1720.5 366.7v3.5M1765.5 366.7v3.5M1617.5 370.9v3.5M1662.5 370.9v3.5M1682.5 370.9v3.5M1706.5 370.9v3.5M1717.5 370.9v3.5M1617.5 375.1v3.5M1651.5 375.1v3.5M1679.5 375.1v3.5M1686.5 375.1v3.5M1713.5 375.1v3.5M1731.5 375.1v3.5M1737.5 375.1v3.5M1744.5 375.1v3.5M1744.5 375.1v3.5M1767.5 375.1v3.5M1771.5 375.1v3.5M1780.5 375.1v3.5M1780.5 375.1v3.5M1592.5 379.3v3.5M1594.5 379.3v3.5M1605.5 379.3v3.5M1611.5 379.3v3.5M1626.5 379.3v3.5M1626.5 379.3v3.5M1627.5 379.3v3.5M1647.5 379.3v3.5M1665.5 379.3v3.5M1694.5 379.3v3.5M1722.5 379.3v3.5M1727.5 379.3v3.5M1730.5 379.3v3.5M1751.5 379.3v3.5M1764.5 379.3v3.5M1585.5 383.5v3.5M1588.5 383.5v3.5M1640.5 383.5v3.5M1674.5 383.5v3.5M1700.5 383.5v3.5M1730.5 383.5v3.5M1737.5 383.5v3.5M1758.5 383.5v3.5M1779.5 383.5v3.5M1781.5 383.5v3.5M1583.5 387.7v3.5M1597.5 387.7v3.5M1604.5 387.7v3.5M1623.5 387.7v3.5M1632.5 387.7v3.5M1637.5 387.7v3.5M1639.5 387.7v3.5M1640.5 387.7v3.5M1672.5 387.7v3.5M1700.5 387.7v3.5M1717.5 387.7v3.5M1728.5 387.7v3.5M1748.5 387.7v3.5M1758.5 387.7v3.5M1765.5 387.7v3.5M1785.5 387.7v3.5M1606.5 391.9v3.5M1622.5 391.9v3.5M1676.5 391.9v3.5M1699.5 391.9v3.5M1716.5 391.9v3.5M1779.5 391.9v3.5M1594.5 396.1v3.5M1637.5 396.1v3.5M1697.5 396.1v3.5M1708.5 396.1v3.5M1720.5 396.1v3.5M1722.5 396.1v3.5M1723.5 396.1v3.5M1736.5 396.1v3.5M1768.5 396.1v3.5M1771.5 396.1v3.5M1771.5 396.1v3.5M1778.5 396.1v3.5M1789.5 396.1v3.5M1578.5 400.3v3.5M1582.5 400.3v3.5M1582.5 400.3v3.5M1590.5 400.3v3.5M1590.5 400.3v3.5M1592.5 400.3v3.5M1592.5 400.3v3.5M1594.5 400.3v3.5M1615.5 400.3v3.5M1617.5 400.3v3.5M1626.5 400.3v3.5M1639.5 400.3v3.5M1640.5 400.3v3.5M1646.5 400.3v3.5M1650.5 400.3v3.5M1664.5 400.3v3.5M1665.5 400.3v3.5M1669.5 400.3v3.5M1698.5 400.3v3.5M1758.5 400.3v3.5M1575.5 404.4v3.5M1581.5 404.4v3.5M1593.5 404.4v3.5M1599.5 404.4v3.5M1602.5 404.4v3.5M1603.5 404.4v3.5M1605.5 404.4v3.5M1620.5 404.4v3.5M1621.5 404.4v3.5M1623.5 404.4v3.5M1631.5 404.4v3.5M1631.5 404.4v3.5M1638.5 404.4v3.5M1648.5 404.4v3.5M1652.5 404.4v3.5M1655.5 404.4v3.5M1655.5 404.4v3.5M1655.5 404.4v3.5M1657.5 404.4v3.5M1661.5 404.4v3.5M1695.5 404.4v3.5M1705.5 404.4v3.5M1710.5 404.4v3.5M1711.5 404.4v3.5M1716.5 404.4v3.5M1719.5 404.4v3.5M1720.5 404.4v3.5M1721.5 404.4v3.5M1731.5 404.4v3.5M1758.5 404.4v3.5M1770.5 404.4v3.5M1779.5 404.4v3.5M1783.5 404.4v3.5M1794.5 404.4v3.5M1573.5 408.6v3.5M1577.5 408.6v3.5M1590.5 408.6v3.5M1604.5 408.6v3.5M1605.5 408.6v3.5M1606.5 408.6v3.5M1610.5 408.6v3.5M1620.5 408.6v3.5M1631.5 408.6v3.5M1634.5 408.6v3.5M1665.5 408.6v3.5M1685.5 408.6v3.5M1698.5 408.6v3.5M1701.5 408.6v3.5M1702.5 408.6v3.5M1726.5 408.6v3.5M1729.5 408.6v3.5M1757.5 408.6v3.5M1765.5 408.6v3.5M1765.5 408.6v3.5M1575.5 412.8v3.5M1604.5 412.8v3.5M1642.5 412.8v3.5M1643.5 412.8v3.5M1648.5 412.8v3.5M1648.5 412.8v3.5M1658.5 412.8v3.5M1709.5 412.8v3.5M1712.5 412.8v3.5M1722.5 412.8v3.5M1725.5 412.8v3.5M1759.5 412.8v3.5M1781.5 412.8v3.5M1794.5 412.8v3.5M1591.5 417v3.5M1603.5 417v3.5M1608.5 417v3.5M1608.5 417v3.5M1624.5 417v3.5M1631.5 417v3.5M1637.5 417v3.5M1648.5 417v3.5M1657.5 417v3.5M1689.5 417v3.5M1709.5 417v3.5M1717.5 417v3.5M1750.5 417v3.5M1754.5 417v3.5M1763.5 417v3.5M1779.5 417v3.5M1789.5 417v3.5M1582.5 421.2v3.5M1583.5 421.2v3.5M1611.5 421.2v3.5M1612.5 421.2v3.5M1667.5 421.2v3.5M1715.5 421.2v3.5M1737.5 421.2v3.5M1778.5 421.2v3.5M1592.5 425.4v3.5M1598.5 425.4v3.5M1615.5 425.4v3.5M1631.5 425.4v3.5M1632.5 425.4v3.5M1662.5 425.4v3.5M1692.5 425.4v3.5M1699.5 425.4v3.5M1712.5 425.4v3.5M1722.5 425.4v3.5M1746.5 425.4v3.5M1748.5 425.4v3.5M1759.5 425.4v3.5M1586.5 429.6v3.5M1598.5 429.6v3.5M1617.5 429.6v3.5M1661.5 429.6v3.5M1670.5 429.6v3.5M1691.5 429.6v3.5M1696.5 429.6v3.5M1705.5 429.6v3.5M1778.5 429.6v3.5M1663.5 433.8v3.5M1589.5 438v3.5M1624.5 438v3.5M1673.5 438v3.5M1692.5 438v3.5M1692.5 438v3.5M1730.5 438v3.5M1777.5 438v3.5M1577.5 442.2v3.5M1582.5 442.2v3.5M1628.5 442.2v3.5M1629.5 442.2v3.5M1640.5 442.2v3.5M1647.5 442.2v3.5M1654.5 442.2v3.5M1654.5 442.2v3.5M1667.5 442.2v3.5M1688.5 442.2v3.5M1693.5 442.2v3.5M1702.5 442.2v3.5M1708.5 442.2v3.5M1721.5 442.2v3.5M1761.5 442.2v3.5M1781.5 442.2v3.5M1791.5 442.2v3.5M1598.5 446.4v3.5M1621.5 446.4v3.5M1622.5 446.4v3.5M1661.5 446.4v3.5M1739.5 446.4v3.5M1783.5 446.4v3.5" stroke="#000" stroke-width="1.3" fill="none"/>
<line x1="1637.2" y1="261.6" x2="1637.2" y2="450.2" stroke="#d8283a" stroke-width="1.5" stroke-dasharray="1.5,2.5"/>
<path d="M1572 260.6V450.2H1796.6" stroke="#1a1a1a" stroke-width="1.8" fill="none"/>
<line x1="1568" y1="303.7" x2="1572" y2="303.7" stroke="#1a1a1a" stroke-width="1.6" />
<text x="1562.5" y="310.3" font-size="21" text-anchor="end">10</text>
<line x1="1568" y1="345.6" x2="1572" y2="345.6" stroke="#1a1a1a" stroke-width="1.6" />
<text x="1562.5" y="352.2" font-size="21" text-anchor="end">20</text>
<line x1="1568" y1="387.8" x2="1572" y2="387.8" stroke="#1a1a1a" stroke-width="1.6" />
<text x="1562.5" y="394.4" font-size="21" text-anchor="end">30</text>
<line x1="1568" y1="429" x2="1572" y2="429" stroke="#1a1a1a" stroke-width="1.6" />
<text x="1562.5" y="435.6" font-size="21" text-anchor="end">40</text>
<line x1="1568" y1="261.6" x2="1572" y2="261.6" stroke="#1a1a1a" stroke-width="1.6" />
<line x1="1572" y1="450.2" x2="1572" y2="453.7" stroke="#1a1a1a" stroke-width="1.6" />
<line x1="1637.2" y1="450.2" x2="1637.2" y2="453.7" stroke="#1a1a1a" stroke-width="1.6" />
<line x1="1702.4" y1="450.2" x2="1702.4" y2="453.7" stroke="#1a1a1a" stroke-width="1.6" />
<line x1="1767.6" y1="450.2" x2="1767.6" y2="453.7" stroke="#1a1a1a" stroke-width="1.6" />
<line x1="1796.6" y1="450.2" x2="1796.6" y2="453.7" stroke="#1a1a1a" stroke-width="1.6" />
<text x="1129.9" y="27.7" font-size="29.3" text-anchor="middle">E1 &amp; E2</text>
<text x="1406.5" y="27.7" font-size="29.3" text-anchor="middle">E3 &amp; E4</text>
<text x="1684" y="27.7" font-size="29.3" text-anchor="middle">E5 &amp; E6</text>
<text x="972.5" y="142.4" font-size="21" text-anchor="middle" transform="rotate(-90 972.5 142.4)">Trials</text>
<text x="972.5" y="361.2" font-size="21" text-anchor="middle" transform="rotate(-90 972.5 361.2)">Trials</text>
<path d="M719.5 602.5 721 601.2 722.5 600.3 724 599.7 725.6 599.3 727.1 598.7 728.6 597.1 730.1 596.2 731.6 596.7 733.1 598 734.7 599 736.2 599 737.7 599.3 739.2 600.2 740.7 600.8 742.2 601.8 743.8 602.2 745.3 602.9 746.8 602.8 748.3 603.8 749.8 604.6 751.3 604.6 752.8 604.1 754.4 604.5 755.9 605.5 757.4 606.3 758.9 606.6 760.4 606.4 761.9 606.7 763.5 607.3 765 608.9 766.5 609.4 768 609.8 769.5 610.4 771 610.8 772.6 611 774.1 611.3 775.6 611.6 777.1 612 778.6 611.8 780.1 612.3 781.7 613.4 783.2 614.4 784.7 614.8 786.2 612.7 787.7 610.9 789.2 606.1 790.8 599.2 792.3 593 793.8 588.1 795.3 583.1 796.8 577 798.3 571.3 799.8 565.9 801.4 561.6 802.9 559.3 804.4 558 805.9 556.1 807.4 554.1 808.9 551.5 810.5 549.6 812 547.8 813.5 546 815 544.4 816.5 543.2 818 542.3 819.6 540.8 821.1 538.5 822.6 533.7 824.1 530.6 825.6 527.7 827.1 519.8 828.7 515.4 830.2 514.5 831.7 515.3 833.2 514.5 834.7 514.7 836.2 513 837.8 512.1 839.3 511.1 840.8 508.4 842.3 505.9 843.8 497.6 845.3 495.2 846.8 492.5 848.4 490.8 849.9 488.9 851.4 486.8 852.9 483.6 854.4 484.7 855.9 488.8 857.5 493.7 859 499.1 860.5 503.9 862 509.3 863.5 513.2 865 518.2 866.6 522.6 868.1 526.1 869.6 530.6 871.1 528.8 872.6 527.7 874.1 525.8 875.7 525.3 877.2 525.3 878.7 525.2 880.2 525.1 881.7 525 883.2 525.3 884.8 525.5 886.3 525 887.8 524.6 889.3 524 890.8 524.8 892.3 526.1 893.8 528 895.4 529.6 896.9 531.2 898.4 532.5 899.9 533.5 901.4 534.5 902.9 535.4 904.5 536.8 906 538.3 907.5 539.2 909 539.6 910.5 540.7 912 542 913.6 544.7 915.1 546.6 916.6 548.7 918.1 550.5 919.6 551.8 921.1 551.4 922.7 551.9 924.2 551.8 925.7 552.4 927.2 551.9 928.7 552.7 930.2 553.6 931.8 553.9 933.3 553.9 934.8 553.8 936.3 554.9 937.8 556 939.3 556.3 940.9 556.1 942.4 555.6 943.9 556.6 945.4 557.9 L945.4 596.7 943.9 596 942.4 595.3 940.9 594 939.3 593 937.8 591.7 936.3 591.3 934.8 590.7 933.3 590.6 931.8 590.7 930.2 591 928.7 591.3 927.2 591 925.7 590.1 924.2 589.6 922.7 589.6 921.1 589.9 919.6 589.9 918.1 588.6 916.6 586.2 915.1 584.2 913.6 582 912 581 910.5 579.1 909 577.8 907.5 576 906 574.8 904.5 573.9 902.9 573.3 901.4 572.6 899.9 571.4 898.4 570.3 896.9 569 895.4 567.9 893.8 565.8 892.3 563.7 890.8 561.6 889.3 561.8 887.8 562.3 886.3 562.6 884.8 562.2 883.2 561.7 881.7 561.9 880.2 562.2 878.7 563.4 877.2 564.1 875.7 565 874.1 565.1 872.6 565.4 871.1 566.4 869.6 567.1 868.1 563.4 866.6 560.3 865 556.5 863.5 552.9 862 548 860.5 543.4 859 537.5 857.5 531.6 855.9 527.2 854.4 523.5 852.9 523.4 851.4 525.9 849.9 528.3 848.4 529.7 846.8 532 845.3 533.1 843.8 536.3 842.3 533.8 840.8 537.5 839.3 539.5 837.8 540.5 836.2 540.8 834.7 541.7 833.2 542.5 831.7 542 830.2 541.9 828.7 541.8 827.1 547.5 825.6 555.1 824.1 558.2 822.6 560.9 821.1 561.1 819.6 563 818 565 816.5 567.7 815 569.3 813.5 570.7 812 571.4 810.5 573.7 808.9 575.2 807.4 578.3 805.9 581.3 804.4 583.8 802.9 585.7 801.4 586.2 799.8 590.8 798.3 595.1 796.8 601.1 795.3 607.1 793.8 612.2 792.3 617.6 790.8 624.8 789.2 633.4 787.7 639.9 786.2 642.6 784.7 645.4 783.2 646.5 781.7 646.9 780.1 647.4 778.6 646.8 777.1 646.6 775.6 646.5 774.1 646.3 772.6 645.4 771 644.1 769.5 643.7 768 642.8 766.5 642.8 765 642.9 763.5 643.1 761.9 642.8 760.4 642 758.9 641.4 757.4 640.6 755.9 640.1 754.4 639.9 752.8 638.6 751.3 637.6 749.8 636.9 748.3 637.3 746.8 636.7 745.3 636.1 743.8 635.1 742.2 634.7 740.7 634.3 739.2 634.2 737.7 633.6 736.2 633 734.7 631.9 733.1 631.9 731.6 631.6 730.1 632.2 728.6 632.1 727.1 632.3 725.6 632.6 724 633.6 722.5 635 721 636 719.5 636.7Z" fill="#75b48c" fill-opacity="0.6" stroke="none"/>
<path d="M719.5 593.5 721 593.5 722.5 594.2 724 595 725.6 596.1 727.1 596.4 728.6 596.9 730.1 596.9 731.6 597.8 733.1 598.7 734.7 601 736.2 601.6 737.7 602.6 739.2 602.8 740.7 603.9 742.2 604.9 743.8 605.9 745.3 607.3 746.8 608.3 748.3 609.5 749.8 610 751.3 610.9 752.8 611.4 754.4 612.7 755.9 613.4 757.4 613.9 758.9 614.8 760.4 616.2 761.9 617.7 763.5 618.9 765 619.3 766.5 619.7 768 619.6 769.5 620.7 771 621.5 772.6 621.4 774.1 621.7 775.6 622.6 777.1 623.7 778.6 623.5 780.1 623.3 781.7 623.4 783.2 624.7 784.7 624.4 786.2 625.4 787.7 624.9 789.2 625.9 790.8 625.9 792.3 626.4 793.8 626.8 795.3 626.6 796.8 626.8 798.3 626.7 799.8 625.8 801.4 625.9 802.9 624.4 804.4 624 805.9 622.4 807.4 621.7 808.9 619.2 810.5 617.2 812 614.8 813.5 612.6 815 610.7 816.5 608.4 818 606.3 819.6 604 821.1 602.3 822.6 601 824.1 599.6 825.6 598.3 827.1 596.9 828.7 595.1 830.2 593.3 831.7 591.5 833.2 590.3 834.7 589.2 836.2 588.2 837.8 587.1 839.3 586.5 840.8 585.9 842.3 585.7 843.8 584.5 845.3 584.5 846.8 583.7 848.4 583.2 849.9 582.1 851.4 581.4 852.9 581.2 854.4 581.7 855.9 581.6 857.5 581.5 859 581.6 860.5 582.1 862 582 863.5 581 865 580.6 866.6 579.7 868.1 579.7 869.6 581 871.1 583.1 872.6 585 874.1 586.1 875.7 586.8 877.2 587.3 878.7 588.6 880.2 590.2 881.7 592.1 883.2 592.9 884.8 593.8 886.3 594.9 887.8 596.2 889.3 597.2 890.8 597.9 892.3 598.6 893.8 599.3 895.4 599.6 896.9 599.9 898.4 599.8 899.9 599.9 901.4 600.3 902.9 600.1 904.5 600 906 599.6 907.5 598.7 909 598.5 910.5 597.6 912 597.9 913.6 596.7 915.1 596.4 916.6 594.9 918.1 594.1 919.6 593.1 921.1 592.8 922.7 593.1 924.2 593.1 925.7 591.7 927.2 591.5 928.7 591 930.2 590.8 931.8 589.7 933.3 588.2 934.8 588.1 936.3 587.5 937.8 587.2 939.3 585.7 940.9 584.6 942.4 583.6 943.9 583 945.4 582.1 L945.4 614.3 943.9 614.9 942.4 615.9 940.9 616.9 939.3 617.7 937.8 618.7 936.3 619.8 934.8 620.6 933.3 621.1 931.8 621.3 930.2 621.5 928.7 621.5 927.2 622.5 925.7 623.4 924.2 624.3 922.7 624.9 921.1 626.3 919.6 626.8 918.1 626.6 916.6 626.8 915.1 627.1 913.6 628.4 912 628.7 910.5 630.2 909 630.4 907.5 631.6 906 632.8 904.5 634 902.9 633.6 901.4 633.3 899.9 632.6 898.4 632.3 896.9 632.4 895.4 632.2 893.8 631.5 892.3 630.2 890.8 629.2 889.3 627.4 887.8 627 886.3 626.4 884.8 626.4 883.2 625.1 881.7 624.1 880.2 622.5 878.7 620.7 877.2 619.6 875.7 618.3 874.1 618.1 872.6 616.5 871.1 616.1 869.6 615 868.1 613.8 866.6 613.3 865 612.3 863.5 612.1 862 611.6 860.5 611.9 859 612.2 857.5 612.1 855.9 612.7 854.4 612.8 852.9 614.5 851.4 615.3 849.9 615.2 848.4 614.2 846.8 614.1 845.3 615.1 843.8 616.3 842.3 616.6 840.8 617.2 839.3 617.8 837.8 619.8 836.2 620.9 834.7 622.1 833.2 623.5 831.7 625.4 830.2 626.9 828.7 628.5 827.1 630.3 825.6 631.4 824.1 632 822.6 632.8 821.1 634.2 819.6 636.4 818 638 816.5 640.4 815 642.2 813.5 644.2 812 646.2 810.5 647.7 808.9 650 807.4 652.6 805.9 654.7 804.4 656 802.9 657.7 801.4 658.5 799.8 658.7 798.3 657.8 796.8 657.4 795.3 657.2 793.8 657.5 792.3 657.6 790.8 657.5 789.2 657.2 787.7 657.5 786.2 657 784.7 656.4 783.2 655.9 781.7 656 780.1 656.1 778.6 655.1 777.1 654.7 775.6 654.3 774.1 654.2 772.6 654 771 653.3 769.5 652.8 768 652.4 766.5 651.9 765 651.3 763.5 650.3 761.9 649.7 760.4 648.8 758.9 647.6 757.4 646 755.9 645 754.4 644.5 752.8 643.4 751.3 642.2 749.8 640.5 748.3 639.3 746.8 638.2 745.3 637 743.8 636.6 742.2 635.7 740.7 635.2 739.2 634.8 737.7 633.9 736.2 633.5 734.7 632.6 733.1 632.5 731.6 631.4 730.1 630.2 728.6 630 727.1 628.9 725.6 628.5 724 627.9 722.5 627.9 721 627.2 719.5 626.1Z" fill="#7ab4e3" fill-opacity="0.6" stroke="none"/>
<path d="M719.5 611.5 721 612.3 722.5 612 724 613.1 725.6 613.8 727.1 615.1 728.6 615.7 730.1 615.6 731.6 616.6 733.1 616.8 734.7 617.8 736.2 618.3 737.7 619.7 739.2 621 740.7 621.3 742.2 621.5 743.8 622 745.3 623.3 746.8 624.8 748.3 624.9 749.8 625.1 751.3 625.8 752.8 627 754.4 628.3 755.9 629 757.4 629.6 758.9 629.7 760.4 630.1 761.9 631.3 763.5 632.5 765 633.7 766.5 633.5 768 634.3 769.5 635.2 771 635.9 772.6 636.3 774.1 637.1 775.6 638.4 777.1 638.9 778.6 639 780.1 639.4 781.7 640.3 783.2 641.3 784.7 642.4 786.2 642.6 787.7 642.8 789.2 642.4 790.8 643.4 792.3 643.8 793.8 644.9 795.3 645.8 796.8 646.9 798.3 648.3 799.8 648.5 801.4 649.5 802.9 649.3 804.4 650.4 805.9 651.3 807.4 652.6 808.9 653.2 810.5 653.4 812 654.5 813.5 654.7 815 655 816.5 654.6 818 655.2 819.6 655.1 821.1 655.2 822.6 654.5 824.1 654.1 825.6 653 827.1 653.3 828.7 653.3 830.2 653.5 831.7 651.9 833.2 652.1 834.7 651.5 836.2 651 837.8 649.7 839.3 648.6 840.8 648.4 842.3 648.3 843.8 649 845.3 648.7 846.8 648.5 848.4 647.9 849.9 647.2 851.4 645.5 852.9 643.1 854.4 640.8 855.9 639.2 857.5 638.3 859 636.5 860.5 635 862 632.6 863.5 631 865 629.4 866.6 628.4 868.1 627.5 869.6 627.1 871.1 627 872.6 626.6 874.1 626.4 875.7 625.6 877.2 625 878.7 624.6 880.2 624.6 881.7 624.4 883.2 624.6 884.8 624.6 886.3 624.6 887.8 624 889.3 624 890.8 624.1 892.3 624.1 893.8 623.8 895.4 623.2 896.9 623.5 898.4 622.6 899.9 622.7 901.4 621.6 902.9 621.4 904.5 620.9 906 621.1 907.5 621.1 909 621.4 910.5 621.5 912 620.9 913.6 620.3 915.1 619.2 916.6 620.4 918.1 621.5 919.6 621.6 921.1 621.5 922.7 621.9 924.2 623.1 925.7 624.7 927.2 625.4 928.7 626.4 930.2 626.6 931.8 626.5 933.3 626.8 934.8 626.6 936.3 626.4 937.8 626.5 939.3 626.7 940.9 626.5 942.4 626.1 943.9 626.3 945.4 626.6 L945.4 647.3 943.9 647.7 942.4 648 940.9 648.3 939.3 648.5 937.8 648.8 936.3 649.8 934.8 649.5 933.3 649.1 931.8 648.5 930.2 647.5 928.7 646.1 927.2 645.2 925.7 644.5 924.2 644 922.7 643.1 921.1 643 919.6 642.8 918.1 642.2 916.6 641.6 915.1 641.3 913.6 641.3 912 640.5 910.5 640 909 640 907.5 640.9 906 641 904.5 641.9 902.9 641.4 901.4 641.8 899.9 641.5 898.4 642.5 896.9 642.7 895.4 642.7 893.8 642.7 892.3 642.7 890.8 643.3 889.3 643.9 887.8 643.5 886.3 642.8 884.8 642.4 883.2 642.4 881.7 643.6 880.2 643.7 878.7 644.2 877.2 643.4 875.7 644 874.1 643.9 872.6 644.4 871.1 643.5 869.6 644.2 868.1 644.9 866.6 646.8 865 648.6 863.5 649.2 862 651.3 860.5 652.5 859 654.5 857.5 654.9 855.9 655.9 854.4 658 852.9 660.1 851.4 662.5 849.9 663.9 848.4 665.5 846.8 665.2 845.3 665.1 843.8 665 842.3 665.7 840.8 665.8 839.3 666 837.8 666.6 836.2 666.5 834.7 666.7 833.2 666.6 831.7 667.5 830.2 667.3 828.7 668.5 827.1 669.1 825.6 670.4 824.1 671.1 822.6 671.8 821.1 671.8 819.6 671.9 818 671.3 816.5 671.6 815 671 813.5 670.5 812 670.2 810.5 669.9 808.9 668.9 807.4 667.9 805.9 667 804.4 666.9 802.9 666.3 801.4 665.3 799.8 664.4 798.3 663.8 796.8 663.8 795.3 663.4 793.8 662.4 792.3 661.4 790.8 660.2 789.2 659.4 787.7 658.2 786.2 657.7 784.7 657.3 783.2 657.2 781.7 656.9 780.1 656.5 778.6 656 777.1 655.2 775.6 653.9 774.1 652.3 772.6 652.1 771 651.5 769.5 651.5 768 649.8 766.5 649.6 765 648.1 763.5 648 761.9 647 760.4 647.4 758.9 647 757.4 645.4 755.9 644.1 754.4 643 752.8 643.3 751.3 642.5 749.8 641.1 748.3 640 746.8 639.1 745.3 638.4 743.8 637.2 742.2 636.3 740.7 635.9 739.2 635.6 737.7 635 736.2 633.9 734.7 633 733.1 632.5 731.6 632.1 730.1 632.3 728.6 632.1 727.1 631.7 725.6 629.9 724 628.6 722.5 628.3 721 628.4 719.5 628Z" fill="#e669bc" fill-opacity="0.6" stroke="none"/>
<path d="M719.5 609.2 721 608.7 722.5 606.3 724 605 725.6 603.4 727.1 603.9 728.6 604.6 730.1 605.2 731.6 606.7 733.1 607.4 734.7 606.8 736.2 605 737.7 604.3 739.2 604.1 740.7 604.5 742.2 603.9 743.8 602.7 745.3 601 746.8 600.6 748.3 600.5 749.8 601.6 751.3 602 752.8 602.9 754.4 603.7 755.9 604.7 757.4 604.6 758.9 604.6 760.4 605.1 761.9 605.8 763.5 605.7 765 607.4 766.5 608.8 768 611.9 769.5 613.1 771 612.6 772.6 611.7 774.1 611.2 775.6 610.6 777.1 610.8 778.6 611 780.1 612.8 781.7 613.3 783.2 614 784.7 614.5 786.2 616 787.7 618.5 789.2 620.8 790.8 623.5 792.3 625.6 793.8 627.9 795.3 629.6 796.8 632.8 798.3 634.9 799.8 637.1 801.4 637.9 802.9 640.3 804.4 641.6 805.9 643.3 807.4 644.4 808.9 646.2 810.5 647.8 812 648.4 813.5 648.1 815 647.9 816.5 647.4 818 646.2 819.6 645.6 821.1 644.3 822.6 644.6 824.1 644.2 825.6 644.4 827.1 643.9 828.7 643.5 830.2 642.4 831.7 641.8 833.2 641.6 834.7 642.1 836.2 642.4 837.8 641.8 839.3 641.8 840.8 642 842.3 642.9 843.8 643 845.3 643.7 846.8 643.4 848.4 644.1 849.9 642.5 851.4 639.9 852.9 636.7 854.4 634.1 855.9 630 857.5 626.7 859 623.5 860.5 623.5 862 622.1 863.5 621.8 865 620.8 866.6 619.8 868.1 618.6 869.6 616.7 871.1 615.9 872.6 615.3 874.1 615.9 875.7 615.8 877.2 616.7 878.7 617.3 880.2 618.1 881.7 618.3 883.2 618.3 884.8 618.5 886.3 617.9 887.8 618.3 889.3 618.3 890.8 619.5 892.3 620.4 893.8 621.8 895.4 622.8 896.9 622.6 898.4 621.8 899.9 620.7 901.4 620.3 902.9 619.5 904.5 619.6 906 620.1 907.5 620.4 909 621 910.5 621.2 912 621.4 913.6 621.5 915.1 621.7 916.6 622.6 918.1 623.5 919.6 624 921.1 624.9 922.7 625.3 924.2 626.6 925.7 626.7 927.2 627.1 928.7 627.3 930.2 628 931.8 627.4 933.3 627.3 934.8 627 936.3 626.4 937.8 625.3 939.3 624.3 940.9 623.5 942.4 622.8 943.9 620.8 945.4 619.6 L945.4 672.3 943.9 672.8 942.4 672.8 940.9 673.3 939.3 674 937.8 674.8 936.3 674.3 934.8 674.5 933.3 674.7 931.8 675.4 930.2 675.7 928.7 675.5 927.2 674.1 925.7 673.1 924.2 670.5 922.7 669.6 921.1 667.8 919.6 667.4 918.1 666.5 916.6 665.6 915.1 663.5 913.6 662.5 912 661.5 910.5 661.6 909 660.6 907.5 659.7 906 658.7 904.5 657.8 902.9 658.1 901.4 657.7 899.9 657.7 898.4 657.9 896.9 658.8 895.4 657.9 893.8 656.1 892.3 654.8 890.8 653.7 889.3 653.3 887.8 652 886.3 650.7 884.8 649.1 883.2 648.5 881.7 648.3 880.2 648.3 878.7 647.5 877.2 646.8 875.7 646 874.1 646 872.6 644.8 871.1 643.9 869.6 644 868.1 645.1 866.6 645.5 865 645.6 863.5 645.6 862 646.6 860.5 646.6 859 647.5 857.5 649.4 855.9 654.4 854.4 658 852.9 659.6 851.4 660.8 849.9 661.4 848.4 662.4 846.8 661.2 845.3 661.5 843.8 660.9 842.3 660.7 840.8 660.9 839.3 661.1 837.8 661.6 836.2 661.3 834.7 660.4 833.2 659.7 831.7 660.1 830.2 661 828.7 662 827.1 662.2 825.6 662.6 824.1 663.8 822.6 663.5 821.1 664.4 819.6 663.9 818 665 816.5 664.5 815 665.2 813.5 665.2 812 665.2 810.5 664.2 808.9 662.5 807.4 661.5 805.9 660.7 804.4 659.6 802.9 658.6 801.4 657.6 799.8 655.9 798.3 652.7 796.8 649.8 795.3 648 793.8 646.9 792.3 644.5 790.8 641.6 789.2 638.5 787.7 635.8 786.2 633.4 784.7 632.7 783.2 631.7 781.7 630.8 780.1 630.4 778.6 630.2 777.1 630.1 775.6 629.9 774.1 629.9 772.6 630.9 771 631 769.5 632 768 629.2 766.5 627.6 765 625 763.5 623.7 761.9 623.2 760.4 622.9 758.9 622.6 757.4 621.7 755.9 621.8 754.4 621.6 752.8 622.2 751.3 620.3 749.8 619.3 748.3 618 746.8 618.7 745.3 618.7 743.8 618.9 742.2 620 740.7 621.3 739.2 622.3 737.7 623 736.2 623.3 734.7 624.3 733.1 624.7 731.6 624.3 730.1 622.9 728.6 622.6 727.1 622.5 725.6 622.6 724 623.6 722.5 624.4 721 625.9 719.5 626.9Z" fill="#acacac" fill-opacity="0.6" stroke="none"/>
<path d="M719.5 619.6 721 618.6 722.5 617.6 724 616.7 725.6 615.9 727.1 615.5 728.6 614.6 730.1 614.2 731.6 614.2 733.1 614.9 734.7 615.4 736.2 616 737.7 616.5 739.2 617.2 740.7 617.5 742.2 618.2 743.8 618.6 745.3 619.5 746.8 619.7 748.3 620.5 749.8 620.8 751.3 621.1 752.8 621.3 754.4 622.2 755.9 622.8 757.4 623.4 758.9 624 760.4 624.2 761.9 624.8 763.5 625.2 765 625.9 766.5 626.1 768 626.3 769.5 627.1 771 627.5 772.6 628.2 774.1 628.8 775.6 629 777.1 629.3 778.6 629.3 780.1 629.8 781.7 630.2 783.2 630.4 784.7 630.1 786.2 627.6 787.7 625.4 789.2 619.7 790.8 612 792.3 605.3 793.8 600.2 795.3 595.1 796.8 589.1 798.3 583.2 799.8 578.4 801.4 573.9 802.9 572.5 804.4 570.9 805.9 568.7 807.4 566.2 808.9 563.3 810.5 561.7 812 559.6 813.5 558.3 815 556.9 816.5 555.5 818 553.6 819.6 551.9 821.1 549.8 822.6 547.3 824.1 544.4 825.6 541.4 827.1 533.7 828.7 528.6 830.2 528.2 831.7 528.6 833.2 528.5 834.7 528.2 836.2 526.9 837.8 526.3 839.3 525.3 840.8 523 842.3 519.8 843.8 517 845.3 514.2 846.8 512.3 848.4 510.3 849.9 508.6 851.4 506.3 852.9 503.5 854.4 504.1 855.9 508 857.5 512.6 859 518.3 860.5 523.7 862 528.7 863.5 533 865 537.4 866.6 541.4 868.1 544.7 869.6 548.8 871.1 547.6 872.6 546.5 874.1 545.4 875.7 545.1 877.2 544.7 878.7 544.3 880.2 543.6 881.7 543.4 883.2 543.5 884.8 543.8 886.3 543.8 887.8 543.4 889.3 542.9 890.8 543.2 892.3 544.9 893.8 546.9 895.4 548.8 896.9 550.1 898.4 551.4 899.9 552.5 901.4 553.6 902.9 554.3 904.5 555.4 906 556.6 907.5 557.6 909 558.7 910.5 559.9 912 561.5 913.6 563.4 915.1 565.4 916.6 567.5 918.1 569.5 919.6 570.9 921.1 570.7 922.7 570.8 924.2 570.7 925.7 571.3 927.2 571.5 928.7 572 930.2 572.3 931.8 572.3 933.3 572.2 934.8 572.2 936.3 573.1 937.8 573.8 939.3 574.6 940.9 575 942.4 575.5 943.9 576.3 945.4 577.3" fill="none" stroke="#2a7a3c" stroke-width="3.9" stroke-linejoin="round"/>
<path d="M719.5 609.8 721 610.4 722.5 611.1 724 611.4 725.6 612.3 727.1 612.6 728.6 613.4 730.1 613.5 731.6 614.6 733.1 615.6 734.7 616.8 736.2 617.6 737.7 618.2 739.2 618.8 740.7 619.6 742.2 620.3 743.8 621.3 745.3 622.2 746.8 623.3 748.3 624.4 749.8 625.3 751.3 626.5 752.8 627.4 754.4 628.6 755.9 629.2 757.4 630 758.9 631.2 760.4 632.5 761.9 633.7 763.5 634.6 765 635.3 766.5 635.8 768 636 769.5 636.7 771 637.4 772.6 637.7 774.1 638 775.6 638.4 777.1 639.2 778.6 639.3 780.1 639.7 781.7 639.7 783.2 640.3 784.7 640.4 786.2 641.2 787.7 641.2 789.2 641.5 790.8 641.7 792.3 642 793.8 642.2 795.3 641.9 796.8 642.1 798.3 642.2 799.8 642.3 801.4 642.2 802.9 641 804.4 640 805.9 638.5 807.4 637.1 808.9 634.6 810.5 632.5 812 630.5 813.5 628.4 815 626.5 816.5 624.4 818 622.1 819.6 620.2 821.1 618.3 822.6 616.9 824.1 615.8 825.6 614.8 827.1 613.6 828.7 611.8 830.2 610.1 831.7 608.5 833.2 606.9 834.7 605.6 836.2 604.5 837.8 603.4 839.3 602.1 840.8 601.6 842.3 601.1 843.8 600.4 845.3 599.8 846.8 598.9 848.4 598.7 849.9 598.6 851.4 598.3 852.9 597.9 854.4 597.2 855.9 597.2 857.5 596.8 859 596.9 860.5 597 862 596.8 863.5 596.6 865 596.5 866.6 596.5 868.1 596.8 869.6 598 871.1 599.6 872.6 600.8 874.1 602.1 875.7 602.6 877.2 603.5 878.7 604.7 880.2 606.3 881.7 608.1 883.2 609 884.8 610.1 886.3 610.7 887.8 611.6 889.3 612.3 890.8 613.6 892.3 614.4 893.8 615.4 895.4 615.9 896.9 616.2 898.4 616.1 899.9 616.3 901.4 616.8 902.9 616.8 904.5 617 906 616.2 907.5 615.2 909 614.4 910.5 613.9 912 613.3 913.6 612.5 915.1 611.7 916.6 610.9 918.1 610.4 919.6 610 921.1 609.6 922.7 609 924.2 608.7 925.7 607.5 927.2 607 928.7 606.3 930.2 606.2 931.8 605.5 933.3 604.7 934.8 604.4 936.3 603.6 937.8 602.9 939.3 601.7 940.9 600.8 942.4 599.8 943.9 599 945.4 598.2" fill="none" stroke="#3a7dc4" stroke-width="3.9" stroke-linejoin="round"/>
<path d="M719.5 619.8 721 620.3 722.5 620.1 724 620.8 725.6 621.9 727.1 623.4 728.6 623.9 730.1 623.9 731.6 624.4 733.1 624.6 734.7 625.4 736.2 626.1 737.7 627.3 739.2 628.3 740.7 628.6 742.2 628.9 743.8 629.6 745.3 630.9 746.8 632 748.3 632.4 749.8 633.1 751.3 634.1 752.8 635.2 754.4 635.6 755.9 636.5 757.4 637.5 758.9 638.4 760.4 638.7 761.9 639.1 763.5 640.2 765 640.9 766.5 641.6 768 642 769.5 643.4 771 643.7 772.6 644.2 774.1 644.7 775.6 646.1 777.1 647 778.6 647.5 780.1 647.9 781.7 648.6 783.2 649.3 784.7 649.9 786.2 650.2 787.7 650.5 789.2 650.9 790.8 651.8 792.3 652.6 793.8 653.7 795.3 654.6 796.8 655.3 798.3 656.1 799.8 656.5 801.4 657.4 802.9 657.8 804.4 658.6 805.9 659.2 807.4 660.3 808.9 661 810.5 661.6 812 662.3 813.5 662.6 815 663 816.5 663.1 818 663.2 819.6 663.5 821.1 663.5 822.6 663.1 824.1 662.6 825.6 661.7 827.1 661.2 828.7 660.9 830.2 660.4 831.7 659.7 833.2 659.3 834.7 659.1 836.2 658.8 837.8 658.1 839.3 657.3 840.8 657.1 842.3 657 843.8 657 845.3 656.9 846.8 656.9 848.4 656.7 849.9 655.5 851.4 654 852.9 651.6 854.4 649.4 855.9 647.5 857.5 646.6 859 645.5 860.5 643.7 862 642 863.5 640.1 865 639 866.6 637.6 868.1 636.2 869.6 635.6 871.1 635.2 872.6 635.5 874.1 635.1 875.7 634.8 877.2 634.2 878.7 634.4 880.2 634.2 881.7 634 883.2 633.5 884.8 633.5 886.3 633.7 887.8 633.8 889.3 634 890.8 633.7 892.3 633.4 893.8 633.3 895.4 633 896.9 633.1 898.4 632.6 899.9 632.1 901.4 631.7 902.9 631.4 904.5 631.4 906 631.1 907.5 631 909 630.7 910.5 630.8 912 630.7 913.6 630.8 915.1 630.3 916.6 631 918.1 631.8 919.6 632.2 921.1 632.2 922.7 632.5 924.2 633.5 925.7 634.6 927.2 635.3 928.7 636.2 930.2 637.1 931.8 637.5 933.3 638 934.8 638 936.3 638.1 937.8 637.7 939.3 637.6 940.9 637.4 942.4 637.1 943.9 637 945.4 637" fill="none" stroke="#e82a9a" stroke-width="3.9" stroke-linejoin="round"/>
<path d="M719.5 618.1 721 617.3 722.5 615.3 724 614.3 725.6 613 727.1 613.2 728.6 613.6 730.1 614.1 731.6 615.5 733.1 616.1 734.7 615.5 736.2 614.1 737.7 613.7 739.2 613.2 740.7 612.9 742.2 612 743.8 610.8 745.3 609.8 746.8 609.7 748.3 609.3 749.8 610.5 751.3 611.2 752.8 612.5 754.4 612.7 755.9 613.2 757.4 613.1 758.9 613.6 760.4 614 761.9 614.5 763.5 614.7 765 616.2 766.5 618.2 768 620.5 769.5 622.5 771 621.8 772.6 621.3 774.1 620.6 775.6 620.3 777.1 620.4 778.6 620.6 780.1 621.6 781.7 622 783.2 622.8 784.7 623.6 786.2 624.7 787.7 627.2 789.2 629.6 790.8 632.6 792.3 635.1 793.8 637.4 795.3 638.8 796.8 641.3 798.3 643.8 799.8 646.5 801.4 647.7 802.9 649.5 804.4 650.6 805.9 652 807.4 652.9 808.9 654.4 810.5 656 812 656.8 813.5 656.7 815 656.6 816.5 656 818 655.6 819.6 654.8 821.1 654.4 822.6 654 824.1 654 825.6 653.5 827.1 653 828.7 652.8 830.2 651.7 831.7 650.9 833.2 650.7 834.7 651.3 836.2 651.8 837.8 651.7 839.3 651.5 840.8 651.5 842.3 651.8 843.8 651.9 845.3 652.6 846.8 652.3 848.4 653.3 849.9 651.9 851.4 650.3 852.9 648.1 854.4 646.1 855.9 642.2 857.5 638 859 635.5 860.5 635 862 634.4 863.5 633.7 865 633.2 866.6 632.6 868.1 631.8 869.6 630.3 871.1 629.9 872.6 630.1 874.1 630.9 875.7 630.9 877.2 631.8 878.7 632.4 880.2 633.2 881.7 633.3 883.2 633.4 884.8 633.8 886.3 634.3 887.8 635.1 889.3 635.8 890.8 636.6 892.3 637.6 893.8 639 895.4 640.4 896.9 640.7 898.4 639.8 899.9 639.2 901.4 639 902.9 638.8 904.5 638.7 906 639.4 907.5 640.1 909 640.8 910.5 641.4 912 641.4 913.6 642 915.1 642.6 916.6 644.1 918.1 645 919.6 645.7 921.1 646.3 922.7 647.4 924.2 648.5 925.7 649.9 927.2 650.6 928.7 651.4 930.2 651.8 931.8 651.4 933.3 651 934.8 650.7 936.3 650.4 937.8 650.1 939.3 649.1 940.9 648.4 942.4 647.8 943.9 646.8 945.4 646" fill="none" stroke="#000000" stroke-width="3.9" stroke-linejoin="round"/>
<line x1="784.4" y1="480.2" x2="784.4" y2="707.5" stroke="#d8283a" stroke-width="1.5" stroke-dasharray="1.5,2.5"/>
<path d="M719.5 480.2V707.5H945.5" stroke="#1a1a1a" stroke-width="1.8" fill="none"/>
<line x1="719.5" y1="495" x2="723" y2="495" stroke="#1a1a1a" stroke-width="1.6" />
<line x1="719.5" y1="571.2" x2="723" y2="571.2" stroke="#1a1a1a" stroke-width="1.6" />
<line x1="719.5" y1="647.4" x2="723" y2="647.4" stroke="#1a1a1a" stroke-width="1.6" />
<line x1="784.4" y1="707.5" x2="784.4" y2="704" stroke="#1a1a1a" stroke-width="1.6" />
<text x="784.4" y="729.7" font-size="21" text-anchor="middle">0</text>
<line x1="850.9" y1="707.5" x2="850.9" y2="704" stroke="#1a1a1a" stroke-width="1.6" />
<text x="850.9" y="729.7" font-size="21" text-anchor="middle">0.5</text>
<line x1="917.4" y1="707.5" x2="917.4" y2="704" stroke="#1a1a1a" stroke-width="1.6" />
<text x="912.4" y="729.7" font-size="21">1(s)</text>
<text x="713" y="499.7" font-size="21" text-anchor="end">15</text>
<text x="713" y="575.9" font-size="21" text-anchor="end">10</text>
<text x="713" y="652.1" font-size="21" text-anchor="end">5</text>
<text x="831.8" y="462.6" font-size="29.3" text-anchor="middle">PRE</text>
<text x="676.8" y="593.6" font-size="20.8" text-anchor="middle" transform="rotate(-90 676.8 593.6)">Mean responses</text>
<path d="M1017.2 597.2 1018.7 598.3 1020.2 598.2 1021.7 598.6 1023.2 598.6 1024.7 599.2 1026.2 599.6 1027.8 600.1 1029.3 600.6 1030.8 601.4 1032.3 600.8 1033.8 601.7 1035.3 601.9 1036.8 603.4 1038.3 603.7 1039.8 604.4 1041.3 605.3 1042.8 606.4 1044.3 606.5 1045.8 606.8 1047.3 607.2 1048.8 608.8 1050.3 609.6 1051.8 610.4 1053.3 611.1 1054.9 611.9 1056.4 612.9 1057.9 613.1 1059.4 613.7 1060.9 613.3 1062.4 614.2 1063.9 614.3 1065.4 614.8 1066.9 615 1068.4 615.5 1069.9 615.1 1071.4 614.8 1072.9 614.3 1074.4 614 1075.9 614.1 1077.4 613.9 1078.9 614.5 1080.4 613.9 1081.9 614.6 1083.5 612.3 1085 606.1 1086.5 602.2 1088 594.1 1089.5 588.2 1091 586.4 1092.5 584.8 1094 583 1095.5 582 1097 581 1098.5 579.9 1100 578.7 1101.5 576.5 1103 575.1 1104.5 573.1 1106 571.6 1107.5 569.3 1109 567.8 1110.6 565.5 1112.1 560.8 1113.6 556.2 1115.1 552.1 1116.6 550.7 1118.1 549.5 1119.6 548.2 1121.1 547.6 1122.6 546.7 1124.1 545.9 1125.6 545 1127.1 545 1128.6 545.1 1130.1 544.9 1131.6 543.5 1133.1 541.5 1134.6 539.9 1136.1 538.8 1137.6 539 1139.2 538.4 1140.7 538.4 1142.2 536.9 1143.7 536.4 1145.2 535.8 1146.7 536 1148.2 536 1149.7 536.5 1151.2 536.9 1152.7 537.2 1154.2 539.7 1155.7 543.3 1157.2 550.8 1158.7 553.2 1160.2 554.2 1161.7 555.4 1163.2 556.4 1164.7 557 1166.3 557.2 1167.8 557.1 1169.3 556.4 1170.8 556.9 1172.3 557.1 1173.8 558.5 1175.3 560 1176.8 562.1 1178.3 563.8 1179.8 565.4 1181.3 566.5 1182.8 567.7 1184.3 569.1 1185.8 571 1187.3 571.9 1188.8 571.6 1190.3 571 1191.8 570.9 1193.4 570 1194.9 569.5 1196.4 568.7 1197.9 569.2 1199.4 569.8 1200.9 570.2 1202.4 570.2 1203.9 570.2 1205.4 569.7 1206.9 570.1 1208.4 569.3 1209.9 569.6 1211.4 568.7 1212.9 569.4 1214.4 571.8 1215.9 573.9 1217.4 575.5 1218.9 576.5 1220.4 578.9 1222 581 1223.5 582.2 1225 583.2 1226.5 584.2 1228 584.8 1229.5 584.9 1231 584.9 1232.5 584.9 1234 585.2 1235.5 585.4 1237 586 1238.5 586.6 1240 587.1 1241.5 587.9 L1241.5 612.8 1240 612.3 1238.5 612 1237 611.5 1235.5 610.9 1234 609.7 1232.5 609.3 1231 609.2 1229.5 609 1228 607.9 1226.5 607.4 1225 606.6 1223.5 605.4 1222 604.7 1220.4 603.3 1218.9 602 1217.4 600 1215.9 597.5 1214.4 594.6 1212.9 592.3 1211.4 591.8 1209.9 592.4 1208.4 592.5 1206.9 593.7 1205.4 594.2 1203.9 594.5 1202.4 594.3 1200.9 594.1 1199.4 593.7 1197.9 593.2 1196.4 592.9 1194.9 592.8 1193.4 593.2 1191.8 593.5 1190.3 594 1188.8 594 1187.3 594.4 1185.8 594.3 1184.3 593.6 1182.8 592.6 1181.3 591.6 1179.8 589.5 1178.3 587.8 1176.8 585.9 1175.3 583.8 1173.8 581.5 1172.3 580.4 1170.8 581 1169.3 581.2 1167.8 581.4 1166.3 581.6 1164.7 581.4 1163.2 581.1 1161.7 579.2 1160.2 578.4 1158.7 576.8 1157.2 574.2 1155.7 575.2 1154.2 571.8 1152.7 569.8 1151.2 568.6 1149.7 569.1 1148.2 568.8 1146.7 569.4 1145.2 569.1 1143.7 569.2 1142.2 569.9 1140.7 570.3 1139.2 570.3 1137.6 570.7 1136.1 571.7 1134.6 573 1133.1 573.8 1131.6 574.6 1130.1 575.9 1128.6 577 1127.1 577.8 1125.6 578.6 1124.1 578.6 1122.6 578.5 1121.1 578.7 1119.6 579.9 1118.1 580.9 1116.6 582.4 1115.1 583.9 1113.6 589.1 1112.1 593.2 1110.6 597.6 1109 599.6 1107.5 601.5 1106 603.5 1104.5 605.5 1103 607.4 1101.5 608.8 1100 610.6 1098.5 611.9 1097 614 1095.5 614.7 1094 616.3 1092.5 617.6 1091 619.1 1089.5 620.7 1088 626.7 1086.5 634.4 1085 638 1083.5 637.7 1081.9 640.4 1080.4 640.5 1078.9 641 1077.4 641.8 1075.9 640.6 1074.4 640.5 1072.9 641 1071.4 641.4 1069.9 641.6 1068.4 640.9 1066.9 641.6 1065.4 641.6 1063.9 641.1 1062.4 640.4 1060.9 640.3 1059.4 639.7 1057.9 639.3 1056.4 638.1 1054.9 637.1 1053.3 636 1051.8 635.5 1050.3 635.3 1048.8 634.3 1047.3 634.2 1045.8 632.9 1044.3 632 1042.8 630.5 1041.3 630.8 1039.8 630.3 1038.3 629.9 1036.8 629.2 1035.3 628.5 1033.8 627.7 1032.3 627 1030.8 626.7 1029.3 626.6 1027.8 626.2 1026.2 625.8 1024.7 625.1 1023.2 625 1021.7 624.6 1020.2 624.8 1018.7 624.1 1017.2 623.7Z" fill="#75b48c" fill-opacity="0.6" stroke="none"/>
<path d="M1017.2 604.4 1018.7 605.3 1020.2 605.7 1021.7 606.5 1023.2 606.4 1024.7 607.2 1026.2 607.8 1027.8 608.9 1029.3 608.7 1030.8 609.5 1032.3 609.7 1033.8 610.4 1035.3 610.8 1036.8 610.8 1038.3 611 1039.8 610.8 1041.3 610.8 1042.8 611.5 1044.3 611 1045.8 610.4 1047.3 609 1048.8 608.4 1050.3 608.2 1051.8 608.2 1053.3 608.2 1054.9 607.7 1056.4 607.7 1057.9 607.1 1059.4 606.9 1060.9 605.5 1062.4 604.9 1063.9 604.2 1065.4 603.8 1066.9 603.4 1068.4 603.1 1069.9 602.7 1071.4 602.3 1072.9 602 1074.4 601.9 1075.9 601.2 1077.4 601 1078.9 600.8 1080.4 602.5 1081.9 604 1083.5 605.5 1085 605.8 1086.5 607 1088 608.5 1089.5 609.9 1091 611.3 1092.5 611.9 1094 612.3 1095.5 612.6 1097 614.4 1098.5 615.4 1100 616.4 1101.5 616.7 1103 617.7 1104.5 618.8 1106 619.2 1107.5 620.2 1109 621.5 1110.6 623.7 1112.1 624.7 1113.6 625.6 1115.1 625 1116.6 625.8 1118.1 625.6 1119.6 626.3 1121.1 626.8 1122.6 627.7 1124.1 628.7 1125.6 629.7 1127.1 631.8 1128.6 633.1 1130.1 638.4 1131.6 638.3 1133.1 639.8 1134.6 641 1136.1 642.6 1137.6 643.2 1139.2 644.9 1140.7 646.2 1142.2 647.7 1143.7 648.8 1145.2 651.1 1146.7 651.6 1148.2 652.6 1149.7 652.4 1151.2 653.4 1152.7 653.5 1154.2 653.2 1155.7 653 1157.2 652 1158.7 652.5 1160.2 652 1161.7 652.8 1163.2 652.6 1164.7 652.6 1166.3 652 1167.8 651.9 1169.3 652.4 1170.8 652.7 1172.3 652.7 1173.8 652.7 1175.3 653.2 1176.8 654.1 1178.3 654.2 1179.8 654.3 1181.3 654.3 1182.8 654.8 1184.3 653.7 1185.8 652.7 1187.3 651.9 1188.8 652.1 1190.3 651.9 1191.8 650.6 1193.4 648.6 1194.9 646.5 1196.4 645.6 1197.9 643.3 1199.4 642.1 1200.9 640.6 1202.4 639.6 1203.9 638.1 1205.4 637.2 1206.9 636.7 1208.4 636.3 1209.9 635.8 1211.4 635.2 1212.9 635.1 1214.4 634.4 1215.9 634.1 1217.4 633 1218.9 631.6 1220.4 631.8 1222 631.3 1223.5 631.6 1225 630.1 1226.5 628.8 1228 627.5 1229.5 626.5 1231 625.8 1232.5 625 1234 624.6 1235.5 623.7 1237 623 1238.5 622.1 1240 621.6 1241.5 620.7 L1241.5 629.9 1240 630.7 1238.5 632 1237 632.6 1235.5 633.5 1234 634.2 1232.5 634.6 1231 635.5 1229.5 636.1 1228 637.2 1226.5 637.9 1225 639.3 1223.5 640.5 1222 641.9 1220.4 642.8 1218.9 643.2 1217.4 643.2 1215.9 643.5 1214.4 643.7 1212.9 644.4 1211.4 644.9 1209.9 646.2 1208.4 646.8 1206.9 647 1205.4 647.3 1203.9 647.9 1202.4 649.1 1200.9 650.7 1199.4 652.1 1197.9 653.7 1196.4 655.6 1194.9 657.5 1193.4 659.7 1191.8 661.2 1190.3 662.6 1188.8 662.6 1187.3 663.7 1185.8 664.2 1184.3 664.7 1182.8 664.5 1181.3 664 1179.8 663.5 1178.3 663.1 1176.8 662.7 1175.3 663.4 1173.8 663.2 1172.3 663.3 1170.8 662.4 1169.3 662.9 1167.8 662.4 1166.3 662.5 1164.7 662.1 1163.2 662.5 1161.7 662.3 1160.2 662.1 1158.7 662 1157.2 662.6 1155.7 663 1154.2 663.6 1152.7 663.7 1151.2 664 1149.7 663.6 1148.2 662.9 1146.7 661.6 1145.2 661.4 1143.7 660 1142.2 658.6 1140.7 655.4 1139.2 652.7 1137.6 650.8 1136.1 650.7 1134.6 650.2 1133.1 650.1 1131.6 649.5 1130.1 648.2 1128.6 650.7 1127.1 649.6 1125.6 649.3 1124.1 647.7 1122.6 646.3 1121.1 645.5 1119.6 645.2 1118.1 644.6 1116.6 643.2 1115.1 642.3 1113.6 641.2 1112.1 641 1110.6 640.5 1109 639.8 1107.5 638.1 1106 637.3 1104.5 636.4 1103 636.7 1101.5 636.3 1100 635.3 1098.5 633.5 1097 631.7 1095.5 631 1094 630.4 1092.5 629.1 1091 628.2 1089.5 627.1 1088 626.9 1086.5 625.4 1085 623.8 1083.5 622 1081.9 620.9 1080.4 619.5 1078.9 619.9 1077.4 619.6 1075.9 619.9 1074.4 619.4 1072.9 619.9 1071.4 620.5 1069.9 620.6 1068.4 620.9 1066.9 621.2 1065.4 621.5 1063.9 622.1 1062.4 622.5 1060.9 623.7 1059.4 623.3 1057.9 624.9 1056.4 625.1 1054.9 627 1053.3 626.6 1051.8 627.8 1050.3 627.5 1048.8 628.1 1047.3 627.7 1045.8 627.9 1044.3 628.5 1042.8 628.2 1041.3 628.4 1039.8 627.5 1038.3 628 1036.8 627.6 1035.3 627.6 1033.8 627.8 1032.3 628.5 1030.8 628.7 1029.3 627.8 1027.8 626.3 1026.2 626.6 1024.7 625.4 1023.2 625.1 1021.7 623.8 1020.2 624 1018.7 622.7 1017.2 622.2Z" fill="#7ab4e3" fill-opacity="0.6" stroke="none"/>
<path d="M1017.2 598.7 1018.7 599.2 1020.2 600.5 1021.7 602.4 1023.2 604.3 1024.7 605.2 1026.2 606 1027.8 607.3 1029.3 608.7 1030.8 610.1 1032.3 612.3 1033.8 614.2 1035.3 615.9 1036.8 616.9 1038.3 618.6 1039.8 620.3 1041.3 622.2 1042.8 624.5 1044.3 626.3 1045.8 626.8 1047.3 627.6 1048.8 628.3 1050.3 629.6 1051.8 630.3 1053.3 631.2 1054.9 632.6 1056.4 633.5 1057.9 635.1 1059.4 635.7 1060.9 636.4 1062.4 636 1063.9 636.6 1065.4 636.7 1066.9 637.6 1068.4 638.1 1069.9 639.1 1071.4 639.7 1072.9 640.2 1074.4 640.6 1075.9 640.3 1077.4 640 1078.9 639.8 1080.4 640.2 1081.9 640.7 1083.5 641.7 1085 641.9 1086.5 643 1088 642.4 1089.5 644 1091 643.2 1092.5 642.7 1094 640.9 1095.5 641.1 1097 641.8 1098.5 642.1 1100 640.8 1101.5 639.6 1103 639.2 1104.5 638.1 1106 637.3 1107.5 635 1109 634 1110.6 632.4 1112.1 631.6 1113.6 629.8 1115.1 629 1116.6 627.1 1118.1 626.7 1119.6 625.1 1121.1 624.6 1122.6 623 1124.1 622.9 1125.6 622.1 1127.1 621.9 1128.6 620.7 1130.1 620.9 1131.6 620.3 1133.1 620.4 1134.6 619.1 1136.1 617.6 1137.6 617 1139.2 616.4 1140.7 616.2 1142.2 615 1143.7 613.7 1145.2 613.4 1146.7 612.5 1148.2 612.6 1149.7 612.6 1151.2 612.6 1152.7 612.4 1154.2 611.1 1155.7 610.6 1157.2 609.7 1158.7 609.3 1160.2 608.1 1161.7 607.6 1163.2 607.6 1164.7 608.2 1166.3 608 1167.8 607.9 1169.3 607.4 1170.8 607.8 1172.3 607 1173.8 606.5 1175.3 605.9 1176.8 605.6 1178.3 605.7 1179.8 605.2 1181.3 604.5 1182.8 604.7 1184.3 604.4 1185.8 604.6 1187.3 603.8 1188.8 603.7 1190.3 603.8 1191.8 603.9 1193.4 604.2 1194.9 604.1 1196.4 603.9 1197.9 603.3 1199.4 603.1 1200.9 602.1 1202.4 601.7 1203.9 601 1205.4 601 1206.9 600.4 1208.4 599.7 1209.9 599.7 1211.4 600 1212.9 599.8 1214.4 598.4 1215.9 597.1 1217.4 595.6 1218.9 595.3 1220.4 593.7 1222 594.2 1223.5 594.2 1225 594.6 1226.5 594.1 1228 593.7 1229.5 593.1 1231 592.9 1232.5 592.6 1234 593.3 1235.5 592.9 1237 592.9 1238.5 592.5 1240 593.1 1241.5 592.9 L1241.5 608.2 1240 608.3 1238.5 608.2 1237 608.5 1235.5 609.2 1234 609.3 1232.5 609.7 1231 609.8 1229.5 610.3 1228 610.6 1226.5 610.4 1225 610.7 1223.5 610.6 1222 610.4 1220.4 610.1 1218.9 611 1217.4 611.7 1215.9 612.8 1214.4 613.4 1212.9 614.1 1211.4 614.5 1209.9 615.5 1208.4 616 1206.9 616.9 1205.4 617 1203.9 618 1202.4 618.1 1200.9 618.8 1199.4 619.2 1197.9 619.5 1196.4 619.8 1194.9 619.5 1193.4 619.8 1191.8 619.7 1190.3 619.5 1188.8 620.1 1187.3 620.5 1185.8 621.2 1184.3 621.4 1182.8 621.4 1181.3 621.1 1179.8 621 1178.3 621 1176.8 622 1175.3 622.4 1173.8 622.4 1172.3 622.7 1170.8 622.5 1169.3 623.1 1167.8 622.1 1166.3 622.1 1164.7 622.1 1163.2 622.8 1161.7 623.6 1160.2 624 1158.7 624.9 1157.2 624.9 1155.7 626.3 1154.2 626.5 1152.7 628 1151.2 629 1149.7 629.9 1148.2 630 1146.7 630.1 1145.2 630.4 1143.7 631.3 1142.2 631.6 1140.7 632 1139.2 632.9 1137.6 634.4 1136.1 635.3 1134.6 635.4 1133.1 634.6 1131.6 635.4 1130.1 635.9 1128.6 637.5 1127.1 637.7 1125.6 638.6 1124.1 638.9 1122.6 639.9 1121.1 641.3 1119.6 642.6 1118.1 644.3 1116.6 645 1115.1 645.9 1113.6 646.2 1112.1 647.7 1110.6 649.7 1109 650.9 1107.5 652.5 1106 653.2 1104.5 654.8 1103 654.8 1101.5 655.7 1100 655.6 1098.5 656.3 1097 656.8 1095.5 657.3 1094 657.6 1092.5 657.3 1091 658 1089.5 657.7 1088 658.5 1086.5 657.1 1085 657.5 1083.5 657.2 1081.9 658.3 1080.4 657.9 1078.9 657.7 1077.4 656.8 1075.9 657.1 1074.4 656.2 1072.9 656.1 1071.4 655.4 1069.9 655.8 1068.4 655.5 1066.9 655.5 1065.4 653.9 1063.9 653.8 1062.4 652.2 1060.9 650.9 1059.4 649.7 1057.9 649.4 1056.4 649.8 1054.9 648.2 1053.3 647.4 1051.8 646.8 1050.3 646.4 1048.8 644.8 1047.3 642.8 1045.8 641.4 1044.3 640.1 1042.8 638.2 1041.3 636 1039.8 634.4 1038.3 633.3 1036.8 632.7 1035.3 630.7 1033.8 628.6 1032.3 626.5 1030.8 625.5 1029.3 624.6 1027.8 623.6 1026.2 622.6 1024.7 621.4 1023.2 620.3 1021.7 619.3 1020.2 618.3 1018.7 616.5 1017.2 614.8Z" fill="#e669bc" fill-opacity="0.6" stroke="none"/>
<path d="M1017.2 601.2 1018.7 601.5 1020.2 601.7 1021.7 601.5 1023.2 601.9 1024.7 602 1026.2 602.7 1027.8 602.8 1029.3 603.9 1030.8 604.6 1032.3 605.6 1033.8 606.7 1035.3 607.6 1036.8 608.5 1038.3 609.4 1039.8 611.2 1041.3 613.5 1042.8 614.9 1044.3 616.2 1045.8 617.7 1047.3 618.8 1048.8 619.6 1050.3 620.8 1051.8 621.2 1053.3 621.4 1054.9 621.6 1056.4 622.3 1057.9 622.4 1059.4 623 1060.9 623.1 1062.4 623.9 1063.9 623.8 1065.4 624 1066.9 624.2 1068.4 624.9 1069.9 625.4 1071.4 625.6 1072.9 625.1 1074.4 624.4 1075.9 624 1077.4 623.6 1078.9 622.8 1080.4 620.6 1081.9 622.3 1083.5 623.5 1085 625.3 1086.5 625.5 1088 626.7 1089.5 627.9 1091 629.9 1092.5 630.7 1094 632.1 1095.5 632.2 1097 633 1098.5 632.5 1100 632.4 1101.5 631.5 1103 631.9 1104.5 631.7 1106 631.3 1107.5 630.8 1109 630.7 1110.6 631.2 1112.1 631.4 1113.6 630.7 1115.1 630.1 1116.6 630 1118.1 630.1 1119.6 630.6 1121.1 630.8 1122.6 631.9 1124.1 631.7 1125.6 632 1127.1 631.3 1128.6 630.7 1130.1 629.7 1131.6 629.9 1133.1 630.3 1134.6 630.7 1136.1 631.1 1137.6 631.7 1139.2 632 1140.7 631.6 1142.2 632.3 1143.7 633 1145.2 634.4 1146.7 635.2 1148.2 634.7 1149.7 634.9 1151.2 634.3 1152.7 635 1154.2 634 1155.7 634 1157.2 633.3 1158.7 633.6 1160.2 634.2 1161.7 634 1163.2 633.8 1164.7 633 1166.3 633.3 1167.8 634 1169.3 634.8 1170.8 635.1 1172.3 634.7 1173.8 634.8 1175.3 634.9 1176.8 634.5 1178.3 635 1179.8 635.9 1181.3 637.4 1182.8 638.4 1184.3 637.8 1185.8 635.3 1187.3 632.7 1188.8 632.1 1190.3 632.3 1191.8 631.5 1193.4 631.1 1194.9 630 1196.4 630 1197.9 629.8 1199.4 630.3 1200.9 630.4 1202.4 630.1 1203.9 629.4 1205.4 628.5 1206.9 628 1208.4 627.2 1209.9 627 1211.4 626.3 1212.9 626.7 1214.4 625.5 1215.9 624 1217.4 622.4 1218.9 621.4 1220.4 620.7 1222 619.8 1223.5 619.5 1225 619.1 1226.5 618.9 1228 618.4 1229.5 617.8 1231 616.3 1232.5 614.9 1234 613.7 1235.5 612.6 1237 611.4 1238.5 609.7 1240 607.4 1241.5 606.3 L1241.5 623.9 1240 625.2 1238.5 626.5 1237 627.5 1235.5 628.8 1234 629.8 1232.5 632 1231 634.2 1229.5 636.5 1228 637 1226.5 638 1225 638.6 1223.5 639 1222 639.4 1220.4 639.5 1218.9 641.1 1217.4 641.8 1215.9 643.4 1214.4 644.7 1212.9 645.9 1211.4 646.3 1209.9 647.1 1208.4 648.5 1206.9 650.1 1205.4 650.9 1203.9 651.2 1202.4 650.9 1200.9 651.6 1199.4 652.5 1197.9 653.1 1196.4 653.5 1194.9 654.5 1193.4 654.9 1191.8 654.8 1190.3 655.1 1188.8 656 1187.3 658.1 1185.8 659.7 1184.3 661.8 1182.8 662.3 1181.3 662 1179.8 662 1178.3 661 1176.8 660.9 1175.3 661 1173.8 660.5 1172.3 661 1170.8 660.5 1169.3 661.2 1167.8 661 1166.3 660.9 1164.7 660.3 1163.2 659.7 1161.7 660.3 1160.2 660.1 1158.7 660.5 1157.2 660.6 1155.7 662 1154.2 662.2 1152.7 662.4 1151.2 662.1 1149.7 662.5 1148.2 662.4 1146.7 662.5 1145.2 662.5 1143.7 662.7 1142.2 662.8 1140.7 662.1 1139.2 661.6 1137.6 660.1 1136.1 660 1134.6 659.1 1133.1 659.4 1131.6 658.4 1130.1 658.1 1128.6 657.8 1127.1 658.6 1125.6 659 1124.1 659.9 1122.6 659.5 1121.1 659.7 1119.6 659.4 1118.1 660.4 1116.6 659.9 1115.1 658.8 1113.6 657.4 1112.1 657.6 1110.6 658.5 1109 659.2 1107.5 659.1 1106 658.7 1104.5 658.2 1103 658.2 1101.5 659.2 1100 659.7 1098.5 660.4 1097 658.5 1095.5 658.4 1094 657.4 1092.5 657.1 1091 655.2 1089.5 654.4 1088 653.2 1086.5 652.4 1085 650.9 1083.5 649.6 1081.9 647.7 1080.4 646.8 1078.9 647.8 1077.4 649 1075.9 648.4 1074.4 648.6 1072.9 648.9 1071.4 648.7 1069.9 648.8 1068.4 648.8 1066.9 648.3 1065.4 647.3 1063.9 646.8 1062.4 646.2 1060.9 645.9 1059.4 645.6 1057.9 645.2 1056.4 644.3 1054.9 643.3 1053.3 642.7 1051.8 641.6 1050.3 640.7 1048.8 640.1 1047.3 639.9 1045.8 639.3 1044.3 637 1042.8 634.3 1041.3 631.7 1039.8 629.6 1038.3 628.2 1036.8 626.9 1035.3 625.7 1033.8 624.7 1032.3 624 1030.8 623.7 1029.3 622.8 1027.8 622.2 1026.2 621 1024.7 620.9 1023.2 619.5 1021.7 618.6 1020.2 617.5 1018.7 617.5 1017.2 616.7Z" fill="#acacac" fill-opacity="0.6" stroke="none"/>
<path d="M1017.2 610.4 1018.7 611.2 1020.2 611.5 1021.7 611.6 1023.2 611.8 1024.7 612.1 1026.2 612.7 1027.8 613.2 1029.3 613.6 1030.8 614 1032.3 613.9 1033.8 614.7 1035.3 615.2 1036.8 616.3 1038.3 616.8 1039.8 617.3 1041.3 618 1042.8 618.4 1044.3 619.3 1045.8 619.8 1047.3 620.7 1048.8 621.6 1050.3 622.5 1051.8 623 1053.3 623.6 1054.9 624.5 1056.4 625.5 1057.9 626.2 1059.4 626.7 1060.9 626.8 1062.4 627.3 1063.9 627.7 1065.4 628.2 1066.9 628.3 1068.4 628.2 1069.9 628.3 1071.4 628.1 1072.9 627.7 1074.4 627.3 1075.9 627.4 1077.4 627.8 1078.9 627.7 1080.4 627.2 1081.9 627.5 1083.5 625 1085 622 1086.5 618.3 1088 610.4 1089.5 604.4 1091 602.7 1092.5 601.2 1094 599.7 1095.5 598.4 1097 597.5 1098.5 595.9 1100 594.7 1101.5 592.7 1103 591.3 1104.5 589.3 1106 587.5 1107.5 585.4 1109 583.7 1110.6 581.6 1112.1 577 1113.6 572.7 1115.1 568 1116.6 566.5 1118.1 565.2 1119.6 564.1 1121.1 563.2 1122.6 562.6 1124.1 562.3 1125.6 561.8 1127.1 561.4 1128.6 561.1 1130.1 560.4 1131.6 559 1133.1 557.7 1134.6 556.4 1136.1 555.2 1137.6 554.9 1139.2 554.3 1140.7 554.3 1142.2 553.4 1143.7 552.8 1145.2 552.5 1146.7 552.7 1148.2 552.4 1149.7 552.8 1151.2 552.7 1152.7 553.5 1154.2 555.7 1155.7 559.3 1157.2 562.5 1158.7 565 1160.2 566.3 1161.7 567.3 1163.2 568.7 1164.7 569.2 1166.3 569.4 1167.8 569.3 1169.3 568.8 1170.8 569 1172.3 568.8 1173.8 570 1175.3 571.9 1176.8 574 1178.3 575.8 1179.8 577.4 1181.3 579.1 1182.8 580.1 1184.3 581.4 1185.8 582.7 1187.3 583.2 1188.8 582.8 1190.3 582.5 1191.8 582.2 1193.4 581.6 1194.9 581.2 1196.4 580.8 1197.9 581.2 1199.4 581.7 1200.9 582.2 1202.4 582.2 1203.9 582.4 1205.4 581.9 1206.9 581.9 1208.4 580.9 1209.9 581 1211.4 580.3 1212.9 580.8 1214.4 583.2 1215.9 585.7 1217.4 587.8 1218.9 589.2 1220.4 591.1 1222 592.8 1223.5 593.8 1225 594.9 1226.5 595.8 1228 596.3 1229.5 597 1231 597 1232.5 597.1 1234 597.4 1235.5 598.1 1237 598.8 1238.5 599.3 1240 599.7 1241.5 600.4" fill="none" stroke="#2a7a3c" stroke-width="3.9" stroke-linejoin="round"/>
<path d="M1017.2 613.3 1018.7 614 1020.2 614.9 1021.7 615.2 1023.2 615.7 1024.7 616.3 1026.2 617.2 1027.8 617.6 1029.3 618.3 1030.8 619.1 1032.3 619.1 1033.8 619.1 1035.3 619.2 1036.8 619.2 1038.3 619.5 1039.8 619.2 1041.3 619.6 1042.8 619.8 1044.3 619.8 1045.8 619.2 1047.3 618.4 1048.8 618.2 1050.3 617.9 1051.8 618 1053.3 617.4 1054.9 617.3 1056.4 616.4 1057.9 616 1059.4 615.1 1060.9 614.6 1062.4 613.7 1063.9 613.1 1065.4 612.6 1066.9 612.3 1068.4 612 1069.9 611.6 1071.4 611.4 1072.9 610.9 1074.4 610.6 1075.9 610.6 1077.4 610.3 1078.9 610.3 1080.4 611 1081.9 612.4 1083.5 613.8 1085 614.8 1086.5 616.2 1088 617.7 1089.5 618.5 1091 619.7 1092.5 620.5 1094 621.3 1095.5 621.8 1097 623.1 1098.5 624.4 1100 625.9 1101.5 626.5 1103 627.2 1104.5 627.6 1106 628.2 1107.5 629.2 1109 630.6 1110.6 632.1 1112.1 632.8 1113.6 633.4 1115.1 633.7 1116.6 634.5 1118.1 635.1 1119.6 635.7 1121.1 636.1 1122.6 637 1124.1 638.2 1125.6 639.5 1127.1 640.7 1128.6 641.9 1130.1 643.3 1131.6 643.9 1133.1 645 1134.6 645.6 1136.1 646.6 1137.6 647 1139.2 648.8 1140.7 650.8 1142.2 653.1 1143.7 654.4 1145.2 656.2 1146.7 656.6 1148.2 657.7 1149.7 658 1151.2 658.7 1152.7 658.6 1154.2 658.4 1155.7 658 1157.2 657.3 1158.7 657.2 1160.2 657.1 1161.7 657.5 1163.2 657.6 1164.7 657.4 1166.3 657.2 1167.8 657.2 1169.3 657.6 1170.8 657.6 1172.3 658 1173.8 657.9 1175.3 658.3 1176.8 658.4 1178.3 658.6 1179.8 658.9 1181.3 659.2 1182.8 659.6 1184.3 659.2 1185.8 658.4 1187.3 657.8 1188.8 657.4 1190.3 657.2 1191.8 655.9 1193.4 654.1 1194.9 652 1196.4 650.6 1197.9 648.5 1199.4 647.1 1200.9 645.7 1202.4 644.3 1203.9 643 1205.4 642.3 1206.9 641.9 1208.4 641.6 1209.9 641 1211.4 640.1 1212.9 639.7 1214.4 639 1215.9 638.8 1217.4 638.1 1218.9 637.4 1220.4 637.3 1222 636.6 1223.5 636.1 1225 634.7 1226.5 633.4 1228 632.3 1229.5 631.3 1231 630.7 1232.5 629.8 1234 629.4 1235.5 628.6 1237 627.8 1238.5 627 1240 626.1 1241.5 625.3" fill="none" stroke="#3a7dc4" stroke-width="3.9" stroke-linejoin="round"/>
<path d="M1017.2 606.8 1018.7 607.8 1020.2 609.4 1021.7 610.9 1023.2 612.3 1024.7 613.3 1026.2 614.3 1027.8 615.5 1029.3 616.7 1030.8 617.8 1032.3 619.4 1033.8 621.4 1035.3 623.3 1036.8 624.8 1038.3 625.9 1039.8 627.4 1041.3 629.1 1042.8 631.3 1044.3 633.2 1045.8 634.1 1047.3 635.2 1048.8 636.6 1050.3 638 1051.8 638.6 1053.3 639.3 1054.9 640.4 1056.4 641.7 1057.9 642.3 1059.4 642.7 1060.9 643.6 1062.4 644.1 1063.9 645.2 1065.4 645.3 1066.9 646.6 1068.4 646.8 1069.9 647.5 1071.4 647.6 1072.9 648.1 1074.4 648.4 1075.9 648.7 1077.4 648.4 1078.9 648.7 1080.4 649.1 1081.9 649.5 1083.5 649.5 1085 649.7 1086.5 650.1 1088 650.5 1089.5 650.8 1091 650.6 1092.5 650 1094 649.2 1095.5 649.2 1097 649.3 1098.5 649.2 1100 648.2 1101.5 647.7 1103 647 1104.5 646.4 1106 645.3 1107.5 643.8 1109 642.5 1110.6 641.1 1112.1 639.6 1113.6 638 1115.1 637.4 1116.6 636 1118.1 635.5 1119.6 633.9 1121.1 632.9 1122.6 631.4 1124.1 630.9 1125.6 630.4 1127.1 629.8 1128.6 629.1 1130.1 628.4 1131.6 627.9 1133.1 627.5 1134.6 627.3 1136.1 626.4 1137.6 625.7 1139.2 624.7 1140.7 624.1 1142.2 623.3 1143.7 622.5 1145.2 621.9 1146.7 621.3 1148.2 621.3 1149.7 621.2 1151.2 620.8 1152.7 620.2 1154.2 618.8 1155.7 618.5 1157.2 617.3 1158.7 617.1 1160.2 616 1161.7 615.6 1163.2 615.2 1164.7 615.1 1166.3 615.1 1167.8 615 1169.3 615.2 1170.8 615.1 1172.3 614.8 1173.8 614.4 1175.3 614.1 1176.8 613.8 1178.3 613.4 1179.8 613.1 1181.3 612.8 1182.8 613.1 1184.3 612.9 1185.8 612.9 1187.3 612.1 1188.8 611.9 1190.3 611.7 1191.8 611.8 1193.4 612 1194.9 611.8 1196.4 611.9 1197.9 611.4 1199.4 611.2 1200.9 610.4 1202.4 609.9 1203.9 609.5 1205.4 609 1206.9 608.6 1208.4 607.9 1209.9 607.6 1211.4 607.3 1212.9 607 1214.4 605.9 1215.9 605 1217.4 603.7 1218.9 603.1 1220.4 601.9 1222 602.3 1223.5 602.4 1225 602.6 1226.5 602.3 1228 602.2 1229.5 601.7 1231 601.3 1232.5 601.1 1234 601.3 1235.5 601 1237 600.7 1238.5 600.3 1240 600.7 1241.5 600.6" fill="none" stroke="#e82a9a" stroke-width="3.9" stroke-linejoin="round"/>
<path d="M1017.2 608.9 1018.7 609.5 1020.2 609.6 1021.7 610.1 1023.2 610.7 1024.7 611.5 1026.2 611.9 1027.8 612.5 1029.3 613.3 1030.8 614.1 1032.3 614.8 1033.8 615.7 1035.3 616.6 1036.8 617.7 1038.3 618.8 1039.8 620.4 1041.3 622.6 1042.8 624.6 1044.3 626.6 1045.8 628.5 1047.3 629.4 1048.8 629.8 1050.3 630.8 1051.8 631.4 1053.3 632 1054.9 632.5 1056.4 633.3 1057.9 633.8 1059.4 634.3 1060.9 634.5 1062.4 635.1 1063.9 635.3 1065.4 635.7 1066.9 636.3 1068.4 636.8 1069.9 637.1 1071.4 637.1 1072.9 637 1074.4 636.5 1075.9 636.2 1077.4 636.3 1078.9 635.3 1080.4 633.7 1081.9 635 1083.5 636.5 1085 638.1 1086.5 639 1088 639.9 1089.5 641.1 1091 642.5 1092.5 643.9 1094 644.7 1095.5 645.3 1097 645.8 1098.5 646.5 1100 646 1101.5 645.3 1103 645.1 1104.5 645 1106 645 1107.5 644.9 1109 644.9 1110.6 644.9 1112.1 644.5 1113.6 644.1 1115.1 644.5 1116.6 645 1118.1 645.2 1119.6 645 1121.1 645.2 1122.6 645.7 1124.1 645.8 1125.6 645.5 1127.1 645 1128.6 644.2 1130.1 643.9 1131.6 644.1 1133.1 644.8 1134.6 644.9 1136.1 645.6 1137.6 645.9 1139.2 646.8 1140.7 646.9 1142.2 647.5 1143.7 647.9 1145.2 648.5 1146.7 648.9 1148.2 648.5 1149.7 648.7 1151.2 648.2 1152.7 648.7 1154.2 648.1 1155.7 648 1157.2 647 1158.7 647.1 1160.2 647.1 1161.7 647.1 1163.2 646.7 1164.7 646.6 1166.3 647.1 1167.8 647.5 1169.3 648 1170.8 647.8 1172.3 647.8 1173.8 647.6 1175.3 647.9 1176.8 647.7 1178.3 648 1179.8 648.9 1181.3 649.7 1182.8 650.3 1184.3 649.8 1185.8 647.5 1187.3 645.4 1188.8 644.1 1190.3 643.7 1191.8 643.2 1193.4 643 1194.9 642.2 1196.4 641.7 1197.9 641.5 1199.4 641.4 1200.9 641 1202.4 640.5 1203.9 640.3 1205.4 639.7 1206.9 639.1 1208.4 637.8 1209.9 637 1211.4 636.3 1212.9 636.3 1214.4 635.1 1215.9 633.7 1217.4 632.1 1218.9 631.3 1220.4 630.1 1222 629.6 1223.5 629.2 1225 628.9 1226.5 628.4 1228 627.7 1229.5 627.1 1231 625.3 1232.5 623.4 1234 621.8 1235.5 620.7 1237 619.4 1238.5 618.1 1240 616.3 1241.5 615.1" fill="none" stroke="#000000" stroke-width="3.9" stroke-linejoin="round"/>
<line x1="1081.9" y1="480.2" x2="1081.9" y2="707.5" stroke="#d8283a" stroke-width="1.5" stroke-dasharray="1.5,2.5"/>
<path d="M1017.2 480.2V707.5H1241.5" stroke="#1a1a1a" stroke-width="1.8" fill="none"/>
<line x1="1017.2" y1="495" x2="1020.7" y2="495" stroke="#1a1a1a" stroke-width="1.6" />
<line x1="1017.2" y1="571.2" x2="1020.7" y2="571.2" stroke="#1a1a1a" stroke-width="1.6" />
<line x1="1017.2" y1="647.4" x2="1020.7" y2="647.4" stroke="#1a1a1a" stroke-width="1.6" />
<line x1="1081.9" y1="707.5" x2="1081.9" y2="704" stroke="#1a1a1a" stroke-width="1.6" />
<text x="1081.9" y="729.7" font-size="21" text-anchor="middle">0</text>
<line x1="1148.4" y1="707.5" x2="1148.4" y2="704" stroke="#1a1a1a" stroke-width="1.6" />
<text x="1148.4" y="729.7" font-size="21" text-anchor="middle">0.5</text>
<line x1="1214.9" y1="707.5" x2="1214.9" y2="704" stroke="#1a1a1a" stroke-width="1.6" />
<text x="1209.9" y="729.7" font-size="21">1(s)</text>
<path d="M1293.9 635 1295.4 635.1 1296.9 634.8 1298.4 634.3 1299.9 633.2 1301.4 633.1 1302.9 632.5 1304.4 633.4 1305.9 632.7 1307.4 633.3 1308.9 633.3 1310.4 634.8 1311.9 635.2 1313.4 635.5 1314.9 635.1 1316.4 635.6 1317.9 635.8 1319.4 635.6 1320.9 635.5 1322.4 635.7 1323.9 636.6 1325.4 637.1 1326.9 637.8 1328.4 638 1329.9 638.7 1331.4 639.1 1332.9 639.6 1334.4 639.7 1335.9 640.7 1337.4 640.7 1338.9 640 1340.4 640.2 1341.9 640.8 1343.4 641.9 1344.9 640.7 1346.4 640.1 1347.9 640 1349.4 640.5 1350.9 640.8 1352.4 640.8 1353.9 640.9 1355.4 640.9 1356.9 640.7 1358.4 638.8 1359.9 636.5 1361.4 636.3 1362.9 633.9 1364.4 630.5 1365.9 627.7 1367.4 625 1368.9 623 1370.4 621.2 1371.9 619 1373.4 616.5 1374.9 613.4 1376.4 611.4 1377.9 610.2 1379.4 609.6 1380.9 609.1 1382.4 608.9 1383.9 608.4 1385.4 608.1 1386.9 608.1 1388.4 607.3 1389.9 606.9 1391.4 605.6 1392.9 604.9 1394.4 604.5 1395.9 605.1 1397.4 604.6 1398.9 603.9 1400.4 602.9 1401.9 602.6 1403.4 602.1 1404.9 601.5 1406.4 600.8 1407.9 600.8 1409.4 600.1 1410.9 599.8 1412.4 599 1413.9 598.4 1415.4 598.6 1416.9 599 1418.4 600.3 1419.9 600.7 1421.4 600.6 1422.9 601 1424.4 601.7 1425.9 602.6 1427.4 603.6 1428.9 603.8 1430.4 605.4 1431.9 606.6 1433.4 608.5 1434.9 610.1 1436.4 612.2 1437.9 614.8 1439.4 617.3 1440.9 619.7 1442.4 622.5 1443.9 625.6 1445.4 628 1446.9 628.8 1448.4 628.7 1449.9 629 1451.4 628.9 1452.9 629.9 1454.4 629.8 1455.9 630.3 1457.4 629.5 1458.9 629.6 1460.4 629.3 1461.9 629.1 1463.4 629.4 1464.9 629.1 1466.4 629 1467.9 628.7 1469.4 628.7 1470.9 627.7 1472.4 627.2 1473.9 626.5 1475.4 626 1476.9 625.1 1478.4 624.6 1479.9 624.3 1481.4 623.9 1482.9 623 1484.4 622.6 1485.9 622.7 1487.4 622.7 1488.9 622.6 1490.4 622.8 1491.9 622.9 1493.4 622.8 1494.9 622.4 1496.4 623.1 1497.9 622.7 1499.4 623 1500.9 622.8 1502.4 623.2 1503.9 623.1 1505.4 623.5 1506.9 623.8 1508.4 624.1 1509.9 623.9 1511.4 624.9 1512.9 626.7 1514.4 628.6 1515.9 629.7 1517.4 630.1 L1517.4 649.3 1515.9 648.3 1514.4 647.9 1512.9 648.1 1511.4 647.7 1509.9 646.2 1508.4 645.3 1506.9 644.7 1505.4 645.1 1503.9 644.6 1502.4 643.9 1500.9 643.7 1499.4 643.3 1497.9 643.5 1496.4 642.2 1494.9 641.8 1493.4 641.7 1491.9 642.4 1490.4 643.1 1488.9 642.6 1487.4 642.4 1485.9 642.3 1484.4 643.4 1482.9 644.4 1481.4 645 1479.9 645.2 1478.4 645.6 1476.9 644.8 1475.4 644.8 1473.9 645.1 1472.4 646.5 1470.9 646.9 1469.4 647.7 1467.9 648.3 1466.4 648.8 1464.9 648.8 1463.4 649 1461.9 649.3 1460.4 649.5 1458.9 650.2 1457.4 650.5 1455.9 650.3 1454.4 650.1 1452.9 650.1 1451.4 649.7 1449.9 649 1448.4 648.1 1446.9 647.6 1445.4 646.7 1443.9 644.9 1442.4 642.4 1440.9 639.8 1439.4 637.1 1437.9 634.9 1436.4 632.8 1434.9 630.5 1433.4 628.6 1431.9 626.5 1430.4 625 1428.9 623.9 1427.4 623.1 1425.9 622.7 1424.4 621.8 1422.9 620.6 1421.4 619.4 1419.9 619 1418.4 618.7 1416.9 619.1 1415.4 618.9 1413.9 619 1412.4 618.8 1410.9 619.3 1409.4 619.4 1407.9 619.4 1406.4 619.2 1404.9 620 1403.4 620.8 1401.9 621.7 1400.4 622.6 1398.9 623 1397.4 623.6 1395.9 624.7 1394.4 625.3 1392.9 626.3 1391.4 626.6 1389.9 627.8 1388.4 628 1386.9 628 1385.4 627.7 1383.9 628.1 1382.4 628 1380.9 629.2 1379.4 630.2 1377.9 631.8 1376.4 631.7 1374.9 632.9 1373.4 634.8 1371.9 638.2 1370.4 640.9 1368.9 643.6 1367.4 646.1 1365.9 648.3 1364.4 651.2 1362.9 653.7 1361.4 656.3 1359.9 660.5 1358.4 663.3 1356.9 665.4 1355.4 665.7 1353.9 665.1 1352.4 664.8 1350.9 664.8 1349.4 665.1 1347.9 665.1 1346.4 664.7 1344.9 663.9 1343.4 664.2 1341.9 664.4 1340.4 664.2 1338.9 663.2 1337.4 662.6 1335.9 662.6 1334.4 662.4 1332.9 662.3 1331.4 662.4 1329.9 662.3 1328.4 662 1326.9 661.6 1325.4 661.5 1323.9 661.5 1322.4 661.1 1320.9 660.8 1319.4 660.2 1317.9 659.8 1316.4 659.7 1314.9 659.7 1313.4 659.1 1311.9 658.3 1310.4 657.3 1308.9 657.4 1307.4 657 1305.9 657.6 1304.4 657.1 1302.9 656.9 1301.4 657.3 1299.9 657.3 1298.4 657.5 1296.9 657.3 1295.4 658 1293.9 658.5Z" fill="#75b48c" fill-opacity="0.6" stroke="none"/>
<path d="M1293.9 638.5 1295.4 639.4 1296.9 640.1 1298.4 641.4 1299.9 641.6 1301.4 642.1 1302.9 643 1304.4 642.9 1305.9 643.2 1307.4 642.7 1308.9 642.9 1310.4 642.2 1311.9 642.3 1313.4 642.3 1314.9 642.2 1316.4 642.1 1317.9 642.3 1319.4 642.5 1320.9 643.1 1322.4 642.8 1323.9 643 1325.4 643.4 1326.9 644.1 1328.4 644.9 1329.9 645.2 1331.4 645.4 1332.9 645.7 1334.4 646.3 1335.9 647.6 1337.4 647.4 1338.9 647.7 1340.4 646.7 1341.9 647.7 1343.4 647.7 1344.9 648.8 1346.4 648.9 1347.9 649.5 1349.4 649.5 1350.9 649.2 1352.4 648.7 1353.9 648.9 1355.4 649.5 1356.9 650.4 1358.4 650.2 1359.9 649.9 1361.4 649.9 1362.9 649.8 1364.4 651.2 1365.9 652 1367.4 653.3 1368.9 654.3 1370.4 655.3 1371.9 656.5 1373.4 656.2 1374.9 656.3 1376.4 655.6 1377.9 656.3 1379.4 657.1 1380.9 657.7 1382.4 657.5 1383.9 657.4 1385.4 658.4 1386.9 658.8 1388.4 658.8 1389.9 658.3 1391.4 658.9 1392.9 658.3 1394.4 658.3 1395.9 657.6 1397.4 657.6 1398.9 657.5 1400.4 658 1401.9 658.2 1403.4 658.7 1404.9 658.1 1406.4 658.1 1407.9 657.5 1409.4 657.8 1410.9 657.6 1412.4 658.3 1413.9 658.5 1415.4 659.1 1416.9 660.3 1418.4 660.4 1419.9 659.6 1421.4 658.6 1422.9 659.3 1424.4 660.2 1425.9 660.6 1427.4 659.8 1428.9 658.7 1430.4 658.1 1431.9 656.5 1433.4 656.1 1434.9 654.7 1436.4 654.2 1437.9 652.7 1439.4 652.1 1440.9 651.2 1442.4 650 1443.9 648.9 1445.4 647.6 1446.9 646.8 1448.4 645.8 1449.9 644.7 1451.4 643.3 1452.9 642 1454.4 641.2 1455.9 640.6 1457.4 639.7 1458.9 638.7 1460.4 637 1461.9 636 1463.4 634.8 1464.9 633.9 1466.4 632.5 1467.9 630.7 1469.4 629.7 1470.9 628.3 1472.4 628.5 1473.9 627.5 1475.4 626.6 1476.9 625 1478.4 625.1 1479.9 624.7 1481.4 624.8 1482.9 624.1 1484.4 623.3 1485.9 622.6 1487.4 621.6 1488.9 621.3 1490.4 621.2 1491.9 620.9 1493.4 621 1494.9 621.1 1496.4 621 1497.9 621.7 1499.4 622 1500.9 622.5 1502.4 622.3 1503.9 622.1 1505.4 622.7 1506.9 623.3 1508.4 624.1 1509.9 625.3 1511.4 626.7 1512.9 628 1514.4 629.1 1515.9 630.5 1517.4 631.6 L1517.4 641.3 1515.9 640.9 1514.4 640.1 1512.9 639.1 1511.4 637.9 1509.9 637.1 1508.4 636.9 1506.9 635.7 1505.4 634.6 1503.9 633.8 1502.4 632.9 1500.9 632.1 1499.4 631.8 1497.9 631.5 1496.4 632 1494.9 632.4 1493.4 632.8 1491.9 632.6 1490.4 632.3 1488.9 633 1487.4 634.2 1485.9 634.3 1484.4 633.7 1482.9 633.5 1481.4 634.3 1479.9 635.5 1478.4 636 1476.9 637.2 1475.4 637.9 1473.9 638.9 1472.4 638.8 1470.9 639.7 1469.4 640.5 1467.9 641.8 1466.4 643.1 1464.9 644.3 1463.4 645.9 1461.9 647.9 1460.4 648.5 1458.9 649.1 1457.4 649.6 1455.9 650.7 1454.4 652.7 1452.9 653.6 1451.4 655.4 1449.9 655.8 1448.4 657 1446.9 657.1 1445.4 658.2 1443.9 658.4 1442.4 660.1 1440.9 661.7 1439.4 663.8 1437.9 665.2 1436.4 665.7 1434.9 666.8 1433.4 667.1 1431.9 668.1 1430.4 668.4 1428.9 669.1 1427.4 670.8 1425.9 671.5 1424.4 671.2 1422.9 670 1421.4 670.3 1419.9 670.5 1418.4 671.1 1416.9 670.7 1415.4 671 1413.9 670.5 1412.4 670.4 1410.9 669.2 1409.4 668.1 1407.9 667.6 1406.4 667.5 1404.9 668.7 1403.4 667.6 1401.9 668.4 1400.4 668.8 1398.9 669.9 1397.4 669.6 1395.9 669.9 1394.4 669.8 1392.9 670.2 1391.4 669.9 1389.9 670.2 1388.4 669.9 1386.9 669.5 1385.4 669.1 1383.9 668.9 1382.4 668.2 1380.9 668 1379.4 667.8 1377.9 667.8 1376.4 667.7 1374.9 667.1 1373.4 667.1 1371.9 667 1370.4 667.2 1368.9 666.8 1367.4 665.8 1365.9 664.6 1364.4 663 1362.9 661.8 1361.4 660.3 1359.9 659.9 1358.4 660.1 1356.9 661.2 1355.4 661 1353.9 661.1 1352.4 660.7 1350.9 660.5 1349.4 659.9 1347.9 659.8 1346.4 659.7 1344.9 659.4 1343.4 659.1 1341.9 658.2 1340.4 657.9 1338.9 657 1337.4 657.9 1335.9 658.3 1334.4 658.6 1332.9 658 1331.4 656.2 1329.9 655.3 1328.4 654.6 1326.9 655.4 1325.4 655.1 1323.9 654 1322.4 652.9 1320.9 652.4 1319.4 652.6 1317.9 652.4 1316.4 651.9 1314.9 651.9 1313.4 651.9 1311.9 652.7 1310.4 652.7 1308.9 653.1 1307.4 653.4 1305.9 653.7 1304.4 654.6 1302.9 654.5 1301.4 653.7 1299.9 652.7 1298.4 651.9 1296.9 651.5 1295.4 650.5 1293.9 650Z" fill="#7ab4e3" fill-opacity="0.6" stroke="none"/>
<path d="M1293.9 652.7 1295.4 652.6 1296.9 652.2 1298.4 652 1299.9 651.2 1301.4 650.6 1302.9 651.2 1304.4 650.9 1305.9 649.8 1307.4 649.1 1308.9 649.3 1310.4 648.7 1311.9 647.4 1313.4 646.2 1314.9 646.4 1316.4 646.4 1317.9 646.5 1319.4 646.8 1320.9 646.6 1322.4 646 1323.9 644.2 1325.4 643.9 1326.9 643.4 1328.4 643.6 1329.9 644 1331.4 644.4 1332.9 644.6 1334.4 644.7 1335.9 644.5 1337.4 644.4 1338.9 643.9 1340.4 643.7 1341.9 643.7 1343.4 642.7 1344.9 642.7 1346.4 642.2 1347.9 642.8 1349.4 642.4 1350.9 642.2 1352.4 641.4 1353.9 641.3 1355.4 641.4 1356.9 641.6 1358.4 642.8 1359.9 642.6 1361.4 641.6 1362.9 639.6 1364.4 637.8 1365.9 637 1367.4 635.9 1368.9 636 1370.4 635.2 1371.9 635.2 1373.4 633.9 1374.9 633.4 1376.4 633.1 1377.9 633.5 1379.4 632.8 1380.9 631.8 1382.4 630.9 1383.9 630.5 1385.4 629.5 1386.9 629.2 1388.4 628.8 1389.9 628.5 1391.4 627.6 1392.9 626.6 1394.4 625.8 1395.9 625.7 1397.4 625.5 1398.9 625.2 1400.4 623.6 1401.9 622.3 1403.4 622 1404.9 621.8 1406.4 622.1 1407.9 621 1409.4 621.3 1410.9 621 1412.4 620.9 1413.9 620.2 1415.4 619.6 1416.9 618.9 1418.4 618.5 1419.9 618.1 1421.4 618.7 1422.9 619.1 1424.4 618.4 1425.9 618.5 1427.4 618.4 1428.9 619.3 1430.4 619 1431.9 619 1433.4 618.8 1434.9 618.3 1436.4 618.5 1437.9 619 1439.4 620.2 1440.9 620.8 1442.4 621.2 1443.9 620.9 1445.4 621.2 1446.9 622 1448.4 622.5 1449.9 622.7 1451.4 622.5 1452.9 622.7 1454.4 622.4 1455.9 622.4 1457.4 621.8 1458.9 621.7 1460.4 622 1461.9 623.4 1463.4 624.7 1464.9 624.6 1466.4 624.3 1467.9 623.7 1469.4 624.4 1470.9 624.8 1472.4 625.8 1473.9 626.1 1475.4 627.3 1476.9 628 1478.4 628.7 1479.9 628.9 1481.4 628.2 1482.9 628.7 1484.4 628.6 1485.9 629.1 1487.4 629.3 1488.9 629.5 1490.4 630.4 1491.9 631.1 1493.4 631.4 1494.9 632.2 1496.4 632.6 1497.9 633.9 1499.4 634.3 1500.9 634.6 1502.4 635 1503.9 635.8 1505.4 636 1506.9 636.5 1508.4 637.3 1509.9 638.2 1511.4 638.7 1512.9 638 1514.4 638.5 1515.9 639.1 1517.4 640.3 L1517.4 650.9 1515.9 650.4 1514.4 649.8 1512.9 650 1511.4 649.6 1509.9 649.5 1508.4 648.3 1506.9 647.8 1505.4 647.4 1503.9 646.8 1502.4 645.9 1500.9 645.2 1499.4 645 1497.9 645 1496.4 644.3 1494.9 643.4 1493.4 642.8 1491.9 642 1490.4 641.9 1488.9 642.2 1487.4 642.3 1485.9 641.8 1484.4 640.6 1482.9 639.7 1481.4 639.9 1479.9 639.8 1478.4 639.4 1476.9 638.5 1475.4 637.3 1473.9 636.8 1472.4 637 1470.9 637 1469.4 637.6 1467.9 636.4 1466.4 635.2 1464.9 633.7 1463.4 633.9 1461.9 634.5 1460.4 634.6 1458.9 634.4 1457.4 634.4 1455.9 634.4 1454.4 633.9 1452.9 633.1 1451.4 632.6 1449.9 632.2 1448.4 631.8 1446.9 631.7 1445.4 632.2 1443.9 631.7 1442.4 631.1 1440.9 629.7 1439.4 629.2 1437.9 629.1 1436.4 629.1 1434.9 629.7 1433.4 628.8 1431.9 628.9 1430.4 628.3 1428.9 629.1 1427.4 628.6 1425.9 628.9 1424.4 629.3 1422.9 630 1421.4 630.4 1419.9 630.9 1418.4 631.2 1416.9 631.6 1415.4 631.8 1413.9 631.9 1412.4 632.4 1410.9 632.2 1409.4 632 1407.9 632.5 1406.4 633 1404.9 633.8 1403.4 633.7 1401.9 633.7 1400.4 634.6 1398.9 635 1397.4 635.4 1395.9 635.7 1394.4 636.4 1392.9 637 1391.4 637.9 1389.9 638.5 1388.4 639.5 1386.9 639.7 1385.4 640.2 1383.9 641.1 1382.4 642.5 1380.9 643.1 1379.4 643.4 1377.9 643.9 1376.4 644.7 1374.9 644.8 1373.4 645.1 1371.9 644.3 1370.4 646 1368.9 646.2 1367.4 648 1365.9 648.5 1364.4 649.6 1362.9 650.3 1361.4 650.9 1359.9 651.4 1358.4 652.1 1356.9 652.5 1355.4 653.4 1353.9 653.3 1352.4 653.5 1350.9 653.5 1349.4 653.6 1347.9 653.5 1346.4 653.2 1344.9 653.8 1343.4 654.1 1341.9 654.3 1340.4 654.3 1338.9 654.7 1337.4 654.9 1335.9 654.9 1334.4 654.5 1332.9 654.5 1331.4 655.2 1329.9 655.8 1328.4 656.3 1326.9 656.6 1325.4 656.2 1323.9 656.6 1322.4 655.6 1320.9 655.6 1319.4 655.9 1317.9 657.1 1316.4 658.5 1314.9 659.7 1313.4 660.2 1311.9 660.3 1310.4 660 1308.9 660.7 1307.4 661.3 1305.9 661 1304.4 660.9 1302.9 661.1 1301.4 662.3 1299.9 662.7 1298.4 662.5 1296.9 662 1295.4 662.3 1293.9 663Z" fill="#e669bc" fill-opacity="0.6" stroke="none"/>
<path d="M1293.9 640.5 1295.4 639.2 1296.9 637.3 1298.4 634.8 1299.9 634.2 1301.4 634.1 1302.9 634.6 1304.4 634.8 1305.9 634.3 1307.4 633.6 1308.9 632.3 1310.4 632.5 1311.9 632.7 1313.4 633.3 1314.9 633.4 1316.4 633.6 1317.9 633.2 1319.4 633.9 1320.9 634.1 1322.4 634.6 1323.9 633.6 1325.4 633.7 1326.9 633.9 1328.4 634.4 1329.9 634.5 1331.4 634.8 1332.9 634.1 1334.4 633.7 1335.9 633.1 1337.4 633.4 1338.9 632.2 1340.4 632.1 1341.9 632 1343.4 632.5 1344.9 632.8 1346.4 633.4 1347.9 633.7 1349.4 634.2 1350.9 634.6 1352.4 635 1353.9 634.9 1355.4 634.2 1356.9 634.2 1358.4 634.2 1359.9 636.3 1361.4 641.2 1362.9 643.9 1364.4 645 1365.9 647 1367.4 648.6 1368.9 651.2 1370.4 653.8 1371.9 655.8 1373.4 657.7 1374.9 659 1376.4 660.9 1377.9 662 1379.4 663 1380.9 663.3 1382.4 663.9 1383.9 664.8 1385.4 665.5 1386.9 667.6 1388.4 668.8 1389.9 669 1391.4 667.5 1392.9 667.7 1394.4 668.7 1395.9 670.1 1397.4 670.5 1398.9 671.8 1400.4 673.1 1401.9 673.7 1403.4 674.4 1404.9 675.1 1406.4 677 1407.9 678 1409.4 678.1 1410.9 677.9 1412.4 677.8 1413.9 679.1 1415.4 679.5 1416.9 680.5 1418.4 680 1419.9 680.3 1421.4 679.4 1422.9 679.4 1424.4 679.4 1425.9 679.6 1427.4 678.2 1428.9 676.4 1430.4 674.7 1431.9 673.9 1433.4 673.6 1434.9 672.1 1436.4 671.1 1437.9 669.1 1439.4 667 1440.9 665 1442.4 663.5 1443.9 662.7 1445.4 661.8 1446.9 661.3 1448.4 660 1449.9 658.2 1451.4 656 1452.9 653.1 1454.4 650.4 1455.9 648.5 1457.4 646.6 1458.9 645.9 1460.4 645 1461.9 644 1463.4 642.1 1464.9 640.9 1466.4 639.1 1467.9 637.5 1469.4 635.2 1470.9 634.1 1472.4 633.2 1473.9 632.4 1475.4 630.8 1476.9 630.1 1478.4 629.4 1479.9 628.5 1481.4 627.9 1482.9 627.1 1484.4 627.8 1485.9 627.5 1487.4 627.5 1488.9 627 1490.4 627.2 1491.9 627.6 1493.4 627.4 1494.9 626.6 1496.4 626.2 1497.9 626.1 1499.4 626.3 1500.9 625.9 1502.4 625.9 1503.9 626.1 1505.4 626.7 1506.9 627.5 1508.4 628.4 1509.9 629.2 1511.4 630.2 1512.9 632.1 1514.4 633.8 1515.9 634.4 1517.4 634.4 L1517.4 644.3 1515.9 643.7 1514.4 643.6 1512.9 642.9 1511.4 641.9 1509.9 639.6 1508.4 638.5 1506.9 638 1505.4 637.9 1503.9 637.8 1502.4 637.7 1500.9 637.9 1499.4 638.2 1497.9 637.6 1496.4 637.9 1494.9 637.6 1493.4 637.7 1491.9 637.5 1490.4 638.2 1488.9 638.3 1487.4 638.2 1485.9 638.2 1484.4 639.5 1482.9 640.7 1481.4 640.6 1479.9 639.8 1478.4 639.6 1476.9 640.4 1475.4 641.9 1473.9 643 1472.4 644.6 1470.9 646.1 1469.4 648.1 1467.9 649.2 1466.4 650.1 1464.9 651.2 1463.4 651.8 1461.9 652.8 1460.4 654 1458.9 655.3 1457.4 657.2 1455.9 659.5 1454.4 662.5 1452.9 664.4 1451.4 666.8 1449.9 668.1 1448.4 670 1446.9 671.4 1445.4 672.6 1443.9 674.6 1442.4 676.2 1440.9 678.1 1439.4 679.4 1437.9 680.6 1436.4 681.9 1434.9 682.4 1433.4 683.8 1431.9 684.9 1430.4 686.6 1428.9 688.3 1427.4 689.7 1425.9 690.7 1424.4 690.8 1422.9 691.4 1421.4 691.4 1419.9 691.2 1418.4 689.9 1416.9 689.4 1415.4 689.3 1413.9 690.2 1412.4 690.7 1410.9 690.1 1409.4 689.2 1407.9 687.6 1406.4 687.5 1404.9 686.6 1403.4 686 1401.9 683.9 1400.4 682.5 1398.9 680.6 1397.4 679.1 1395.9 677.9 1394.4 678.3 1392.9 678.4 1391.4 678.3 1389.9 677.5 1388.4 677.3 1386.9 676.8 1385.4 676.5 1383.9 676.1 1382.4 675.2 1380.9 674.7 1379.4 674.3 1377.9 673.3 1376.4 671.9 1374.9 669.4 1373.4 667.9 1371.9 666 1370.4 665 1368.9 663.1 1367.4 661.1 1365.9 657.7 1364.4 655.1 1362.9 652.2 1361.4 650.7 1359.9 651 1358.4 650.3 1356.9 650.6 1355.4 650.7 1353.9 650.2 1352.4 649.8 1350.9 649.6 1349.4 650 1347.9 650.2 1346.4 649.5 1344.9 648.7 1343.4 648.4 1341.9 648.1 1340.4 647.6 1338.9 647.7 1337.4 648.8 1335.9 650.3 1334.4 650.2 1332.9 650 1331.4 649.9 1329.9 650.6 1328.4 651.3 1326.9 651.2 1325.4 650.3 1323.9 649.9 1322.4 649.5 1320.9 649.8 1319.4 649.1 1317.9 649.1 1316.4 648.2 1314.9 648.3 1313.4 648.3 1311.9 649.4 1310.4 650.2 1308.9 650.3 1307.4 650.6 1305.9 651.2 1304.4 651.8 1302.9 651.5 1301.4 651.2 1299.9 651.2 1298.4 651.5 1296.9 652.3 1295.4 654.1 1293.9 655.9Z" fill="#acacac" fill-opacity="0.6" stroke="none"/>
<path d="M1293.9 646.7 1295.4 646.5 1296.9 646.1 1298.4 645.9 1299.9 645.2 1301.4 645.2 1302.9 644.7 1304.4 645.2 1305.9 645.1 1307.4 645.1 1308.9 645.4 1310.4 646 1311.9 646.7 1313.4 647.3 1314.9 647.4 1316.4 647.7 1317.9 647.8 1319.4 647.9 1320.9 648.1 1322.4 648.4 1323.9 649.1 1325.4 649.3 1326.9 649.7 1328.4 650 1329.9 650.5 1331.4 650.8 1332.9 650.9 1334.4 651.1 1335.9 651.6 1337.4 651.7 1338.9 651.6 1340.4 652.2 1341.9 652.6 1343.4 653.1 1344.9 652.3 1346.4 652.4 1347.9 652.5 1349.4 652.8 1350.9 652.8 1352.4 652.8 1353.9 653 1355.4 653.3 1356.9 653.1 1358.4 651.1 1359.9 648.5 1361.4 646.3 1362.9 643.8 1364.4 640.8 1365.9 638 1367.4 635.5 1368.9 633.3 1370.4 631 1371.9 628.6 1373.4 625.6 1374.9 623.1 1376.4 621.6 1377.9 621 1379.4 619.9 1380.9 619.2 1382.4 618.5 1383.9 618.2 1385.4 617.9 1386.9 618.1 1388.4 617.7 1389.9 617.4 1391.4 616.1 1392.9 615.6 1394.4 614.9 1395.9 614.9 1397.4 614.1 1398.9 613.5 1400.4 612.8 1401.9 612.2 1403.4 611.5 1404.9 610.7 1406.4 610 1407.9 610.1 1409.4 609.8 1410.9 609.6 1412.4 608.9 1413.9 608.7 1415.4 608.8 1416.9 609.1 1418.4 609.5 1419.9 609.8 1421.4 610 1422.9 610.8 1424.4 611.8 1425.9 612.6 1427.4 613.3 1428.9 613.9 1430.4 615.2 1431.9 616.5 1433.4 618.5 1434.9 620.3 1436.4 622.5 1437.9 624.9 1439.4 627.2 1440.9 629.7 1442.4 632.5 1443.9 635.3 1445.4 637.3 1446.9 638.2 1448.4 638.4 1449.9 639 1451.4 639.3 1452.9 640 1454.4 640 1455.9 640.3 1457.4 640 1458.9 639.9 1460.4 639.4 1461.9 639.2 1463.4 639.2 1464.9 639 1466.4 638.9 1467.9 638.5 1469.4 638.2 1470.9 637.3 1472.4 636.9 1473.9 635.8 1475.4 635.4 1476.9 634.9 1478.4 635.1 1479.9 634.8 1481.4 634.4 1482.9 633.7 1484.4 633 1485.9 632.5 1487.4 632.5 1488.9 632.6 1490.4 633 1491.9 632.6 1493.4 632.3 1494.9 632.1 1496.4 632.7 1497.9 633.1 1499.4 633.1 1500.9 633.2 1502.4 633.6 1503.9 633.8 1505.4 634.3 1506.9 634.2 1508.4 634.7 1509.9 635 1511.4 636.3 1512.9 637.4 1514.4 638.2 1515.9 639 1517.4 639.7" fill="none" stroke="#2a7a3c" stroke-width="3.9" stroke-linejoin="round"/>
<path d="M1293.9 644.3 1295.4 644.9 1296.9 645.8 1298.4 646.7 1299.9 647.2 1301.4 647.9 1302.9 648.7 1304.4 648.8 1305.9 648.5 1307.4 648 1308.9 648 1310.4 647.4 1311.9 647.5 1313.4 647.1 1314.9 647 1316.4 647 1317.9 647.3 1319.4 647.5 1320.9 647.8 1322.4 647.9 1323.9 648.5 1325.4 649.3 1326.9 649.7 1328.4 649.7 1329.9 650.3 1331.4 650.8 1332.9 651.8 1334.4 652.4 1335.9 652.9 1337.4 652.6 1338.9 652.4 1340.4 652.3 1341.9 653 1343.4 653.4 1344.9 654.1 1346.4 654.3 1347.9 654.7 1349.4 654.7 1350.9 654.9 1352.4 654.7 1353.9 655 1355.4 655.2 1356.9 655.8 1358.4 655.2 1359.9 654.9 1361.4 655.1 1362.9 655.8 1364.4 657.1 1365.9 658.3 1367.4 659.5 1368.9 660.6 1370.4 661.2 1371.9 661.8 1373.4 661.6 1374.9 661.7 1376.4 661.6 1377.9 662.1 1379.4 662.5 1380.9 662.9 1382.4 662.8 1383.9 663.1 1385.4 663.7 1386.9 664.1 1388.4 664.4 1389.9 664.2 1391.4 664.4 1392.9 664.3 1394.4 664.1 1395.9 663.7 1397.4 663.6 1398.9 663.7 1400.4 663.4 1401.9 663.3 1403.4 663.1 1404.9 663.4 1406.4 662.8 1407.9 662.6 1409.4 663 1410.9 663.4 1412.4 664.3 1413.9 664.5 1415.4 665.1 1416.9 665.5 1418.4 665.7 1419.9 665 1421.4 664.4 1422.9 664.6 1424.4 665.7 1425.9 666 1427.4 665.3 1428.9 663.9 1430.4 663.3 1431.9 662.3 1433.4 661.6 1434.9 660.8 1436.4 659.9 1437.9 658.9 1439.4 657.9 1440.9 656.5 1442.4 655.1 1443.9 653.6 1445.4 652.9 1446.9 652 1448.4 651.4 1449.9 650.2 1451.4 649.4 1452.9 647.8 1454.4 646.9 1455.9 645.7 1457.4 644.7 1458.9 643.9 1460.4 642.8 1461.9 642 1463.4 640.3 1464.9 639.1 1466.4 637.8 1467.9 636.2 1469.4 635.1 1470.9 634 1472.4 633.7 1473.9 633.2 1475.4 632.2 1476.9 631.1 1478.4 630.6 1479.9 630.1 1481.4 629.6 1482.9 628.8 1484.4 628.5 1485.9 628.4 1487.4 627.9 1488.9 627.1 1490.4 626.7 1491.9 626.7 1493.4 626.9 1494.9 626.7 1496.4 626.5 1497.9 626.6 1499.4 626.9 1500.9 627.3 1502.4 627.6 1503.9 628 1505.4 628.6 1506.9 629.5 1508.4 630.5 1509.9 631.2 1511.4 632.3 1512.9 633.6 1514.4 634.6 1515.9 635.7 1517.4 636.5" fill="none" stroke="#3a7dc4" stroke-width="3.9" stroke-linejoin="round"/>
<path d="M1293.9 657.8 1295.4 657.4 1296.9 657.1 1298.4 657.2 1299.9 656.9 1301.4 656.5 1302.9 656.2 1304.4 655.9 1305.9 655.4 1307.4 655.2 1308.9 655 1310.4 654.3 1311.9 653.8 1313.4 653.2 1314.9 653 1316.4 652.5 1317.9 651.8 1319.4 651.4 1320.9 651.1 1322.4 650.8 1323.9 650.4 1325.4 650.1 1326.9 650 1328.4 649.9 1329.9 649.9 1331.4 649.8 1332.9 649.6 1334.4 649.6 1335.9 649.7 1337.4 649.6 1338.9 649.3 1340.4 649 1341.9 649 1343.4 648.4 1344.9 648.2 1346.4 647.7 1347.9 648.2 1349.4 648 1350.9 647.9 1352.4 647.5 1353.9 647.3 1355.4 647.4 1356.9 647 1358.4 647.4 1359.9 647 1361.4 646.2 1362.9 645 1364.4 643.7 1365.9 642.8 1367.4 642 1368.9 641.1 1370.4 640.6 1371.9 639.8 1373.4 639.5 1374.9 639.1 1376.4 638.9 1377.9 638.7 1379.4 638.1 1380.9 637.4 1382.4 636.7 1383.9 635.8 1385.4 634.9 1386.9 634.5 1388.4 634.2 1389.9 633.5 1391.4 632.8 1392.9 631.8 1394.4 631.1 1395.9 630.7 1397.4 630.5 1398.9 630.1 1400.4 629.1 1401.9 628 1403.4 627.8 1404.9 627.8 1406.4 627.6 1407.9 626.8 1409.4 626.6 1410.9 626.6 1412.4 626.7 1413.9 626.1 1415.4 625.7 1416.9 625.2 1418.4 624.8 1419.9 624.5 1421.4 624.6 1422.9 624.6 1424.4 623.8 1425.9 623.7 1427.4 623.5 1428.9 624.2 1430.4 623.7 1431.9 624 1433.4 623.8 1434.9 624 1436.4 623.8 1437.9 624.1 1439.4 624.7 1440.9 625.3 1442.4 626.1 1443.9 626.3 1445.4 626.7 1446.9 626.8 1448.4 627.1 1449.9 627.5 1451.4 627.6 1452.9 627.9 1454.4 628.1 1455.9 628.4 1457.4 628.1 1458.9 628.1 1460.4 628.3 1461.9 628.9 1463.4 629.3 1464.9 629.2 1466.4 629.8 1467.9 630 1469.4 631 1470.9 630.9 1472.4 631.4 1473.9 631.5 1475.4 632.3 1476.9 633.3 1478.4 634.1 1479.9 634.4 1481.4 634.1 1482.9 634.2 1484.4 634.6 1485.9 635.5 1487.4 635.8 1488.9 635.9 1490.4 636.1 1491.9 636.5 1493.4 637.1 1494.9 637.8 1496.4 638.5 1497.9 639.5 1499.4 639.7 1500.9 639.9 1502.4 640.5 1503.9 641.3 1505.4 641.7 1506.9 642.1 1508.4 642.8 1509.9 643.9 1511.4 644.1 1512.9 644 1514.4 644.1 1515.9 644.8 1517.4 645.6" fill="none" stroke="#e82a9a" stroke-width="3.9" stroke-linejoin="round"/>
<path d="M1293.9 648.2 1295.4 646.7 1296.9 644.8 1298.4 643.1 1299.9 642.7 1301.4 642.7 1302.9 643 1304.4 643.3 1305.9 642.7 1307.4 642.1 1308.9 641.3 1310.4 641.4 1311.9 641.1 1313.4 640.8 1314.9 640.8 1316.4 640.9 1317.9 641.1 1319.4 641.5 1320.9 642 1322.4 642.1 1323.9 641.7 1325.4 642 1326.9 642.5 1328.4 642.9 1329.9 642.6 1331.4 642.3 1332.9 642.1 1334.4 641.9 1335.9 641.7 1337.4 641.1 1338.9 640 1340.4 639.9 1341.9 640.1 1343.4 640.4 1344.9 640.7 1346.4 641.5 1347.9 642 1349.4 642.1 1350.9 642.1 1352.4 642.4 1353.9 642.6 1355.4 642.5 1356.9 642.4 1358.4 642.2 1359.9 643.7 1361.4 646 1362.9 648 1364.4 650.1 1365.9 652.3 1367.4 654.8 1368.9 657.1 1370.4 659.4 1371.9 660.9 1373.4 662.8 1374.9 664.2 1376.4 666.4 1377.9 667.7 1379.4 668.7 1380.9 669 1382.4 669.6 1383.9 670.5 1385.4 671 1386.9 672.2 1388.4 673 1389.9 673.3 1391.4 672.9 1392.9 673 1394.4 673.5 1395.9 674 1397.4 674.8 1398.9 676.2 1400.4 677.8 1401.9 678.8 1403.4 680.2 1404.9 680.9 1406.4 682.2 1407.9 682.8 1409.4 683.6 1410.9 684 1412.4 684.3 1413.9 684.6 1415.4 684.4 1416.9 684.9 1418.4 684.9 1419.9 685.7 1421.4 685.4 1422.9 685.4 1424.4 685.1 1425.9 685.2 1427.4 684 1428.9 682.3 1430.4 680.6 1431.9 679.4 1433.4 678.7 1434.9 677.2 1436.4 676.5 1437.9 674.9 1439.4 673.2 1440.9 671.6 1442.4 669.8 1443.9 668.7 1445.4 667.2 1446.9 666.3 1448.4 665 1449.9 663.2 1451.4 661.4 1452.9 658.8 1454.4 656.4 1455.9 654 1457.4 651.9 1458.9 650.6 1460.4 649.5 1461.9 648.4 1463.4 646.9 1464.9 646 1466.4 644.6 1467.9 643.3 1469.4 641.6 1470.9 640.1 1472.4 638.9 1473.9 637.7 1475.4 636.3 1476.9 635.2 1478.4 634.5 1479.9 634.2 1481.4 634.2 1482.9 633.9 1484.4 633.7 1485.9 632.9 1487.4 632.8 1488.9 632.6 1490.4 632.7 1491.9 632.6 1493.4 632.5 1494.9 632.1 1496.4 632 1497.9 631.8 1499.4 632.2 1500.9 631.9 1502.4 631.8 1503.9 631.9 1505.4 632.3 1506.9 632.7 1508.4 633.4 1509.9 634.4 1511.4 636 1512.9 637.5 1514.4 638.7 1515.9 639.1 1517.4 639.3" fill="none" stroke="#000000" stroke-width="3.9" stroke-linejoin="round"/>
<line x1="1358.7" y1="480.2" x2="1358.7" y2="707.5" stroke="#d8283a" stroke-width="1.5" stroke-dasharray="1.5,2.5"/>
<path d="M1293.9 480.2V707.5H1518.7" stroke="#1a1a1a" stroke-width="1.8" fill="none"/>
<line x1="1293.9" y1="495" x2="1297.4" y2="495" stroke="#1a1a1a" stroke-width="1.6" />
<line x1="1293.9" y1="571.2" x2="1297.4" y2="571.2" stroke="#1a1a1a" stroke-width="1.6" />
<line x1="1293.9" y1="647.4" x2="1297.4" y2="647.4" stroke="#1a1a1a" stroke-width="1.6" />
<line x1="1358.7" y1="707.5" x2="1358.7" y2="704" stroke="#1a1a1a" stroke-width="1.6" />
<text x="1358.7" y="729.7" font-size="21" text-anchor="middle">0</text>
<line x1="1425.2" y1="707.5" x2="1425.2" y2="704" stroke="#1a1a1a" stroke-width="1.6" />
<text x="1425.2" y="729.7" font-size="21" text-anchor="middle">0.5</text>
<line x1="1491.7" y1="707.5" x2="1491.7" y2="704" stroke="#1a1a1a" stroke-width="1.6" />
<text x="1486.7" y="729.7" font-size="21">1(s)</text>
<path d="M1571.9 639.4 1573.4 639.6 1574.9 639.9 1576.4 639.8 1577.9 639.5 1579.4 638.9 1580.9 639.9 1582.4 639.9 1583.9 639.8 1585.4 639.9 1587 640.5 1588.5 641 1590 640.3 1591.5 638.7 1593 638 1594.5 637.3 1596 637.4 1597.5 636.1 1599 634.8 1600.5 633 1602 632.1 1603.5 630.7 1605 629.8 1606.6 628.6 1608.1 627.4 1609.6 624.9 1611.1 622.6 1612.6 619.7 1614.1 618.6 1615.6 617.9 1617.1 617.5 1618.6 618.5 1620.1 618.5 1621.6 617.8 1623.1 616.8 1624.6 616.3 1626.1 616.2 1627.7 616.5 1629.2 616.5 1630.7 617.2 1632.2 617.9 1633.7 618.8 1635.2 619 1636.7 619.6 1638.2 618.8 1639.7 618.1 1641.2 616.5 1642.7 614.5 1644.2 610.8 1645.7 608.1 1647.3 604.6 1648.8 601.5 1650.3 598.7 1651.8 596.6 1653.3 595.1 1654.8 593.8 1656.3 592.2 1657.8 592.3 1659.3 591.4 1660.8 590.6 1662.3 588.9 1663.8 588.7 1665.3 588.3 1666.8 588.2 1668.4 587.2 1669.9 586.7 1671.4 585.5 1672.9 584.3 1674.4 583.3 1675.9 583.6 1677.4 583.2 1678.9 583.1 1680.4 583.6 1681.9 584 1683.4 584.2 1684.9 583.3 1686.4 583 1688 583.1 1689.5 583.9 1691 583 1692.5 583 1694 582.2 1695.5 582.2 1697 581 1698.5 580.4 1700 579.8 1701.5 577.8 1703 575.4 1704.5 572.8 1706 571.3 1707.5 573.1 1709.1 574.7 1710.6 575.8 1712.1 575.9 1713.6 577.1 1715.1 578.7 1716.6 580.6 1718.1 581.8 1719.6 583.2 1721.1 584.7 1722.6 585.2 1724.1 585.4 1725.6 585.5 1727.1 586.7 1728.7 587.4 1730.2 588.3 1731.7 588.5 1733.2 589.1 1734.7 590.2 1736.2 591.7 1737.7 593.5 1739.2 594 1740.7 594.6 1742.2 594.6 1743.7 596.2 1745.2 596.9 1746.7 596.9 1748.2 595.9 1749.8 594.9 1751.3 594.8 1752.8 595.3 1754.3 596.1 1755.8 595.7 1757.3 595.6 1758.8 595.4 1760.3 596 1761.8 596 1763.3 596.1 1764.8 596.6 1766.3 597.1 1767.8 597.7 1769.4 598.3 1770.9 599.2 1772.4 600.9 1773.9 601.9 1775.4 603.6 1776.9 604.1 1778.4 605.6 1779.9 606.5 1781.4 606.9 1782.9 607.1 1784.4 607.3 1785.9 607.9 1787.4 607.6 1788.9 607.3 1790.5 607.1 1792 606.4 1793.5 606.3 1795 606.8 1796.5 607 L1796.5 638.6 1795 638.2 1793.5 637.3 1792 637.5 1790.5 638.3 1788.9 639.2 1787.4 639.2 1785.9 639.7 1784.4 640.4 1782.9 639.1 1781.4 637.9 1779.9 636.7 1778.4 636.8 1776.9 635.2 1775.4 633.9 1773.9 632.9 1772.4 632.1 1770.9 631.2 1769.4 630.6 1767.8 630 1766.3 628.6 1764.8 627.9 1763.3 627.9 1761.8 628.1 1760.3 627.9 1758.8 627.7 1757.3 627.1 1755.8 626.4 1754.3 625.7 1752.8 626.2 1751.3 625.5 1749.8 626 1748.2 625.9 1746.7 626.2 1745.2 627.5 1743.7 627.3 1742.2 626.7 1740.7 625 1739.2 624.1 1737.7 623.8 1736.2 623.2 1734.7 622 1733.2 619.7 1731.7 618.1 1730.2 617.1 1728.7 617.2 1727.1 616.5 1725.6 616.4 1724.1 615.9 1722.6 615.4 1721.1 613.5 1719.6 612.1 1718.1 610.6 1716.6 610.3 1715.1 609.5 1713.6 608.6 1712.1 607.3 1710.6 606.3 1709.1 604.6 1707.5 602.8 1706 600.9 1704.5 602.2 1703 603.8 1701.5 605.8 1700 607.6 1698.5 609.2 1697 610 1695.5 611.7 1694 612.9 1692.5 612.8 1691 611.9 1689.5 611.7 1688 611.5 1686.4 612.4 1684.9 612.3 1683.4 612.6 1681.9 612.6 1680.4 612.7 1678.9 612.8 1677.4 611.5 1675.9 611.1 1674.4 611.1 1672.9 612.2 1671.4 613 1669.9 613.4 1668.4 614.6 1666.8 615.7 1665.3 616.2 1663.8 617 1662.3 618.3 1660.8 619.3 1659.3 619.9 1657.8 620.2 1656.3 621 1654.8 621.7 1653.3 622.8 1651.8 623.6 1650.3 626.9 1648.8 630 1647.3 633.2 1645.7 635.7 1644.2 638.5 1642.7 641.8 1641.2 644.3 1639.7 645.8 1638.2 647.2 1636.7 647.9 1635.2 647.9 1633.7 647.5 1632.2 647 1630.7 645.5 1629.2 644.8 1627.7 644.1 1626.1 643.8 1624.6 643.7 1623.1 644.1 1621.6 644.3 1620.1 645.3 1618.6 646.2 1617.1 646.8 1615.6 647.5 1614.1 647.6 1612.6 647.5 1611.1 649.3 1609.6 651.9 1608.1 654.3 1606.6 656.1 1605 656.5 1603.5 657.7 1602 658.7 1600.5 660.8 1599 661.1 1597.5 662.3 1596 663.2 1594.5 665.7 1593 666.6 1591.5 665.8 1590 665.4 1588.5 666.2 1587 666.5 1585.4 666.5 1583.9 666.5 1582.4 666.4 1580.9 666.9 1579.4 666.5 1577.9 667 1576.4 666.4 1574.9 666.1 1573.4 665.9 1571.9 666.1Z" fill="#75b48c" fill-opacity="0.6" stroke="none"/>
<path d="M1571.9 652.5 1573.4 651.9 1574.9 651.2 1576.4 650.8 1577.9 651.1 1579.4 651.1 1580.9 651.1 1582.4 650.5 1583.9 650.9 1585.4 651.1 1587 651.7 1588.5 651.1 1590 650.2 1591.5 649.9 1593 650.6 1594.5 650.8 1596 650.8 1597.5 650.6 1599 650.9 1600.5 650.8 1602 650.7 1603.5 649.9 1605 650.4 1606.6 651.2 1608.1 652.1 1609.6 652.5 1611.1 651.6 1612.6 652.4 1614.1 652.1 1615.6 652.5 1617.1 652.1 1618.6 652.3 1620.1 652.1 1621.6 651.5 1623.1 651.4 1624.6 651.7 1626.1 652.2 1627.7 652.2 1629.2 651.7 1630.7 651.1 1632.2 651.3 1633.7 651.1 1635.2 651.8 1636.7 652.7 1638.2 654.2 1639.7 655 1641.2 655.9 1642.7 655.4 1644.2 656.7 1645.7 656.3 1647.3 656.7 1648.8 655.6 1650.3 656.1 1651.8 656.7 1653.3 657.2 1654.8 656.9 1656.3 656.3 1657.8 656.8 1659.3 656.5 1660.8 657.2 1662.3 656.5 1663.8 656.7 1665.3 656.4 1666.8 656.2 1668.4 656 1669.9 655.7 1671.4 655.5 1672.9 655.4 1674.4 655.2 1675.9 654.7 1677.4 654.7 1678.9 654.8 1680.4 654.7 1681.9 654.7 1683.4 654.4 1684.9 655.1 1686.4 654.8 1688 654.6 1689.5 653.3 1691 652.6 1692.5 653.4 1694 653.6 1695.5 653.8 1697 653.3 1698.5 652.9 1700 652.7 1701.5 652.5 1703 653.3 1704.5 653.9 1706 654.4 1707.5 653.7 1709.1 652.6 1710.6 651.3 1712.1 650.1 1713.6 648.5 1715.1 646.9 1716.6 645.9 1718.1 644.8 1719.6 644.7 1721.1 644 1722.6 643.6 1724.1 642.1 1725.6 641.9 1727.1 641 1728.7 639.9 1730.2 638.8 1731.7 638 1733.2 638.2 1734.7 637.4 1736.2 636.5 1737.7 636.2 1739.2 635.7 1740.7 636.1 1742.2 635.9 1743.7 636 1745.2 635.1 1746.7 634.1 1748.2 633.2 1749.8 632.6 1751.3 631.8 1752.8 631.2 1754.3 630.7 1755.8 629.9 1757.3 629.6 1758.8 628.9 1760.3 629.1 1761.8 628.1 1763.3 627.5 1764.8 627.1 1766.3 627.4 1767.8 627.1 1769.4 627 1770.9 626.7 1772.4 626.7 1773.9 627.4 1775.4 627.4 1776.9 627.5 1778.4 627.4 1779.9 628.1 1781.4 628.9 1782.9 628.7 1784.4 628.6 1785.9 629 1787.4 629.2 1788.9 630.3 1790.5 631.2 1792 632.6 1793.5 633.2 1795 634.1 1796.5 635.1 L1796.5 646.5 1795 645.4 1793.5 644.9 1792 644.1 1790.5 643.5 1788.9 642.4 1787.4 642.3 1785.9 641.9 1784.4 641.8 1782.9 641.6 1781.4 641.2 1779.9 640.1 1778.4 639.7 1776.9 639.7 1775.4 639.8 1773.9 639.1 1772.4 638.8 1770.9 638.4 1769.4 638.1 1767.8 637.4 1766.3 637.9 1764.8 638.9 1763.3 639.8 1761.8 640.6 1760.3 641.1 1758.8 641.9 1757.3 641.9 1755.8 642.6 1754.3 642.9 1752.8 643.5 1751.3 643.6 1749.8 644 1748.2 644.8 1746.7 646 1745.2 646.9 1743.7 648.4 1742.2 648.5 1740.7 648.7 1739.2 648.6 1737.7 648.9 1736.2 649.2 1734.7 649.3 1733.2 649.6 1731.7 650.4 1730.2 651.3 1728.7 651.9 1727.1 652.6 1725.6 652.6 1724.1 653.8 1722.6 653.8 1721.1 654 1719.6 654.6 1718.1 656 1716.6 657.9 1715.1 658.8 1713.6 660.2 1712.1 661.4 1710.6 663 1709.1 664 1707.5 665.3 1706 666.7 1704.5 667.1 1703 666.7 1701.5 666.1 1700 665.7 1698.5 666.5 1697 665.9 1695.5 665.6 1694 666 1692.5 666.8 1691 666.4 1689.5 665.6 1688 664.8 1686.4 665.8 1684.9 666.1 1683.4 667.1 1681.9 666.6 1680.4 667.2 1678.9 666.7 1677.4 667.5 1675.9 667.5 1674.4 668.6 1672.9 669 1671.4 669.5 1669.9 668.6 1668.4 668.4 1666.8 668.4 1665.3 669.7 1663.8 669.7 1662.3 669.9 1660.8 669.1 1659.3 669.2 1657.8 668.4 1656.3 668.3 1654.8 667.7 1653.3 667.5 1651.8 667.7 1650.3 668.3 1648.8 668.3 1647.3 667.3 1645.7 667 1644.2 666.3 1642.7 667.5 1641.2 666.1 1639.7 666.5 1638.2 665.6 1636.7 666.2 1635.2 665.5 1633.7 665 1632.2 664 1630.7 663.9 1629.2 663.3 1627.7 664.1 1626.1 663.8 1624.6 664.4 1623.1 664.7 1621.6 665.4 1620.1 665.4 1618.6 665.4 1617.1 664.2 1615.6 662.9 1614.1 662.1 1612.6 662.7 1611.1 663.9 1609.6 664.1 1608.1 664.3 1606.6 663.7 1605 663.1 1603.5 662.4 1602 662 1600.5 661.4 1599 660.7 1597.5 660.4 1596 660.5 1594.5 660.9 1593 661.2 1591.5 661.7 1590 661 1588.5 661.4 1587 661.9 1585.4 662.6 1583.9 662.9 1582.4 662.8 1580.9 663.7 1579.4 663.3 1577.9 663.2 1576.4 663.8 1574.9 664.9 1573.4 665.2 1571.9 664.6Z" fill="#7ab4e3" fill-opacity="0.6" stroke="none"/>
<path d="M1571.9 639.8 1573.4 640.3 1574.9 639.2 1576.4 640.1 1577.9 639.7 1579.4 641 1580.9 640.8 1582.4 640.7 1583.9 641.1 1585.4 640.9 1587 640.6 1588.5 640 1590 639.9 1591.5 639.6 1593 639.6 1594.5 639.5 1596 640 1597.5 639.9 1599 639.9 1600.5 639.8 1602 639.7 1603.5 639.4 1605 639.3 1606.6 638.5 1608.1 638.1 1609.6 636.9 1611.1 636.5 1612.6 636.2 1614.1 636.3 1615.6 637 1617.1 637 1618.6 637 1620.1 636.3 1621.6 636.5 1623.1 636.2 1624.6 636.1 1626.1 635.2 1627.7 634.9 1629.2 634.8 1630.7 634.8 1632.2 634.8 1633.7 634.1 1635.2 633.6 1636.7 632.8 1638.2 632.3 1639.7 631.7 1641.2 631.4 1642.7 631.7 1644.2 631.8 1645.7 631.9 1647.3 632 1648.8 631.7 1650.3 631.5 1651.8 630 1653.3 629.7 1654.8 629 1656.3 628.2 1657.8 627.2 1659.3 626.5 1660.8 626.1 1662.3 625.5 1663.8 624.3 1665.3 624.3 1666.8 623 1668.4 622.2 1669.9 621.2 1671.4 620.7 1672.9 619.2 1674.4 617.8 1675.9 617.2 1677.4 616.3 1678.9 615.7 1680.4 613.6 1681.9 612.1 1683.4 610.3 1684.9 609.2 1686.4 607.7 1688 606.3 1689.5 605.1 1691 604 1692.5 602.4 1694 601 1695.5 600.1 1697 598.5 1698.5 597.2 1700 595.3 1701.5 594.8 1703 593.7 1704.5 593.5 1706 592.7 1707.5 591.9 1709.1 591 1710.6 589.3 1712.1 588.4 1713.6 587.5 1715.1 586.9 1716.6 585.6 1718.1 585.5 1719.6 585.6 1721.1 585.9 1722.6 585.1 1724.1 585.1 1725.6 585.3 1727.1 585.4 1728.7 585.7 1730.2 584.4 1731.7 584.8 1733.2 584.6 1734.7 585.3 1736.2 585.5 1737.7 584.9 1739.2 585.3 1740.7 585.9 1742.2 587.3 1743.7 587.4 1745.2 587.2 1746.7 587.2 1748.2 588 1749.8 589.3 1751.3 590.1 1752.8 591.8 1754.3 592.8 1755.8 595.1 1757.3 596 1758.8 597.8 1760.3 599.4 1761.8 602.1 1763.3 604 1764.8 605.5 1766.3 607 1767.8 608.3 1769.4 609.4 1770.9 610.4 1772.4 612.2 1773.9 613.9 1775.4 616.1 1776.9 617.5 1778.4 619.2 1779.9 619.9 1781.4 621 1782.9 622.6 1784.4 624.1 1785.9 625.6 1787.4 626.6 1788.9 627.9 1790.5 628.4 1792 628.6 1793.5 628.9 1795 629.2 1796.5 630 L1796.5 640.7 1795 640.2 1793.5 640.2 1792 639.9 1790.5 639.3 1788.9 638.6 1787.4 636.7 1785.9 635.7 1784.4 634.3 1782.9 634 1781.4 632.4 1779.9 631.4 1778.4 630.1 1776.9 628.8 1775.4 626.9 1773.9 624.7 1772.4 623.3 1770.9 622.2 1769.4 620.8 1767.8 619.9 1766.3 617.6 1764.8 616.3 1763.3 614.3 1761.8 612.7 1760.3 610.7 1758.8 608.4 1757.3 607.2 1755.8 605.8 1754.3 605 1752.8 602.7 1751.3 600.8 1749.8 598.9 1748.2 599.5 1746.7 599.4 1745.2 598.1 1743.7 596.7 1742.2 596.3 1740.7 596.7 1739.2 596.7 1737.7 596.6 1736.2 596.9 1734.7 596.2 1733.2 595.5 1731.7 594.1 1730.2 594.4 1728.7 594.7 1727.1 595.1 1725.6 595.9 1724.1 596 1722.6 596.4 1721.1 595.8 1719.6 596.1 1718.1 596.6 1716.6 596.3 1715.1 597 1713.6 597.7 1712.1 599.3 1710.6 600.4 1709.1 601.1 1707.5 601.1 1706 601.7 1704.5 603.2 1703 605.4 1701.5 606.5 1700 607.4 1698.5 607.8 1697 609.2 1695.5 610.1 1694 611.5 1692.5 612.8 1691 614.1 1689.5 615.5 1688 617.2 1686.4 618.8 1684.9 620.3 1683.4 621.9 1681.9 623.3 1680.4 624.3 1678.9 625.2 1677.4 626.5 1675.9 628 1674.4 629.4 1672.9 630.3 1671.4 630.2 1669.9 631.1 1668.4 632.3 1666.8 634.5 1665.3 635.2 1663.8 636.8 1662.3 637.3 1660.8 638.7 1659.3 639.2 1657.8 640.1 1656.3 639.2 1654.8 639.5 1653.3 639.8 1651.8 641.7 1650.3 642.3 1648.8 642.5 1647.3 642 1645.7 642.7 1644.2 643.2 1642.7 644.6 1641.2 644.2 1639.7 644.4 1638.2 643.4 1636.7 643.1 1635.2 643.2 1633.7 644.3 1632.2 645.1 1630.7 645.6 1629.2 645.9 1627.7 646.4 1626.1 646.1 1624.6 646 1623.1 646.4 1621.6 647.5 1620.1 648.4 1618.6 648.6 1617.1 648.5 1615.6 648 1614.1 648.1 1612.6 648.6 1611.1 649.5 1609.6 650 1608.1 649.4 1606.6 649.1 1605 649.2 1603.5 649.7 1602 650.1 1600.5 650.5 1599 650.7 1597.5 651.1 1596 650.5 1594.5 650.9 1593 650.3 1591.5 651 1590 650.8 1588.5 651.8 1587 651 1585.4 650.6 1583.9 649.5 1582.4 650.1 1580.9 650.8 1579.4 650.9 1577.9 651.4 1576.4 650.9 1574.9 651.8 1573.4 651 1571.9 651.2Z" fill="#e669bc" fill-opacity="0.6" stroke="none"/>
<path d="M1571.9 662.3 1573.4 661.8 1574.9 661.6 1576.4 660.7 1577.9 660.8 1579.4 660.3 1580.9 660.7 1582.4 659.1 1583.9 658.2 1585.4 657.9 1587 658.1 1588.5 659 1590 658.9 1591.5 659.4 1593 658.8 1594.5 659.2 1596 658.7 1597.5 658.5 1599 657.7 1600.5 657.2 1602 657.4 1603.5 658.1 1605 658.5 1606.6 658.2 1608.1 658.3 1609.6 658.1 1611.1 658.9 1612.6 658.8 1614.1 659 1615.6 658.9 1617.1 658.8 1618.6 659.4 1620.1 659.3 1621.6 658.9 1623.1 658.2 1624.6 656.8 1626.1 656.9 1627.7 657.1 1629.2 657 1630.7 656.2 1632.2 655.1 1633.7 654.9 1635.2 654.5 1636.7 653.8 1638.2 654.6 1639.7 655.3 1641.2 655.9 1642.7 656.3 1644.2 656.6 1645.7 657.5 1647.3 657.4 1648.8 658.2 1650.3 658.4 1651.8 659.3 1653.3 659.3 1654.8 659 1656.3 658.7 1657.8 658.1 1659.3 658.2 1660.8 657.8 1662.3 658.2 1663.8 657.4 1665.3 658.1 1666.8 658.2 1668.4 659.2 1669.9 659.1 1671.4 659 1672.9 658.8 1674.4 658.7 1675.9 659.1 1677.4 659.5 1678.9 660.1 1680.4 660.3 1681.9 660.3 1683.4 660.4 1684.9 660 1686.4 660.3 1688 661 1689.5 662.2 1691 663.2 1692.5 663.4 1694 663.5 1695.5 663.8 1697 663.8 1698.5 663.9 1700 663.6 1701.5 664.2 1703 663.5 1704.5 663.7 1706 663 1707.5 662.6 1709.1 662 1710.6 660.9 1712.1 660.1 1713.6 658.9 1715.1 657.6 1716.6 655.8 1718.1 655.6 1719.6 655.6 1721.1 656.1 1722.6 655.9 1724.1 656.3 1725.6 657.2 1727.1 658.4 1728.7 658.9 1730.2 658.8 1731.7 658.1 1733.2 657.9 1734.7 657.6 1736.2 656.9 1737.7 656.3 1739.2 656 1740.7 655.8 1742.2 655.8 1743.7 654.5 1745.2 653.8 1746.7 652.1 1748.2 651.8 1749.8 650.3 1751.3 649.5 1752.8 648.3 1754.3 647.8 1755.8 646.9 1757.3 646.7 1758.8 646.7 1760.3 646.5 1761.8 646.9 1763.3 647.2 1764.8 648.1 1766.3 648.4 1767.8 648.9 1769.4 648.7 1770.9 648.5 1772.4 648.5 1773.9 649 1775.4 650.6 1776.9 651.5 1778.4 653 1779.9 653.3 1781.4 654.1 1782.9 654.2 1784.4 654.2 1785.9 654 1787.4 654.8 1788.9 654.8 1790.5 654.7 1792 653.3 1793.5 653.2 1795 652.2 1796.5 652.3 L1796.5 669.7 1795 670.1 1793.5 671.3 1792 671.3 1790.5 671.1 1788.9 670.9 1787.4 670.9 1785.9 670.9 1784.4 670.1 1782.9 670.1 1781.4 670.3 1779.9 670.7 1778.4 669.8 1776.9 669 1775.4 668 1773.9 667.1 1772.4 666.9 1770.9 666.6 1769.4 666.2 1767.8 664.9 1766.3 664.7 1764.8 664.6 1763.3 664.2 1761.8 664.5 1760.3 664.3 1758.8 664.8 1757.3 664.4 1755.8 664.6 1754.3 664.8 1752.8 665.3 1751.3 666.1 1749.8 667.3 1748.2 668.4 1746.7 669.1 1745.2 670 1743.7 670.2 1742.2 671 1740.7 671.5 1739.2 672.3 1737.7 673.4 1736.2 674.1 1734.7 674.4 1733.2 674.3 1731.7 674.3 1730.2 674.3 1728.7 673.6 1727.1 673.9 1725.6 673.2 1724.1 673.6 1722.6 673.5 1721.1 673.9 1719.6 673.6 1718.1 673.3 1716.6 673.4 1715.1 675.1 1713.6 676.1 1712.1 677 1710.6 677.9 1709.1 678.6 1707.5 678.8 1706 678.9 1704.5 679.5 1703 679.8 1701.5 680.2 1700 680.8 1698.5 680.9 1697 681.5 1695.5 680.4 1694 680.4 1692.5 679.1 1691 679.7 1689.5 679.3 1688 679.8 1686.4 678.8 1684.9 677.8 1683.4 676.8 1681.9 676.1 1680.4 676.4 1678.9 676.5 1677.4 677 1675.9 677 1674.4 676.6 1672.9 675.8 1671.4 675.7 1669.9 675.8 1668.4 675.7 1666.8 675.6 1665.3 675.6 1663.8 676.5 1662.3 676 1660.8 676.1 1659.3 675.3 1657.8 676 1656.3 676.3 1654.8 675.9 1653.3 675.6 1651.8 674.3 1650.3 674.8 1648.8 673.9 1647.3 674.4 1645.7 674.1 1644.2 674.1 1642.7 673.2 1641.2 672.4 1639.7 671.7 1638.2 672.1 1636.7 672.3 1635.2 672.8 1633.7 672.1 1632.2 672.1 1630.7 672.8 1629.2 673.1 1627.7 673.4 1626.1 674 1624.6 675.6 1623.1 676.4 1621.6 676.3 1620.1 675.7 1618.6 675.2 1617.1 675.4 1615.6 675.5 1614.1 675.8 1612.6 676.1 1611.1 676 1609.6 676 1608.1 676.2 1606.6 675.3 1605 675.5 1603.5 674.9 1602 675.9 1600.5 675.2 1599 675.5 1597.5 674.7 1596 675.6 1594.5 674.6 1593 675.8 1591.5 674.7 1590 675.2 1588.5 675.4 1587 676.5 1585.4 677 1583.9 676.9 1582.4 676.7 1580.9 676.8 1579.4 678 1577.9 678.1 1576.4 678.4 1574.9 678.1 1573.4 679.1 1571.9 679.6Z" fill="#acacac" fill-opacity="0.6" stroke="none"/>
<path d="M1571.9 652.7 1573.4 652.7 1574.9 653 1576.4 653.1 1577.9 653.2 1579.4 652.7 1580.9 653.4 1582.4 653.2 1583.9 653.2 1585.4 653.2 1587 653.5 1588.5 653.6 1590 652.8 1591.5 652.2 1593 652.3 1594.5 651.5 1596 650.3 1597.5 649.2 1599 648 1600.5 646.9 1602 645.4 1603.5 644.2 1605 643.2 1606.6 642.3 1608.1 640.8 1609.6 638.4 1611.1 636 1612.6 633.6 1614.1 633.1 1615.6 632.7 1617.1 632.2 1618.6 632.3 1620.1 631.9 1621.6 631.1 1623.1 630.5 1624.6 630 1626.1 630 1627.7 630.3 1629.2 630.6 1630.7 631.4 1632.2 632.5 1633.7 633.1 1635.2 633.4 1636.7 633.7 1638.2 633 1639.7 632 1641.2 630.4 1642.7 628.1 1644.2 624.6 1645.7 621.9 1647.3 618.9 1648.8 615.8 1650.3 612.8 1651.8 610.1 1653.3 609 1654.8 607.7 1656.3 606.6 1657.8 606.3 1659.3 605.7 1660.8 605 1662.3 603.6 1663.8 602.8 1665.3 602.3 1666.8 601.9 1668.4 600.9 1669.9 600.1 1671.4 599.2 1672.9 598.3 1674.4 597.2 1675.9 597.3 1677.4 597.4 1678.9 597.9 1680.4 598.2 1681.9 598.3 1683.4 598.4 1684.9 597.8 1686.4 597.7 1688 597.3 1689.5 597.8 1691 597.4 1692.5 597.9 1694 597.5 1695.5 597 1697 595.5 1698.5 594.8 1700 593.7 1701.5 591.8 1703 589.6 1704.5 587.5 1706 586.1 1707.5 588 1709.1 589.7 1710.6 591.1 1712.1 591.6 1713.6 592.9 1715.1 594.1 1716.6 595.5 1718.1 596.2 1719.6 597.7 1721.1 599.1 1722.6 600.3 1724.1 600.7 1725.6 601 1727.1 601.6 1728.7 602.3 1730.2 602.7 1731.7 603.3 1733.2 604.4 1734.7 606.1 1736.2 607.5 1737.7 608.6 1739.2 609.1 1740.7 609.8 1742.2 610.7 1743.7 611.8 1745.2 612.2 1746.7 611.6 1748.2 610.9 1749.8 610.5 1751.3 610.1 1752.8 610.8 1754.3 610.9 1755.8 611.1 1757.3 611.3 1758.8 611.5 1760.3 612 1761.8 612 1763.3 612 1764.8 612.3 1766.3 612.8 1767.8 613.8 1769.4 614.5 1770.9 615.2 1772.4 616.5 1773.9 617.4 1775.4 618.8 1776.9 619.7 1778.4 621.2 1779.9 621.6 1781.4 622.4 1782.9 623.1 1784.4 623.8 1785.9 623.8 1787.4 623.4 1788.9 623.3 1790.5 622.7 1792 622 1793.5 621.8 1795 622.5 1796.5 622.8" fill="none" stroke="#2a7a3c" stroke-width="3.9" stroke-linejoin="round"/>
<path d="M1571.9 658.6 1573.4 658.6 1574.9 658.1 1576.4 657.3 1577.9 657.1 1579.4 657.2 1580.9 657.4 1582.4 656.6 1583.9 656.9 1585.4 656.8 1587 656.8 1588.5 656.2 1590 655.6 1591.5 655.8 1593 655.9 1594.5 655.9 1596 655.7 1597.5 655.5 1599 655.8 1600.5 656.1 1602 656.4 1603.5 656.1 1605 656.7 1606.6 657.5 1608.1 658.2 1609.6 658.3 1611.1 657.7 1612.6 657.5 1614.1 657.1 1615.6 657.7 1617.1 658.1 1618.6 658.9 1620.1 658.7 1621.6 658.5 1623.1 658 1624.6 658.1 1626.1 658 1627.7 658.1 1629.2 657.5 1630.7 657.5 1632.2 657.6 1633.7 658 1635.2 658.6 1636.7 659.4 1638.2 659.9 1639.7 660.8 1641.2 661 1642.7 661.4 1644.2 661.5 1645.7 661.6 1647.3 662 1648.8 662 1650.3 662.2 1651.8 662.2 1653.3 662.4 1654.8 662.3 1656.3 662.3 1657.8 662.6 1659.3 662.9 1660.8 663.2 1662.3 663.2 1663.8 663.2 1665.3 663 1666.8 662.3 1668.4 662.2 1669.9 662.2 1671.4 662.5 1672.9 662.2 1674.4 661.9 1675.9 661.1 1677.4 661.1 1678.9 660.7 1680.4 660.9 1681.9 660.7 1683.4 660.7 1684.9 660.6 1686.4 660.3 1688 659.7 1689.5 659.5 1691 659.5 1692.5 660.1 1694 659.8 1695.5 659.7 1697 659.6 1698.5 659.7 1700 659.2 1701.5 659.3 1703 660 1704.5 660.5 1706 660.5 1707.5 659.5 1709.1 658.3 1710.6 657.2 1712.1 655.8 1713.6 654.4 1715.1 652.8 1716.6 651.9 1718.1 650.4 1719.6 649.6 1721.1 649 1722.6 648.7 1724.1 648 1725.6 647.3 1727.1 646.8 1728.7 645.9 1730.2 645.1 1731.7 644.2 1733.2 643.9 1734.7 643.3 1736.2 642.9 1737.7 642.5 1739.2 642.2 1740.7 642.4 1742.2 642.2 1743.7 642.2 1745.2 641 1746.7 640 1748.2 639 1749.8 638.3 1751.3 637.7 1752.8 637.3 1754.3 636.8 1755.8 636.2 1757.3 635.8 1758.8 635.4 1760.3 635.1 1761.8 634.3 1763.3 633.7 1764.8 633 1766.3 632.6 1767.8 632.3 1769.4 632.5 1770.9 632.5 1772.4 632.8 1773.9 633.2 1775.4 633.6 1776.9 633.6 1778.4 633.6 1779.9 634.1 1781.4 635.1 1782.9 635.2 1784.4 635.2 1785.9 635.5 1787.4 635.8 1788.9 636.4 1790.5 637.4 1792 638.3 1793.5 639 1795 639.7 1796.5 640.8" fill="none" stroke="#3a7dc4" stroke-width="3.9" stroke-linejoin="round"/>
<path d="M1571.9 645.5 1573.4 645.7 1574.9 645.5 1576.4 645.5 1577.9 645.5 1579.4 646 1580.9 645.8 1582.4 645.4 1583.9 645.3 1585.4 645.8 1587 645.8 1588.5 645.9 1590 645.3 1591.5 645.3 1593 644.9 1594.5 645.2 1596 645.2 1597.5 645.5 1599 645.3 1600.5 645.1 1602 644.9 1603.5 644.5 1605 644.2 1606.6 643.8 1608.1 643.8 1609.6 643.5 1611.1 643 1612.6 642.4 1614.1 642.2 1615.6 642.5 1617.1 642.8 1618.6 642.8 1620.1 642.3 1621.6 642 1623.1 641.3 1624.6 641.1 1626.1 640.6 1627.7 640.7 1629.2 640.3 1630.7 640.2 1632.2 640 1633.7 639.2 1635.2 638.4 1636.7 637.9 1638.2 637.8 1639.7 638 1641.2 637.8 1642.7 638.2 1644.2 637.5 1645.7 637.3 1647.3 637 1648.8 637.1 1650.3 636.9 1651.8 635.9 1653.3 634.8 1654.8 634.3 1656.3 633.7 1657.8 633.6 1659.3 632.9 1660.8 632.4 1662.3 631.4 1663.8 630.6 1665.3 629.8 1666.8 628.7 1668.4 627.3 1669.9 626.2 1671.4 625.5 1672.9 624.7 1674.4 623.6 1675.9 622.6 1677.4 621.4 1678.9 620.4 1680.4 619 1681.9 617.7 1683.4 616.1 1684.9 614.7 1686.4 613.2 1688 611.8 1689.5 610.3 1691 609.1 1692.5 607.6 1694 606.2 1695.5 605.1 1697 603.8 1698.5 602.5 1700 601.4 1701.5 600.7 1703 599.6 1704.5 598.3 1706 597.2 1707.5 596.5 1709.1 596.1 1710.6 594.8 1712.1 593.8 1713.6 592.6 1715.1 591.9 1716.6 590.9 1718.1 591 1719.6 590.9 1721.1 590.8 1722.6 590.8 1724.1 590.5 1725.6 590.6 1727.1 590.2 1728.7 590.2 1730.2 589.4 1731.7 589.4 1733.2 590.1 1734.7 590.8 1736.2 591.2 1737.7 590.8 1739.2 591 1740.7 591.3 1742.2 591.8 1743.7 592 1745.2 592.6 1746.7 593.3 1748.2 593.7 1749.8 594.1 1751.3 595.5 1752.8 597.3 1754.3 598.9 1755.8 600.4 1757.3 601.6 1758.8 603.1 1760.3 605.1 1761.8 607.4 1763.3 609.2 1764.8 610.9 1766.3 612.3 1767.8 614.1 1769.4 615.1 1770.9 616.3 1772.4 617.7 1773.9 619.3 1775.4 621.5 1776.9 623.1 1778.4 624.6 1779.9 625.7 1781.4 626.7 1782.9 628.3 1784.4 629.2 1785.9 630.6 1787.4 631.6 1788.9 633.2 1790.5 633.9 1792 634.3 1793.5 634.6 1795 634.7 1796.5 635.3" fill="none" stroke="#e82a9a" stroke-width="3.9" stroke-linejoin="round"/>
<path d="M1571.9 671 1573.4 670.5 1574.9 669.9 1576.4 669.5 1577.9 669.5 1579.4 669.2 1580.9 668.7 1582.4 667.9 1583.9 667.5 1585.4 667.4 1587 667.3 1588.5 667.2 1590 667.1 1591.5 667.1 1593 667.3 1594.5 666.9 1596 667.2 1597.5 666.6 1599 666.6 1600.5 666.2 1602 666.7 1603.5 666.5 1605 667 1606.6 666.8 1608.1 667.3 1609.6 667 1611.1 667.5 1612.6 667.5 1614.1 667.4 1615.6 667.2 1617.1 667.1 1618.6 667.3 1620.1 667.5 1621.6 667.6 1623.1 667.3 1624.6 666.2 1626.1 665.4 1627.7 665.3 1629.2 665.1 1630.7 664.5 1632.2 663.6 1633.7 663.5 1635.2 663.6 1636.7 663.1 1638.2 663.3 1639.7 663.5 1641.2 664.1 1642.7 664.7 1644.2 665.3 1645.7 665.8 1647.3 665.9 1648.8 666.1 1650.3 666.6 1651.8 666.8 1653.3 667.5 1654.8 667.4 1656.3 667.5 1657.8 667.1 1659.3 666.8 1660.8 666.9 1662.3 667.1 1663.8 666.9 1665.3 666.9 1666.8 666.9 1668.4 667.4 1669.9 667.4 1671.4 667.3 1672.9 667.3 1674.4 667.7 1675.9 668 1677.4 668.3 1678.9 668.3 1680.4 668.3 1681.9 668.2 1683.4 668.6 1684.9 668.9 1686.4 669.5 1688 670.4 1689.5 670.7 1691 671.4 1692.5 671.2 1694 672 1695.5 672.1 1697 672.6 1698.5 672.4 1700 672.2 1701.5 672.2 1703 671.6 1704.5 671.6 1706 671 1707.5 670.7 1709.1 670.3 1710.6 669.4 1712.1 668.5 1713.6 667.5 1715.1 666.4 1716.6 664.6 1718.1 664.5 1719.6 664.6 1721.1 665 1722.6 664.7 1724.1 664.9 1725.6 665.2 1727.1 666.1 1728.7 666.2 1730.2 666.6 1731.7 666.2 1733.2 666.1 1734.7 666 1736.2 665.5 1737.7 664.9 1739.2 664.2 1740.7 663.7 1742.2 663.4 1743.7 662.4 1745.2 661.9 1746.7 660.6 1748.2 660.1 1749.8 658.8 1751.3 657.8 1752.8 656.8 1754.3 656.3 1755.8 655.8 1757.3 655.6 1758.8 655.7 1760.3 655.4 1761.8 655.7 1763.3 655.7 1764.8 656.3 1766.3 656.6 1767.8 656.9 1769.4 657.4 1770.9 657.5 1772.4 657.7 1773.9 658.1 1775.4 659.3 1776.9 660.2 1778.4 661.4 1779.9 662 1781.4 662.2 1782.9 662.1 1784.4 662.2 1785.9 662.5 1787.4 662.9 1788.9 662.8 1790.5 662.9 1792 662.3 1793.5 662.2 1795 661.1 1796.5 661" fill="none" stroke="#000000" stroke-width="3.9" stroke-linejoin="round"/>
<line x1="1636.9" y1="480.2" x2="1636.9" y2="707.5" stroke="#d8283a" stroke-width="1.5" stroke-dasharray="1.5,2.5"/>
<path d="M1571.9 480.2V707.5H1796.5" stroke="#1a1a1a" stroke-width="1.8" fill="none"/>
<line x1="1571.9" y1="495" x2="1575.4" y2="495" stroke="#1a1a1a" stroke-width="1.6" />
<line x1="1571.9" y1="571.2" x2="1575.4" y2="571.2" stroke="#1a1a1a" stroke-width="1.6" />
<line x1="1571.9" y1="647.4" x2="1575.4" y2="647.4" stroke="#1a1a1a" stroke-width="1.6" />
<line x1="1636.9" y1="707.5" x2="1636.9" y2="704" stroke="#1a1a1a" stroke-width="1.6" />
<text x="1636.9" y="729.7" font-size="21" text-anchor="middle">0</text>
<line x1="1703.4" y1="707.5" x2="1703.4" y2="704" stroke="#1a1a1a" stroke-width="1.6" />
<text x="1703.4" y="729.7" font-size="21" text-anchor="middle">0.5</text>
<line x1="1769.9" y1="707.5" x2="1769.9" y2="704" stroke="#1a1a1a" stroke-width="1.6" />
<text x="1764.9" y="729.7" font-size="21">1(s)</text>
<text x="0.6" y="867.5" font-size="33" font-weight="bold">c</text>
<g stroke="#000" stroke-width="1.8">
<line x1="78" y1="896.2" x2="55.5" y2="936.6"/>
<line x1="78" y1="896.2" x2="101" y2="936.6"/>
<line x1="55.5" y1="936.6" x2="101" y2="936.6"/>
<line x1="55.5" y1="936.6" x2="31.9" y2="976.3"/>
<line x1="101" y1="936.6" x2="124" y2="976.3"/>
<line x1="31.9" y1="976.3" x2="78" y2="999"/>
<line x1="124" y1="976.3" x2="78" y2="999"/>
</g>
<circle cx="78" cy="896.2" r="12" fill="#2c7a3a" stroke="#111" stroke-width="1.4"/>
<circle cx="55.5" cy="936.6" r="7.8" fill="#e8309f" stroke="#111" stroke-width="1.4"/>
<circle cx="101" cy="936.6" r="7.8" fill="#e8309f" stroke="#111" stroke-width="1.4"/>
<circle cx="31.9" cy="976.3" r="7.8" fill="#4682c8" stroke="#111" stroke-width="1.4"/>
<circle cx="124" cy="976.3" r="7.8" fill="#4682c8" stroke="#111" stroke-width="1.4"/>
<circle cx="78" cy="999" r="7.8" fill="#000" stroke="#111" stroke-width="1.4"/>
<g stroke="#000" stroke-width="1.8">
<line x1="220.6" y1="892.3" x2="198" y2="933"/>
<line x1="220.6" y1="892.3" x2="243.6" y2="933"/>
<line x1="198" y1="933" x2="243.6" y2="933"/>
<line x1="198" y1="933" x2="174.5" y2="972.4"/>
<line x1="243.6" y1="933" x2="266.7" y2="972.4"/>
<line x1="174.5" y1="972.4" x2="219.7" y2="995"/>
<line x1="266.7" y1="972.4" x2="219.7" y2="995"/>
</g>
<circle cx="220.6" cy="892.3" r="7.8" fill="#000" stroke="#111" stroke-width="1.4"/>
<circle cx="198" cy="933" r="7.8" fill="#4682c8" stroke="#111" stroke-width="1.4"/>
<circle cx="243.6" cy="933" r="7.8" fill="#4682c8" stroke="#111" stroke-width="1.4"/>
<circle cx="174.5" cy="972.4" r="7.8" fill="#e8309f" stroke="#111" stroke-width="1.4"/>
<circle cx="266.7" cy="972.4" r="7.8" fill="#e8309f" stroke="#111" stroke-width="1.4"/>
<circle cx="219.7" cy="995" r="12" fill="#2c7a3a" stroke="#111" stroke-width="1.4"/>
<text x="185.6" y="1092" font-size="30.2" text-anchor="middle" font-weight="bold">DIST. 2 - DIST. 3</text>
<path d="M85.5 1196.8V1554H286.5" stroke="#1a1a1a" stroke-width="1.8" fill="none"/>
<line x1="85.5" y1="1217.8" x2="91" y2="1217.8" stroke="#1a1a1a" stroke-width="1.6" />
<text x="76.6" y="1223.9" font-size="21" text-anchor="end">0.4</text>
<line x1="85.5" y1="1296.5" x2="91" y2="1296.5" stroke="#1a1a1a" stroke-width="1.6" />
<text x="76.6" y="1302.6" font-size="21" text-anchor="end">0.2</text>
<line x1="85.5" y1="1375.2" x2="91" y2="1375.2" stroke="#1a1a1a" stroke-width="1.6" />
<text x="76.6" y="1381.3" font-size="21" text-anchor="end">0</text>
<line x1="85.5" y1="1453.9" x2="91" y2="1453.9" stroke="#1a1a1a" stroke-width="1.6" />
<text x="76.6" y="1460" font-size="21" text-anchor="end">-0.2</text>
<line x1="85.5" y1="1532.6" x2="91" y2="1532.6" stroke="#1a1a1a" stroke-width="1.6" />
<text x="76.6" y="1538.7" font-size="21" text-anchor="end">-0.4</text>
<line x1="122.5" y1="1554" x2="122.5" y2="1548" stroke="#1a1a1a" stroke-width="1.6" />
<line x1="185.3" y1="1554" x2="185.3" y2="1548" stroke="#1a1a1a" stroke-width="1.6" />
<line x1="249.2" y1="1554" x2="249.2" y2="1548" stroke="#1a1a1a" stroke-width="1.6" />
<line x1="121.9" y1="1343.3" x2="121.9" y2="1309.5" stroke="#000" stroke-width="1.8" />
<line x1="114.4" y1="1309.5" x2="129.4" y2="1309.5" stroke="#000" stroke-width="1.8" />
<line x1="121.9" y1="1452.7" x2="121.9" y2="1464.1" stroke="#000" stroke-width="1.8" />
<line x1="114.4" y1="1464.1" x2="129.4" y2="1464.1" stroke="#000" stroke-width="1.8" />
<rect x="106.4" y="1343.3" width="31.7" height="109.4" fill="#e2f296" stroke="#8a8a80" stroke-width="1.3"/>
<line x1="107" y1="1432.3" x2="137.5" y2="1432.3" stroke="#000" stroke-width="3.7" />
<line x1="185.2" y1="1324.4" x2="185.2" y2="1290.6" stroke="#000" stroke-width="1.8" />
<line x1="177.7" y1="1290.6" x2="192.7" y2="1290.6" stroke="#000" stroke-width="1.8" />
<line x1="185.2" y1="1417.7" x2="185.2" y2="1433.8" stroke="#000" stroke-width="1.8" />
<line x1="177.7" y1="1433.8" x2="192.7" y2="1433.8" stroke="#000" stroke-width="1.8" />
<rect x="169.7" y="1324.4" width="31.8" height="93.3" fill="#e2f296" stroke="#8a8a80" stroke-width="1.3"/>
<line x1="170.3" y1="1348" x2="200.9" y2="1348" stroke="#000" stroke-width="3.7" />
<line x1="249" y1="1274.9" x2="249" y2="1271.3" stroke="#000" stroke-width="1.8" />
<line x1="241.5" y1="1271.3" x2="256.5" y2="1271.3" stroke="#000" stroke-width="1.8" />
<line x1="249" y1="1354.3" x2="249" y2="1394.5" stroke="#000" stroke-width="1.8" />
<line x1="241.5" y1="1394.5" x2="256.5" y2="1394.5" stroke="#000" stroke-width="1.8" />
<rect x="233" y="1274.9" width="32" height="79.5" fill="#e2f296" stroke="#8a8a80" stroke-width="1.3"/>
<line x1="233.6" y1="1322.5" x2="264.4" y2="1322.5" stroke="#000" stroke-width="3.7" />
<circle cx="124.6" cy="1308.6" r="3.7" fill="none" stroke="#222" stroke-width="1.05"/>
<circle cx="117.8" cy="1343.7" r="3.7" fill="none" stroke="#222" stroke-width="1.05"/>
<circle cx="122.5" cy="1428.7" r="3.7" fill="none" stroke="#222" stroke-width="1.05"/>
<circle cx="117" cy="1435.9" r="3.7" fill="none" stroke="#222" stroke-width="1.05"/>
<circle cx="117.4" cy="1452.4" r="3.7" fill="none" stroke="#222" stroke-width="1.05"/>
<circle cx="118.4" cy="1464.1" r="3.7" fill="none" stroke="#222" stroke-width="1.05"/>
<circle cx="191" cy="1290.4" r="3.7" fill="none" stroke="#222" stroke-width="1.05"/>
<circle cx="180.2" cy="1324.7" r="3.7" fill="none" stroke="#222" stroke-width="1.05"/>
<circle cx="181.2" cy="1327.4" r="3.7" fill="none" stroke="#222" stroke-width="1.05"/>
<circle cx="185.3" cy="1368.6" r="3.7" fill="none" stroke="#222" stroke-width="1.05"/>
<circle cx="186.4" cy="1417.4" r="3.7" fill="none" stroke="#222" stroke-width="1.05"/>
<circle cx="189.9" cy="1433.9" r="3.7" fill="none" stroke="#222" stroke-width="1.05"/>
<circle cx="249.8" cy="1270.9" r="3.7" fill="none" stroke="#222" stroke-width="1.05"/>
<circle cx="250.7" cy="1276.2" r="3.7" fill="none" stroke="#222" stroke-width="1.05"/>
<circle cx="253.7" cy="1297.5" r="3.7" fill="none" stroke="#222" stroke-width="1.05"/>
<circle cx="242.4" cy="1348.8" r="3.7" fill="none" stroke="#222" stroke-width="1.05"/>
<circle cx="253" cy="1354.6" r="3.7" fill="none" stroke="#222" stroke-width="1.05"/>
<circle cx="255.1" cy="1394.6" r="3.7" fill="none" stroke="#222" stroke-width="1.05"/>
<text x="124.9" y="1141.9" font-size="20.3"><tspan font-style="italic">P</tspan>=0.031</text>
<line x1="123.5" y1="1151.3" x2="250.7" y2="1151.3" stroke="#222" stroke-width="1.6" />
<text x="125.8" y="1181.2" font-size="20.3"><tspan font-style="italic">P</tspan>=0.109</text>
<line x1="124.6" y1="1191.1" x2="184.8" y2="1191.1" stroke="#222" stroke-width="1.6" />
<text x="211.7" y="1222" font-size="20.3"><tspan font-style="italic">P</tspan>=0.031</text>
<text x="154.1" y="1254.9" font-size="20.3"><tspan font-style="italic">P</tspan>=0.28</text>
<text x="91.2" y="1279.7" font-size="20.3"><tspan font-style="italic">P</tspan>=0.89</text>
<text x="31.5" y="1375" font-size="25.1" text-anchor="middle" font-weight="bold" transform="rotate(-90 31.5 1375)">H [n = 6]</text>
<text x="144" y="1573" font-size="20.5" text-anchor="end" transform="rotate(-45 144 1573)">E1&amp;E2</text>
<text x="206.8" y="1573" font-size="20.5" text-anchor="end" transform="rotate(-45 206.8 1573)">E3&amp;E4</text>
<text x="270.7" y="1573" font-size="20.5" text-anchor="end" transform="rotate(-45 270.7 1573)">E5&amp;E6</text>
<path d="M446 950.3V1575.3H659.6" stroke="#1a1a1a" stroke-width="1.7" fill="none"/>
<path d="M460.2 1575.6V1570.1H460.7V1566H461V1564.8H461.1V1564.1H461.2V1555.3H461.9V1554.1H462V1553.2H462.1V1551.8H462.2V1548H462.5V1543.2H462.9V1532.5H464V1530.8H464.3V1530H464.4V1527.7H464.8V1526.3H465V1523.9H465.4V1523.1H465.6V1520.6H466V1514.5H467V1514H467.1V1508H468.1V1501H469.4V1499H469.8V1497.5H470.1V1496.9H470.2V1494.9H470.5V1493.2H470.9V1492.4H471V1491.8H471.1V1489.3H471.6V1485.5H472.3V1481.7H473V1479.8H473.4V1476.7H474V1471.8H476.2V1470.8H476.9V1470.2H477.4V1469.3H478.1V1468.7H478.5V1465.5H480.9V1464.7H481V1463.2H481.3V1462.7H481.4V1461.9H481.5V1459.4H481.9V1458.2H482.1V1457.6H482.2V1452.5H483.1V1451.6H483.2V1448.5H483.8V1447.8H483.9V1446.9H484V1446.4H484.1V1444.1H484.5V1441.4H484.9V1436.9H485.7V1433H486.3V1430.4H486.8V1426.8H487.4V1424.6H488.4V1423.5H489V1422.6H489.4V1421.6H489.9V1418.6H491.4V1412.8H493.3V1411.7H493.6V1410.2H494.1V1408.7H494.5V1399.8H497.2V1398.9H497.4V1398.4H497.6V1393.5H500.1V1387.1H504.4V1385.8H505.3V1382.8H507.2V1378.8H509.9V1375.2H512.3V1370.9H515.2V1370.1H515.7V1367.8H517.2V1366.8H517.9V1360.9H521.9V1360.4H522.2V1359H523.2V1358.2H523.7V1353.6H531.9V1350.7H533.6V1348.3H534.4V1347.7H534.6V1346.1H535.1V1339.8H537.5V1339.2H538.2V1337.7H539.6V1337.1H540.2V1333.9H542.7V1325.4H548.4V1323.4H549.8V1322.9H550.1V1320.5H553.4V1319.9H554.2V1319H555.4V1318.5H556V1314.4H561.5V1311H565.9V1310.3H566.9V1309.8H567.6V1307.2H570.1V1305.5H571.8V1304.8H572.5V1304H573.4V1303.5H573.8V1302.8H574.6V1300.1H576.8V1297.4H578.6V1294.8H580.3V1290.1H583.5V1288.6H584.5V1287.4H586.5V1286.8H587.8V1285.6H590.3V1284.5H592.5V1284H593.2V1282.9H593.4V1282.2H593.6V1281H593.8V1279.6H594.1V1272.3H595.6V1271.4H595.7V1265.9H596.9V1261.6H598.1V1260.6H598.8V1260H599.2V1255.8H602V1252.1H604.5V1248.7H606.7V1245.3H609V1244.4H609.6V1243.5H610.2V1242.9H610.6V1236.3H614.9V1235H615.4V1229.6H617.6V1227.9H618.3V1226.3H618.9V1224.9H619.5V1223.3H620.1V1220.6H621.2V1219.1H621.8V1218.4H622.1V1217.6H622.4V1216.9H622.7V1212.9H624.3V1207.3H626.5V1204H627.8V1203.3H628.1V1202H628.6V1200.9H629.1V1196.9H630.7V1195.3H631.3V1192.9H632.3V1191.4H632.9V1185H635.4V1182.7H636.4V1179H637.8V1178.2H638.2V1175.4H639.3V1171.2H640.9V1169.2H641.4V1168.4H641.6V1163.2H642.9V1159.2H643.9V1157.8H644.2V1156.8H644.5V1155.8H644.7V1155.1H644.9V1150H646.2V1148.5H646.5V1143.1H647.9V1141.6H648.3V1139.2H648.9V1138.1H649.1V1135.7H649.7V1132.4H650.6V1131.4H650.8V1130.4H651.1V1127.5H651.8V1124.7H652.5V1115.5H654.3V1115.1H654.3V1110.8H654.9V1108.6H655.2V1101.8H656.1V1101.3H656.2V1097.9H656.6V1095.1H657V1091.8H657.2V1090.9H657.2V1090.2H657.3V1086.2H657.4V1083.6H657.5V1082.2H657.6V1081.1H657.6V1080.3H657.7V1075.3H657.9V1072.9H658V1069.4H658.1V1067.4H658.2V1063H658.4V1058.9H658.5V1057.9H658.6V1055.8H658.6V1054.1H658.7V1051.4H658.8V1042H658.9V1038.5H658.9V1036.3H659V1035.6H659V1033.6H659V1031.6H659V1028.6H659V1027.2H659V1025H659V1019.3H659.1V1016.8H659.1V1016.3H659.1V1014.6H659.1V1010.7H659.2V1009.1H659.2V1007.2H659.2V1004.1H659.2V1002.8H659.2V999.1H659.2V996.9H659.3V996.2H659.3V994.8H659.3L659.3 994.8" fill="none" stroke="#000" stroke-width="3.3" stroke-linejoin="round"/>
<path d="M447.2 1575.6V1574.9H447.3V1571.4H447.6V1571H447.6V1570.5H447.7V1568.6H447.8V1567.9H447.9V1567.1H448V1566.4H448V1565.6H448.1V1565.1H448.1V1564H448.2V1563.3H448.3V1559H448.6V1555.1H449V1554.5H449V1552.3H449.2V1551.3H449.3V1550.7H449.3V1548.4H449.5V1547.5H449.6V1544.5H449.9V1543.7H449.9V1542.6H450V1541.6H450.1V1539.4H450.3V1538.8H450.3V1538.3H450.4V1534.2H450.7V1532.6H450.9V1531H451V1524.8H451.6V1523.6H451.7V1523.1H451.7V1522.3H451.8V1521.9H451.8V1520.3H452V1517.3H452.3V1515.3H452.4V1514.7H452.5V1514.2H452.5V1512.6H452.7V1511.8H452.8V1510.5H452.9V1509.8H452.9V1508H453.1V1506.9H453.2V1506.1H453.3V1499.9H453.8V1497.9H454V1496.4H454.2V1495.2H454.3V1494.7H454.3V1491.8H454.6V1490.2H454.7V1489.3H454.8V1487.6H455V1486.9H455V1486.5H455.1V1485.7H455.2V1485H455.3V1484.5H455.4V1483.8H455.4V1482.3H455.6V1481H455.8V1480.5H455.9V1476.6H456.4V1473.5H456.8V1471.4H457.1V1470.9H457.2V1468.2H457.5V1466.8H457.7V1466.3H457.8V1465.9H457.8V1462.8H458.3V1462H458.3V1461.6H458.4V1459.5H458.7V1458.2H458.9V1457H459V1456.6H459.1V1455.3H459.3V1451.3H459.8V1449.4H460V1447.6H460.3V1446.2H460.6V1444.1H461V1443.5H461.1V1440.6H461.7V1439.6H461.9V1436.5H462.5V1435.9H462.7V1435.2H462.8V1434.6H462.9V1432.8H463.3V1432.2H463.4V1430.6H463.7V1430.2H463.8V1429.1H464V1420.4H465.8V1416.7H466.5V1415.3H466.8V1414.1H467V1413.2H467.2V1412H467.4V1409.2H468V1408.6H468.3V1405.9H469.4V1404.7H469.9V1403.6H470.4V1400.1H471.8V1398.5H472.5V1397.6H472.9V1395.4H473.8V1394.9H474V1392H475.2V1383.6H478.7V1381.3H479.7V1380.6H479.9V1379.5H480.4V1377.3H481.3V1376.1H481.8V1374.2H482.6V1373.5H482.9V1369.6H484.5V1368.2H485.1V1367.6H485.4V1361.5H487.9V1357.5H489.6V1355.7H490.7V1355H491.3V1354.4H491.7V1350.1H494.5V1349.7H494.8V1349.1H495.2V1348H495.9V1347.2H496.4V1345.7H497.5V1344.6H498.2V1344.2H498.4V1343.6H498.7V1342.4H499.3V1341.8H499.6V1341H500V1339.8H500.6V1338.7H501.1V1337.8H501.6V1336.4H502.3V1333.1H503.9V1331.1H504.9V1328.5H506.3V1327.8H506.6V1326.4H507.4V1324.8H508.5V1324H509V1323.6H509.3V1321.8H510.5V1319.4H512.1V1318.4H512.8V1310.9H517.2V1309.9H517.7V1308.9H518.2V1308.2H518.6V1307.2H519V1306.7H519.3V1304.4H520.4V1303.9H520.7V1298.9H523.2V1295.3H525V1293.9H525.7V1287.8H529.9V1287.1H530.5V1284.7H532.3V1283.7H533.2V1278.3H538.6V1276.8H540.1V1276H540.9V1272.5H544.3V1271.9H545V1270.7H546.2V1269.8H547V1265H551.8V1263.8H553.1V1260H556V1258.7H556.9V1257.7H557.6V1256H558.7V1254.6H559.6V1250.9H562.1V1249.4H563.1V1245.9H566.6V1242.6H569.9V1242.1H570.5V1240.9H571.6V1238.2H574.4V1236.7H575.8V1235.2H577.3V1234.7H577.8V1233.8H578.7V1230.8H581.8V1228.6H583.9V1225.5H587.1V1224.4H588.1V1223.9H588.6V1223.2H589.3V1221.9H590.7V1221.4H591.2V1217.5H594.4V1216.4H595.1V1210H599.4V1209.5H599.8V1208.4H600.5V1208H600.8V1206.6H601.7V1204.8H603.4V1204.2H604.1V1203.5H604.7V1200.8H607.4V1199.6H608.6V1197.5H610.7V1196.3H611.9V1193.9H614.3V1192.6H615.7V1187.8H620.4V1185.9H622.3V1185.3H623V1184.5H623.7V1183.6H624.6V1182.5H625.7V1177.6H629.6V1176.5H630.4V1173.3H632.6V1170.8H634.2V1170H634.7V1168.7H635.6V1168.3H635.9V1166.4H636.9V1165.6H637.4V1164.6H637.8V1162.5H638.9V1160.8H639.7V1158.2H641V1157.3H641.5V1156.5H641.9V1152H643.8V1149.9H644.6V1147.1H645.7V1146.2H646V1143H647.2V1141.8H647.6V1139.5H648.5V1137.7H649.2V1136.9H649.4V1135H649.9V1128.4H651.6V1127H651.9V1125.9H652.2V1122.7H653V1117.8H654V1113.4H654.5V1112.8H654.6V1111.2H654.8V1110.5H654.9V1109H655.1V1107.7H655.3V1107.2H655.4V1105.2H655.6V1104.1H655.8V1102.9H655.9V1098.7H656.5V1096H656.9V1095.6H656.9V1093.9H657.1V1091.5H657.2V1089.3H657.3V1086.7H657.4V1085.2H657.5V1083H657.6V1082.4H657.6V1081.2H657.6V1080.2H657.7V1077.2H657.8V1076.6H657.8V1075.1H657.9V1074.2H657.9V1073.3H657.9V1069.3H658.1V1066.6H658.2V1066.2H658.2V1064.9H658.3V1063.4H658.3V1063H658.4V1062.4H658.4V1060.9H658.4V1060.3H658.5V1058.7H658.5V1057.5H658.6V1056.9H658.6V1053.8H658.7V1052.9H658.8V1052.4H658.8V1051.3H658.8V1048.2H658.9V1044.2H658.9V1042.7H658.9V1041.4H658.9V1039.4H658.9V1037.6H658.9V1035.8H659V1035.2H659V1033.5H659V1031.2H659V1030.7H659V1029.1H659V1028.7H659V1027H659V1025.5H659V1023.7H659.1V1022.3H659.1V1021.5H659.1V1021.1H659.1V1020.3H659.1V1017.9H659.1V1015H659.1V1013.3H659.1V1011H659.1V1009.6H659.2V1007.8H659.2V1005.5H659.2V1005H659.2V1004H659.2V1003.6H659.2V1002.4H659.2V998.6H659.2V994.8H659.3L659.3 994.8" fill="none" stroke="#d8621e" stroke-width="3.4" stroke-linejoin="round"/>
<path d="M447.2 1575.6V1574.5H447.3V1572.6H447.5V1570.9H447.6V1569H447.8V1567.2H447.9V1565.1H448.1V1563.6H448.3V1562.4H448.3V1561.2H448.4V1556.6H448.8V1555H449V1551.5H449.3V1549.4H449.4V1548.7H449.5V1547.8H449.6V1547.1H449.6V1546.6H449.7V1545.7H449.8V1544.6H449.8V1544.1H449.9V1543.6H449.9V1542.2H450V1541.8H450.1V1540.6H450.2V1539.6H450.3V1538.4H450.4V1537.9H450.4V1537.3H450.5V1535.5H450.6V1534.9H450.7V1533.7H450.8V1532H450.9V1527.9H451.2V1525.2H451.4V1523.4H451.6V1522.5H451.7V1521.2H451.8V1520.4H451.8V1516.4H452.1V1512.6H452.4V1511.3H452.6V1510.4H452.6V1507.4H452.9V1505.8H453V1504.2H453.1V1502.7H453.2V1501.6H453.3V1500.1H453.4V1499.7H453.5V1498.9H453.5V1495.4H453.8V1494.6H453.9V1493.9H453.9V1492.5H454.1V1491.5H454.1V1490H454.3V1487.9H454.6V1487.2H454.7V1485.2H454.9V1484.5H455V1483.8H455.1V1482.9H455.2V1481.5H455.3V1476.9H455.9V1476.4H455.9V1475.1H456.1V1474H456.2V1469.5H456.8V1465.3H457.3V1464.1H457.4V1462.8H457.6V1462H457.7V1461.3H457.8V1460.7H457.8V1460.3H457.9V1458.5H458.1V1456.9H458.3V1455.1H458.5V1452.8H458.8V1452H458.9V1451.5H458.9V1448.3H459.3V1447.7H459.5V1444H460.4V1442.2H460.8V1441H461.1V1439H461.6V1437.1H462.1V1435.8H462.4V1434.1H462.9V1433.1H463.1V1432.2H463.3V1430.7H463.7V1430.1H463.9V1427.8H464.4V1426.2H464.8V1425.4H465V1424.5H465.3V1423.5H465.5V1422.1H465.9V1421.6H466V1419.8H466.4V1419.1H466.6V1418.1H466.8V1416.4H467.3V1415.8H467.4V1409.3H469.7V1406.4H470.9V1405.8H471.1V1403.2H472.2V1402.4H472.5V1401.3H472.9V1400.8H473.1V1398.1H474.2V1396.9H474.7V1395.8H475.1V1394.3H475.7V1391.8H476.7V1391.3H477V1390.5H477.3V1388.9H478V1387.2H478.7V1386.2H479.1V1383.7H480.2V1381H481.4V1380.5H481.6V1379.3H482.1V1377.4H482.9V1376.4H483.3V1374H484.3V1372.6H485V1366.6H487.5V1366.2H487.7V1363.1H489V1360.8H490.1V1359.9H490.5V1357.5H491.7V1351.3H494.8V1348.9H496V1347.8H496.6V1344.6H498.2V1338.7H500.5V1337.6H501V1333.1H502.8V1330.3H503.9V1326.7H505.3V1323.7H506.6V1320.7H508V1319.6H508.5V1318.5H509.1V1317H509.8V1315.5H510.6V1314.3H511.2V1313.6H511.5V1312.1H512.3V1309.1H513.8V1308.2H514.2V1307.7H514.5V1307.3H514.7V1305.5H515.5V1303.8H516.1V1301.1H517V1300.2H517.3V1299.7H517.5V1296.9H518.4V1295.2H519V1294.4H519.2V1293.9H519.4V1291.5H520.2V1290.8H520.4V1289.7H520.8V1282.6H523.2V1280.1H524V1279.4H524.3V1276.8H525.8V1271.9H528.6V1268.5H530.6V1263.4H533.5V1262.9H533.7V1262.2H534.1V1261.7H534.4V1260.5H535.2V1259.8H535.5V1259.3H535.8V1258.2H536.5V1253.2H539.3V1249.9H541.2V1244.3H545.6V1243.2H546.5V1239.1H549.8V1237.7H550.9V1236H552.2V1231.9H555.5V1229.3H557.6V1228.1H558.5V1227.7H558.8V1227.3H559.1V1225.3H560.4V1224.1H561.3V1223H562V1215.1H567.2V1213.5H568.8V1211.6H570.7V1211H571.3V1209.1H573.2V1207.8H574.5V1206.8H575.5V1204.8H578V1204.4H578.6V1203.5H579.8V1202.2H581.5V1201.7H582.2V1200H584.4V1198.9H585.9V1197.6H587.6V1197H588.5V1196.4H589.2V1194.1H592.3V1193.6H593V1192.7H593.9V1191.9H594.7V1191.4H595.3V1189.5H597.2V1185.6H601V1179.4H607.2V1179H607.7V1178.3H608.3V1177.8H608.8V1176.8H609.8V1170.8H615.8V1169.2H617.5V1168.2H618.4V1166.8H619.9V1164.5H622.1V1164H622.6V1163.3H623.3V1162.4H624.3V1161.9H624.7V1161.5H625.2V1160H626.6V1158.8H627.8V1156.2H629.6V1155.2H630.2V1154.2H630.9V1153.4H631.4V1149.8H633.8V1148H635V1146.8H635.8V1145.6H636.5V1144.9H636.9V1140.4H639.2V1139.8H639.5V1135.8H641.5V1132H643.4V1131H643.8V1129H644.9V1128.3H645.2V1126.4H645.9V1124.2H646.7V1117.5H649.2V1116H649.8V1115.1H650.1V1114.6H650.3V1113.7H650.6V1111.6H651.4V1110.3H651.7V1108H652.2V1107.5H652.3V1104.1H653V1102.9H653.2V1100.8H653.6V1100.4H653.7V1099.8H653.8V1099.4H653.9V1095.2H654.7V1093.8H655V1092.7H655.2V1091.8H655.4V1088.9H655.9V1087.8H656V1086.6H656V1085.7H656.1V1083.7H656.3V1082.1H656.4V1081.6H656.4V1081H656.4V1078.2H656.6V1075.2H656.9V1071.7H657.1V1071.1H657.2V1065.8H657.5V1065.3H657.6V1060.5H657.9V1057H658V1055.5H658V1053.5H658.1V1051.2H658.1V1050.4H658.1V1048H658.1V1047.3H658.1V1046.7H658.2V1046H658.2V1039.6H658.2V1037.4H658.3V1033H658.3V1028.4H658.4V1025.9H658.4V1022.5H658.5V1021.2H658.5V1019.1H658.5V1016.3H658.6V1014.8H658.6V1014.2H658.6V1013.8H658.6V1012.5H658.6V1010.9H658.6V1007.1H658.7V1006.7H658.7V1003.7H658.7V999.4H658.8V998.1H658.8V995.1H658.8V991.1H658.8V987.9H658.8V985.8H658.8V979H658.8V978.4H658.8V975.5H658.8V974.7H658.8V973H658.8V972H658.8V970.3H658.8V968.3H658.8V967.7H658.8V967.2H658.8V964.9H658.8V964.3H658.8V963.7H658.8V961.9H658.8V957.9H658.8V956.9H658.8V955.7H658.8V954.9H658.8V952.4H658.8V949.4H658.8L658.8 949.4" fill="none" stroke="#3fab7b" stroke-width="3.4" stroke-linejoin="round"/>
<line x1="446" y1="1575.3" x2="453.5" y2="1575.3" stroke="#1a1a1a" stroke-width="1.6" />
<line x1="446" y1="1512.8" x2="453.5" y2="1512.8" stroke="#1a1a1a" stroke-width="1.6" />
<line x1="446" y1="1450.3" x2="453.5" y2="1450.3" stroke="#1a1a1a" stroke-width="1.6" />
<line x1="446" y1="1387.8" x2="453.5" y2="1387.8" stroke="#1a1a1a" stroke-width="1.6" />
<line x1="446" y1="1325.3" x2="453.5" y2="1325.3" stroke="#1a1a1a" stroke-width="1.6" />
<line x1="446" y1="1262.8" x2="453.5" y2="1262.8" stroke="#1a1a1a" stroke-width="1.6" />
<line x1="446" y1="1200.3" x2="453.5" y2="1200.3" stroke="#1a1a1a" stroke-width="1.6" />
<line x1="446" y1="1137.8" x2="453.5" y2="1137.8" stroke="#1a1a1a" stroke-width="1.6" />
<line x1="446" y1="1075.3" x2="453.5" y2="1075.3" stroke="#1a1a1a" stroke-width="1.6" />
<line x1="446" y1="1012.8" x2="453.5" y2="1012.8" stroke="#1a1a1a" stroke-width="1.6" />
<line x1="446" y1="950.3" x2="453.5" y2="950.3" stroke="#1a1a1a" stroke-width="1.6" />
<line x1="446" y1="1575.3" x2="446" y2="1568.3" stroke="#1a1a1a" stroke-width="1.6" />
<line x1="552.3" y1="1575.3" x2="552.3" y2="1568.3" stroke="#1a1a1a" stroke-width="1.6" />
<line x1="658.6" y1="1575.3" x2="658.6" y2="1568.3" stroke="#1a1a1a" stroke-width="1.6" />
<text x="446" y="1599.4" font-size="21" text-anchor="middle">0</text>
<text x="552.3" y="1599.4" font-size="21" text-anchor="middle">0.5</text>
<text x="658.6" y="1599.4" font-size="21" text-anchor="middle">1</text>
<text x="437.7" y="957.3" font-size="21" text-anchor="end">1</text>
<text x="437.7" y="1082.3" font-size="21" text-anchor="end">0.9</text>
<text x="437.7" y="1207.3" font-size="21" text-anchor="end">0.8</text>
<text x="437.7" y="1332.3" font-size="21" text-anchor="end">0.7</text>
<text x="437.7" y="1457.3" font-size="21" text-anchor="end">0.6</text>
<text x="437.7" y="1581.1" font-size="21" text-anchor="end">0.5</text>
<text x="389.7" y="1259.3" font-size="25.6" text-anchor="middle" transform="rotate(-90 389.7 1259.3)">Cumulative Distribution Function</text>
<text x="552.8" y="1630.7" font-size="20.6" text-anchor="middle">Posterior Probability</text>
<rect x="545.3" y="1448.9" width="18.7" height="7.4" fill="#000"/>
<text x="569.8" y="1461.9" font-size="25">PRE</text>
<rect x="545.3" y="1478.2" width="18.7" height="7.4" fill="#d8621e"/>
<text x="569.8" y="1490.6" font-size="25">E1&amp;2&amp;3</text>
<rect x="545.3" y="1507" width="18.7" height="7.4" fill="#3fab7b"/>
<text x="569.8" y="1519.6" font-size="25">E4&amp;5&amp;6</text>
<path d="M706.8 950.3V1575.3H920.8" stroke="#1a1a1a" stroke-width="1.7" fill="none"/>
<path d="M706.8 1576V1575.5H706.8V1574.5H706.8V1571.9H706.8V1569.8H706.8V1565.8H706.8V1562.7H706.9V1561.8H706.9V1559.7H706.9V1558.6H706.9V1555.4H706.9V1553.6H706.9V1544.5H707V1543.6H707V1538.1H707V1535.6H707V1528.4H707V1527.7H707V1526.4H707V1525H707.1V1522.1H707.1V1519.5H707.1V1517.7H707.1V1510.2H707.1V1505.4H707.2V1504.9H707.2V1503.5H707.2V1497.3H707.2V1495.6H707.2V1494.8H707.2V1494.1H707.2V1493.3H707.2V1491.5H707.2V1488.4H707.3V1487.3H707.3V1486.7H707.3V1486.1H707.3V1484.3H707.3V1483.6H707.3V1481.5H707.4V1480.8H707.4V1477.5H707.4V1470.3H707.5V1466.6H707.6V1463.9H707.6V1463H707.7V1459.3H707.7V1458.8H707.7V1456.2H707.8V1454.7H707.8V1454.2H707.8V1451.6H707.8V1448.5H707.9V1448.1H707.9V1444.3H707.9V1435.4H708.1V1432.7H708.1V1430.7H708.1V1429.9H708.1V1428.9H708.2V1427.9H708.2V1421.4H708.3V1419.9H708.3V1414.2H708.4V1411H708.4V1409.1H708.5V1408.7H708.5V1408H708.5V1404.1H708.6V1401.9H708.7V1399.7H708.9V1398.5H708.9V1394H709.2V1390.4H709.4V1389.4H709.5V1384.4H709.8V1381.5H709.9V1376.1H710.3V1374.3H710.4V1373.8H710.4V1372.8H710.5V1372.1H710.5V1371.7H710.5V1368.6H710.7V1368.2H710.7V1364.9H710.9V1364H711V1362.9H711.1V1356.1H711.6V1355.6H711.6V1354.5H711.7V1354H711.8V1352.4H711.9V1351H712V1350.3H712.1V1345.5H712.4V1342.6H712.7V1339.8H712.9V1338.2H713V1335.1H713.3V1334.5H713.3V1332.9H713.4V1331.1H713.6V1327.9H713.8V1320.8H714.4V1319.5H714.5V1318.4H714.7V1317.6H714.8V1315.5H715.1V1308.7H716.3V1303.7H717.2V1300.1H717.8V1299H718V1295.1H718.7V1293.4H718.9V1292.2H719.2V1286.1H720.2V1285.3H720.4V1279.3H721.5V1278.9H721.6V1276.7H722V1273.3H722.6V1272.1H722.8V1267.9H723.6V1263.3H724.5V1262.7H724.6V1261.9H724.7V1259.3H725.2V1257.7H725.6V1253.9H726.7V1252.5H727.1V1251.1H727.6V1250.3H727.8V1248.7H728.3V1247.4H728.7V1243.5H729.8V1230.7H734.3V1230.2H734.5V1229.7H734.7V1223.9H737V1222.7H737.5V1219.2H738.9V1216.5H739.9V1215.1H740.5V1213.7H741.1V1212.1H741.7V1208.4H743.2V1206.9H743.8V1205.8H744.2V1204.9H744.6V1200.7H746.3V1199.8H746.7V1196.2H748.1V1191H750.2V1188.9H751V1187.1H751.7V1186.4H752V1184.3H752.8V1183.7H753.1V1183.1H753.3V1182.4H753.6V1181.8H753.8V1180.4H754.4V1179.4H754.8V1179H755V1174.9H756.6V1171.9H757.8V1169.8H758.6V1167.9H759.4V1159.9H762.6V1159.1H762.9V1158.1H763.3V1155H764.6V1152.9H765.4V1151.8H765.8V1144.4H768.7V1141.2H769.9V1138.2H771V1130.6H775V1128.6H776.6V1127.7H777.4V1120.4H783.5V1119.5H784.3V1118H785.8V1116.6H787.3V1113.5H790.3V1112.6H791.3V1111.3H792.5V1106.9H796V1104.7H797.7V1101.4H800.4V1100.6H801V1099.9H801.8V1098.9H802.8V1096.7H804.9V1095.9H805.8V1094.9H806.7V1090.8H810.5V1089.8H811.1V1084.7H814.5V1084.2H814.9V1082.9H815.7V1080.7H817.2V1070.9H826.4V1068.4H829.7V1060.2H839.3V1057H842.5V1056.2H843.3V1055.4H844.1V1049.5H850V1046.8H852.7V1046H853.5V1045.4H854.1V1043.7H855.8V1041.6H857.9V1038.3H861.2V1031.2H868.3V1030.4H869.2V1029H870.9V1027.7H873.4V1026.5H875.8V1024.3H879.7V1022.7H881.9V1021.3H883.8V1020.3H885.2V1019.4H886.3V1017.9H888.7V1014.6H895.4V1010.3H901.3V1008.5H903.8V1006.8H905.7V1004.7H907.7V1003.9H908.5V1001.1H911.3V997.6H913.4V993.9H915.6V991.7H916.9V983H918.6V979.8H919V979.2H919.1V974.1H919.7V972.8H919.8V970.5H919.9V968H919.9V964.6H920V956.8H920.1V952.9H920.2V952.3H920.2V951.3H920.2V949.4H920.2L920.2 949.4" fill="none" stroke="#000" stroke-width="3.3" stroke-linejoin="round"/>
<path d="M706.8 1576V1574.7H706.8V1574.1H706.8V1570.7H706.8V1569.5H706.8V1568.9H706.8V1566.6H706.8V1565.6H706.8V1564.2H706.9V1562.4H706.9V1559.3H706.9V1555.9H706.9V1554.7H706.9V1553.3H706.9V1551.6H706.9V1550.9H706.9V1549.9H706.9V1549.3H706.9V1548.1H706.9V1547.7H706.9V1547.2H706.9V1546.6H706.9V1541.1H707V1536.9H707V1533.4H707V1533H707V1529.8H707V1526.5H707V1525H707.1V1524.2H707.1V1523.6H707.1V1518.6H707.1V1517H707.1V1516H707.1V1513H707.1V1511.9H707.1V1511.5H707.1V1510.4H707.1V1507.9H707.1V1505.9H707.1V1504.1H707.2V1503.4H707.2V1501.5H707.2V1500.5H707.2V1499.4H707.2V1498.9H707.2V1497.2H707.2V1496.5H707.2V1493.2H707.2V1492.5H707.2V1492H707.2V1489.4H707.3V1488.3H707.3V1487.3H707.3V1486.3H707.3V1484.6H707.4V1481.1H707.4V1480.4H707.4V1479.2H707.5V1476.9H707.5V1476H707.5V1471.4H707.6V1467.3H707.7V1465H707.8V1462.4H707.8V1461.8H707.8V1460.1H707.9V1459.1H707.9V1458.4H707.9V1457.7H707.9V1453.1H708V1446.6H708.1V1445.5H708.1V1443.8H708.2V1443.4H708.2V1439.9H708.3V1436.9H708.3V1435.2H708.4V1433.9H708.4V1429.8H708.5V1428.3H708.5V1425.1H708.6V1424.1H708.6V1418.9H708.7V1418.2H708.7V1417.3H708.7V1415H708.8V1413.8H708.8V1411.5H708.8V1410.6H708.8V1409H708.9V1408.6H708.9V1406.9H708.9V1406H708.9V1404.9H709V1403.6H709V1400.2H709.2V1399.6H709.3V1398.6H709.3V1397.1H709.4V1396.3H709.4V1394H709.6V1393.4H709.6V1391.2H709.7V1390.6H709.7V1388.8H709.8V1387.2H709.9V1384H710.1V1381.1H710.2V1379.3H710.3V1377.5H710.4V1376.7H710.5V1374.3H710.6V1373.8H710.6V1371.7H710.7V1371H710.8V1368.9H710.9V1368H710.9V1365.8H711.1V1364.8H711.1V1363.9H711.2V1361.6H711.3V1360.1H711.4V1356.5H711.6V1355.3H711.6V1352H711.8V1351.2H711.8V1349H712V1347.3H712V1345.5H712.1V1344H712.2V1337.6H712.7V1336.4H712.9V1333.5H713.2V1332.7H713.3V1332H713.3V1331.2H713.4V1325.9H714V1324.3H714.2V1322.4H714.4V1321.2H714.6V1316.4H715.1V1313.8H715.4V1313.3H715.4V1312.6H715.5V1311.9H715.6V1307.1H716.1V1306.1H716.2V1304.7H716.4V1302.8H716.6V1302.1H716.7V1296.7H717.6V1294.3H718.1V1293.7H718.2V1293H718.3V1287.6H719.3V1286.3H719.6V1282.2H720.4V1280.6H720.7V1278.7H721V1275.8H721.6V1275.3H721.7V1274.6H721.8V1273.2H722.1V1271.9H722.3V1270.4H722.6V1269H722.8V1265.2H723.8V1264.7H724V1263.3H724.5V1262.8H724.6V1262.4H724.8V1261.6H725V1260.7H725.3V1259.4H725.8V1258.9H725.9V1257.8H726.3V1256.3H726.8V1255.5H727V1254.7H727.3V1254.3H727.4V1252.6H728V1251.6H728.4V1249.4H729.1V1247.2H729.8V1246.8H730V1246.3H730.1V1245.8H730.3V1245.3H730.5V1244.2H730.8V1242.9H731.2V1237.9H733.5V1237H733.9V1233.3H735.7V1228.3H738.2V1227.2H738.8V1226.7H739.1V1225.7H739.5V1221.5H741.7V1218.7H743.1V1217.2H743.8V1216.3H744.3V1215.9H744.5V1210.3H747.3V1208.9H748V1208.4H748.2V1207.9H748.5V1206.6H749.1V1205.7H749.7V1204.4H750.5V1200.8H752.9V1199.9H753.5V1198.6H754.4V1197.8H755V1195.9H756.2V1195H756.8V1193.7H757.7V1193.3H758V1192.4H758.6V1190.7H759.7V1189.8H760.3V1189.3H760.6V1187.6H761.7V1186H762.8V1185.4H763.2V1182.6H765.1V1180.7H766.3V1179.7H767V1177.1H768.7V1174.9H770.2V1174.3H770.6V1173.9H770.9V1173.3H771.3V1172.4H771.9V1170.5H773.1V1169.3H774V1168.6H774.4V1168H774.8V1166.6H775.9V1166.1H776.3V1165.7H776.7V1160.4H780.8V1160H781.2V1159.3H781.8V1157.8H782.9V1157.1H783.5V1155.4H785.1V1153H787.6V1151.7H788.8V1151.1H789.4V1150.5H790V1149.9H790.6V1149H791.5V1148.6H792V1146.4H794.1V1144.3H796.3V1143.6H797V1141.3H799.3V1140H800.6V1135.8H804.8V1134.4H806.1V1131.4H809.2V1130.9H809.7V1128.6H812.8V1127.2H814.6V1125.2H817.2V1122.3H821.1V1117H828.9V1116.2H830.5V1115.1H832.7V1113.5H835.6V1112.7H836.3V1111.9H837V1110.9H837.7V1110.3H838.2V1109.6H838.8V1108.8H839.4V1106.9H840.9V1106.4H841.3V1105.6H842V1104.1H843.2V1102.8H844.3V1102H845.4V1100.6H847.2V1100H848V1099.5H848.6V1097.4H851.4V1094.8H854.9V1094H855.9V1092.3H858.2V1091.7H859V1091H860V1089.6H861.8V1087.4H864.7V1086.9H865.4V1082.3H871.6V1079.7H875V1076.5H879.4V1075.3H881V1072.9H884.1V1071.3H886.2V1070.9H886.8V1069.6H888.5V1068.8H889.5V1067.4H891.5V1062.9H897.1V1062.3H897.7V1058.4H901.6V1057.7H902.3V1054.9H905V1050.2H907.7V1048.7H908.7V1046.9H909.7V1045.9H910.3V1044.7H911.1V1042.3H911.9V1041H912.3V1039H913V1036.6H913.8V1034.7H914.4V1033.3H914.9V1031.3H915.5V1030.8H915.6V1028.4H916V1027.8H916.1V1026.8H916.2V1026.2H916.3V1025.6H916.4V1023.5H916.7V1022.5H916.9V1021.9H917V1019.9H917.3V1016.3H917.9V1014H918.2V1013.2H918.3V1012.6H918.4V1010.5H918.6V1007.3H918.7V1006.4H918.8V1005.8H918.8V1004.7H918.8V1002.5H918.9V1002H918.9V1000.1H919V999H919.1V997.9H919.1V993.4H919.3V991.1H919.4V988.2H919.5V987.1H919.6V985.9H919.6V985.5H919.7V984.7H919.7V983.5H919.7V982.2H919.8V981.2H919.8V976.9H919.9V975H919.9V972.5H919.9V970.1H920V968.7H920V967.4H920V964.9H920V963H920.1V962.3H920.1V961.4H920.1V959.3H920.1V958.9H920.1V956H920.2V955.2H920.2V954.4H920.2V952.4H920.2V949.9H920.2L920.2 949.4" fill="none" stroke="#d8621e" stroke-width="3.4" stroke-linejoin="round"/>
<path d="M706.8 1576V1573H706.8V1571.6H706.8V1570.3H706.8V1569.7H706.8V1567.3H706.8V1565.7H706.8V1565H706.8V1563.2H706.9V1558.5H706.9V1556.4H706.9V1553.4H706.9V1552.2H706.9V1550H706.9V1546.2H706.9V1545.3H706.9V1544.1H707V1542.9H707V1542H707V1540.3H707V1539.5H707V1538.8H707V1538.3H707V1537.7H707V1536.9H707V1533.8H707V1531.1H707V1530.5H707V1528.7H707V1527.2H707V1526.6H707V1521.5H707.1V1519.4H707.1V1516H707.1V1512.6H707.1V1509.7H707.1V1508H707.1V1506.6H707.1V1502.8H707.2V1501.7H707.2V1500.3H707.2V1498H707.2V1497.4H707.2V1495.5H707.2V1490.5H707.2V1489.4H707.3V1488.9H707.3V1488H707.3V1484.6H707.4V1483.9H707.4V1481.4H707.4V1480.9H707.4V1478.4H707.5V1476.2H707.5V1475.4H707.5V1473.3H707.6V1472.1H707.6V1471.7H707.6V1470.5H707.6V1469.1H707.7V1468.1H707.7V1467.6H707.7V1467.1H707.7V1466.3H707.7V1464.6H707.8V1462.6H707.8V1462.2H707.8V1460.7H707.8V1460.1H707.9V1459.3H707.9V1457.6H707.9V1454.5H708V1454.1H708V1452.7H708V1452.3H708V1451.3H708V1450.4H708V1449.8H708.1V1446.9H708.1V1445.4H708.1V1444.5H708.2V1442.4H708.2V1439.6H708.3V1437.4H708.3V1436.3H708.3V1435.9H708.3V1434.4H708.4V1430.5H708.4V1429.9H708.5V1428.9H708.5V1428.2H708.5V1427.6H708.5V1425.8H708.5V1424H708.6V1422.3H708.6V1421.8H708.6V1421.3H708.6V1420.8H708.6V1420.3H708.7V1418.1H708.7V1415.9H708.7V1415.4H708.7V1414.3H708.8V1413.3H708.8V1412.6H708.8V1409.2H708.9V1408.8H708.9V1407.3H708.9V1406.8H708.9V1405.6H708.9V1403.3H709.1V1402.6H709.1V1401.3H709.2V1398.9H709.3V1397.2H709.4V1396.6H709.4V1395.8H709.5V1395.3H709.5V1393.2H709.6V1392.6H709.6V1389.2H709.8V1388.6H709.8V1386.7H709.9V1386.1H710V1382.7H710.2V1381.7H710.2V1380.5H710.3V1379H710.4V1378.3H710.4V1377H710.5V1374.9H710.6V1374H710.6V1373.3H710.7V1371.9H710.7V1371.1H710.8V1369.9H710.8V1367.9H710.9V1361.7H711.3V1359H711.4V1357.9H711.5V1356.2H711.6V1354.8H711.6V1354.3H711.7V1350.7H711.9V1346H712.1V1344H712.2V1341.6H712.3V1339.9H712.5V1338.6H712.6V1337.9H712.7V1329.7H713.6V1328.3H713.8V1326.9H713.9V1325.6H714.1V1323.7H714.3V1323.2H714.3V1320.4H714.6V1317.4H715V1316.7H715.1V1315.1H715.2V1313.3H715.4V1312.9H715.5V1312.3H715.5V1311.9H715.6V1310H715.8V1309.1H715.9V1306.2H716.2V1302.2H716.7V1301.7H716.7V1300.1H717V1295H718V1293.3H718.3V1292.9H718.4V1291.9H718.5V1291.3H718.7V1290.1H718.9V1288.1H719.3V1285.6H719.7V1283.2H720.2V1282.5H720.3V1282H720.4V1280.6H720.7V1279H721V1275.5H721.6V1271.8H722.3V1269.9H722.7V1269.4H722.8V1268H723V1267.4H723.1V1265H723.9V1263.5H724.4V1262H724.9V1260.6H725.3V1260.1H725.5V1259.1H725.9V1257.7H726.3V1257H726.6V1254.7H727.3V1253.2H727.8V1251.8H728.3V1250H728.9V1248.6H729.3V1247.2H729.8V1246.1H730.2V1242.9H731.2V1242.4H731.4V1241.7H731.7V1240H732.3V1239.1H732.6V1238.6H732.9V1235.2H734.2V1234.7H734.4V1234.1H734.6V1233.6H734.9V1232.7H735.2V1229.7H736.4V1227.7H737.2V1226.5H737.7V1223.7H738.8V1223.1H739V1219.9H740.3V1218.3H741.1V1217.8H741.4V1214.3H743.1V1213.1H743.7V1212.1H744.2V1210.2H745.2V1209.3H745.6V1208.8H745.8V1207.5H746.5V1206.4H747V1205.5H747.5V1202.8H748.8V1200H750.6V1199.1H751.2V1197.8H752.1V1197.4H752.4V1196.2H753.1V1192.8H755.4V1190.9H756.7V1189.7H757.5V1188.8H758.1V1188.4H758.4V1187.9H758.7V1183.7H761.5V1180H764V1177.1H765.9V1175.8H766.8V1174.5H767.6V1173.8H768.1V1171.2H769.8V1170H770.6V1169H771.3V1168H772V1167.4H772.4V1166.5H772.9V1160.4H777.4V1158.2H779.1V1157.2H780V1154.8H781.9V1153.1H783.3V1151.5H784.8V1150.6H785.6V1150.2H786V1149.7H786.6V1149.3H787V1148.3H787.9V1147H789.2V1146.4H789.8V1143.7H792.5V1142.1H794.1V1140.5H795.7V1137H799.2V1136.1H800.2V1134H802.6V1133.1H803.8V1132.4H804.7V1131.9H805.4V1130.1H807.8V1128.4H810.1V1127.2H811.7V1121.4H819.5V1120.3H820.9V1117.8H824.3V1111H833.3V1110.5H833.9V1109.4H835.5V1107.3H837.2V1106H838.2V1105H839V1103.9H839.9V1103.2H840.4V1101.7H841.6V1099.5H843.4V1099H843.8V1098H844.9V1097.5H845.5V1096.8H846.4V1096.1H847.4V1095.1H848.7V1094.5H849.5V1092.1H852.8V1089.8H855.8V1088.4H857.7V1086.4H860.3V1084.4H863.1V1083.9H863.7V1079.3H869.8V1078.4H871V1076.4H873.7V1074.2H876.6V1073.7H877.3V1072.8H878.4V1071.7H879.9V1070.1H882V1068.3H884.5V1066.7H886.7V1063.9H889.6V1061.6H891.9V1060.2H893.3V1059.5H894V1058.3H895.3V1057H896.5V1056.5H897V1055.5H898V1054.7H898.8V1054.3H899.3V1051.3H902.2V1049.4H904.1V1046.3H906.2V1044H907.6V1043.5H907.9V1038.5H910.9V1036H911.8V1032.7H913V1027.6H914.7V1026.9H914.9V1024H915.7V1023.6H915.8V1021.5H916.1V1020.9H916.2V1019.1H916.5V1017.5H916.8V1016.8H916.9V1016.2H917V1014.9H917.3V1013.5H917.5V1009.6H918.2V1007.9H918.5V1006.9H918.6V1005.8H918.6V1001.4H918.8V999.6H918.9V999H919V997.9H919V997.3H919V995.2H919.1V993.7H919.2V993.1H919.2V990.1H919.4V987.1H919.5V981.5H919.8V978.2H919.9V975.8H919.9V974.6H919.9V974.1H919.9V973.2H919.9V971.9H919.9V970.5H920V967.4H920V966.8H920V966.2H920V964.8H920V964.1H920.1V959.5H920.1V958.3H920.1V956.4H920.2V950.7H920.2V950.2H920.2V949.6H920.2L920.2 949.4" fill="none" stroke="#3fab7b" stroke-width="3.4" stroke-linejoin="round"/>
<line x1="706.8" y1="1575.3" x2="714.3" y2="1575.3" stroke="#1a1a1a" stroke-width="1.6" />
<line x1="706.8" y1="1512.8" x2="714.3" y2="1512.8" stroke="#1a1a1a" stroke-width="1.6" />
<line x1="706.8" y1="1450.3" x2="714.3" y2="1450.3" stroke="#1a1a1a" stroke-width="1.6" />
<line x1="706.8" y1="1387.8" x2="714.3" y2="1387.8" stroke="#1a1a1a" stroke-width="1.6" />
<line x1="706.8" y1="1325.3" x2="714.3" y2="1325.3" stroke="#1a1a1a" stroke-width="1.6" />
<line x1="706.8" y1="1262.8" x2="714.3" y2="1262.8" stroke="#1a1a1a" stroke-width="1.6" />
<line x1="706.8" y1="1200.3" x2="714.3" y2="1200.3" stroke="#1a1a1a" stroke-width="1.6" />
<line x1="706.8" y1="1137.8" x2="714.3" y2="1137.8" stroke="#1a1a1a" stroke-width="1.6" />
<line x1="706.8" y1="1075.3" x2="714.3" y2="1075.3" stroke="#1a1a1a" stroke-width="1.6" />
<line x1="706.8" y1="1012.8" x2="714.3" y2="1012.8" stroke="#1a1a1a" stroke-width="1.6" />
<line x1="706.8" y1="950.3" x2="714.3" y2="950.3" stroke="#1a1a1a" stroke-width="1.6" />
<line x1="706.8" y1="1575.3" x2="706.8" y2="1568.3" stroke="#1a1a1a" stroke-width="1.6" />
<line x1="813.3" y1="1575.3" x2="813.3" y2="1568.3" stroke="#1a1a1a" stroke-width="1.6" />
<line x1="919.8" y1="1575.3" x2="919.8" y2="1568.3" stroke="#1a1a1a" stroke-width="1.6" />
<text x="706.8" y="1599.4" font-size="21" text-anchor="middle">0</text>
<text x="813.3" y="1599.4" font-size="21" text-anchor="middle">0.5</text>
<text x="919.8" y="1599.4" font-size="21" text-anchor="middle">1</text>
<text x="813.8" y="1630.7" font-size="20.6" text-anchor="middle">Posterior Probability</text>
<rect x="803.1" y="1448.9" width="18.7" height="7.4" fill="#000"/>
<text x="827" y="1461.9" font-size="25">PRE</text>
<rect x="803.1" y="1478.2" width="18.7" height="7.4" fill="#d8621e"/>
<text x="827" y="1490.6" font-size="25">E1&amp;2&amp;3</text>
<rect x="803.1" y="1507" width="18.7" height="7.4" fill="#3fab7b"/>
<text x="827" y="1519.6" font-size="25">E4&amp;5&amp;6</text>
<path d="M969.4 950.3V1575.3H1183" stroke="#1a1a1a" stroke-width="1.7" fill="none"/>
<path d="M969.4 1576V1569.8H969.4V1568.7H969.5V1568H969.5V1565.8H969.5V1562.7H969.5V1561.2H969.5V1558.7H969.6V1555.9H969.6V1553.9H969.6V1552.9H969.6V1552.1H969.6V1548H969.7V1546.2H969.7V1542.8H969.7V1539.4H969.8V1538.3H969.8V1534.1H969.8V1532H969.8V1530.8H969.8V1530.2H969.9V1529.7H969.9V1528.8H969.9V1528.4H969.9V1526.6H969.9V1526H969.9V1525.4H969.9V1521.7H969.9V1521.2H969.9V1518.5H970V1517.8H970V1516H970V1515.3H970V1512.8H970V1512.1H970V1510.8H970.1V1510.3H970.1V1507H970.1V1503.9H970.1V1502.5H970.1V1500.8H970.2V1498.7H970.2V1495.7H970.2V1492.6H970.2V1489.8H970.3V1486.1H970.4V1484.9H970.4V1483.9H970.4V1482.2H970.5V1479H970.6V1477.5H970.6V1477H970.6V1474.2H970.7V1470.7H970.8V1467.3H970.9V1465.6H970.9V1465.2H970.9V1460.8H971V1459.4H971.1V1458.2H971.1V1455.6H971.1V1455H971.2V1451H971.3V1444.4H971.4V1438.2H971.6V1433.8H971.7V1428.1H971.8V1423.9H971.9V1422.1H972V1420.3H972V1418.5H972.1V1416.5H972.1V1416H972.1V1414.7H972.2V1413.3H972.2V1411.5H972.3V1410.4H972.3V1408H972.3V1405.7H972.4V1393.1H973.3V1391.1H973.4V1384.3H973.9V1378.1H974.3V1375.9H974.5V1371.6H974.8V1369.4H974.9V1367.4H975.1V1365.5H975.2V1363.4H975.3V1356.2H976V1355.6H976.1V1353.4H976.3V1351.6H976.5V1346.8H977V1343.5H977.3V1341.3H977.5V1340.4H977.6V1339.4H977.7V1338.9H977.7V1337.9H977.8V1335.9H978V1335.1H978.1V1332.4H978.4V1331.5H978.5V1328.8H978.8V1325.6H979.2V1322.5H979.7V1319.4H980.2V1318.2H980.4V1314.9H981V1313.4H981.2V1312.5H981.4V1308.9H982V1302.7H983V1291.9H985.6V1286.7H986.9V1283.4H987.8V1281H988.4V1278.6H989V1277.2H989.3V1273.2H990.4V1272.8H990.6V1271.4H991V1268.4H991.9V1263.2H993.4V1260.9H994.1V1257.7H995.1V1255.2H995.8V1254.5H996.1V1248.8H997.8V1246.8H998.4V1239H1000.7V1235.8H1001.7V1233.8H1002.3V1230.5H1003.4V1229.1H1003.9V1228.5H1004.1V1226H1005.1V1223.6H1006V1223.1H1006.2V1219.2H1007.6V1218.2H1008V1217H1008.4V1214.9H1009.3V1214.3H1009.5V1207.8H1011.9V1206.3H1012.5V1201.1H1014.4V1200.7H1014.6V1198H1015.6V1196.9H1015.9V1196.1H1016.2V1194.8H1016.5V1192.6H1017.2V1188.4H1018.5V1179.5H1021.1V1178.9H1021.3V1173.6H1023.1V1167.6H1025.4V1166.1H1025.9V1165.2H1026.2V1164.2H1026.6V1163.2H1027V1162.5H1027.3V1161H1027.8V1160.3H1028.1V1158.3H1029V1149.9H1034V1145.8H1037V1142.5H1039.6V1140.9H1040.9V1136.6H1044.2V1134.4H1045.7V1132.2H1047.2V1130.7H1048.2V1128.2H1049.9V1127.5H1050.3V1120.9H1055.9V1119.5H1057.3V1118.1H1058.7V1112H1068.5V1103.4H1077.7V1102H1079.4V1100.6H1081.2V1097.5H1085.3V1093.9H1088.2V1091.9H1089.1V1090.8H1089.7V1089.4H1090.4V1089H1090.6V1083.4H1099.8V1082.2H1101.5V1079.9H1104.5V1077.9H1107.2V1074.7H1110.8V1074H1111.5V1073H1112.5V1070.2H1115.2V1069.4H1116.1V1068.7H1116.8V1063.8H1121.6V1062.9H1122.5V1061.5H1123.9V1058.5H1126.9V1057.3H1128.1V1055.5H1130V1054.3H1131.1V1052.7H1132.8V1051.4H1134.1V1050.6H1134.7V1048.5H1136.4V1046.5H1138V1043.3H1140.6V1041.8H1141.8V1039.5H1143.8V1035.5H1147.7V1031.8H1151.5V1029.8H1153.1V1023.4H1158.3V1022.3H1159.1V1021.1H1160.1V1019.2H1161.6V1018.7H1162V1018.2H1162.4V1017.3H1163.1V1012.2H1167.2V1008.3H1170V1006.9H1170.8V1004.1H1172.5V1000.8H1174.5V998.8H1175.6V996.3H1176.1V995.8H1176.2V994.7H1176.4V990.7H1177.2V988.5H1177.6V982.2H1178.9V980.3H1179.1V978.4H1179.3V976.9H1179.4V976.4H1179.5V972.7H1179.9V971H1180V964.7H1180.4V962.1H1180.5V961.6H1180.6V958.7H1180.7V957.7H1180.7V954.9H1180.9V953.1H1180.9V952.1H1181V949.4H1181.1L1181.1 949.4" fill="none" stroke="#000" stroke-width="3.3" stroke-linejoin="round"/>
<path d="M969.4 1576V1572.7H969.4V1566.7H969.5V1566H969.5V1562.1H969.5V1561.6H969.5V1560.9H969.5V1560.2H969.5V1559.6H969.6V1559H969.6V1557.6H969.6V1554.4H969.6V1553.6H969.6V1552.6H969.6V1551.1H969.6V1549.6H969.7V1545.9H969.7V1544.5H969.7V1543.1H969.7V1540.8H969.7V1538.7H969.8V1538H969.8V1534.2H969.8V1533.5H969.8V1532.1H969.8V1531.3H969.8V1530.1H969.9V1528H969.9V1523.7H969.9V1522.7H969.9V1522.3H969.9V1519.3H970V1518.8H970V1517.7H970V1515.6H970V1511.8H970V1510.9H970.1V1509.2H970.1V1504.3H970.1V1502.8H970.1V1501.9H970.1V1500.5H970.2V1499.9H970.2V1498.9H970.2V1497H970.2V1494.8H970.2V1494.3H970.2V1491.6H970.2V1490.6H970.3V1489.7H970.3V1488.5H970.3V1486.8H970.3V1485.6H970.3V1484.8H970.4V1484.2H970.4V1479H970.4V1478.3H970.4V1477H970.5V1475H970.5V1473.2H970.5V1472.7H970.5V1471.1H970.6V1470.2H970.6V1468.5H970.6V1464.3H970.7V1461.9H970.7V1460.6H970.7V1459.5H970.7V1458.4H970.7V1455.9H970.8V1455.2H970.8V1454.2H970.8V1453H970.8V1452.3H970.8V1450.2H970.9V1448H970.9V1445.9H970.9V1445.3H970.9V1443.9H971V1440.9H971V1438.3H971V1434.6H971.1V1433.3H971.1V1431.6H971.1V1431.1H971.2V1430.2H971.2V1429.5H971.2V1427.2H971.2V1424.8H971.3V1421.6H971.3V1420.7H971.3V1420.1H971.3V1419.6H971.3V1416.2H971.4V1415.7H971.4V1412.3H971.4V1411.7H971.4V1410.7H971.5V1406.8H971.5V1403.6H971.6V1403.1H971.6V1402.4H971.6V1397.2H971.8V1396.6H971.8V1396.1H971.8V1395H971.9V1391.5H972V1390.3H972V1389.9H972.1V1389.1H972.1V1387.9H972.1V1386.9H972.2V1384H972.3V1381.5H972.3V1380.5H972.4V1378H972.5V1377.4H972.5V1376.8H972.5V1376.3H972.5V1375.2H972.5V1373.7H972.6V1372H972.7V1369.8H972.7V1369.4H972.7V1368H972.8V1366.9H972.8V1366H972.9V1365.3H972.9V1363.5H972.9V1361.3H973V1359.6H973.1V1357.4H973.1V1356.1H973.2V1355.6H973.2V1354.9H973.2V1348.7H973.4V1345.4H973.5V1343.3H973.6V1342H973.7V1341H973.7V1339.3H973.8V1334.8H974.1V1334.3H974.1V1333.7H974.1V1333.3H974.2V1331.7H974.3V1331.2H974.3V1329.9H974.4V1329.2H974.4V1328.6H974.5V1327.7H974.5V1326.9H974.6V1321.2H974.9V1320.1H975V1319.1H975.1V1318.3H975.1V1317.5H975.2V1314.9H975.3V1313.7H975.4V1311.3H975.6V1310.4H975.6V1309.5H975.7V1308.8H975.7V1307.1H975.8V1306.6H975.9V1305.1H976V1303H976.1V1300.4H976.3V1297.9H976.4V1294H976.7V1291.2H976.9V1290.8H977V1288.9H977.2V1287.9H977.4V1286.6H977.5V1285.6H977.6V1284.6H977.8V1282.8H978V1282H978.1V1278.4H978.5V1277.9H978.6V1277.4H978.7V1276.5H978.8V1272.7H979.3V1268.8H979.7V1266.5H980V1265.7H980.1V1264.3H980.3V1261.9H980.6V1261.5H980.7V1259.7H980.9V1259H981V1256.9H981.4V1254.6H982V1253.2H982.4V1252.7H982.5V1252.2H982.6V1251.1H982.9V1250H983.1V1249.4H983.3V1248.1H983.6V1246.6H984V1244.4H984.5V1243.3H984.8V1242.8H985V1240.6H985.5V1237.5H986.3V1235.3H986.8V1232.5H987.5V1231.9H987.7V1229.6H988.6V1226.8H989.7V1226.3H989.8V1225.6H990.1V1225H990.3V1222.8H991.2V1221.4H991.7V1220.1H992.2V1217.1H993.3V1214.1H994.4V1213.1H994.8V1212.2H995.1V1207.5H996.9V1200.7H999.5V1200H999.7V1199.1H1000V1195.8H1001.9V1194.1H1003.1V1190.5H1005.4V1188.3H1006.9V1184.7H1009.3V1183.5H1009.8V1183.1H1010.1V1181.5H1010.9V1179.2H1012V1178.1H1012.6V1176H1013.6V1174.2H1014.5V1172.7H1015.3V1171.3H1015.9V1170.4H1016.4V1168.7H1017.3V1167.9H1017.7V1167.1H1018.1V1164.3H1020V1162.8H1021V1160.9H1022.2V1159.6H1023.2V1159H1023.5V1158.1H1024.2V1156.5H1025.2V1155.6H1025.8V1154.6H1026.5V1154.1H1026.9V1153.7H1027.2V1152.6H1028.1V1151.6H1028.9V1148.9H1031V1148.1H1031.7V1147.1H1032.5V1141.9H1036.7V1140.5H1037.8V1138.4H1039.5V1136.6H1040.9V1135.2H1042V1134.6H1042.5V1134.1H1042.9V1133.4H1043.4V1131.2H1045.6V1130.8H1046V1128.3H1048.5V1126.5H1050.3V1125.1H1051.7V1121.8H1055V1120.7H1056.1V1118.9H1057.9V1118.4H1058.3V1118H1058.8V1117.1H1059.7V1116.7H1060.1V1114.6H1062.2V1112H1064.8V1111.4H1065.4V1109.9H1066.9V1109.2H1067.6V1108.6H1068.1V1108H1068.8V1105.6H1071.7V1103.9H1073.9V1098.1H1081.7V1096.6H1083.6V1095.6H1085V1091.2H1092.9V1089.3H1096.7V1087.3H1100.8V1085.6H1104V1085.1H1104.9V1084.3H1105.9V1081.2H1110V1080.2H1111.3V1075.7H1117.3V1073.1H1120.7V1072.4H1121.8V1069.4H1125.7V1068.9H1126.4V1064.9H1131.8V1061.5H1136.3V1060.7H1137.4V1059H1139.6V1057.3H1141.9V1052.8H1147.9V1051.8H1149.2V1050.4H1151V1050H1151.6V1048.9H1153.1V1046.6H1156.1V1044.8H1158.6V1043.1H1160.9V1040.6H1164.1V1037.6H1166.7V1035.6H1168.4V1033.9H1169.7V1032.8H1170.6V1031.8H1171.4V1031.3H1171.8V1029.4H1173.3V1028.2H1173.7V1026.7H1174.2V1026.1H1174.4V1024.3H1175V1023.4H1175.3V1021.6H1175.9V1020.9H1176.2V1020H1176.4V1018.5H1177V1016.8H1177.5V1015H1177.8V1012.4H1178.1V1011.9H1178.2V1010.9H1178.3V1010H1178.4V1007.8H1178.7V1006.2H1178.9V1002.1H1179.4V1000.3H1179.6V999.3H1179.7V995.8H1180.1V993.5H1180.3V992.3H1180.3V990.4H1180.3V989H1180.4V986.5H1180.4V986H1180.4V983.5H1180.5V982.4H1180.5V981.8H1180.5V980.9H1180.5V979.1H1180.5V977.3H1180.6V973.5H1180.7V971.8H1180.7V969.3H1180.7V966.1H1180.8V964.6H1180.8V961H1180.9V960H1180.9V958.6H1180.9V958.1H1180.9V955H1181V954.6H1181V951.3H1181.1V949.4H1181.1L1181.1 949.4" fill="none" stroke="#d8621e" stroke-width="3.4" stroke-linejoin="round"/>
<path d="M969.4 1576V1574.9H969.4V1573.2H969.4V1570.3H969.4V1568.4H969.5V1565.9H969.5V1564.9H969.5V1563.7H969.5V1561.6H969.5V1559.7H969.5V1558.6H969.6V1557.5H969.6V1556.5H969.6V1555.6H969.6V1551.9H969.6V1548.9H969.7V1548H969.7V1547.5H969.7V1545.4H969.7V1544.8H969.7V1544.1H969.7V1542.4H969.7V1541.8H969.7V1540.9H969.7V1539.5H969.8V1535.8H969.8V1534.1H969.8V1532.7H969.8V1531.8H969.8V1531.3H969.8V1529.7H969.9V1525.6H969.9V1522.1H969.9V1518.6H970V1518H970V1514.9H970V1513.9H970V1510.8H970.1V1508.4H970.1V1507.5H970.1V1502.9H970.1V1501.2H970.1V1494.6H970.2V1490.6H970.3V1489.6H970.3V1487.6H970.3V1487.1H970.3V1485.9H970.3V1485.5H970.3V1484.1H970.4V1483.4H970.4V1482.5H970.4V1481.5H970.4V1476.7H970.5V1476.2H970.5V1470.5H970.6V1469.9H970.6V1468.5H970.6V1467.8H970.6V1465.6H970.6V1463.8H970.7V1463.3H970.7V1462.1H970.7V1457.5H970.8V1456.6H970.8V1456.2H970.8V1453.4H970.8V1452.8H970.8V1452.3H970.8V1450H970.9V1448.6H970.9V1447.7H970.9V1439H971V1436.9H971.1V1434H971.1V1433.5H971.1V1432.9H971.1V1432.5H971.1V1431.2H971.2V1430.7H971.2V1429.2H971.2V1427.1H971.2V1426.5H971.2V1421.3H971.3V1419.7H971.3V1419.2H971.3V1418.1H971.4V1416.1H971.4V1413.7H971.4V1411.9H971.4V1405.5H971.5V1404.9H971.6V1403.9H971.6V1403H971.6V1402.6H971.6V1402.1H971.7V1401H971.7V1399.4H971.7V1395.9H971.9V1394.5H971.9V1390.2H972V1385.9H972.2V1382.5H972.3V1381.4H972.3V1378H972.5V1376.5H972.5V1374.9H972.6V1370.3H972.7V1369.5H972.7V1369.1H972.8V1367.5H972.8V1360.9H973V1359.2H973.1V1357.6H973.1V1355.5H973.2V1350.9H973.4V1348.8H973.4V1347.4H973.5V1346.9H973.5V1345.4H973.5V1344.2H973.6V1342.9H973.6V1342.3H973.6V1341.3H973.7V1339.1H973.8V1336.8H974V1330.9H974.5V1329H974.6V1328.5H974.6V1325.8H974.8V1324.8H974.9V1321.8H975.2V1319.6H975.3V1317.9H975.5V1315.7H975.6V1315.2H975.7V1314.7H975.7V1313.8H975.8V1313.1H975.8V1310.1H976.1V1307.1H976.3V1305.3H976.4V1302.5H976.7V1302H976.7V1300.3H976.9V1299.2H977V1297.5H977.2V1296H977.4V1295.6H977.5V1288.3H978.4V1287.9H978.4V1286.6H978.6V1285.4H978.8V1282.6H979.1V1280.2H979.4V1276.1H979.9V1275.2H980V1274.6H980.1V1273.8H980.2V1269.8H980.7V1269.4H980.7V1268.9H980.8V1267.6H981V1267.2H981V1261.4H982.5V1259.4H982.9V1256.6H983.6V1253.4H984.4V1252.4H984.7V1251.2H985V1250H985.3V1249.4H985.5V1245.6H986.4V1245H986.6V1244.1H986.8V1243.5H986.9V1241.1H987.5V1240.5H987.7V1240H987.9V1238.3H988.6V1236.4H989.3V1234.9H989.9V1231.1H991.3V1229.7H991.8V1228H992.4V1223.6H994.1V1222.4H994.7V1221H995.4V1218.6H996.6V1217.1H997.4V1216.4H997.7V1215.3H998.3V1214.2H998.8V1213.6H999.1V1212.3H999.8V1210.8H1000.5V1209.5H1001.2V1208.9H1001.5V1207.4H1002.2V1205.4H1003.2V1204.8H1003.5V1203.9H1004V1203.3H1004.2V1202.5H1004.7V1199H1006.4V1198.4H1006.7V1197.9H1007V1196.7H1007.6V1194.7H1008.6V1191.3H1010.3V1190.2H1010.8V1185.8H1013.6V1184.7H1014.3V1183.1H1015.4V1182.4H1015.9V1180.5H1017.2V1179.4H1017.9V1175.1H1020.9V1172.8H1022.7V1172.4H1023.1V1168.6H1026.1V1167.6H1026.9V1164.1H1029.9V1160.9H1033.1V1159H1035.1V1158.1H1035.8V1156.7H1036.9V1154.2H1038.9V1153H1039.8V1151.4H1041.1V1150.6H1041.8V1150.1H1042.2V1149.5H1042.7V1149H1043.1V1144.1H1047V1142.1H1048.6V1139.2H1050.9V1135.3H1055.2V1131.3H1060.4V1130.8H1061.1V1129.3H1063.2V1128.8H1063.8V1127.5H1065.6V1126.6H1066.8V1126H1067.5V1123.7H1070.6V1121.3H1073.8V1120.7H1074.6V1117.8H1078.4V1116.8H1079.2V1116.3H1079.6V1114H1081.4V1113.5H1081.8V1112.8H1082.4V1107.7H1086.4V1106.2H1087.8V1104.8H1089.3V1104.3H1089.8V1103.8H1090.3V1102.2H1091.9V1101.2H1092.8V1096.7H1098V1094.7H1100.7V1090.5H1106.3V1088.9H1108.4V1088.1H1109.4V1087.1H1110.8V1086.5H1111.5V1084.3H1114.5V1079.4H1121V1077.1H1124.2V1075.9H1125.8V1074.8H1127.2V1073.1H1129.4V1071.3H1131.8V1070.3H1133.1V1069.4H1134.3V1066.9H1137.8V1066.2H1138.6V1064.4H1141V1062.6H1143.4V1058.9H1148.3V1056.9H1151V1056.4H1151.8V1053.8H1155.2V1049.7H1160.6V1049.2H1161.3V1048H1162.9V1047.3H1163.8V1046H1165.2V1044.1H1166.8V1043.4H1167.3V1040.1H1169.9V1039.6H1170.3V1039H1170.9V1037.8H1171.7V1034.7H1173.8V1029.8H1175.8V1029.2H1176V1028.7H1176.2V1022.5H1178.1V1021.9H1178.2V1020.8H1178.4V1020.2H1178.5V1019.3H1178.6V1018.1H1178.8V1016.2H1179.1V1015.1H1179.3V1014.6H1179.4V1014.1H1179.5V1012.3H1179.8V1009.9H1179.9V1007H1180V1003H1180.2V1001.7H1180.3V1001.3H1180.3V997.7H1180.4V997.2H1180.5V996.1H1180.5V992.7H1180.6V992.2H1180.7V989H1180.8V988.5H1180.8V987.5H1180.9V983.1H1181.1V977.2H1181.2V976.8H1181.2V975.9H1181.3V975H1181.3V974.4H1181.3V973.8H1181.3V968.1H1181.5V967.3H1181.5V965.8H1181.5V965.3H1181.6V963.6H1181.6V962.4H1181.6V961.2H1181.7V959.6H1181.7V956.7H1181.8V955.7H1181.8V953.7H1181.9V952.9H1181.9V950.5H1181.9V949.6H1182L1182 949.4" fill="none" stroke="#3fab7b" stroke-width="3.4" stroke-linejoin="round"/>
<line x1="969.4" y1="1575.3" x2="976.9" y2="1575.3" stroke="#1a1a1a" stroke-width="1.6" />
<line x1="969.4" y1="1512.8" x2="976.9" y2="1512.8" stroke="#1a1a1a" stroke-width="1.6" />
<line x1="969.4" y1="1450.3" x2="976.9" y2="1450.3" stroke="#1a1a1a" stroke-width="1.6" />
<line x1="969.4" y1="1387.8" x2="976.9" y2="1387.8" stroke="#1a1a1a" stroke-width="1.6" />
<line x1="969.4" y1="1325.3" x2="976.9" y2="1325.3" stroke="#1a1a1a" stroke-width="1.6" />
<line x1="969.4" y1="1262.8" x2="976.9" y2="1262.8" stroke="#1a1a1a" stroke-width="1.6" />
<line x1="969.4" y1="1200.3" x2="976.9" y2="1200.3" stroke="#1a1a1a" stroke-width="1.6" />
<line x1="969.4" y1="1137.8" x2="976.9" y2="1137.8" stroke="#1a1a1a" stroke-width="1.6" />
<line x1="969.4" y1="1075.3" x2="976.9" y2="1075.3" stroke="#1a1a1a" stroke-width="1.6" />
<line x1="969.4" y1="1012.8" x2="976.9" y2="1012.8" stroke="#1a1a1a" stroke-width="1.6" />
<line x1="969.4" y1="950.3" x2="976.9" y2="950.3" stroke="#1a1a1a" stroke-width="1.6" />
<line x1="969.4" y1="1575.3" x2="969.4" y2="1568.3" stroke="#1a1a1a" stroke-width="1.6" />
<line x1="1075.7" y1="1575.3" x2="1075.7" y2="1568.3" stroke="#1a1a1a" stroke-width="1.6" />
<line x1="1182" y1="1575.3" x2="1182" y2="1568.3" stroke="#1a1a1a" stroke-width="1.6" />
<text x="969.4" y="1599.4" font-size="21" text-anchor="middle">0</text>
<text x="1075.7" y="1599.4" font-size="21" text-anchor="middle">0.5</text>
<text x="1182" y="1599.4" font-size="21" text-anchor="middle">1</text>
<text x="1076.2" y="1630.7" font-size="20.6" text-anchor="middle">Posterior Probability</text>
<rect x="1065.3" y="1448.9" width="18.7" height="7.4" fill="#000"/>
<text x="1089" y="1461.9" font-size="25">PRE</text>
<rect x="1065.3" y="1478.2" width="18.7" height="7.4" fill="#d8621e"/>
<text x="1089" y="1490.6" font-size="25">E1&amp;2&amp;3</text>
<rect x="1065.3" y="1507" width="18.7" height="7.4" fill="#3fab7b"/>
<text x="1089" y="1519.6" font-size="25">E4&amp;5&amp;6</text>
<path d="M1346.3 950.3V1575.3H1548" stroke="#1a1a1a" stroke-width="1.7" fill="none"/>
<path d="M1346.3 1575.3V1570.9H1346.4V1569.3H1346.4V1568.8H1346.4V1567.5H1346.4V1565.6H1346.4V1564.9H1346.4V1562.1H1346.4V1561.3H1346.4V1559.8H1346.4V1558.8H1346.4V1557.8H1346.4V1552.7H1346.4V1550.2H1346.5V1544H1346.5V1543.2H1346.5V1539.5H1346.5V1539.1H1346.5V1532.7H1346.5V1531.7H1346.6V1530.6H1346.6V1528.1H1346.6V1525.3H1346.6V1524.5H1346.6V1523.1H1346.6V1521.8H1346.6V1520.2H1346.6V1518.3H1346.6V1517.1H1346.6V1516H1346.6V1510.1H1346.7V1509.3H1346.7V1507.7H1346.7V1504.3H1346.7V1503.5H1346.7V1502.7H1346.7V1502H1346.7V1499.8H1346.7V1499.1H1346.7V1488.9H1346.8V1484.1H1346.9V1477.3H1346.9V1474H1347V1473.3H1347V1470.5H1347V1467.5H1347.1V1466.9H1347.1V1461.9H1347.2V1458H1347.2V1453.6H1347.3V1450.5H1347.3V1448.1H1347.3V1444.6H1347.4V1443.8H1347.4V1443H1347.4V1437.2H1347.5V1435.5H1347.5V1434.8H1347.5V1433.8H1347.5V1433.1H1347.5V1427.2H1347.6V1425.9H1347.6V1422.9H1347.8V1420.4H1347.9V1415.2H1348.1V1412.1H1348.2V1411.3H1348.2V1409.1H1348.3V1407.3H1348.4V1403H1348.6V1398.9H1348.7V1393.1H1349V1392.3H1349V1391.7H1349V1390.1H1349.1V1387.1H1349.2V1382.1H1349.4V1381.4H1349.5V1376.7H1349.8V1376.2H1349.9V1372.8H1350.1V1371.6H1350.2V1369.4H1350.3V1368.9H1350.4V1367.3H1350.5V1366.3H1350.6V1362.3H1350.8V1361H1350.9V1360.5H1351V1359.6H1351V1355.7H1351.3V1352.4H1351.6V1350.9H1351.8V1349.1H1352V1347.1H1352.2V1339H1353.2V1338H1353.3V1332.6H1354V1331.3H1354.1V1315.6H1356.3V1310H1357.1V1309.2H1357.2V1301.7H1358.5V1296.1H1359.5V1292H1360.3V1288.7H1361.2V1285.4H1362.1V1284H1362.4V1281.6H1363.1V1275.7H1365.6V1275.1H1365.8V1267.7H1369.2V1264.1H1370.7V1258.5H1372.7V1257.4H1373.1V1254.6H1374.1V1253.8H1374.4V1250.1H1375.6V1247.2H1376.6V1244.8H1377.4V1237H1380V1234.1H1380.9V1231.8H1381.7V1231.4H1381.8V1230.9H1382V1227.6H1383.1V1219H1385.2V1216.7H1385.8V1212.6H1386.8V1208.8H1387.9V1205.7H1389V1201.6H1390.3V1200.8H1390.6V1199.7H1391V1197H1392.1V1196.5H1392.5V1195.8H1393V1195.3H1393.4V1194.2H1394.3V1187.9H1398.6V1179.3H1402V1176.1H1403.3V1173.8H1404.2V1172.5H1404.7V1168.5H1406.3V1166.3H1407.6V1165.5H1408.2V1164.5H1409V1162H1410.8V1160.4H1412V1157H1415.1V1154.9H1417.1V1153.2H1418.8V1150.5H1421.5V1149.4H1422.6V1147.3H1424.7V1140.5H1429.8V1137.3H1432.6V1132.8H1437.7V1130.4H1447.4V1124.8H1453.6V1123.4H1454.5V1122.6H1454.8V1120.7H1455.4V1116.7H1456.8V1107.8H1460.3V1101.8H1463.4V1098.8H1465.5V1097.9H1466.1V1093.7H1476V1093.3H1476.2V1091.9H1476.9V1088.8H1478.5V1087.9H1478.9V1085.8H1479.9V1082.7H1481.5V1079.2H1483.3V1078.4H1483.7V1073.9H1490.2V1072.4H1493.1V1071.7H1493.6V1069.8H1495.1V1066.4H1497.6V1065.1H1498.6V1063.2H1500V1061.4H1501.4V1059.2H1503V1058.3H1503.7V1052.2H1509V1050.3H1510.9V1048.9H1512.3V1047.3H1514.7V1046.6H1515.7V1041.3H1525.3V1040.8H1526.2V1040.3H1527.1V1039.8H1527.8V1037.9H1529.1V1036.5H1530V1035.9H1530.4V1033.4H1532.1V1032.4H1532.6V1031.9H1533V1030.2H1534V1029.2H1534.6V1026.2H1536.4V1025.7H1536.7V1023.3H1538.1V1021.4H1539V1017.5H1540.5V1012.6H1542.5V1011.6H1542.8V1008.2H1543.2V1003.4H1543.8V1002.7H1543.9V999.9H1544.2V995.8H1544.8V993.4H1545V991.6H1545.1V991H1545.2V986.2H1545.6V984.8H1545.7V983.4H1545.8V982.8H1545.9V982.1H1545.9V979.6H1546.2V973.9H1546.6V969.6H1547V967.7H1547.1V964.9H1547.1V960.5H1547.2V959.2H1547.3V958.3H1547.3V957.8H1547.3V955.9H1547.3V951.4H1547.4V949.4H1547.5L1547.5 949.4" fill="none" stroke="#000" stroke-width="3.3" stroke-linejoin="round"/>
<path d="M1346.3 1575.3V1572.8H1346.3V1571H1346.4V1570.5H1346.4V1569.9H1346.4V1569H1346.4V1565.5H1346.4V1563.5H1346.4V1562.4H1346.4V1558.8H1346.4V1557.8H1346.4V1555.5H1346.4V1554.1H1346.4V1553H1346.4V1544.7H1346.5V1543.9H1346.5V1541.6H1346.5V1540.5H1346.5V1540H1346.5V1535.4H1346.5V1531.8H1346.6V1528.9H1346.6V1527.8H1346.6V1525.9H1346.6V1525H1346.6V1524.1H1346.6V1522.6H1346.6V1518.9H1346.6V1518.2H1346.6V1516H1346.6V1513.3H1346.6V1507.4H1346.7V1503.1H1346.7V1502H1346.7V1499.5H1346.7V1498.8H1346.7V1498.3H1346.7V1497.7H1346.7V1495.2H1346.7V1493H1346.8V1492.4H1346.8V1492H1346.8V1490.5H1346.8V1488.1H1346.8V1487.4H1346.8V1485.5H1346.8V1484.3H1346.9V1483.2H1346.9V1481.5H1346.9V1480.1H1346.9V1479.6H1346.9V1478.2H1346.9V1477.3H1346.9V1472H1347V1471.6H1347V1471.1H1347V1470.2H1347V1468.1H1347.1V1467.5H1347.1V1466.9H1347.1V1461.2H1347.2V1460.3H1347.2V1459.6H1347.2V1458.8H1347.2V1454.8H1347.2V1454.4H1347.3V1450.6H1347.3V1446.6H1347.4V1444.6H1347.4V1443.6H1347.4V1443.2H1347.4V1442.6H1347.4V1439.1H1347.5V1438.4H1347.5V1437.4H1347.5V1435.9H1347.5V1435.1H1347.5V1434.2H1347.5V1432H1347.5V1428.2H1347.6V1422.7H1347.8V1418.8H1347.9V1418.2H1348V1417.1H1348V1416.1H1348V1414H1348.1V1412.5H1348.2V1410.7H1348.3V1409.8H1348.3V1408.1H1348.4V1406H1348.4V1402.7H1348.6V1402.3H1348.6V1401.4H1348.6V1400.3H1348.7V1399.4H1348.7V1397.7H1348.8V1395.8H1348.8V1395H1348.9V1394.1H1348.9V1391.7H1349V1388H1349.2V1385.7H1349.3V1381.9H1349.4V1380.9H1349.5V1380.2H1349.5V1379.5H1349.6V1379H1349.6V1375.7H1349.8V1375H1349.8V1372.4H1350V1370.4H1350.1V1363.1H1350.5V1361.5H1350.6V1361.1H1350.6V1358.5H1350.7V1357.4H1350.8V1356.4H1350.8V1354.1H1351V1353.5H1351V1350.8H1351.2V1350.4H1351.2V1348.6H1351.3V1347.1H1351.4V1344.3H1351.5V1342.8H1351.7V1341.8H1351.8V1340.4H1351.9V1337.7H1352.2V1337.2H1352.2V1334.6H1352.5V1332.9H1352.7V1332.3H1352.7V1331.8H1352.8V1330.9H1352.9V1329.3H1353V1327.5H1353.2V1327.1H1353.2V1326.5H1353.3V1324.4H1353.5V1322.9H1353.7V1322.2H1353.7V1321.4H1353.8V1320.4H1353.9V1319.3H1354V1313.9H1354.6V1313.4H1354.7V1312.4H1354.8V1311.1H1355V1308.9H1355.2V1308.1H1355.3V1307.4H1355.4V1306.9H1355.5V1305.1H1355.7V1301.7H1356.1V1300.1H1356.2V1297.8H1356.5V1297H1356.6V1295.9H1356.7V1294.5H1356.9V1293.5H1357V1289.9H1357.7V1283.8H1359.2V1281.8H1359.6V1280.8H1359.9V1278.7H1360.5V1278H1360.8V1275.4H1361.8V1272.2H1363.1V1270.6H1363.7V1269.6H1364V1267.3H1364.8V1265.8H1365.3V1264.7H1365.7V1263.7H1366V1263.1H1366.2V1261.9H1366.6V1260.6H1367V1259.5H1367.4V1257.7H1368.1V1256H1368.9V1254.5H1369.7V1253.7H1370.1V1252.9H1370.5V1250.9H1371.5V1250H1371.9V1248.5H1372.7V1247.3H1373.3V1246.7H1373.6V1245.3H1374.3V1242.9H1375.5V1238.3H1377.4V1236.5H1378V1234H1378.8V1232.1H1379.4V1228.6H1380.6V1227.4H1381V1226.5H1381.3V1222.3H1382.7V1221.2H1383.1V1219.2H1383.7V1218.7H1383.9V1216.9H1384.5V1216.1H1384.8V1208.9H1388.2V1207.5H1388.9V1206.4H1389.4V1205.1H1390.1V1204.2H1390.5V1200.3H1392.9V1198.6H1394.2V1194.2H1397.4V1192.9H1398.5V1192.2H1399.2V1191.8H1399.7V1190.9H1400.5V1188.2H1403.3V1187.5H1404V1186.8H1404.6V1185.4H1406V1182.1H1409.4V1180.3H1411.1V1179.3H1412.1V1178.9H1412.6V1177.6H1413.8V1177H1414.4V1169.3H1422.1V1165.7H1425.7V1164H1427.4V1160.7H1430.7V1159.3H1432.1V1158.8H1432.6V1158H1433.2V1154.5H1435.5V1150.9H1437.9V1149.2H1439V1145.1H1442V1143.8H1443.3V1141.7H1445.4V1139.5H1447.6V1138.2H1448.9V1137H1450.2V1135.8H1452.6V1135.2H1453.9V1134.6H1455V1134.1H1456.1V1132.2H1459.8V1130.6H1463.1V1125.2H1472.5V1124.8H1472.8V1124.2H1473.2V1123.4H1473.9V1122.9H1474.3V1121.8H1475.2V1120.1H1476.5V1117.9H1478.3V1116.8H1479.2V1116H1479.8V1113.4H1482.3V1112.8H1483V1112H1483.7V1109.3H1486.5V1106.7H1489.1V1106.2H1489.5V1102.8H1493V1102.3H1493.4V1099H1496.8V1098.4H1497.4V1097.9H1497.8V1097.4H1498.4V1095H1500.8V1092.9H1502.9V1090.6H1505.2V1084.1H1511.6V1083.4H1512.3V1082.2H1513.5V1081.3H1514.5V1078.2H1517V1077.4H1517.6V1076.3H1518.5V1074.7H1519.8V1071.6H1522.3V1071H1522.8V1064H1527.5V1063.3H1528V1062.3H1528.7V1061.8H1529V1059.5H1530.5V1057.3H1532V1056.1H1532.7V1055H1533.3V1053.5H1534.2V1051.3H1535.6V1043.9H1539.3V1043.2H1539.5V1042.8H1539.7V1042H1539.9V1040.7H1540.4V1039.7H1540.7V1037.9H1541.3V1036.3H1541.8V1035.5H1542.1V1034.6H1542.4V1033.1H1542.8V1031.1H1543.2V1028H1543.7V1026.5H1544V1026H1544.1V1024.4H1544.3V1023.8H1544.4V1021.7H1544.8V1019H1545.3V1015.4H1545.8V1013.5H1545.9V1009.4H1546.2V1008.2H1546.2V1006.6H1546.3V1005.7H1546.4V1004.9H1546.4V1003.1H1546.5V1000.3H1546.7V999.4H1546.8V998.8H1546.8V998.3H1546.8V997.5H1546.9V996.9H1546.9V995.5H1547V993.6H1547.1V993.1H1547.1V990.9H1547.1V988H1547.2V987.2H1547.2V986.3H1547.2V985.3H1547.2V982.7H1547.3V982.2H1547.3V980.7H1547.3V979H1547.3V976.2H1547.4V973.3H1547.5V970.8H1547.5V969.9H1547.5V968.7H1547.5V966.3H1547.6V964.9H1547.6V964H1547.6V963.3H1547.6V961.5H1547.7V959H1547.7V957.2H1547.8V956.2H1547.8V955.3H1547.8V954.5H1547.8V953.2H1547.8V952.8H1547.8V952.4H1547.9V950.7H1547.9V949.4H1547.9L1547.9 949.4" fill="none" stroke="#d8621e" stroke-width="3.4" stroke-linejoin="round"/>
<path d="M1346.3 1575.3V1571.6H1346.3V1571.1H1346.4V1569.7H1346.4V1569.1H1346.4V1567.5H1346.4V1561.2H1346.4V1560.3H1346.4V1559.2H1346.4V1557.4H1346.4V1556.4H1346.4V1552.6H1346.4V1552H1346.4V1549.1H1346.5V1547.8H1346.5V1546.4H1346.5V1545.7H1346.5V1544H1346.5V1543.4H1346.5V1540.5H1346.5V1539.1H1346.5V1536.9H1346.5V1536.1H1346.5V1534.6H1346.5V1534.1H1346.5V1532.9H1346.5V1531.8H1346.6V1531.4H1346.6V1530.9H1346.6V1528.5H1346.6V1528H1346.6V1527.3H1346.6V1526.1H1346.6V1525.4H1346.6V1523.6H1346.6V1519.5H1346.6V1518.6H1346.6V1517.8H1346.6V1513.3H1346.6V1510.5H1346.7V1509.1H1346.7V1506.5H1346.7V1505.1H1346.7V1500.9H1346.7V1499.8H1346.7V1497H1346.7V1495.3H1346.7V1494.8H1346.7V1491.1H1346.8V1489.5H1346.8V1486.9H1346.8V1485.2H1346.8V1484.6H1346.8V1483.2H1346.9V1481.3H1346.9V1479.4H1346.9V1477H1347V1476.1H1347V1472.9H1347V1472H1347V1471.4H1347V1469.5H1347V1466.7H1347.1V1464H1347.1V1463.4H1347.1V1457.7H1347.2V1457.2H1347.2V1454.5H1347.2V1450.3H1347.3V1444.1H1347.4V1443.3H1347.4V1441.9H1347.4V1440.1H1347.4V1437.9H1347.5V1436.7H1347.5V1436.2H1347.5V1428.5H1347.6V1421.5H1347.9V1420.6H1348V1420H1348V1419.3H1348V1418.5H1348.1V1415.1H1348.3V1414.4H1348.3V1413.8H1348.3V1413.3H1348.4V1412.6H1348.4V1411.6H1348.5V1409.1H1348.6V1408.5H1348.6V1405.8H1348.8V1405.1H1348.8V1404.1H1348.9V1403.7H1348.9V1402.4H1349V1401.4H1349.1V1400.6H1349.1V1393.3H1349.6V1392.8H1349.7V1392H1349.8V1390.1H1350V1389H1350.1V1388.3H1350.1V1387.5H1350.2V1385H1350.5V1383.6H1350.6V1382.5H1350.7V1381.6H1350.8V1380.7H1350.9V1377.5H1351.2V1375.4H1351.4V1372H1352V1370.7H1352.3V1370H1352.4V1368.6H1352.7V1367.3H1353V1365.8H1353.3V1365.2H1353.4V1364.6H1353.5V1363.7H1353.7V1362.3H1354V1360.9H1354.2V1358.3H1354.8V1355.5H1355.4V1354.6H1355.7V1353H1356.1V1350.7H1356.6V1350.2H1356.7V1349H1357V1347.4H1357.4V1346.8H1357.6V1336.2H1360.1V1333.5H1360.6V1332.1H1360.9V1331.5H1361V1330.9H1361.1V1328.3H1361.6V1327.2H1361.8V1325.9H1362.1V1324.4H1362.4V1322.8H1362.7V1319.5H1363.4V1319.1H1363.5V1317.8H1363.8V1317.1H1364.1V1316.6H1364.3V1314.3H1365.2V1312.5H1365.8V1310.7H1366.5V1309.6H1366.9V1308.6H1367.3V1305.6H1368.4V1302.5H1369.6V1301.7H1369.9V1300.5H1370.4V1296.7H1372.3V1293.6H1373.9V1292.6H1374.4V1290.9H1375.2V1289H1376.2V1287.7H1376.8V1286.7H1377.3V1286.1H1377.6V1285.4H1378V1284.2H1378.6V1282.2H1379.6V1277H1382.2V1275.7H1382.8V1272.9H1384.2V1271.1H1385.1V1267H1387.8V1263.6H1390.1V1262.6H1390.8V1260.2H1392.4V1259.7H1392.7V1257.6H1394.3V1255.8H1396.1V1254.9H1396.9V1254H1397.9V1251.5H1400.3V1251H1400.8V1248.6H1403.3V1248.1H1403.7V1246.9H1405V1246H1405.8V1243.8H1408.1V1243.2H1408.6V1242.5H1409.3V1241.6H1410.3V1240.4H1411.3V1239.7H1411.8V1238.7H1412.5V1238.1H1412.9V1234H1415.6V1233.5H1416V1231.5H1417.3V1230.8H1417.8V1228.9H1419V1225.8H1421.4V1224.6H1422.3V1224.1H1422.7V1223H1423.6V1222.3H1424.1V1219.3H1426.5V1218.8H1426.9V1218.3H1427.3V1214H1430.8V1212.3H1432.1V1211.7H1432.6V1209.9H1434V1207.8H1435.7V1207.1H1436.3V1205.9H1437.3V1205.1H1437.9V1203.5H1439.2V1201.7H1440.6V1201.2H1441V1199.5H1442.4V1197.4H1444V1196.3H1445V1193.8H1446.9V1191.7H1448.6V1190.4H1449.7V1189.7H1450.2V1188.8H1450.9V1188.1H1451.5V1186.4H1452.8V1185.4H1453.7V1181.1H1456.6V1177.1H1459.3V1175.9H1460.1V1174.8H1460.8V1172.4H1462.4V1168.8H1465.2V1165.5H1467.9V1164.8H1468.4V1163.1H1469.8V1162.1H1470.6V1159.5H1472.7V1155.8H1475.6V1155.2H1476.1V1153.4H1477.5V1151.2H1479.3V1143.6H1488.8V1142.8H1489.4V1139.9H1491.8V1139.3H1492.3V1138.7H1492.8V1137.4H1493.8V1131.3H1498.5V1130.1H1499.3V1129.3H1499.8V1128.3H1500.5V1127.5H1501V1124.8H1502.8V1121.3H1505.1V1120.3H1505.8V1119.8H1506.2V1119.1H1506.6V1118.6H1506.9V1117.5H1507.6V1116.9H1508.1V1113H1510.6V1112.4H1511.1V1106.5H1515V1105.1H1515.9V1101.9H1518V1099.9H1519.4V1099H1520V1097.9H1520.7V1097.3H1521.1V1094.2H1523.2V1093.5H1523.6V1092.5H1524.1V1091H1524.8V1090.4H1525.1V1089.7H1525.5V1087.4H1526.6V1086.4H1527.1V1084.8H1527.9V1083.8H1528.4V1080.7H1530V1079.1H1530.8V1078.6H1531V1072.8H1533.4V1072.2H1533.6V1069.4H1534.7V1064.4H1536.6V1063.1H1537V1061.9H1537.5V1061.3H1537.7V1060.5H1538V1059.7H1538.3V1058.4H1538.8V1057.6H1539.1V1056.6H1539.4V1055.9H1539.6V1055.3H1539.8V1054.2H1540.2V1052.8H1540.7V1051.8H1541V1049.6H1541.7V1047.7H1542.3V1047.3H1542.5V1044.1H1543.1V1042.4H1543.3V1042H1543.4V1038.7H1543.8V1037.1H1544.1V1034.6H1544.4V1033.6H1544.5V1030.5H1545V1028.6H1545.2V1025.9H1545.6V1022.4H1545.9V1018.2H1546V1017.5H1546.1V1016.2H1546.1V1014.1H1546.2V1012H1546.3V1009.2H1546.4V1003.7H1546.7V999.7H1546.8V994.6H1547V994.1H1547.1V993.2H1547.1V991.5H1547.1V990.1H1547.1V988.7H1547.2V987.5H1547.2V986.8H1547.2V986.4H1547.2V985.8H1547.2V985.2H1547.2V984.6H1547.2V983.6H1547.3V982H1547.3V980.9H1547.3V979.6H1547.3V979.1H1547.3V978.3H1547.4V977.2H1547.4V976.1H1547.4V968.3H1547.6V966.8H1547.6V966.3H1547.6V965.5H1547.6V961.7H1547.7V961.3H1547.7V958.8H1547.7V955.7H1547.8V953.2H1547.8V951.7H1547.9V950H1547.9V949.4H1547.9L1547.9 949.4" fill="none" stroke="#3fab7b" stroke-width="3.4" stroke-linejoin="round"/>
<line x1="1346.3" y1="1575.3" x2="1353.8" y2="1575.3" stroke="#1a1a1a" stroke-width="1.6" />
<line x1="1346.3" y1="1512.8" x2="1353.8" y2="1512.8" stroke="#1a1a1a" stroke-width="1.6" />
<line x1="1346.3" y1="1450.3" x2="1353.8" y2="1450.3" stroke="#1a1a1a" stroke-width="1.6" />
<line x1="1346.3" y1="1387.8" x2="1353.8" y2="1387.8" stroke="#1a1a1a" stroke-width="1.6" />
<line x1="1346.3" y1="1325.3" x2="1353.8" y2="1325.3" stroke="#1a1a1a" stroke-width="1.6" />
<line x1="1346.3" y1="1262.8" x2="1353.8" y2="1262.8" stroke="#1a1a1a" stroke-width="1.6" />
<line x1="1346.3" y1="1200.3" x2="1353.8" y2="1200.3" stroke="#1a1a1a" stroke-width="1.6" />
<line x1="1346.3" y1="1137.8" x2="1353.8" y2="1137.8" stroke="#1a1a1a" stroke-width="1.6" />
<line x1="1346.3" y1="1075.3" x2="1353.8" y2="1075.3" stroke="#1a1a1a" stroke-width="1.6" />
<line x1="1346.3" y1="1012.8" x2="1353.8" y2="1012.8" stroke="#1a1a1a" stroke-width="1.6" />
<line x1="1346.3" y1="950.3" x2="1353.8" y2="950.3" stroke="#1a1a1a" stroke-width="1.6" />
<line x1="1346.3" y1="1575.3" x2="1346.3" y2="1568.3" stroke="#1a1a1a" stroke-width="1.6" />
<line x1="1446.7" y1="1575.3" x2="1446.7" y2="1568.3" stroke="#1a1a1a" stroke-width="1.6" />
<line x1="1547" y1="1575.3" x2="1547" y2="1568.3" stroke="#1a1a1a" stroke-width="1.6" />
<text x="1346.3" y="1599.4" font-size="21" text-anchor="middle">0</text>
<text x="1446.7" y="1599.4" font-size="21" text-anchor="middle">0.5</text>
<text x="1547" y="1599.4" font-size="21" text-anchor="middle">1</text>
<text x="1338" y="957.3" font-size="21" text-anchor="end">1</text>
<text x="1338" y="1082.3" font-size="21" text-anchor="end">0.9</text>
<text x="1338" y="1207.3" font-size="21" text-anchor="end">0.8</text>
<text x="1338" y="1332.3" font-size="21" text-anchor="end">0.7</text>
<text x="1338" y="1457.3" font-size="21" text-anchor="end">0.6</text>
<text x="1338" y="1581.1" font-size="21" text-anchor="end">0.5</text>
<text x="1290" y="1259.3" font-size="25.6" text-anchor="middle" transform="rotate(-90 1290 1259.3)">Cumulative Distribution Function</text>
<text x="1447.2" y="1630.7" font-size="20.6" text-anchor="middle">Posterior Probability</text>
<rect x="1432.7" y="1448.9" width="18.7" height="7.4" fill="#000"/>
<text x="1456.4" y="1461.9" font-size="25">PRE</text>
<rect x="1432.7" y="1478.2" width="18.7" height="7.4" fill="#d8621e"/>
<text x="1456.4" y="1490.6" font-size="25">E1&amp;2&amp;3</text>
<rect x="1432.7" y="1507" width="18.7" height="7.4" fill="#3fab7b"/>
<text x="1456.4" y="1519.6" font-size="25">E4&amp;5&amp;6</text>
<path d="M1596.7 950.3V1575.3H1799.6" stroke="#1a1a1a" stroke-width="1.7" fill="none"/>
<path d="M1596.7 1575.1V1569.7H1596.7V1565.1H1596.7V1559.4H1596.8V1556.2H1596.8V1550.5H1596.8V1547.2H1596.8V1545.2H1596.8V1544.1H1596.8V1542.7H1596.8V1538.1H1596.9V1536.8H1596.9V1535.7H1596.9V1533.6H1596.9V1531.4H1596.9V1529.8H1596.9V1527.8H1596.9V1526.3H1596.9V1523H1596.9V1521.7H1597V1516.4H1597V1515H1597V1514.2H1597V1513.6H1597V1511.6H1597V1507.8H1597V1504.8H1597V1497.1H1597.1V1493.3H1597.1V1492.5H1597.1V1491.7H1597.1V1489.5H1597.1V1485.3H1597.2V1484.1H1597.2V1483.3H1597.2V1482.4H1597.2V1476.9H1597.3V1475.4H1597.3V1474.3H1597.3V1469.5H1597.3V1468.3H1597.3V1464.3H1597.4V1463.7H1597.4V1462.4H1597.4V1452.5H1597.5V1452H1597.5V1451.2H1597.5V1445.8H1597.6V1441H1597.6V1439.3H1597.6V1438.7H1597.6V1435.7H1597.7V1434.9H1597.7V1433.7H1597.7V1426.3H1597.8V1423.7H1597.8V1423.2H1597.8V1421.1H1597.8V1416.2H1597.9V1413.9H1597.9V1411.8H1597.9V1410.9H1597.9V1408H1597.9V1407.5H1597.9V1405.9H1598V1405.5H1598V1404.7H1598V1400.2H1598.1V1398H1598.2V1396.5H1598.2V1394.9H1598.3V1390.3H1598.4V1388.9H1598.4V1386.7H1598.5V1385.9H1598.5V1384.8H1598.5V1381H1598.7V1379.2H1598.7V1376.4H1598.8V1375.7H1598.8V1373.4H1598.9V1371.5H1598.9V1368.3H1599V1366.5H1599.1V1361.8H1599.2V1360.3H1599.2V1354.6H1599.4V1353.4H1599.4V1351.7H1599.5V1347.9H1599.6V1346.3H1599.6V1344H1599.7V1342.2H1599.8V1339.8H1599.9V1334.4H1600.2V1332H1600.3V1330.8H1600.4V1330.2H1600.4V1328.8H1600.5V1327.5H1600.5V1325.8H1600.6V1323.8H1600.7V1323H1600.8V1321.7H1600.8V1320.7H1600.9V1319.8H1600.9V1316.1H1601.1V1313.1H1601.3V1311H1601.4V1310.4H1601.4V1305.1H1601.7V1304.3H1601.8V1303.6H1601.8V1297.2H1602.3V1290.3H1602.7V1289.4H1602.8V1286H1603V1281.1H1603.5V1278.4H1603.8V1277.7H1603.9V1276.2H1604.1V1270.7H1604.8V1269.6H1604.9V1267.3H1605.2V1263.5H1605.6V1259.9H1606V1253.7H1606.6V1252.3H1606.7V1246.8H1607.3V1244H1607.7V1240.7H1608.6V1239.2H1609V1236.9H1609.6V1236.2H1609.8V1234.6H1610.3V1230.3H1611.3V1229H1611.6V1228.1H1611.8V1222.3H1613.2V1219.1H1614V1216.3H1614.6V1215H1615V1213.5H1615.4V1211.5H1615.9V1209.7H1616.3V1209.2H1616.4V1200.9H1618.6V1197.6H1619.7V1194.6H1620.7V1188.8H1622.6V1188H1622.7V1187.1H1622.9V1186.2H1623V1183.3H1623.5V1181.2H1623.9V1178.8H1624.3V1176.4H1624.7V1173.6H1627.1V1171.3H1629.2V1168.9H1630.4V1167H1631.4V1163.7H1633V1162H1633.9V1158.4H1635.7V1154.8H1637.5V1153.8H1638.1V1152.3H1639.1V1151.2H1639.8V1150.4H1640.4V1149.2H1641.1V1145.7H1642.6V1142.1H1643.7V1141.3H1643.9V1140.1H1644.2V1138.3H1644.7V1136H1645.4V1133.5H1646.1V1127.4H1647.7V1122.6H1649.3V1120.4H1650.4V1119.5H1650.8V1118.9H1651.1V1116.2H1652.5V1112.8H1653.7V1111.9H1654V1108.7H1655.2V1106.9H1656.6V1102.6H1659.8V1101.6H1660.6V1098.4H1667.5V1097.2H1671.2V1096.1H1674.4V1092.3H1676.3V1087.4H1687.3V1084.2H1688.4V1083.6H1688.6V1079.2H1690.4V1078.6H1690.7V1074.3H1692.9V1068.5H1696.4V1064H1700.9V1063.3H1702V1062.6H1703.1V1062.1H1703.9V1059.2H1708.1V1058.8H1708.9V1055.2H1712.4V1049.8H1716.1V1042.6H1721.4V1042.1H1721.9V1039.8H1724.2V1036.3H1727.7V1034.6H1729.4V1033.6H1730.4V1029.9H1750V1025.6H1757.5V1025.2H1758.1V1024.6H1759.4V1020.5H1766.5V1019H1767.5V1018.3H1767.9V1013.2H1770.9V1012.1H1771.4V1010.1H1772.4V1009.1H1772.9V1008.6H1773.1V1006H1776.1V1005.2H1777.3V999.9H1790.6V992H1795.9V990.7H1796.1V987.4H1796.5V986.2H1796.7V981.8H1797.3V980.5H1797.4V979.3H1797.4V977.5H1797.5V976.8H1797.5V975.1H1797.6V974.5H1797.6V973.4H1797.7V971.1H1797.8V970.5H1797.8V969.6H1797.8V966.3H1798V964.9H1798V961.6H1798.2V958.7H1798.3V956.6H1798.4V953.9H1798.5V953.2H1798.5V950.1H1798.6V949.4H1798.6L1798.6 949.4" fill="none" stroke="#000" stroke-width="3.3" stroke-linejoin="round"/>
<path d="M1596.7 1575.1V1572.6H1596.7V1571.9H1596.7V1570.2H1596.7V1567.5H1596.7V1566.1H1596.7V1563.9H1596.7V1562.6H1596.7V1561.5H1596.8V1555.7H1596.8V1554.5H1596.8V1553.8H1596.8V1553.1H1596.8V1549.8H1596.8V1549.3H1596.8V1547.9H1596.8V1542.8H1596.8V1541.1H1596.9V1538.6H1596.9V1537.5H1596.9V1535.3H1596.9V1534.4H1596.9V1534H1596.9V1530.1H1596.9V1529.3H1596.9V1525.4H1596.9V1523.9H1596.9V1520.8H1597V1520H1597V1518.4H1597V1517.7H1597V1516.5H1597V1515.2H1597V1514.5H1597V1513H1597V1512.3H1597V1510.7H1597V1510.1H1597V1508.9H1597V1508H1597V1504.1H1597V1503.2H1597V1501.4H1597.1V1500.3H1597.1V1499.2H1597.1V1497.5H1597.1V1496.2H1597.1V1494.4H1597.1V1493.3H1597.1V1489H1597.1V1488.2H1597.1V1486.9H1597.1V1486.4H1597.1V1485.7H1597.1V1484.4H1597.1V1483.9H1597.1V1482.7H1597.1V1480.1H1597.1V1478.9H1597.2V1478.3H1597.2V1477.2H1597.2V1475.3H1597.2V1474.2H1597.2V1472.2H1597.2V1470.5H1597.2V1469.4H1597.2V1467.4H1597.2V1466.5H1597.2V1462.3H1597.2V1461.6H1597.2V1461.1H1597.2V1460.3H1597.2V1459.9H1597.2V1458.6H1597.2V1455.2H1597.2V1452.9H1597.2V1450.9H1597.2V1448.7H1597.3V1444.5H1597.3V1444.1H1597.3V1442.9H1597.3V1441.4H1597.3V1440.1H1597.3V1434.4H1597.3V1430.4H1597.3V1429.3H1597.3V1427.9H1597.3V1421.3H1597.3V1418.7H1597.4V1414.8H1597.4V1413H1597.4V1412.4H1597.4V1410.4H1597.4V1409.6H1597.4V1406.2H1597.4V1405H1597.4V1400H1597.4V1398.3H1597.4V1395.3H1597.4V1394.9H1597.4V1389.8H1597.4V1388.5H1597.5V1386.5H1597.5V1384.5H1597.5V1381.1H1597.5V1380.3H1597.5V1378.1H1597.5V1376.8H1597.5V1374.8H1597.5V1374.3H1597.5V1369.9H1597.5V1365.7H1597.5V1362.4H1597.5V1361.9H1597.5V1360.1H1597.6V1359.2H1597.6V1358.5H1597.6V1357.6H1597.6V1356.9H1597.6V1355H1597.6V1351.6H1597.7V1351H1597.7V1348.7H1597.7V1348.2H1597.7V1347.2H1597.7V1346.3H1597.7V1345.7H1597.8V1340.7H1597.8V1337.5H1597.9V1336.3H1597.9V1332.8H1597.9V1331.9H1597.9V1330.5H1598V1328.3H1598V1325.7H1598V1321.6H1598.1V1319.4H1598.1V1318.8H1598.1V1318.1H1598.1V1317.5H1598.1V1314.4H1598.2V1312.8H1598.2V1310.5H1598.2V1308H1598.3V1305.7H1598.3V1304.5H1598.3V1303.7H1598.3V1302.5H1598.3V1301.7H1598.3V1301.2H1598.3V1300.7H1598.4V1299H1598.4V1296.5H1598.4V1293.5H1598.5V1291.3H1598.5V1289.4H1598.6V1285.9H1598.7V1284.9H1598.7V1281.4H1598.8V1279.9H1598.8V1278.9H1598.8V1278.1H1598.8V1276.5H1598.9V1274H1598.9V1273.3H1598.9V1267.7H1599.1V1266.9H1599.1V1266.4H1599.1V1263.9H1599.2V1262.7H1599.2V1262.1H1599.2V1261.1H1599.2V1255.9H1599.3V1251.1H1599.5V1247.4H1599.5V1245.4H1599.6V1243.5H1599.6V1242H1599.7V1240.3H1599.7V1238.2H1599.8V1237.4H1599.8V1236.8H1599.8V1236H1599.9V1234.2H1599.9V1232.5H1600V1230.9H1600V1230.1H1600.1V1228.9H1600.1V1227.3H1600.1V1224.7H1600.2V1222.3H1600.3V1220.9H1600.4V1220.4H1600.4V1219.3H1600.4V1214.3H1600.6V1213.4H1600.6V1211.6H1600.7V1209.9H1600.7V1208.8H1600.8V1205.8H1600.9V1204.8H1600.9V1204.2H1600.9V1202.7H1601V1198.8H1601.1V1197.8H1601.1V1197.3H1601.1V1196.9H1601.2V1195.3H1601.2V1192.5H1601.3V1191.4H1601.3V1186.5H1601.6V1184.6H1601.7V1183.9H1601.8V1182.9H1601.9V1181.2H1602V1179.4H1602.1V1178.7H1602.2V1178.1H1602.2V1174.5H1602.5V1174H1602.5V1171.9H1602.7V1170.5H1602.8V1169.3H1602.9V1166.7H1603.1V1166H1603.2V1165.5H1603.2V1164.1H1603.3V1163.6H1603.3V1161H1603.5V1159.8H1603.6V1158.7H1603.7V1158H1603.7V1156.9H1603.8V1149.4H1604.8V1146.6H1605.3V1144.5H1605.6V1144H1605.7V1143.5H1605.8V1142.3H1605.9V1138.1H1606.6V1136.1H1606.9V1135.3H1607.1V1134H1607.3V1132.9H1607.5V1129.2H1608.2V1127.3H1608.6V1126.3H1608.8V1118.9H1610.3V1118.4H1610.3V1117.2H1610.6V1116.6H1610.7V1116H1610.8V1115.5H1610.9V1113.2H1611.4V1112.6H1611.5V1109.3H1612.5V1107.4H1613.2V1106.9H1613.4V1105.8H1613.8V1104.2H1614.4V1102.8H1615V1101.4H1615.5V1099.1H1616.3V1098.5H1616.6V1098H1616.8V1092.9H1618.8V1092.2H1619.1V1090.9H1619.8V1090H1620.2V1087.6H1621.5V1086.7H1621.9V1086.1H1622.2V1085.4H1622.6V1084.7H1622.9V1083.8H1623.4V1082.5H1624V1074H1631.8V1072.8H1632.9V1070.5H1635.2V1068.4H1637.4V1067.8H1637.9V1065.7H1640V1063.2H1642.4V1061.9H1643.4V1061H1644V1059.9H1644.9V1058.4H1646V1057.1H1647V1053.6H1649.7V1050H1652.3V1049.5H1652.7V1048.3H1653.6V1047.3H1654.4V1046.5H1655V1044.8H1657.3V1042H1660.9V1041.5H1661.7V1037.7H1666.8V1035.1H1670.2V1030.1H1683.4V1026.6H1690.5V1025.6H1692.4V1024.6H1694.4V1023.4H1696.9V1022.6H1698.4V1022.2H1699.3V1021.1H1701.5V1019.9H1703.8V1019.2H1705.3V1018.7H1706.2V1017.3H1711.3V1015.4H1718.8V1012.8H1729.2V1012.3H1731.3V1007.4H1742.2V1006.9H1744.5V1005.8H1748.6V1003.4H1758.5V1001.8H1761.6V999.4H1766.5V998.6H1767.9V991.4H1782.4V986.8H1791.6V986.3H1792.7V983.5H1794.7V982H1795.8V981.3H1796.2V980.6H1796.7V978.4H1797.4V977.5H1797.4V972.9H1797.6V971.4H1797.7V968.7H1797.8V967.7H1797.9V966.4H1797.9V964.1H1798V963.4H1798V961.1H1798.1V960.3H1798.2V958.4H1798.3V957.2H1798.3V951.9H1798.5V951.1H1798.6V949.4H1798.6L1798.6 949.4" fill="none" stroke="#d8621e" stroke-width="3.4" stroke-linejoin="round"/>
<path d="M1596.7 1575.1V1573.4H1596.7V1572.1H1596.7V1569.5H1596.7V1569H1596.7V1564.5H1596.7V1557.6H1596.8V1555.1H1596.8V1553.9H1596.8V1552.8H1596.8V1552.1H1596.8V1548H1596.8V1544.8H1596.8V1543.7H1596.8V1543H1596.8V1542.5H1596.8V1540.3H1596.9V1536.7H1596.9V1534.6H1596.9V1532.4H1596.9V1527.7H1596.9V1527.2H1596.9V1523.7H1596.9V1522.7H1596.9V1521.5H1597V1520.6H1597V1520H1597V1519.1H1597V1518H1597V1514.7H1597V1512.9H1597V1512.1H1597V1511.2H1597V1508.1H1597V1507.4H1597V1505.8H1597V1503.7H1597V1502.9H1597.1V1502H1597.1V1500.7H1597.1V1499.1H1597.1V1498.2H1597.1V1495.4H1597.1V1494.8H1597.1V1491.3H1597.1V1490.5H1597.1V1489.1H1597.1V1487.4H1597.1V1486.4H1597.1V1483.1H1597.1V1479.3H1597.2V1476.8H1597.2V1476H1597.2V1475.1H1597.2V1473.1H1597.2V1472.4H1597.2V1470.2H1597.2V1467.9H1597.2V1467.2H1597.2V1464.7H1597.2V1462.9H1597.2V1462.4H1597.2V1461H1597.2V1460.4H1597.2V1457.3H1597.2V1456.2H1597.2V1455H1597.2V1452.2H1597.2V1449.5H1597.3V1446.5H1597.3V1446H1597.3V1444H1597.3V1441.7H1597.3V1441.1H1597.3V1438.5H1597.3V1435.8H1597.3V1434.4H1597.3V1431.4H1597.3V1430.4H1597.3V1429.5H1597.3V1425.5H1597.3V1424.2H1597.3V1419.8H1597.3V1419.2H1597.4V1417.5H1597.4V1416.9H1597.4V1415.4H1597.4V1414.6H1597.4V1409H1597.4V1406.5H1597.4V1404.5H1597.4V1403.7H1597.4V1403.3H1597.4V1401.6H1597.4V1400.1H1597.4V1399.6H1597.4V1398.3H1597.4V1395.8H1597.4V1395.4H1597.4V1393.8H1597.4V1391.1H1597.4V1386.5H1597.5V1385.2H1597.5V1384.5H1597.5V1383.8H1597.5V1382.7H1597.5V1381.9H1597.5V1380.5H1597.5V1378.5H1597.5V1371H1597.5V1368.5H1597.5V1366.4H1597.5V1365.8H1597.5V1364.7H1597.5V1361.7H1597.5V1356.3H1597.6V1349.2H1597.6V1346.3H1597.6V1344.1H1597.6V1342H1597.6V1341.5H1597.6V1340H1597.7V1339.3H1597.7V1338.8H1597.7V1337.1H1597.7V1335.2H1597.7V1332.4H1597.7V1331.5H1597.7V1330.1H1597.7V1329.4H1597.7V1328.4H1597.7V1327.9H1597.7V1326.8H1597.7V1325.5H1597.7V1324.8H1597.7V1322.9H1597.7V1321.5H1597.7V1317.6H1597.8V1315.2H1597.8V1314.1H1597.8V1313.6H1597.8V1311.7H1597.8V1310.2H1597.8V1305.7H1597.8V1303.6H1597.8V1303.1H1597.8V1301.2H1597.8V1300.7H1597.8V1299.3H1597.9V1298.4H1597.9V1296.2H1597.9V1295.6H1597.9V1294.8H1597.9V1294.3H1597.9V1293.3H1597.9V1291.9H1597.9V1290.8H1597.9V1290.2H1597.9V1289.7H1597.9V1287.5H1597.9V1285.2H1597.9V1282.7H1597.9V1282.1H1597.9V1280.1H1598V1278.5H1598V1276.5H1598V1274.4H1598V1273.4H1598V1271.2H1598V1268.3H1598V1261.4H1598V1256H1598.1V1251.4H1598.1V1250.2H1598.1V1247.6H1598.1V1244.4H1598.1V1243.9H1598.1V1243.2H1598.1V1240.1H1598.2V1238.2H1598.2V1236.8H1598.2V1235.3H1598.2V1233.1H1598.2V1231.4H1598.2V1229.4H1598.2V1229H1598.2V1227.6H1598.2V1227.1H1598.2V1225.4H1598.2V1222.6H1598.2V1220.2H1598.3V1219.6H1598.3V1217.1H1598.3V1216.7H1598.3V1216.3H1598.3V1213.9H1598.3V1212.2H1598.3V1209.4H1598.3V1208.9H1598.3V1206.2H1598.3V1203.1H1598.3V1202.6H1598.3V1198.6H1598.4V1198.2H1598.4V1197.7H1598.4V1195.8H1598.4V1194H1598.4V1188.6H1598.4V1187.9H1598.4V1186.1H1598.5V1184.5H1598.5V1184.1H1598.5V1183.1H1598.5V1181.7H1598.5V1179.7H1598.6V1177.3H1598.6V1176.4H1598.6V1176H1598.6V1172.3H1598.7V1170.7H1598.7V1170.1H1598.7V1166.6H1598.8V1165.2H1598.8V1162.9H1598.8V1162.3H1598.9V1161.8H1598.9V1160.1H1598.9V1156.4H1598.9V1154.6H1599V1153.2H1599V1152H1599V1151.2H1599V1149.8H1599.1V1149.2H1599.1V1148.2H1599.1V1146.7H1599.1V1143.4H1599.2V1142.4H1599.2V1140.7H1599.2V1140H1599.2V1133.9H1599.5V1133.1H1599.5V1130H1599.7V1128.1H1599.9V1127.5H1599.9V1125.6H1600V1121.9H1600.3V1120.9H1600.3V1118.6H1600.5V1115.8H1600.7V1108.2H1601.4V1107.7H1601.5V1106.1H1601.7V1105.2H1601.8V1104.3H1602V1103.7H1602.1V1101H1602.4V1098.6H1602.8V1097.8H1602.9V1096.4H1603.1V1095.3H1603.2V1094.6H1603.3V1094H1603.4V1093.6H1603.5V1093.1H1603.5V1091.6H1603.7V1089.9H1604V1088.5H1604.3V1085.1H1604.9V1084.4H1605.1V1083.8H1605.2V1081.1H1605.7V1079.5H1606.1V1078.2H1606.3V1077.2H1606.5V1072.7H1607.4V1070.6H1607.9V1066.9H1608.8V1066.5H1609V1065.7H1609.1V1063.5H1609.7V1062.4H1610V1060.7H1610.4V1058.7H1610.9V1058H1611.1V1056.9H1611.3V1055.8H1611.6V1054.5H1612.1V1053.7H1612.5V1053.2H1612.8V1051.8H1613.4V1050.5H1614.1V1050H1614.4V1049.4H1614.7V1047.2H1615.8V1045.6H1616.6V1045.1H1616.8V1041.2H1621.2V1038.2H1627.1V1036.8H1629.1V1036.1H1630V1035.6H1630.6V1034.4H1632.3V1033.6H1633.4V1032.7H1634V1032.2H1634.4V1031.3H1635V1030.4H1635.7V1029.5H1636.4V1027.3H1638.1V1026.6H1638.6V1024.4H1640.4V1022.6H1642.2V1019.3H1645.5V1017.8H1647V1016.8H1647.9V1016.2H1648.6V1014H1650.7V1012H1652.8V1010.2H1667.2V1009.2H1669.2V1008.6H1670.3V1005.8H1676V1004.8H1678V1003.7H1680.2V1003.1H1681.2V1002.6H1681.9V998.6H1687.1V997.8H1688.2V996.8H1698.5V995.7H1703V994.9H1705.9V993H1713.5V989.4H1743.2V987.4H1747.2V981.1H1769.9V980.4H1772.7V978.6H1780.1V968.9H1797.6V968.3H1797.6V966.2H1797.7V965.4H1797.8V962.8H1797.9V960.2H1798.1V958H1798.2V956.1H1798.3V953.8H1798.4V953.1H1798.4V949.4H1798.6L1798.6 949.4" fill="none" stroke="#3fab7b" stroke-width="3.4" stroke-linejoin="round"/>
<line x1="1596.7" y1="1575.3" x2="1604.2" y2="1575.3" stroke="#1a1a1a" stroke-width="1.6" />
<line x1="1596.7" y1="1512.8" x2="1604.2" y2="1512.8" stroke="#1a1a1a" stroke-width="1.6" />
<line x1="1596.7" y1="1450.3" x2="1604.2" y2="1450.3" stroke="#1a1a1a" stroke-width="1.6" />
<line x1="1596.7" y1="1387.8" x2="1604.2" y2="1387.8" stroke="#1a1a1a" stroke-width="1.6" />
<line x1="1596.7" y1="1325.3" x2="1604.2" y2="1325.3" stroke="#1a1a1a" stroke-width="1.6" />
<line x1="1596.7" y1="1262.8" x2="1604.2" y2="1262.8" stroke="#1a1a1a" stroke-width="1.6" />
<line x1="1596.7" y1="1200.3" x2="1604.2" y2="1200.3" stroke="#1a1a1a" stroke-width="1.6" />
<line x1="1596.7" y1="1137.8" x2="1604.2" y2="1137.8" stroke="#1a1a1a" stroke-width="1.6" />
<line x1="1596.7" y1="1075.3" x2="1604.2" y2="1075.3" stroke="#1a1a1a" stroke-width="1.6" />
<line x1="1596.7" y1="1012.8" x2="1604.2" y2="1012.8" stroke="#1a1a1a" stroke-width="1.6" />
<line x1="1596.7" y1="950.3" x2="1604.2" y2="950.3" stroke="#1a1a1a" stroke-width="1.6" />
<line x1="1596.7" y1="1575.3" x2="1596.7" y2="1568.3" stroke="#1a1a1a" stroke-width="1.6" />
<line x1="1697.7" y1="1575.3" x2="1697.7" y2="1568.3" stroke="#1a1a1a" stroke-width="1.6" />
<line x1="1798.6" y1="1575.3" x2="1798.6" y2="1568.3" stroke="#1a1a1a" stroke-width="1.6" />
<text x="1596.7" y="1599.4" font-size="21" text-anchor="middle">0</text>
<text x="1697.7" y="1599.4" font-size="21" text-anchor="middle">0.5</text>
<text x="1798.6" y="1599.4" font-size="21" text-anchor="middle">1</text>
<text x="1698.2" y="1630.7" font-size="20.6" text-anchor="middle">Posterior Probability</text>
<rect x="1683" y="1448.9" width="18.7" height="7.4" fill="#000"/>
<text x="1705.9" y="1461.9" font-size="25">PRE</text>
<rect x="1683" y="1478.2" width="18.7" height="7.4" fill="#d8621e"/>
<text x="1705.9" y="1490.6" font-size="25">E1&amp;2&amp;3</text>
<rect x="1683" y="1507" width="18.7" height="7.4" fill="#3fab7b"/>
<text x="1705.9" y="1519.6" font-size="25">E4&amp;5&amp;6</text>
<text x="367.6" y="867.3" font-size="33" font-weight="bold">d</text>
<text x="1265.3" y="867.3" font-size="33" font-weight="bold">e</text>
<text x="557.4" y="848.2" font-size="29.3" text-anchor="middle">ACTUAL</text>
<text x="808.5" y="848.2" font-size="29.3" text-anchor="middle">DIRECT</text>
<text x="1071" y="848.2" font-size="29.3" text-anchor="middle">INDIRECT</text>
<text x="1447.2" y="848.9" font-size="29.3" text-anchor="middle">DISTANCE 2</text>
<text x="1701.8" y="848.9" font-size="29.3" text-anchor="middle">DISTANCE 3</text>
<text x="557" y="887.9" font-size="25" text-anchor="middle">E1&amp;2&amp;3: <tspan font-style="italic">P</tspan>&lt;0.0005</text>
<text x="557" y="918.4" font-size="25" text-anchor="middle">E4&amp;5&amp;6: <tspan font-style="italic">P</tspan>&lt;0.0005</text>
<text x="809" y="887.9" font-size="25" text-anchor="middle">E1&amp;2&amp;3: <tspan font-style="italic">P</tspan>=0.009</text>
<text x="809" y="918.4" font-size="25" text-anchor="middle">E4&amp;5&amp;6: <tspan font-style="italic">P</tspan>=0.022</text>
<text x="1071" y="887.9" font-size="25" text-anchor="middle">E1&amp;2&amp;3: <tspan font-style="italic">P</tspan>=0.474</text>
<text x="1071" y="918.4" font-size="25" text-anchor="middle">E4&amp;5&amp;6: <tspan font-style="italic">P</tspan>=0.152</text>
<text x="1447.2" y="887.2" font-size="25" text-anchor="middle">E1&amp;2&amp;3: <tspan font-style="italic">P</tspan>=0.058</text>
<text x="1447.2" y="917.8" font-size="25" text-anchor="middle">E4&amp;5&amp;6: <tspan font-style="italic">P</tspan>=0.074</text>
<text x="1701.4" y="887.2" font-size="25" text-anchor="middle">E1&amp;2&amp;3: <tspan font-style="italic">P</tspan>=0.029</text>
<text x="1701.1" y="917.8" font-size="25" text-anchor="middle">E4&amp;5&amp;6: <tspan font-style="italic">P</tspan>&lt;0.0005</text>
</svg></body></html>
